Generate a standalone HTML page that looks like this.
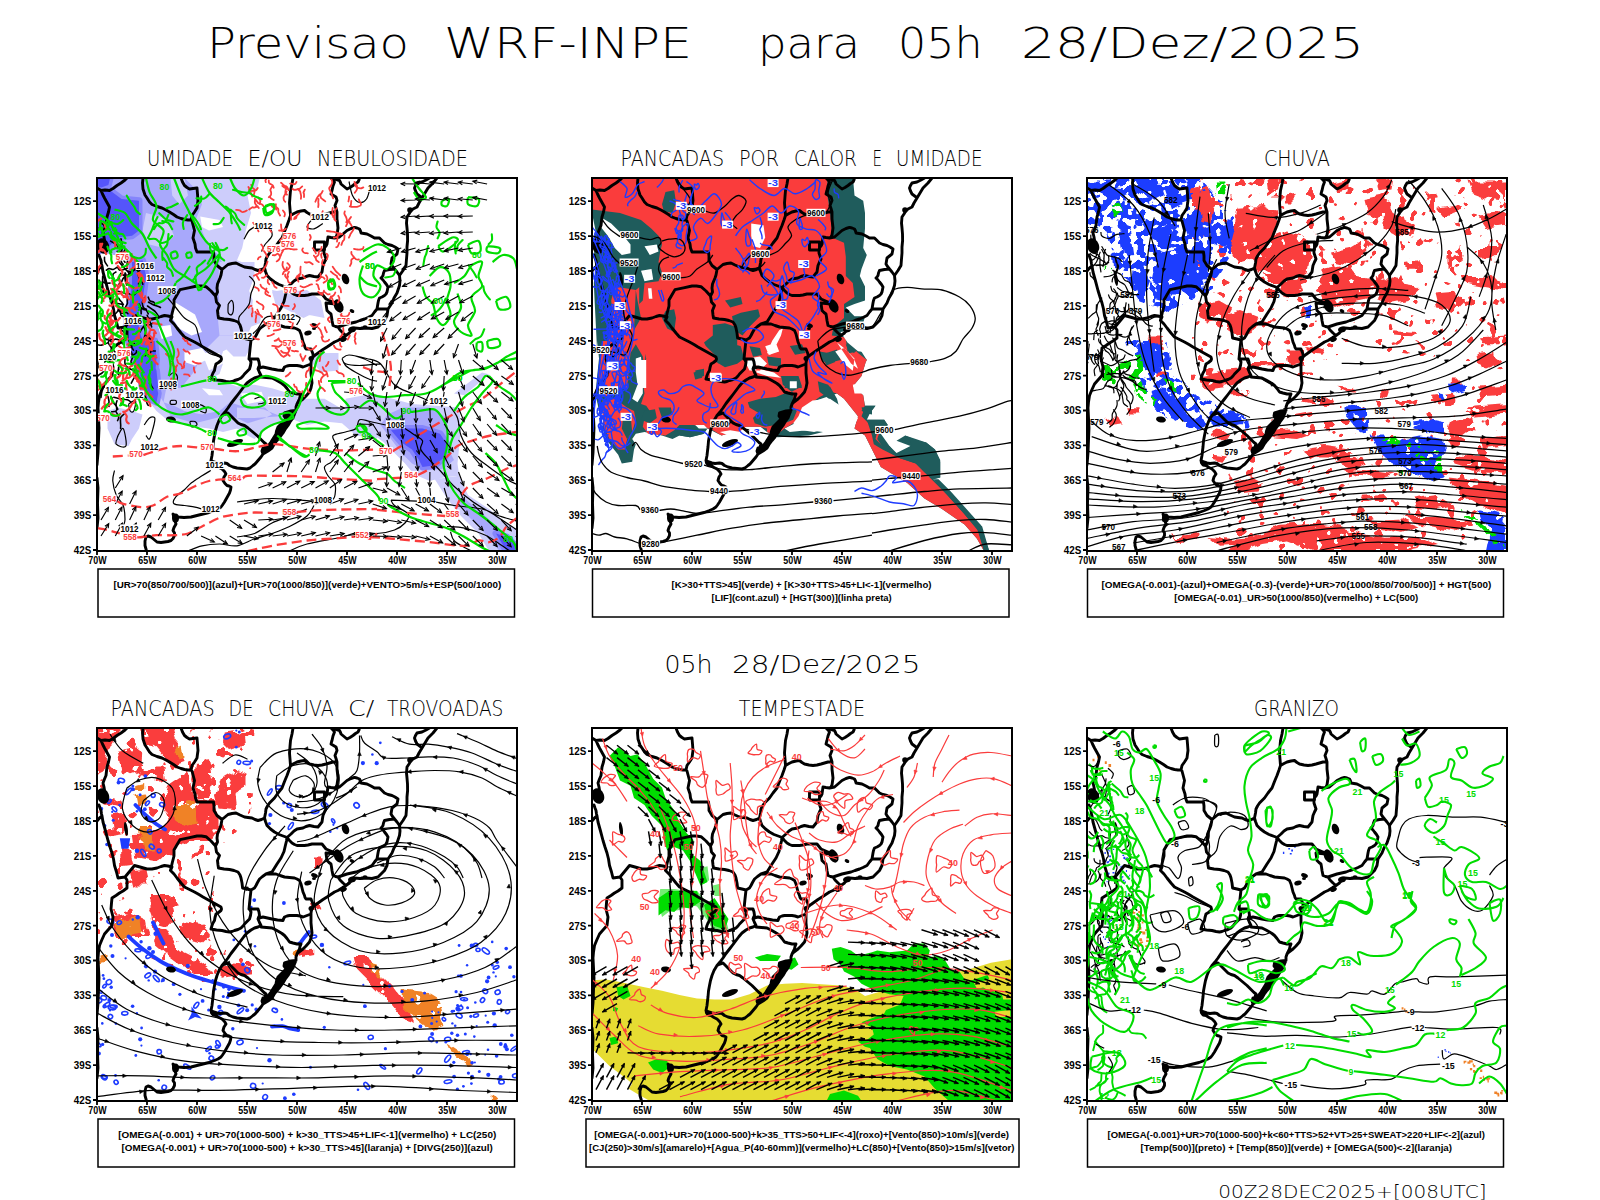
<!DOCTYPE html>
<html lang="pt"><head><meta charset="utf-8"><title>Previsao WRF-INPE</title>
<style>html,body{margin:0;padding:0;background:#fff}svg{display:block}.t{font-family:'DejaVu Sans Light','DejaVu Sans','Liberation Sans',sans-serif;font-weight:200;fill:#000}.b{font-family:'Liberation Sans','DejaVu Sans',sans-serif;font-weight:700;fill:#000}.tk{font-family:'Liberation Sans','DejaVu Sans',sans-serif;font-weight:700;font-size:11px;fill:#000}.lg{font-family:'Liberation Sans','DejaVu Sans',sans-serif;font-weight:700;font-size:9.6px;fill:#000}.cl{font-family:"Liberation Sans","DejaVu Sans",sans-serif;font-weight:700;font-size:8.8px;fill:#000}</style></head><body>
<svg width="1600" height="1200" viewBox="0 0 1600 1200">
<rect width="1600" height="1200" fill="#fff"/>
<defs><clipPath id="cp"><rect x="0" y="0" width="420" height="373"/></clipPath>
<g id="bm" fill="none" stroke="#000" stroke-width="2.9" stroke-linejoin="round" stroke-linecap="round"><path d="M340 0l-4 5-5 5-3 5-3 5-3 5-2 4-4 2-2 1.5-2 3.5-2 3-.5 6 .5 5 .5 6 .1 6.5-.6 6.5 0 6-.5 6-.5 6.5-3 5-3.5 5 .5 5.5-.5 4.5-1.5 4.5-1 3-3 5-2 5-4 6-1 6.5-2.5 5-3.5 3.5-3 3-6 1.5-6-.5-6 .5-5.5-.5-3.5 3-1.5 2-4.5 3-3 2-4 2.5-3.5 1.5-4.5 3-3 2-4 2.5-3.5 2.5-3.5 2.5-3 2.5-1.5 3-.5 3 0 5 0 5 .5 5 .5 5-1 5-1.5 4-3.5 4-3 3-4 3-2 2-1 3 0 3.5-1.5 3.5-1.5 4-3 4-2 3.5-3 4-2 3.5-3 4-3 3.5-3 4-2 3.5-4 3-5 3-2 3-3 3.5-3 3.5-2 1.5-3 2.5-3 1-5-.5-5-.5-4-1-3.5-1.5-2.5-2-2.5-.5-4.5 .5-3-.5-3-1-3-1.5 .5 2.5 1.5 2 3 .5 3 2 3 1.5 2.5 2.5 1.5 2.5-2 3-1 3.5 2 3 2 2 2 .5 2 1-.5 3-1 3-2.5 4.5-2.5 4.5-2 3-1.5 2-3 2-3.5 1.5-5.5 2-6 1.5-6 1.5-6 1.5-7 .5-6-.5-3-1-2-2 1 4 2 6-2 3.5-1 3 1.5 2.5 0 2.5-1.5 3-2 2-3 1-3.5 .5-3.5 .5-4-.5-3-2.5-3-2.5-3-1-2 1-1 4 0 4.5 1 3.5 1 4M199 232.5l-5 .5-6.5 2-.5 3 2 3-4 4-4 4-1.5 4-.5 3-2.5 4-2.5 4-3 4-2 2-3 3M164 197.5l-3 1.5-3.5 1-3.5 2-4 3-3 3.5-3 4-3 4-3.5 4.5-3.5 4.5-3 4.5-3 4-3 3.5-3 5-2 5-1.5 5-1 5-1 5.5-.5 6-.5 4-.5 4.5-.5 2.5-.5 2.5M125 237.5l3-1.5 3-1 2.5 2.5 2.5 2.5 2.5 2.5 2.5 2.5 3 1.5 3.5 1 3.5 2.5 3 2.5 3 2.5 3 2.5 2.5 2.5 2.5 2.5 2 2 2 1.5-1 3-2 1-1 3 1 3M152 181l4 0 5 0 1 3 .5 3.5-1 2-.5 1.5 1.5 3.5 1.5 3M121.5 140l5.5 1 5.5 .5 4.5 1 4 1.5 2 3 1 3 1 5 .6 5 4.4 1 4 1-.5 4.5-.5 4.5-.5 5-.5 5M114 201l5.5 1 5.5 .5 4 1 3.5 .5 2.5-.5 2.5-1 3.5-1 3-1.5 2-2 1.5-2 2.5-2.5 2.5-2.5 1-3.5 .5-3.5-1-2-1-1M73.5 142.4l3.5 3.6 3 4 4 5 3.5 4 5 2.5 5 2.5 4.5 2.5 4 2.5 4.5 2.5 4.5 2.5 4.5 2.5 4.5 2.5 .5 2-.5 1.5-2.5 2-2.5 1.5-1 3.5-.5 3-1.5 2.5-1 2.5-1 3.5M118.5 118l-4.5-5-5-4.3-4.5-.7-4.5 0-8.5 1.8-8.5 1.8-3 5.2-3 5.2 0 6-1.8 7-1.7 7.4M30 0l-2 2-4 3-4 2.5-4 3-3.5 2-4.5-.5-4 .5-4-2.5M46 0l-.5 5 .5 6 2 6 2 3 2.5 4 2.5 2.5 5 2 5 1.5 4 2 3.5 2 4 2.5 3.5 2.5 4 1.5 3.5 1 3.5 .5 3 0 1 1 2.5 9.5-1.5 7.5 2 6 .5 4 1.5 4 8 0 8.5 0 .5 4 0 4.5 3 5 5 4-1 5.5-1 3-2.5 6-.5 4 .5 4-2 4 1 6 3 3.5-2 5 .5 4.5 .5 3M84 0l1.5 4 2 3.5 2.5 2 2.5 1.5 3.5-.5 4-.5 .5 6 .5 6.5-.5 3.5-.5 4-2.5 4-2.5 3.5-1 4.5M4 12.5l1.5 3.5 2 4 2.5 4.5 2.5 4.5-1 5-1.5 5-.5 4-.5 4.5-1.5 3.5-1.5 4 1 4 .5 3.5-2.5 2-2.5 1.5M2 77l1 3 1 2.5 .5 3.5 .5 2 .5 3 .5 3 2.5 9 2.5 9.5 2 6.5 2 6 1.5 6 1 6.5 2 6.5 1.5 6 7-1M5 88l-2.5 2-2.5 3M28 149l2 3 0 8-4 3-3.5 2-3.5 2.5-4 2.5-.5 5-.5 6 1 4 1 4-.5 4-.5 4.5-4 4.5-3.5 4-2.5 5.5-2.5 6-1 6.5-.5 6 .5 10 .5 10-.5 12-.5 13-.5 6-.5 6M0 300l1 10-.5 15 .5 15-1 10M28 149l5-6 4.5-5.5 5.5 1.5 7 2 5 0 5-1 4-1.5 3.5-1 3.5 .5 4 1-1.5 3.4M125 91.5l3-2.5 3-2.5 4-1 4-.5 4 2 4.5 2 3.5 .5 4 .5 3 1.5 3 1 3.5-1 3-1.5M167.5 90l1 3.5 1.5 4 3.5 3.5 4 3 4.5 2.5 5.5 2 2.5 1M167.5 90l1-5 .5-4 1.5-3 2-3 2.5-2.5 2.5-2.5 3.5-5 4-5 2.5-6.5 2.5-6 2-5.5 1.5-4.5-.5-6.5-.5-6 .5-6.5 .5-6 1.5-6.5 1-6M190 109.5l-.5 3.5-1 4-1.5 6.5-3 6.5-4 6-2.5 4-2.5 4-3 1-3 1-3.5 2.5-3 2.5-2 3.5-1.5 3-1.5 2.5-3.5 2M190 109.5l4-3.5 3-3 3-2 3-.5 3-.5 3-1.5 3.5-1 4.5 1 4 .5 2-2.5 2-2.5 .5-3.5 .5-3 1.5-3.5 1.5-3-1-3-1-3 0-2.5 .5-2.5 1.5-2 1-2 .5-3.5 .5-3.5 3 .5 3.5 .5M190 109.5l2 2.5 3 3 2.5 1.5 2.5 1 4 0 3.5 0 3.5-.5 4-1 5 0 5 0 2 2.5 2 2.5 3.5 1.5 3.5 1.5 3 2-5-.5-5-.5 .5 4 .5 3.5 2 2 2 1.5 .5 3 .5 3.5 .5 2.5 .5 2.5 2.5 1 2.5 .5M241 149l4.5-1.5 4.5-1.5 4.5-1 4.5-1 4-1.5 4.5-1.5 3.5-1.5 4-2 2.5-3.5 2.5-3M241 149l2 3 3 3 3 2.5 3.5-2.5M297.5 91l-5 .5-5 1-1 2.5-.5 2.5-1 1.5-1 1 2 2 1.5 2 2 2.5 1.5 2.5-.5 2.5-.5 2.5-1 2-1.5 1.5-2.5 1.5-2.5 1-1 2.5-.5 2.5-.5 3-.5 3 3.5 0 4 0 3.5 0M237.5 60l2.5-.5 2.5-.5 3.5-3 4-3.5 4-2 3.5-1.1 2.5 .6 2.5 1 1 2 .5 2 3 .5 3 .5 4 2 3.5 2 2.5 0 2.5 0 2.5 2.5 2.5 2.5 3.5 1.5 4 1 3 1.5 3 2-.5 2.5-.5 2.5-2.5 2-2.5 2-.5 3-.5 3 1.5 2.5 2 2.5 2.5 3 2.5 3.5M237.5 60l1.5-1 1-2 .5-3.5 .5-3.5-.5-4.5-.5-4.5 0-3.5 0-3.5-1-3.5-1-3 1-2.5 1-2.5-.5-2-.5-1.5-2.5-1.5-2.5-1.5 .5-2 .5-1.5 1-4.5 1.5-4-1.5-2-2-2M234 0l4 1 4.5 1.5 1 2 .5 1.5 3 2.5 3 2.5 3-1.5 3-2 2.5-2 2.5-1.5 1-2 .5-2M193.5 37.5l3.5-2 3-1.5 4-1 3.5-.5 2.5 2 2.5 1.5 4.5 1 4 .5 4-.5 4-1 3.5-1 3.5-1 4 0M332.5 0l-3.5 2-4 2-2.5 .5-2.5 .5-1.5 2.5-1 2.5 1 3 1.5 3 2 1.5 2 1.5M169 146l5 0 5 0 4 1.5 4.5 1.5 5 .5 5 .5 2.5 1 2.5 1.5 1.5 3.5 1 4 1 4 1.5 3.5 .5 2 1 1.5 2.5 0 2.5 0 1 2.5 1 2.5 0 3M214 186l-4 1.5-4 1.5-3-1-3-.5-4 0-3.5 0-2.5 .5-2.5 1-1 2-.5 1.5-5.5-.5-5.5-1-4.5-1-4.5-1-2 .5-1.5 .5M164 199l5.5 .5 5.5 .5 4 2 3.5 2 2.5 1.5 2.5 2 2.5 3 2.5 3.5 3.5 1 4 1 2 0 2 0-1 2.5-.5 2.5-2.5 5M217.5 64l10 0 0 8-10 0z"/><path d="M199 232.5l-1.5 3.5-1.5 4-3 4-2 3.5-3 4-2 3.5-3 4-3 3.5-3 4-2 3.5-4 3-5 3 0-3 3-3 2-2 3-4 2.5-4 2.5-4 .5-3 1.5-4 4-4 4-4-2-3 .5-3 6.5-2z" fill="#000" stroke="none"/><ellipse cx="6" cy="68" rx="6" ry="8" fill="#000" stroke="none" transform="rotate(-20 6 68)"/><ellipse cx="29" cy="101" rx="1.8" ry="7" fill="#000" stroke="none" transform="rotate(-8 29 101)"/><ellipse cx="74" cy="241.5" rx="5" ry="3" fill="#000" stroke="none" transform="rotate(10 74 241.5)"/><ellipse cx="138" cy="265" rx="8.5" ry="3" fill="#000" stroke="none" transform="rotate(-20 138 265)"/><ellipse cx="248.5" cy="101" rx="3.5" ry="5.5" fill="#000" stroke="none" transform="rotate(-20 248.5 101)"/><ellipse cx="241.5" cy="128" rx="4.5" ry="7" fill="#000" stroke="none" transform="rotate(-25 241.5 128)"/><ellipse cx="255" cy="133" rx="2.5" ry="1.8" fill="#000" stroke="none" transform="rotate(30 255 133)"/><ellipse cx="217.5" cy="147.5" rx="3.5" ry="2.2" fill="#000" stroke="none" transform="rotate(20 217.5 147.5)"/><ellipse cx="211" cy="155" rx="3.8" ry="2.4" fill="#000" stroke="none" transform="rotate(-15 211 155)"/><ellipse cx="255" cy="151.5" rx="4" ry="3" fill="#000" stroke="none" transform="rotate(-20 255 151.5)"/><ellipse cx="268" cy="149" rx="2.5" ry="1.8" fill="#000" stroke="none" transform="rotate(0 268 149)"/><ellipse cx="246.5" cy="161.5" rx="3.5" ry="2.2" fill="#000" stroke="none" transform="rotate(-25 246.5 161.5)"/><ellipse cx="214" cy="180.5" rx="2.5" ry="2.5" fill="#000" stroke="none" transform="rotate(0 214 180.5)"/><ellipse cx="78.5" cy="340" rx="3.5" ry="4.5" fill="#000" stroke="none" transform="rotate(0 78.5 340)"/><ellipse cx="313" cy="32" rx="2.8" ry="2.8" fill="#000" stroke="none" transform="rotate(0 313 32)"/><ellipse cx="217" cy="150.5" rx="2" ry="1.5" fill="#000" stroke="none" transform="rotate(0 217 150.5)"/><ellipse cx="265" cy="150" rx="2" ry="1.5" fill="#000" stroke="none" transform="rotate(0 265 150)"/></g>
<filter id="fd" x="0" y="0" width="420" height="373" filterUnits="userSpaceOnUse"><feTurbulence type="fractalNoise" baseFrequency="0.07" numOctaves="2" seed="4" result="w"/><feDisplacementMap in="SourceGraphic" in2="w" scale="10" xChannelSelector="R" yChannelSelector="G" result="g"/><feTurbulence type="fractalNoise" baseFrequency="0.11" numOctaves="2" seed="5" result="n"/><feColorMatrix in="n" type="matrix" values="0 0 0 0 0 0 0 0 0 0 0 0 0 0 0 -40 0 0 0 28.3" result="m"/><feComposite in="g" in2="m" operator="in"/></filter>
<filter id="fm" x="0" y="0" width="420" height="373" filterUnits="userSpaceOnUse"><feTurbulence type="fractalNoise" baseFrequency="0.07" numOctaves="2" seed="6" result="w"/><feDisplacementMap in="SourceGraphic" in2="w" scale="9" xChannelSelector="R" yChannelSelector="G" result="g"/><feTurbulence type="fractalNoise" baseFrequency="0.12" numOctaves="2" seed="8" result="n"/><feColorMatrix in="n" type="matrix" values="0 0 0 0 0 0 0 0 0 0 0 0 0 0 0 -40 0 0 0 20.5" result="m"/><feComposite in="g" in2="m" operator="in"/></filter>
<filter id="fs" x="0" y="0" width="420" height="373" filterUnits="userSpaceOnUse"><feTurbulence type="fractalNoise" baseFrequency="0.07" numOctaves="2" seed="7" result="w"/><feDisplacementMap in="SourceGraphic" in2="w" scale="4" xChannelSelector="R" yChannelSelector="G" result="g"/><feTurbulence type="fractalNoise" baseFrequency="0.10" numOctaves="2" seed="9" result="n"/><feColorMatrix in="n" type="matrix" values="0 0 0 0 0 0 0 0 0 0 0 0 0 0 0 -40 0 0 0 13.8" result="m"/><feComposite in="g" in2="m" operator="in"/></filter>
</defs>
<text x="207" y="57.5" class="t" font-size="42" textLength="202" lengthAdjust="spacingAndGlyphs">Previsao</text>
<text x="444" y="57.5" class="t" font-size="42" textLength="248" lengthAdjust="spacingAndGlyphs">WRF-INPE</text>
<text x="758" y="57.5" class="t" font-size="42" textLength="102" lengthAdjust="spacingAndGlyphs">para</text>
<text x="898" y="57.5" class="t" font-size="42" textLength="84.5" lengthAdjust="spacingAndGlyphs">05h</text>
<text x="1021" y="57.5" class="t" font-size="42" textLength="343" lengthAdjust="spacingAndGlyphs">28/Dez/2025</text>
<text x="664.5" y="672.5" class="t" font-size="24" textLength="48" lengthAdjust="spacingAndGlyphs">05h</text>
<text x="732" y="672.5" class="t" font-size="24" textLength="188.5" lengthAdjust="spacingAndGlyphs">28/Dez/2025</text>
<text x="1218.3" y="1197.5" class="t" font-size="17.6" textLength="268.2" lengthAdjust="spacingAndGlyphs">00Z28DEC2025+[008UTC]</text>
<text x="147" y="166.3" class="t" font-size="20.6" textLength="86" lengthAdjust="spacingAndGlyphs">UMIDADE</text>
<text x="247.5" y="166.3" class="t" font-size="20.6" textLength="55" lengthAdjust="spacingAndGlyphs">E/OU</text>
<text x="317" y="166.3" class="t" font-size="20.6" textLength="151" lengthAdjust="spacingAndGlyphs">NEBULOSIDADE</text>
<g transform="translate(97,178)">
<g clip-path="url(#cp)">
<path d="M0 0l162.8 0-5.3 17.5-3.5 17.5-5.2 17.5-3.6 17.5-5.2 12.2 14 5.3 3.5 10.5-5.3 14-1.7 10.5 3.5 10.5 10.5 3.5-1.7 8.7-8.8 3.6-3.5 8.7 3.5 10.5-5.2 10.5-12.3 0-7-7-7 3.5 3.5 10.5-3.5 10.5-10.5 5.2-7 8.8-59.5 0-3.5-17.5-7-17.5-5.2-17.5 0-17.5 3.4-17.5 1.8-17.5 0-21-17.5-7-17.5-3.5zM192.5 113.8l17.5-1.8 14 10.5 3.5 17.5-17.5-3.5-10.5-7zM175 113.8l10.5-1.8 3.5 10.5-10.5 3.5zM217 175l24.5 0 0 17.5-17.5 1.7-7-8.7zM57.8 163l64.7 0 3.5 10.5-3.5 10.5-10.5 5.2-7 8.8 17.5 3.5 17.5 7 17.5-1.7 17.5 3.4 17.5 5.3 14 5.3 21 0 21 12.2 24.5 10.5 7 1.7 0 15.8-21-3.5-14-12.3-17.5-1.7-17.5 3.5-17.5-7-10.5 5.2-14 5.3-10.5 10.5-7-3.5-10.5-7-14 3.5-14-3.5-14-1.7-14-3.6-14-3.4-10.5-8.8-7-8.8-7-17.4-1.7-26.3 1.7-17.5zM10.5 233l10.5-3.5 14 3.5 10.5 3.5-3.5 14-7 10.5-3.5 7-14-1.8-7-15.7zM248.5 220.8l28-5.3 38.5 10.5 47.2 3.5 1.8 21-3.5 35 1.7 12.3-15.7 1.7-14 3.5-15.7-7-8.8-10.5-10.5-10.5-10.5-10.5-14-10.5-10.5-8.8-14-12.2zM337.8 301.2l24.4-3.4 8.8 19.2 21 14 17.5 14 10.5 7 0 21-28 0-10.5-17.5-17.5-17.5-14-17.5zM357 215.5l28-21 7 1.7-24.5 21zM217 177l14 1.8 7 12.2-14 3.5-7-8.7zM140 220.8l17.5 1.7 17.5 3.5 17.5 10.5-8.7 7-17.6-1.7-17.4 3.4-8.8 0zM140 0l22.8 0-5.3 21-7 14-5.3 22.8-5.2 12.2zM140 98l10.5 10.5 5.3 14-1.8 17.5-7 10.5-7 7zM175 112l17.5 3.5 10.5 7 10.5 14-7 3.5-14-7-14-7zM217 178.5l14 3.5 7 10.5-14 0-8.8-7z" fill="#cdcdfb"/><path d="M0 0l87.5 0 10.5 10.5 7 15.7-7 17.6 7 8.7 7 17.5 10.5 7 3.5 10.5-3.5 10.5-1.7 10.5 1.7 14-1.7 17.5 12.2 1.8 8.8 7-1.8 8.7-17.5 0-10.5 10.5-7 7-7 17.5-14 17.5-22.8 0-1.7-17.5-7-17.5-8.7-17.5-3.6-17.5 5.3-17.5 3.5-24.5-3.5-15.8-10.5 1.8-17.5-7-17.5-3.5zM57.8 163l17.4 0 1.8 14-7 29.8-3.5 17.4 7 14 24.5 7 21-5.2 14-3.5 17.5 8.7 17.5-5.2 7-3.5-7-7-19.2 0-15.8-5.3-10.5 8.8-17.5 3.5-17.5-3.5-10.5-5.2-10.5-3.6-5.3-8.7-1.7-17.5zM290.5 236.5l15.7-7 26.3 0 17.5 10.5 0 28 7 14-10.5 8.8-17.5 1.7-14-7-10.5-10.5-10.5-14-10.5-14zM360.5 320.5l7 0 21 17.5 17.5 17.5 10.5 17.5-14 0-17.5-21-17.5-17.5zM140 229.5l26.2 1.7 17.6 7-26.3 1.8-17.5 0z" fill="#a8a8fb"/><path d="M73.5 0l14 0 3.5 17.5-8.8 8.7-7-8.7zM49 35l21 5.2 7 17.6-10.5 12.2-14-3.5-7-14zM122.5 84l35 0 0 14-5.3 14-1.7 10.5 3.5 10.5-3.5 15.8-10.5 8.7-17.5 0-1.7-17.5 1.7-17.5-1.7-14z" fill="#cdcdfb"/><path d="M0 14l10.5-3.5 14 10.5 17.5 1.8 0 29.7-7 5.3-14 1.7-10.5 10.5-10.5 3.5zM0 0l13.1 0-1.7 7-7 2.6-4.4-.8zM35 84l10.5-1.8 3.5 15.8-3.5 24.5-5.3 17.5 3.6 17.5 8.7 17.5 7 17.5 1.7 17.5-15.7 0-3.5-17.5-7-17.5-5.2-17.5 0-17.5 3.4-17.5 1.8-17.5zM45.5 163l12.3 0 1.7 17.5-1.7 17.5 3.4 17.5-1.7 8.7-7-3.4-5.3-14-3.4-17.6zM294 252.2l14-1.7 17.5 0 17.5 5.3 7 10.4-1.8 12.3-10.4 8.7-12.3 1.8-3.5-7-7-10.5-10.5-7zM399 355.5l10.5 3.5 10.5 10.5 0 3.5-10.5 0z" fill="#8585fb" stroke="#8585fb" stroke-width="7" stroke-linejoin="round"/><path d="M0 14l10.5-3.5 14 10.5 17.5 1.8 0 29.7-7 5.3-14 1.7-10.5 10.5-10.5 3.5zM0 0l13.1 0-1.7 7-7 2.6-4.4-.8zM35 84l10.5-1.8 3.5 15.8-3.5 24.5-5.3 17.5 3.6 17.5 8.7 17.5 7 17.5 1.7 17.5-15.7 0-3.5-17.5-7-17.5-5.2-17.5 0-17.5 3.4-17.5 1.8-17.5zM45.5 163l12.3 0 1.7 17.5-1.7 17.5 3.4 17.5-1.7 8.7-7-3.4-5.3-14-3.4-17.6zM294 252.2l14-1.7 17.5 0 17.5 5.3 7 10.4-1.8 12.3-10.4 8.7-12.3 1.8-3.5-7-7-10.5-10.5-7zM399 355.5l10.5 3.5 10.5 10.5 0 3.5-10.5 0z" fill="#5555fa"/><path d="M75.2 122.5l22.8 14 7 17.5-10.5 3.5-12.3-7-7-10.5zM105 175l17.5 0 3.5 10.5-14 7zM103.2 38.5l19.3 3.5 3.5 7-14 3.5-7-3.5zM61.2 148.8l12.3-1.8 1.7 10.5-10.4 3.5zM150.5 17.5l12.3-7 0 17.5-8.8 7zM105 210.2l17.5 1.8 3.5 5.2-14 0zM143.5 215.5l21-1.7 3.5 8.7-17.5 3.5zM192.5 201.5l10.5 3.5-3.5 10.5-8.7-1.7zM87.5 173.5l17.5-3.5 7 10.5-14 7-10.5-3.5z" fill="#fff"/><use href="#bm"/><path d="M17.5 292.5c-.3 1.7-2 6.4-1.7 10.5 .3 4.1 1.7 9.9 3.4 14 1.7 4.1 5.5 6.4 7 10.5 1.5 4.1 1.8 10.5 1.8 14 0 3.5-1.5 5.8-1.8 7M113.8 292.5c-1.5 .9-5.6 3.3-8.8 5.3-3.2 2.1-7.6 4.7-10.5 7-2.9 2.3-4.4 4.7-7 7-2.6 2.3-7 4.7-8.7 7-1.8 2.3-3.3 5.6-1.8 7 1.5 1.4 7 1.1 10.5 1.7 3.5 .6 7.6 1.1 10.5 1.7 2.9 .6 5.8 1.5 7 1.8M140 324c5.8-.6 22.5-3.4 35-3.5 12.5-.1 33.5 2.2 40.2 2.6M236.2 321.4c.3-.7 1.5-1.9 1.8-4.4 .3-2.5 1.2-7.3 0-10.5-1.2-3.2-5.2-5.8-7-8.7-1.8-2.9-4.1-6.5-3.5-8.8 .6-2.3 4.7-2.9 7-5.2 2.3-2.3 6.4-5.6 7-8.8 .6-3.2-2.6-7.6-3.5-10.5-.9-2.9-3.6-5.3-1.8-7 1.7-1.7 8.5-2.3 12.3-3.5 3.8-1.2 8.2-1.5 10.5-3.5 2.3-2 1.2-7.5 3.5-8.7 2.3-1.2 6.1 .8 10.5 1.7 4.4 .9 13.2 2.9 15.8 3.5M308 250.5c1.8 1.2 7.6 4.9 10.5 7 2.9 2.1 6.1 3 7 5.3 .9 2.3-2.9 5.5-1.7 8.7 1.2 3.2 5.5 7 8.7 10.5 3.2 3.5 6.4 6.1 10.5 10.5 4.1 4.4 8.5 10.4 14 15.7 5.5 5.2 12.2 10.8 19.2 15.8 7 5 15.5 9.3 22.8 14 7.3 4.7 17.5 11.7 21 14M245 180.5c1.2-.6 2.9-3.5 7-3.5 4.1 0 12.2 2 17.5 3.5 5.3 1.5 9.3 .9 14 5.3 4.7 4.4 8.7 16.1 14 21 5.3 5 11.9 6.1 17.5 8.7 5.6 2.6 13.2 5.8 15.8 7M245 180.5c.6 .9 .6 4.1 3.5 5.3 2.9 1.2 8.2 1.7 14 1.7 5.8 0 17.5-1.4 21-1.7M352.6 227.8c1.3 2 6 7.3 7.9 12.2 1.9 4.9 1.2 11.7 3.5 17.5 2.3 5.8 5.8 12.3 10.5 17.5 4.7 5.2 11.7 9.6 17.5 14 5.8 4.4 12.8 9.3 17.5 12.2 4.7 2.9 8.7 4.4 10.5 5.3M294 322.2l26.2 .9M338.6 324c3.1 .6 10.7 2.3 18.4 3.5 7.7 1.2 20.4 1.7 28 3.5 7.6 1.8 11.7 5 17.5 7 5.8 2 14.6 4.3 17.5 5.2M294 322.2c.6 .9 .6 3 3.5 5.3 2.9 2.3 12.3 5.8 14 8.7 1.7 2.9-1.2 6.2-3.5 8.8-2.3 2.6-5.8 5.2-10.5 7-4.7 1.8-11.7 3.2-17.5 3.5-5.8 .3-11.7-2.3-17.5-1.7-5.8 .6-8.7 3.2-17.5 5.2-8.8 2-26.2 4.7-35 7-8.8 2.3-14.6 5.8-17.5 7M140 359c2.9-.6 11.7-1.2 17.5-3.5 5.8-2.3 11.7-7.6 17.5-10.5 5.8-2.9 11.7-4.7 17.5-7 5.8-2.3 14.6-5.8 17.5-7M91 373c2.3-.9 8.8-4 14-5.2 5.2-1.2 11.7-1.8 17.5-1.8 5.8 0 11.7 2.7 17.5 1.8 5.8-.9 11.7-4.9 17.5-7 5.8-2 11.7-3.2 17.5-5.3 5.8-2.1 11.7-4.1 17.5-7 5.8-2.9 13.4-7 17.5-10.5 4.1-3.5 5.8-8.8 7-10.5M353.5 353.8c.6 1.4 1.2 6.1 3.5 8.7 2.3 2.6 7.6 5.3 10.5 7 2.9 1.7 5.8 2.9 7 3.5M350 348.5c2.9 .3 11.1 .3 17.5 1.7 6.4 1.4 15.2 4.4 21 7 5.8 2.6 9.9 6.2 14 8.8 4.1 2.6 8.7 5.8 10.5 7M147 61.2c.9-1.4 2.9-6.4 5.2-8.7 2.3-2.3 7.3-4.4 8.8-5.3M173.2 49c.3 1.5 2.7 5.9 1.8 8.8-.9 2.9-5.2 6.1-7 8.7-1.8 2.6-2.9 5.8-3.5 7M214.4 42c-.7 1.2-4.8 5.5-4.4 7 .4 1.5 4.4 2.4 7 1.8 2.6-.6 7.3-4.4 8.8-5.3M252 3.5c.6 2.3 1.8 10.5 3.5 14 1.7 3.5 4.7 6.4 7 7 2.3 .6 5.3-1.2 7-3.5 1.7-2.3 2.9-8.8 3.5-10.5M152.2 98c.9 1.2 5 4.1 5.3 7 .3 2.9-2.6 7-3.5 10.5-.9 3.5-.6 7.6-1.8 10.5-1.2 2.9-3.5 4.7-5.2 7-1.7 2.3-4.6 4.1-5.2 7-.6 2.9 1.1 7.9 1.7 10.5 .6 2.6 1.4 4.4 1.7 5.3M155.8 155.8c.9-.9 3.2-2.7 5.2-5.3 2-2.6 4.7-8.4 7-10.5 2.3-2.1 5-1.8 7-1.8 2 0 4.3 1.5 5.2 1.8M196 136.5c1.2 .6 6.4 1.7 7 3.5 .6 1.8-2.9 5.8-3.5 7M70 119c1.5 1.8 5.9 7 8.8 10.5 2.9 3.5 5.5 7.6 8.7 10.5 3.2 2.9 8.2 4.1 10.5 7 2.3 2.9 2.3 7 3.5 10.5 1.2 3.5 1.7 7.6 3.5 10.5 1.8 2.9 4.1 5.2 7 7 2.9 1.8 8.8 2.9 10.5 3.5M131.2 126c.6-.6 2.7-4.1 3.6-3.5 .9 .6 1.7 4.7 1.7 7 0 2.3-.8 6.1-1.7 7-.9 .9-3 .1-3.6-1.7-.6-1.7 0-7.3 0-8.8M245 180.5c1.2-.6 3.5-3.5 7-3.5 3.5 0 9.3 1.8 14 3.5 4.7 1.7 11.7 5.8 14 7M245 180.5c.6 1.2 1.2 4.7 3.5 7 2.3 2.3 6.4 4.7 10.5 7 4.1 2.3 10.5 5.6 14 7 3.5 1.4 5.8 1.4 7 1.7M31.5 226c1.2-.6 6.1-4.7 7-3.5 .9 1.2-.8 8.7-1.7 10.5-.9 1.8-2.7 1.2-3.6 0-.9-1.2-1.4-5.8-1.7-7M21 257.5c.9-1.2 3.9-8.7 5.2-7 1.3 1.7 3.9 14.9 2.7 17.5-1.2 2.6-8.4-.1-9.7-1.8-1.3-1.8 1.5-7.3 1.8-8.7M47.2 247c.9-1.2 3.5-5.8 5.3-7 1.8-1.2 4.7-1.8 5.3 0 .6 1.8-.9 7-1.8 10.5-.9 3.5-2.3 9.3-3.5 10.5-1.2 1.2-2.9-2.9-3.5-3.5M71.8 198c.9-.6 3.7-3.8 5.2-3.5 1.5 .3 3.5 3 3.5 5.3 0 2.3-2.3 7.5-3.5 8.7-1.2 1.2-2.9-1.4-3.5-1.7M101.5 226c1.2 .6 5.8 2 7 3.5 1.2 1.5 .9 4.7 0 5.3-.9 .6-4.4-1.5-5.3-1.8M157.5 220.8c1.2-.3 5.3-2.4 7-1.8 1.7 .6 4.1 4 3.5 5.2-.6 1.2-5.8 1.5-7 1.8M92.8 243.5c.9 0 4-.6 5.2 0 1.2 .6 2.4 2.6 1.8 3.5-.6 .9-4.1 2.4-5.3 1.8-1.2-.6-1.4-4.4-1.7-5.3M73.5 222.5c.9 0 4.4-.6 5.3 0 .9 .6 .9 2.9 0 3.5-.9 .6-4.4 .6-5.3 0-.9-.6 0-2.9 0-3.5" fill="none" stroke="#000" stroke-width="1.2"/><path d="M185.9 32.4c.3 .5 1.8 2 2 3 .3 1-.4 2.4-.5 2.9M173.1 18.5c.1 .3 0 1 .6 1.6 .6 .6 2.5 1.6 3 1.9M174.1 134.9c.1 .5 .6 2.1 .8 2.9 .2 .8 .2 1.4 .3 2 .1 .6 .3 .9 .5 1.7 .2 .8 .4 2.4 .5 2.9M213.6 146.6c.4 .3 1.4 1.8 2.3 2.1 .9 .3 2.2 0 2.9-.2 .7-.2 .7-.5 1.3-1 .6-.5 2-1.7 2.4-2.1M184.8 125.9c.2 .3 .5 1.3 1.3 1.6 .8 .3 2.5 .3 3.5 .4 1 .1 1.8 .2 2.2 .2M188.2 96.5c0 .3-.3 1.1 .1 1.8 .4 .7 1.8 2.2 2.2 2.6M205.2 8.4c-.4 .3-1.5 1.5-2.2 2-.7 .5-1.3 .5-2.1 .8-.8 .2-2 .7-2.9 .7-.9 0-2.1-.7-2.5-.9M225.7 13c-.3 .4-.9 1.9-1.5 2.6-.6 .7-1.4 .8-2.1 1.5-.7 .8-1.6 1.9-2.2 3-.6 1.1-1.2 3-1.5 3.6M219.5 106.1c.2 .2 1.1 .5 1.4 1.1 .3 .6 .4 1.7 .6 2.4 .2 .7 .5 1.4 .6 1.7M212.3 189.9c-.1 .4-.1 1.6-.5 2.2-.4 .6-1.4 .5-1.9 1.4-.5 .9-1 2.9-1.1 3.8-.1 .9 .3 1.6 .4 1.9M175.3 104.3c.2 .3 .8 1.1 1.2 1.8 .4 .7 .6 2 1.1 2.6 .5 .6 1.7 1 2 1.2M224.6 159.1c.2 .6 .5 2.6 1.1 3.3 .5 .8 1.3 1.1 2.2 1.2 .9 .1 2.3-.4 3-.7 .7-.3 1-1 1.2-1.2M167 73.1c.3 .4 1.1 1.4 1.7 2.4 .5 1 1.3 2.9 1.6 3.5M156.2 44.7c.2 .3 .6 1.5 1.1 1.9 .6 .4 1.6 .1 2.2 .8 .6 .7 .8 2.5 1.1 3.5 .3 1 .7 2.1 .9 2.5M158 22c0 .4-.3 1.8-.1 2.7 .2 .9 .6 1.5 1.3 2.4 .6 .9 2.2 2.4 2.6 2.9M228.7 196.5c-.5 .4-2.4 1.5-3.2 2.4-.8 .9-1.4 1.9-1.6 2.8-.2 .9 .2 2 .3 2.4M238.3 114.5c-.2 .5-.8 1.9-1.5 2.7-.7 .8-2.2 1.3-2.9 1.9-.7 .6-.8 1.4-1 1.7M194.9 172.7c.4 .1 1.6 .5 2.3 .6 .6 .1 1-.3 1.6-.3 .6 0 1.8 .3 2.1 .4M173.8 48.8c-.2 .4-1.1 1.6-1 2.5 .1 .8 1.3 2.2 1.5 2.6M254.4 74c0 .3-.2 1.1 .1 1.8 .3 .7 1.2 1.7 1.9 2.6 .7 .9 1.6 2.3 2.5 2.8 .9 .5 2.5 .3 3 .3M258.7 155.2c-.2 .6-1 2.8-1.1 3.7 0 .9 .8 1.2 .8 1.8 0 .6-.8 1-.7 1.8 .1 .8 .9 2.7 1.1 3.3M224.9 75.3c-.1 .2-.8 .6-.8 1.4 0 .8 .5 2.7 .6 3.2M235.7 29.9c-.1 .6-.4 2.7-.3 3.6 .1 .9 .5 1.7 .6 2M176.1 126.1c.6 .2 2.6 .6 3.4 1.3 .8 .7 1.3 2 1.5 3 .2 1-.2 2.6-.2 3.1M208.5 177.8c-.2 .4-1.1 1.9-1.4 2.5-.3 .7-.5 1.2-.6 1.4M169.4 .8c-.2 .3-.9 1-1 1.6-.1 .6 .3 1.5 .4 1.8M227.8 114.1c.5 .4 2.1 2 2.9 2.3 .8 .3 1.7-.3 2-.3M159.4 97.2c.2 .4 1 1.5 1.4 2.3 .4 .8 1.1 2 1.3 2.4M229 97.3c.2 .4 1.2 1.5 1.3 2.4 .1 .9 .1 2-.5 2.8-.6 .8-2.7 1.8-3.2 2.2M252.5 43.6c.1 .3 .2 1.2 .4 1.7 .3 .5 .8 .8 1.1 1.3 .3 .5 .6 1.3 .7 1.5M239.7 192.9c.4 .3 1.5 1.7 2.2 2.1 .7 .4 1.5 0 2.2 .3 .7 .3 1.8 .9 2.2 1.4 .5 .5 .4 1.4 .5 1.7M167 143.6c.2 .4 .6 1.7 1.1 2.3 .5 .6 1.5 .7 2 1.3 .5 .6 .9 1.4 1.2 2 .3 .6 .6 1.1 .7 1.3M199.5 3.9c-.2 .3-.6 1.5-1.1 1.9-.5 .4-1.1 .5-1.7 .5-.6 0-1.3-.6-1.9-.7-.6-.1-1.4 0-1.7 0M254 39c-.3 .5-1.5 1.9-2.1 3-.6 1.1-1.1 2.5-1.6 3.5-.5 1-1.1 2.2-1.3 2.6M205.9 70.3c-.1 .3-.8 1.3-.7 1.9 .1 .6 .7 1.3 1.1 1.8 .4 .5 .8 .8 1.5 1 .8 .2 2.5 .2 3 .3M178.9 26.2c0 .4-.3 1.7 .1 2.5 .4 .8 1.8 1.2 2.2 2.1 .4 .9-.2 2.1 .1 3.2 .3 1.1 1.5 2.9 1.8 3.5M221.6 114.2c.4 .2 1.6 1.2 2.4 1.3 .8 .1 1.7-.3 2.2-.8 .5-.5 .6-1.7 .7-2M233.8 118.5c.2 .3 .8 .9 1.2 1.7 .4 .8 .7 2 1 3 .3 1 .7 2.5 .8 3M184 46.3c.1 .6 .1 2.4 .3 3.5 .2 1.1 .6 2.5 .7 3M188.7 11.7c-.1 .5-.5 2.2-.3 3 .2 .8 1.3 1.7 1.6 2M225.8 81.9c-.1 .5-.7 2.2-.8 2.9-.1 .7 0 1.1 .4 1.5 .4 .4 1.7 .7 2 .9M190.6 70.7c-.4 .1-1.4 .1-2.1 .3-.7 .2-1.5 .5-2.1 .8-.6 .3-1 .7-1.2 .9M203.5 108.1c.6 .2 2.2 1.2 3.3 1.2 1.1 0 2.4-.7 3.4-1.1 1-.4 1.8-1.1 2.6-1.4 .8-.3 1.8-.4 2.2-.5M247.8 33.4c-.1 .4-.6 1.4-.4 2.4 .2 1 1.4 2.5 1.8 3.6 .4 1.1 .7 2.4 .7 3.2 0 .8-.5 1.3-.6 1.5M252.4 134.9c-.1 .3-.1 1.1-.6 1.7-.5 .6-1.2 1.5-2.2 1.8-1 .3-2.5 .4-3.5 .2-1-.3-2-1.4-2.4-1.7M227.9 149.1c0 .2 0 .7 .3 1.5 .3 .8 1.3 3 1.6 3.6M200.8 10.9c.4 .4 1.8 1.7 2.2 2.3 .4 .6 .2 .7 .4 1.5 .2 .8 .6 2.3 .7 3.3 .1 1-.2 2.3-.2 2.8M155.7 158.4c.5 .4 1.8 1.8 2.8 2.3 1 .5 2.8 .5 3.4 .6M224 99c-.3 .3-1 1.3-1.8 2-.8 .7-2.3 1.6-2.8 1.9M223.2 16.7c.1 .5 .2 2.2 .7 3 .5 .8 1.6 1.4 2.3 2 .7 .6 1.8 1.3 2.1 1.6M261.8 21.4c.1 .3 .5 1.3 .9 2 .4 .7 1.2 1.7 1.3 2.4 .1 .7-.3 1.4-.4 1.7M257.5 3.8c.1 .6 .5 2.9 .9 3.8 .4 .9 .6 1.1 1.5 1.6 .9 .5 2.5 1.2 3.6 1.2 1.1 0 2.3-.8 2.8-1M209.3 204.8c-.1 .5-.5 1.8-.3 2.8 .2 1 .8 1.9 1.2 3 .4 1.1 .9 2.8 1.4 3.5 .5 .7 1.2 .3 1.5 .4M205.5 96.9c.2 .4 .9 1.6 1.4 2.2 .5 .5 1.2 .9 1.4 1.1M186 72.7c-.3 .5-1.2 2.1-1.6 2.9-.4 .8-.5 1.7-.6 2.1M216.9 77.6c.3 .5 1.6 2.2 2 3 .4 .8-.1 1 .4 1.6 .5 .6 2.1 1.6 2.5 1.9M184.9 166.2c-.5 .4-1.9 2-2.9 2.4-1 .4-1.9-.1-3-.2-1.1-.1-3.2-.5-3.8-.6M232.2 10.6c.2 .5 .7 1.8 1.2 2.8 .5 1 1.1 2.2 1.5 3.4 .4 1.2 1 3 1.2 3.6M168 89.2c-.3 .5-1.1 2.3-1.6 3-.5 .8-1 1-1.5 1.5-.5 .5-1.4 1.3-1.7 1.5M194.1 36c0 .5 0 1.8 0 2.7 0 .9 .2 2.4 .2 2.9M186.9 163.2c.3 .2 .9 1.1 1.6 1.3 .7 .2 1.7 0 2.4-.2 .7-.2 1-.9 1.8-1 .8-.1 2.4 .4 2.9 .5M235.7 88.7c.2 .3 .7 1 1.2 1.7 .5 .8 1.2 2 1.9 2.8 .7 .8 1.4 1.2 2.2 1.9 .8 .7 1.9 1.8 2.3 2.2M240.5 182.5c.2 .4 .5 1.5 .9 2.2 .4 .7 1.4 1.7 1.7 2M162.9 91.4c-.2 .6-.7 3-1.1 3.8-.4 .8-.7 .4-1.5 .8-.8 .4-2.8 1.4-3.4 1.7M202.8 96.5c-.1 .3-.1 1.3-.7 1.8-.6 .5-2.4 1.1-2.9 1.3M232.4 139.2c-.2 .2-1 .7-1.2 1.2-.2 .5-.5 .9-.2 1.5 .3 .6 1.6 1.8 1.9 2.2M221.3 113.6c.2 .2 .2 .9 .9 1.5 .7 .5 2.8 1.5 3.4 1.8M178.5 170c.3 .2 1.1 .7 1.7 1.5 .6 .8 1.4 2.2 2.1 3.2 .7 1 1.5 2.3 2.2 3 .7 .7 1.5 .8 1.8 1M184 4.7c.4 .3 1.6 1.5 2.3 2.1 .7 .5 1.1 .8 1.7 1.2 .6 .4 1.4 .6 2 1.3 .6 .7 1.5 2.3 1.8 2.7M190.4 85.2c.4 .4 1.9 1.8 2.3 2.5 .3 .8 .1 1.4-.2 2-.3 .6-1.2 1.5-1.4 1.8M175 47.6c-.2 .3-.3 1.2-.9 1.6-.6 .4-1.9 1-2.8 1-.9 0-2.1-.9-2.5-1.1M154.6 127.9c-.3 .1-1.5 .1-2 .4-.5 .3-.8 1.3-1 1.5M257 70.8c.6 .1 2.2 .6 3.3 .7 1.1 .1 2.2 .1 3.1 0 .9-.1 1.9-.3 2.4-.7 .5-.4 .6-1.5 .7-1.8M180.7 75.6c-.4 .2-1.7 1.2-2.5 1.5-.8 .3-2 .1-2.4 .1M184.1 172.8c.3 .3 1.1 1.4 2.1 1.8 1 .4 2.8 .1 3.7 .5 .9 .4 1.1 1.3 1.6 1.8 .5 .5 1 .8 1.2 1M243 164.8c.1 .4 .2 2 .4 2.7 .3 .7 .9 1 1.1 1.2M155.4 130.2c0 .6 .3 2.9 .2 3.9-.1 1-.7 1.3-.8 2-.1 .7 .2 1.9 .2 2.3M258.4 5.2c.3 .5 1.4 1.8 1.6 2.9 .2 1.1 .3 2.3-.1 3.4-.4 1.1-1.8 2.7-2.1 3.2M163.5 106.8c.2 .3 .5 1.5 .9 2 .4 .5 .8 .7 1.5 1.2 .8 .5 2.1 1.3 3 2.1 .9 .8 2 2.1 2.4 2.5M207.9 84.2c.3 0 .9 .3 1.6 .3 .7 0 1.9-.7 2.9-.4 1 .3 2.7 1.8 3.3 2.2M157.8 20.7c.4 .5 1.9 2.4 2.5 3.1 .6 .8 .4 1 1.2 1.4 .8 .4 2.6 .7 3.5 1.3 .9 .6 1.5 1.8 1.8 2.2M236.9 167.6c.3 .4 .8 1.8 1.6 2.5 .8 .7 2.2 1.2 3 1.4 .8 .2 1.7 0 2.1 0M215.7 70.2c.3 .3 1.2 1.2 1.7 2.1 .5 .9 1.3 2.7 1.5 3.2M203.5 176.1c0 .3-.2 1.1 0 1.6 .2 .5 .5 .7 .9 1.6 .4 .9 1.2 3 1.4 3.6M256.8 80c-.4 .3-2 1-2.4 1.8-.4 .8 .1 2.2-.1 3.2-.2 1-1.1 2.3-1.3 2.8M188.9 8.1c.2 .2 1 .7 1.4 1.4 .5 .7 1.1 2.3 1.3 2.7M171.8 2.4c0 .4-.1 1.9 .2 2.5 .3 .6 .8 .6 1.4 1 .6 .4 1.7 .9 2.3 1.5 .5 .6 .8 1.9 1 2.3M225.7 33.2c-.1 .3-.5 1.1-.6 1.8-.1 .7 .3 1.9 .1 2.6-.2 .7-1 1.1-1.5 1.6-.6 .5-1.5 1.3-1.8 1.5M189.8 89.5c-.1 .5-.3 2.4-.8 3.1-.5 .7-1.6 .6-2.1 1.2-.5 .6-.9 2-1.1 2.4M161.3 19.5c.2 .4 1 1.6 1.4 2.2 .3 .6 .7 .7 .7 1.4 0 .7-.7 2.5-.8 3M158.4 133.8c.2 .3 .6 1.2 1 1.6 .4 .4 1.2 .7 1.7 .9 .5 .2 .9-.1 1.6 .4 .7 .4 2 1.9 2.4 2.3M242.2 64.8c-.3 .6-1 3-1.5 3.7-.5 .7-1.3 .6-1.5 .7M193.4 194.4c-.3 .4-1.3 1.6-2.1 2.3-.8 .7-2.1 1.5-2.5 1.8M170.9 101.7c0 .4-.3 1.8-.1 2.5 .2 .8 1.3 1.7 1.5 2M176.9 155.8c-.6 .3-2.2 1.3-3.3 1.7-1.1 .4-2.6 .5-3.1 .6M185.9 83.8c-.1 .6-.5 2.5-.4 3.4 .1 .9 .4 1.5 .7 2.2 .3 .7 .7 1.6 1.3 2.1 .6 .5 2.1 1 2.5 1.2M202.4 96.1c-.3 .5-1.8 1.9-2.1 2.8-.3 .9 .1 1.7 .3 2.5 .2 .8 .7 1.8 .8 2.2M241.9 108.4c.3 .4 1.3 1.6 1.7 2.6 .3 1 .3 2.8 .4 3.3M207.8 11.7c-.2 .5-1.2 2.1-1.3 2.8-.1 .7 .4 .7 .5 1.5 .1 .8 0 2.5 0 3M160.8 28.3c-.6 .2-2.7 1.1-3.6 1.3-.9 .2-1.1-.6-1.9-.3-.8 .3-2.6 1.8-3.1 2.2M189.1 162.6c0 .4-.1 1.5-.1 2.2 0 .7-.3 .9 0 1.8 .3 .9 1.3 2.5 1.8 3.4 .5 .9 .8 1.6 1 1.9M185.3 7.9c.4 .3 1.7 1.4 2.5 1.9 .8 .5 1.8 .8 2.1 1M240.7 56.8c0 .5-.1 2-.2 3.1-.1 1.1-.4 3.1-.5 3.7M215.9 189.7c.4 .4 1.3 1.6 2.2 2.2 .9 .6 2.2 .6 3.3 1.1 1.1 .5 2.7 1.2 3.5 1.8 .8 .6 1.2 1.7 1.4 2M199.7 38c-.1 .4-.2 1.6-.6 2.1-.4 .5-1.8 .8-2.1 1M252.8 157.6c-.1 .3-.6 1.1-.9 1.7-.3 .7-1 1.8-1.2 2.2M252.8 28.4c.3 .1 .8 .4 1.5 .5 .7 .1 1.9-.1 2.9-.1 .9 0 1.9 .1 2.8 0 .9-.1 2-.7 2.4-.8M163.6 78.7c-.3 .1-1.2 .3-1.6 .7-.4 .4-.9 1.6-1.1 1.9M159.2 137.2c0 .4 0 1.8-.1 2.5-.1 .7-.3 .8-.4 1.5-.1 .7 0 2.4 0 2.9M223.5 95.4c0 .5 0 2.1 .2 2.7 .2 .6 .7 .8 1.1 1 .4 .2 1.1 0 1.6 .3 .5 .3 1 1.2 1.2 1.4M160.3 131.7c.1 .3 .4 1 .7 1.7 .3 .8 .9 2.3 1.1 2.8M223.1 174.9c.1 .3 .5 .7 .5 1.6 0 .9-.4 2.8-.5 3.9-.2 1.1-.3 2.3-.4 2.7M191.9 93.9c-.2 .5-1.3 2.2-1.4 3-.1 .8 .5 1.7 .6 2M175.2 8.3c-.3 .6-1.6 2.5-1.8 3.4-.2 .9 .5 1.3 .6 2.1 .1 .9 .4 2.1 0 3-.4 .9-1.8 2-2.2 2.4M158 109.1c.5 .3 2.6 1.1 3.2 1.7 .6 .6 .5 1.5 .6 1.8M170.5 83.6c-.2 .6-.7 2.6-1.2 3.6-.5 1-1.1 1.6-1.8 2.6-.7 1-1.7 2.8-2.1 3.4M246.2 150c0 .7 .4 2.7 .2 3.9-.2 1.2-1.1 2.4-1.6 3.3-.5 .9-1.2 1.7-1.5 2M214.1 36.9c0 .3-.3 1.1-.1 1.7 .2 .6 1.2 1.7 1.4 2M151.4 9c.1 .2 .7 .8 .8 1.3 .1 .5-.4 .8-.1 1.6 .2 .8 1.1 1.9 1.6 3 .5 1.1 1.3 3 1.6 3.6M225.7 189.1c.3 .6 1 2.9 1.6 3.6 .6 .7 1.4 .4 1.8 .8 .4 .4 .4 .6 .7 1.4 .3 .8 .7 2.9 .9 3.5M244.5 135.8c-.1 .3-.4 1-.3 1.8 .1 .8 .6 2.5 .7 3M187.4 56.1c-.1 .3 .2 .8-.3 1.6-.5 .8-1.7 2.1-2.4 3-.7 .9-1.5 2-1.8 2.4M181.7 160.3c-.3 .3-1.2 1.4-1.9 1.8-.7 .4-1.8 .7-2.2 .8M210.9 46.6c0 .5 0 2-.1 2.9-.1 .9-.2 2.2-.3 2.6M181.7 161.4c.3 .3 .9 1.5 1.8 2 .9 .5 2.4 .8 3.4 1 1 .2 2.3 .1 2.7 .1M245.3 56c-.6 .1-2.6 .4-3.4 .8-.8 .4-.6 1.1-1.4 1.6-.8 .5-3 1.1-3.6 1.3M205.4 213.1c.1 .5 .4 2.1 .7 3 .3 .9 .9 1.8 1.1 2.2M252.2 18.5c-.1 .4-.2 1.6-.3 2.4-.1 .8-.4 2.2-.5 2.6M221.8 202.9c.1 .6 .2 2.3 .5 3.4 .3 1.1 .7 2.2 1.2 2.9 .5 .7 1.3 .5 2 1.1 .7 .6 2 2.3 2.4 2.7M234.8 36.5c.4 .3 1.8 1.1 2.2 1.9 .4 .8 0 2 .3 2.7 .3 .7 1.2 1.3 1.4 1.6M183.3 151.2c-.5 .2-2.1 .8-3.2 1-1.1 .2-2.7 .3-3.3 .4M188.8 50.8c-.6 .4-2.5 1.9-3.3 2.2-.8 .3-1.1-.3-1.7-.4-.6-.1-1.4-.1-1.7-.1M233.8 93.5c.5 .4 1.9 1.7 2.9 2.4 1 .8 2.5 1.5 3.1 2.1 .6 .6 0 1 .4 1.5 .4 .5 1.6 1.5 1.9 1.8M234.4 1.2c.2 .5 .9 2.1 .9 3.1 0 1-.6 2-1.1 2.9-.5 .9-1.6 2.2-1.9 2.6M250.7 138c-.2 .5-.9 2.1-1 3-.2 .9 .1 2.2 .1 2.7M221.5 21c0 .6-.2 2.4-.2 3.3 0 .9 .2 1.3 .2 2.1 0 .8-.3 2.3-.3 2.7M195.9 145.2c-.1 .6-.5 2.8-.8 3.6-.3 .8-.9 .9-1.1 1.1M254.3 22.9c0 .3-.1 1-.2 1.9-.1 1-.4 3.2-.5 3.8M159.8 123.5c.4 .3 1.2 1.2 2.1 1.7 .9 .6 2.3 1 3.1 1.6 .8 .6 1.3 1.1 1.5 1.8 .2 .7-.4 2.2-.5 2.6M169.5 110.5c-.2 .6-.9 2.9-1.1 3.8-.2 .9-.2 1.1 .2 1.6 .4 .5 1.5 .9 2.2 1.3 .8 .4 1.9 .9 2.3 1.1M229.7 75.7c.2 .3 1.2 1 1.2 1.9 0 .9-.8 3.1-1 3.7M202.1 35.4c-.4 .4-1.7 1.8-2.5 2.5-.8 .7-1.8 1.4-2.1 1.7M189.3 137.3c0 .5-.3 1.9 0 2.7 .3 .8 1 1.6 1.8 2.3 .8 .7 2.4 1.8 2.9 2.1M247.5 57.5c-.1 .6 0 2.9-.3 3.9-.3 1-1.1 1.3-1.6 2.2-.5 .9-1 2.8-1.2 3.3M224.6 68.9c-.1 .5-.2 2.3-.6 3-.4 .7-1.6 .6-2 1.4-.4 .8 0 2.6-.6 3.6-.6 1-2.3 1.8-2.8 2.2M239.7 30.2c-.3 .4-1.5 1.6-1.8 2.3-.3 .7 .2 1.3 .2 2 0 .7 .1 1.5-.3 2.2-.4 .7-1.6 1.8-1.9 2.2M169.7 97.2c-.5 .4-2 2-2.8 2.4-.8 .4-1.6 .1-1.9 .1M219.2 168c-.4 .4-1.7 1.9-2.4 2.5-.7 .6-1 .7-1.8 .8-.8 .2-2.1 .4-2.9 .1-.8-.3-1.7-1.4-2-1.7M212.9 56.9c.2 .4 .9 1.7 .9 2.5 0 .8-.8 2.1-1 2.5M229.9 53c.6 .1 2.5 .4 3.7 .5 1.2 .1 2.5 .1 3.6 .3 1 .2 1.7 .8 2.7 1.1 1 .3 2.9 .5 3.5 .6M197 206.5c.2 .4 .5 1.7 .9 2.2 .4 .5 1.1 0 1.5 .6 .4 .6 .3 2.3 1 3.1 .7 .8 2.6 1.5 3.1 1.8M204.6 162.8c.2 .5 1.1 2.2 1.2 3.1 .1 .9-.7 1.8-.8 2.2M190.8 102c.1 .3 .3 1.6 .7 2.1 .4 .5 1.7 .7 2 .9M181.8 76.4c.2 .4 1.3 1.6 1.3 2.4 0 .8-.4 1.8-1 2.6-.6 .8-2 1.7-2.4 2M186.7 68.2c.6 .3 2.3 1.3 3.5 1.8 1.2 .5 2.7 .8 3.8 1.1 1.1 .2 1.9 .4 2.9 .4 1 0 2.4-.2 2.9-.2M160.7 10c-.3 .4-1 1.9-1.9 2.4-.9 .5-2.3 .4-3.4 .5-1.1 .1-2.5-.1-3-.1M221.3 149.7c.2 .2 .7 .6 1.2 1.3 .5 .7 1.3 1.8 1.6 2.6 .3 .7 .2 1 .5 1.9 .3 .9 1.2 2.8 1.4 3.4M164.2 66.5c.2 .3 .9 1.1 1.2 1.6 .3 .5 .7 .7 .7 1.4 0 .7-.6 2.3-.7 2.8M206.2 112.3c-.4 .2-2.1 .6-2.6 1.2-.5 .6-.4 1.7-.7 2.5-.3 .8-.8 1.9-1 2.3M203.6 88.7c0 .4-.2 1.6-.2 2.6 0 .9 .1 2.3 .1 3.1 0 .8 .3 .8-.3 1.5-.6 .7-2.7 2-3.2 2.4M173.5 26.1c.3 .5 1 2.1 1.8 2.8 .8 .7 2.3 1 3 1.4 .7 .5 .8 1.1 1 1.3M231.5 183.9c-.1 .3-.4 1.4-.8 2.1-.4 .7-1.4 1.8-1.7 2.2M154.2 6.9c.2 .5 .9 2 1.4 2.8 .5 .7 1.5 .9 1.8 1.7 .3 .8 .1 1.9 0 3-.1 1.1-.7 2.9-.8 3.5M233.1 101c.1 .4 .4 1.5 .7 2.3 .3 .8 1.1 2.3 1.3 2.8M193.1 169c0 .4 0 1.5-.3 2.3-.3 .9-.7 1.9-1.3 2.8-.6 .9-1.2 2.1-2 2.9-.8 .8-2.6 1.6-3.1 1.9M149.8 32.5c-.4 .2-1.5 1-2.3 1.2-.8 .3-1.6 .5-2.4 .3-.8-.2-1.5-1.2-2.5-1.6-1-.4-2.9-.5-3.5-.6M197.4 126.1c.1 .4 .8 1.3 .6 2.2-.2 .9-1.8 2.5-2.1 3M241.3 117.8c.2 .4 .9 1.3 1 2.1 .1 .8-.1 2.1-.3 2.9-.2 .8-.9 1.4-1.1 1.7M257 50.3c-.2 .4-.6 1.4-1.1 2.3-.6 .9-1.7 2.4-2.2 3.1-.5 .8-.3 .8-.6 1.4-.3 .7-1 2.1-1.2 2.5M189.5 13.5c-.3 .6-1.2 2.3-1.7 3.3-.5 1-1.1 1.6-1.2 2.5-.1 .9 .1 2.3 .4 3 .3 .8 1.1 1.3 1.3 1.5" fill="none" stroke="#fa3c3c" stroke-width="1.8" stroke-linecap="round"/><path d="M40.7 112.6c-.5 .7-2.2 3.3-3.2 4-1 .7-1.8 .6-2.9 .4-1.1-.2-2.9-1.6-3.5-1.9M21.6 132.7c.6 .4 2.3 2.3 3.5 2.6 1.3 .3 3.1-1 4-.9 1 .1 1.4 1.1 1.7 1.3M50.2 137.3c.4 .9 1.6 4.1 2.1 5.3 .5 1.2 .7 1 1.1 2.1 .4 1.1 1 3.5 1.2 4.2M7.6 208.7c.5 .2 2.3 1.2 3.2 1.5 .9 .3 1.8 .3 2.1 .4M40.9 137.4c-.5 .7-1.9 3.1-3.3 4.3-1.4 1.2-4.1 2.4-4.9 2.9M5.2 103.7c.1 1 .5 4.3 .8 5.8 .3 1.5 .7 2.9 .8 3.5M2.2 91.2c-.3 .9-1.2 4.2-1.8 5.3-.6 1.1-.6 .8-1.6 1.4-1 .6-3.3 .9-4.3 2.2-1 1.3-1.5 4.7-1.8 5.7M8.4 191c-.5 .6-2.1 2.8-3.2 3.8-1.1 1-2.2 1.3-3.2 2.1-1 .8-1.9 1.8-2.6 2.8-.7 1-1.5 2.6-1.8 3.1M22 128.3c-.3 .9-.6 3.8-1.6 5.3-1 1.5-3.1 3.1-4.2 3.8-1.1 .7-1.8 .3-2.6 .3-.8 0-2-.2-2.4-.2M21.6 189.8c-.1 1-.7 4.5-.6 5.7 .1 1.2 1.1 1.3 1.3 1.6M13.6 63.1c.4 .2 1.4 .7 2.5 1.4 1.1 .7 3.2 1.9 4 2.8 .8 .9 .6 2.1 .7 2.5M15.5 122.4c.6 .4 2 2 3.4 2.6 1.4 .6 3.7 .9 5 1.1 1.2 .2 2.1 .3 2.5 .3M28 70.7c-.2 .9-1.1 4-1.4 5.4-.3 1.4-.6 1.8-.6 2.8 0 1 .4 2.1 .7 3 .3 .9 1.1 2.1 1.3 2.5M16.8 219.2c1 .2 4 1 5.7 1.4 1.7 .3 3.1 .5 4.5 .7 1.4 .2 2.8 .1 4 .6 1.2 .5 2.5 2 3 2.4M23.7 95.4c.6 .4 2.6 1.5 3.5 2.2 .9 .7 1.6 1.5 1.9 1.8M48.1 217.9c.2 .4 .7 1.3 1 2.5 .3 1.2 .4 3.4 .8 4.6 .4 1.2 1.2 2 1.4 2.4M.6 178.4c0 .9-.2 4.2 0 5.7 .2 1.5 1.5 1.9 1.4 3.1-.1 1.2-1.4 3.1-1.8 4.2-.4 1.1-.5 1.9-.6 2.3M38.6 89.7c-.1 .3-.1 1.3-.8 2-.8 .7-2.5 2-3.7 2.2-1.2 .2-2.7-.7-3.3-.8M20.7 88.9c-.8 .4-3.1 2.3-4.5 2.6-1.4 .3-3-1-4.2-.9-1.2 .1-2.2 1.3-2.7 1.6M42.4 129.3c.4 .2 1.7 .5 2.4 .9 .7 .4 1.2 1 1.9 1.3 .8 .3 1.8 0 2.6 .7 .8 .7 1.7 3.1 2 3.7M42.8 92.3c-.3 .7-1.7 2.5-1.8 3.9-.1 1.4 1.2 2.9 1.3 4.6 .1 1.7-.8 4.2-.7 5.4 .1 1.2 1 1.6 1.2 1.9M28.6 140.2c-.1 .4-.7 1.2-.7 2.3 0 1.1 .6 3.4 .7 4.1M13.2 173.8c-.2 .4-.8 1-1.2 2.3-.4 1.3-.8 4.3-1.5 5.6-.7 1.3-2.3 1.9-2.8 2.3M30.5 119.1c-.1 .6-.3 2.3-.3 3.4 0 1.1 .6 1.9 .1 3.3-.5 1.4-2.4 4.3-2.9 5.2M52.9 203c.1 .5 .3 2 .8 3.2 .5 1.2 1.8 3.5 2.2 4.2M50.5 172.6c.7 0 2.8 .1 4.1 .2 1.3 .1 3.1 .2 3.7 .2M1.2 67.9c-.7 .3-2.5 1.8-4.1 1.9-1.6 .1-4.2-1.1-5.4-1.5-1.2-.4-1.5-.9-1.8-1.1M15.4 175.7c.8 .3 3.7 1.6 4.9 1.8 1.2 .2 1.7-.4 2.3-.8 .6-.4 1.1-.9 1.4-1.5 .3-.6 .2-1.8 .2-2.2M20.2 73.4c.9 .1 4.1 .1 5.5 .8 1.4 .7 1.9 2.3 2.7 3.4 .8 1.1 1.9 1.6 2.2 3 .3 1.4-.5 4.6-.6 5.5M33.5 94.8c-.5 .4-2.1 1.9-3.2 2.7-1.1 .8-2.7 1.3-3.7 2.4-1 1.1-1.5 2.8-2.1 4.2-.6 1.4-1.5 3.7-1.8 4.4M31.8 162.6c.1 .3 .5 1.2 .8 1.9 .3 .7 .3 1.3 .9 2.6 .6 1.3 2.4 4.2 2.9 5.1M18.9 94c-.4 .3-2.1 1.1-2.6 1.8-.5 .7-.4 2.2-.5 2.6M50.5 128c.7 .5 3 2.1 4.4 3.1 1.4 1 2.7 1.7 3.9 3.1 1.2 1.3 2.8 4.2 3.4 5M11.7 162.2c-.1 .4 .4 1.5-.6 2.3-1 .8-3.8 1.8-5.2 2.3-1.4 .5-1.8 .6-3 .5-1.2-.1-3.7-.7-4.4-.8M24 60.7c.1 .7 .6 2.5 .8 4.2 .2 1.7 .6 4.4 .4 5.9-.2 1.5-.7 2-1.5 3.3-.8 1.3-2.8 3.7-3.3 4.4M22 130.5c.2 .5 .9 1.9 1.3 3.1 .4 1.2 .1 3 .9 4 .8 1 3.2 .8 4.1 2 .9 1.2 1 4.1 1.2 4.9M22.1 100c.1 .6 .9 2.5 .9 3.6 0 1.1-.8 2.3-1 2.8M19.1 233.8c.4 .9 2.3 3.7 2.6 5.2 .2 1.5-.9 3-1.1 3.6M.6 49.5c-.1 .5-.1 2.2-.3 3.2-.2 1.1-.3 2.2-.9 3.1-.6 .9-2.4 1.9-2.9 2.3M42.2 126c.3 .7 1.3 2.5 1.6 4.1 .3 1.6 .3 4.8 .4 5.7M21.7 120.2c.2 .4 .8 1.4 1.4 2.2 .6 .8 2 1.5 2.4 2.8 .4 1.3 .2 3.5 0 5-.2 1.5-1.2 3.4-1.4 4.1M21 113.3c.7 .2 2.5 .3 4 .9 1.5 .6 3.9 1.5 4.8 2.8 .9 1.3 .6 4.4 .7 5.3M51.5 124.2c.8 .4 3.1 1.8 4.7 2.5 1.7 .7 4 1.3 5.2 1.8 1.2 .5 1.7 .8 2 1M6.2 154c0 .3-.3 .9 .1 2.1 .4 1.1 .9 3.8 2 4.8 1.1 1 3.4 .7 4.5 1.3 1.1 .6 1.7 2.1 2 2.5M34 173.6c.3 .8 1.9 3.1 1.9 4.7 0 1.7-1.8 3.7-1.9 5.2-.1 1.5 1.1 3.3 1.3 3.9M11.5 160.3c.8 .3 3.6 1.4 4.8 1.5 1.2 .1 1.3-.8 2.3-.7 1.1 .1 2.9 .5 4 1.2 1.2 .8 2.4 2.8 2.9 3.3M3.6 42.5c.1 .4-.1 1.8 .4 2.5 .5 .7 1.9 .7 2.6 1.7 .7 1 1.3 3.5 1.6 4.2M11.1 164.8c.5 .8 1.9 3.1 3.1 4.6 1.1 1.5 3.2 3.8 3.8 4.5M36 89.9c.8 .5 3.5 1.4 4.7 2.7 1.2 1.3 1.9 3.6 2.5 5 .6 1.3 .5 1.7 .9 3.1 .4 1.4 1.4 4.6 1.7 5.5M22.6 183.7c.1 .6 .4 2.7 .3 3.6-.1 .9-1 1-1.2 1.7-.2 .7 .1 2 .1 2.4M51.2 119.2c.3 .6 .9 2.9 1.8 3.7 .9 .8 2.7 .6 3.5 1.1 .8 .5 1.3 1.7 1.5 2M20.4 89c.3 .5 1.1 2.2 1.9 2.7 .8 .5 1.8 .5 3.1 .3 1.3-.2 4.1-1.5 4.9-1.8M7.5 79.3c0 .7-.2 2.8 .3 4.2 .5 1.4 2.3 3.7 2.7 4.4M21.3 83.3c.6 .7 2.6 2.8 3.9 4.3 1.3 1.4 2.9 3.3 3.9 4.4 1 1.1 1.6 1.3 2.1 2 .5 .7 .8 1.9 1 2.3M15.1 219.9c.1 .7-.1 2.9 .5 4.1 .6 1.2 2 1.7 2.9 2.9 .9 1.2 1.9 3.7 2.3 4.4M5.3 210.4c-.2 .3-1.2 1-1.3 1.7-.1 .7 .6 1.3 .6 2.5 0 1.2-.5 4-.6 4.8M10.9 218.3c.2 .9 1 3.8 1.1 5.1 .1 1.3-.5 1.9-.5 2.7 0 .8 .4 1.9 .5 2.3M47.4 119.8c-.4 .8-2 3-2.1 4.7-.1 1.7 .6 4.1 1.3 5.2 .7 1.1 2.3 1.2 2.8 1.5M39.4 172.7c0 .3 .4 1.4-.2 2.1-.6 .7-2.1 1.8-3.2 2.1-1.1 .3-2.9-.4-3.5-.5M5.7 98.3c0 .8-.3 3.8 0 4.9 .3 1.1 .9 1.2 1.6 1.5 .7 .3 1.6 .4 2.6 .5 1 .1 2.7-.1 3.2-.1M2.3 102.2c.2 .7 1 2.7 1.5 4 .5 1.3 1.1 3.1 1.3 3.7M53.7 174c-.2 .4-.3 1.6-1.2 2.2-.9 .6-3.7 1.2-4.4 1.5M50.8 157c.4 .6 2.2 2.6 2.7 3.8 .5 1.2 .4 2.8 .5 3.3M20 222.7c-.1 .6-.9 2-.9 3.5 0 1.5 .8 4.1 .7 5.3-.1 1.2-.6 1.4-1.4 1.8-.9 .4-3.1 .4-3.7 .5M40.1 187.7c-.3 .7-1.6 2.7-1.8 4.2-.2 1.5 .9 3.2 .6 4.6-.3 1.4-1.4 2.7-2.2 4.1-.8 1.4-2 3.8-2.4 4.6M47.9 151.8c.3 1 .9 4.2 1.6 5.7 .7 1.5 2.3 2.6 2.8 3.1M3.4 111.6c.6 .5 2.3 2 3.5 3 1.2 1 3 2.5 3.6 3M28 181.1c0 .6-.3 2.6-.1 3.8 .2 1.2 .2 2.2 1.2 3.2 1 1 3.2 2.4 4.6 3.1 1.4 .7 3.3 1 4 1.2M47.3 149.7c.2 .7 1.5 2.7 1.5 4.4 0 1.7-1.3 4.8-1.6 5.7M23.6 81.3c.2 .5 .7 2.4 1.1 3.2 .4 .8 1.2 1.4 1.5 1.7M11.4 180.3c.1 .4 .2 1.6 .7 2.6 .5 1 2.1 2.9 2.5 3.5M27.2 236c-.6 .6-2.8 2.1-3.4 3.4-.6 1.3-.3 2.9-.3 4.3 0 1.4 .2 2.8 .2 3.9 0 1.1-.1 2.3-.1 2.8M37.4 165.5c-.6 .6-2.5 2.6-3.5 3.3-1 .7-1.5 .5-2.2 .8-.7 .3-1.3 .5-1.9 1-.6 .5-1.6 1.4-1.9 1.7M55.8 145.1c-.4 .2-.9 1-2.2 1.4-1.2 .4-4 .3-5.3 .8-1.3 .5-1.6 1-2.5 2.1-.9 1.1-2.3 3.8-2.8 4.6M21.4 150.2c.4 .2 1.6 .7 2.6 1.4 1 .7 2.3 1.6 3.2 2.8 .9 1.3 2 3.9 2.4 4.7" fill="none" stroke="#000" stroke-width="1.6" stroke-linecap="round"/><path d="M28.7 139.9c.2 .6 .7 2.7 1.2 3.6 .5 .9 1.2 1.1 1.7 1.7 .5 .6 1.1 1.7 1.3 2M23.3 235.8c-.3 .3-1.3 1.5-1.9 1.8-.6 .3-1 .5-2 .2-1-.2-3.5-1.4-4.2-1.7M24.7 96.7c-.5 .5-2.7 1.9-3.2 2.7-.5 .8-.4 1.1 .1 2.1 .5 1 1.8 2.8 2.8 4 1 1.2 2.6 2.4 3.1 2.9M.2 200.8c.2 .4 .9 1.4 1.4 2.2 .5 .8 1.6 1.2 1.8 2.4 .2 1.2 .3 3.6-.4 4.9-.7 1.3-3.2 2.3-3.8 2.7M55.8 164c0 .7-.1 2.8-.3 4.1-.2 1.3-.6 3.2-.7 3.9M24.4 113.7c.1 .5-.3 2 .4 2.9 .7 .9 3.3 2.2 3.9 2.6M11 175.7c0 .4 .4 1.7 0 2.5-.4 .8-2.2 2.1-2.7 2.5M20.9 88c.2 .3 .8 .9 1.5 1.8 .7 .9 2.3 2.7 2.8 3.7 .5 1 0 2 0 2.4M14.7 59c.3 .6 1.5 2.5 2.1 3.6 .6 1.1 1.1 1.8 1.4 3 .2 1.2 .1 3.4 .1 4.1M52.7 153.4c-.1 .4-.2 1-.6 2.1-.4 1.1-1 3-1.8 4.2-.8 1.1-2.3 2.3-3.2 2.7-.9 .4-1.9-.3-2.3-.4M48.2 118.4c0 .6 .3 2.7 .1 3.7-.2 1-.9 1.7-1.1 2.1M3.3 87.4c-.4 .6-1.9 2.3-2.2 3.4-.3 1.1 .3 2.8 .4 3.4M7.9 221.7c-.1 .6-.7 2.4-.4 3.7 .3 1.3 1.8 3.3 2.2 4M43.2 108.3c0 .3 .2 1.2 .3 2 .1 .8 0 1.7 .3 2.7 .3 1 1.3 2.2 1.4 3.3 .1 1.1-.6 2.8-.7 3.4M20.5 111.1c-.2 .4-.8 1.2-1 2.2-.2 1-.1 2.9-.1 4 0 1.1 .2 1.3 .2 2.5 0 1.2-.2 3.8-.2 4.6M6.6 44.2c.2 .4 1 1.4 1.3 2.2 .3 .8 0 2 .5 2.8 .5 .8 1.9 1.8 2.3 2.2M50.8 147.7c.5 .6 2 3.1 3 3.8 1 .7 2.1 .1 2.9 .7 .8 .6 1.7 2.4 2.1 2.9M10.6 203.7c-.7 .4-2.7 1.5-3.9 2.3-1.2 .8-2.3 2.2-3.3 2.5-1 .3-2.2-.4-2.6-.5M30 112.2c-.1 .8-.7 3.5-.6 4.6 0 1.1 .5 1.1 .9 1.9 .4 .8 1.3 2.3 1.6 2.7M33.5 117.6c.1 .5 .4 2 .9 2.8 .5 .8 1.5 1.7 1.8 2M50.8 161.7c.2 .6 .9 2.8 1.2 3.9 .3 1.1 .6 1.8 .8 2.7 .2 .9 .8 1.8 .5 2.7-.3 .9-1.8 2.4-2.2 2.9M32.5 194.2c-.4 .5-1.9 2-2.5 3-.6 1-.1 2-.9 2.9-.7 .9-3 2.1-3.6 2.5M54.4 176.3c.2 .7 .8 2.8 1.4 4 .6 1.2 1.4 2.2 2.2 3.2 .8 1 2.1 2.2 2.5 2.6M3.5 107.4c-.2 .6-.4 2.6-1.3 3.3-.9 .8-3.3 .7-4.3 1.2-1 .5-1.4 1.5-1.7 1.8M51.5 174.3c.3 .5 1.3 2.5 2 3.1 .7 .6 1.6 .5 2.5 .6 .9 .1 2.3-.2 2.8-.3M42.1 150.3c0 .4 .2 1 .1 2.2-.1 1.2-.7 3.4-.7 4.7 0 1.3 .3 2.4 .4 2.9M27.1 234.1c.4 .7 2.3 2.7 2.6 3.9 .3 1.2-.6 2.4-.5 3.4 0 1 .4 2 .8 2.7 .4 .7 1.4 1.1 1.7 1.3M15.5 180.9c-.1 .5-.6 2.2-.8 3.2-.2 1-.6 2-.6 2.8 0 .8 .4 1.8 .5 2.2M3.3 65.8c0 .7-.2 3.3 .1 4.4 .3 1.1 1.6 2 1.9 2.4M10.9 147.4c.2 .4 1.1 1.8 1.2 2.7 .1 .9-.6 2.1-.8 2.9-.2 .8 0 1.2-.5 2-.5 .8-2.2 2.2-2.7 2.7M10.1 212.7c0 .6 0 2.6-.2 3.8-.1 1.2-.6 2.8-.7 3.4M14.9 132.7c-.1 .6-.3 2.7-.5 3.6-.2 .9-.6 1.1-.7 2.1-.1 1-.1 3.5-.1 4.2M5.4 71.2c.4 .3 1.7 1.3 2.3 2.1 .6 .8 1.2 2.2 1.4 2.7M56.9 155c0 .5 .5 1.7 .2 2.8-.3 1.1-1.1 3-1.8 3.9-.7 .9-1.3 .9-2.3 1.7-1 .8-3.1 2.7-3.7 3.3M16.1 144.7c-.3 .4-1 1.7-1.6 2.2-.6 .5-1.8 .7-2.2 .8M36.5 120.2c0 .6-.1 2.7 .3 3.8 .4 1.1 1.7 2.5 2.1 3M35.2 187.5c-.6 .4-2.8 1.6-3.9 2.5-1.1 .9-1.6 1.7-2.4 2.7-.8 1-1.9 2-2.4 3.3-.5 1.3-.4 3.8-.5 4.6M22.6 82.4c-.3 .3-1 1.2-1.6 1.7-.6 .5-1.6 1-1.9 1.2M23.3 212.8c0 .5 .1 2.1-.1 3.1-.2 1-1.2 1.8-1 3 .2 1.2 1.8 3 2.2 4 .4 1 .2 1.7 .3 2M14 110.9c.4 .5 1.3 2.2 2.5 3 1.2 .8 3.2 1.7 4.6 1.9 1.4 .2 3-.7 3.6-.9M50.1 213.9c.5 .5 2.2 2.2 3.1 3.1 .9 .9 1.8 1.8 2.2 2.1M39.6 159.5c-.1 .3-.1 1.1-.8 2-.7 .9-2.3 2.6-3.2 3.2-.9 .6-1.2 .3-2.1 .6-.9 .3-2.5 1.1-3 1.3M8.1 227.2c-.3 .2-1.5 .9-2 1.5-.6 .6-1.1 1.7-1.3 2M29.2 110.3c.3 .6 1.6 2.6 1.7 3.7 .1 1.1-.1 2-.8 2.9-.7 .9-2.9 1.9-3.5 2.3M13.6 198.4c-.2 .4-.4 1.4-.9 2.3-.6 .8-2 2.3-2.4 2.8M56.3 145.1c.7 .1 2.6 .5 4 .7 1.3 .2 3.4 .6 4.1 .7M6.5 110.7c.3 .4 1.5 1.3 1.7 2.5 .2 1.2-.4 4.1-.5 4.9M42.4 94.6c-.2 .4-1 1.9-.9 2.7 .1 .8 1.3 1.1 1.3 2.2 0 1.1-1.2 3.5-1.4 4.2M15.5 105.1c.3 .5 1.9 1.8 2.1 3 .2 1.1-.4 2.6-1 3.9-.6 1.3-2.2 3.2-2.7 3.8M23.2 103.7c.2 .5 .6 2.1 1.2 2.9 .6 .7 2.3 1.3 2.7 1.6M35.3 225.3c-.3 .6-1.1 2.5-1.9 3.7-.8 1.2-2.3 2.4-3.1 3.2-.8 .7-1.2 1-1.9 1.3-.7 .3-1.8 .3-2.1 .4M23.5 151.7c.1 .6-.2 2.6 .6 3.6 .8 1 3.2 1.4 4.2 2.5 1 1.1 1.4 3.2 1.7 3.9M29.6 158.5c-.7 .3-2.8 1-4.1 1.8-1.3 .8-3 2.4-3.6 2.9M15.5 171.9c-.3 .6-1.2 2.6-1.8 3.5-.6 .9-1.3 1.8-1.6 2.1M15.4 221.7c0 .5 .3 2.2-.2 3.1-.5 .9-2.1 1.7-3 2.1-.9 .4-1.4 0-2.2 .4-.8 .4-2 1.6-2.4 1.9M9.8 113.2c-.1 .7 .1 3.2-.4 4.4-.5 1.2-2.1 2.5-2.5 3M2.5 116.3c.1 .4 0 1.6 .5 2.3 .5 .6 1.7 .9 2.3 1.6 .6 .7 1 2.3 1.2 2.8M30.2 130.6c.3 .3 1.5 1.4 2 2.1 .5 .7 .3 1.3 1.1 2 .8 .7 3.1 1.7 3.7 2M7.6 137.8c.1 .5-.1 2.2 .4 3 .5 .8 1.8 1.1 2.6 1.7 .8 .6 1.3 1.4 2 1.7 .7 .3 1.8 .2 2.2 .3M41.7 94.9c.2 .4 .7 1.6 1.1 2.6 .4 1 1.2 2.7 1.5 3.2M5.2 65.7c-.2 .6-1 2.6-1.3 3.6-.3 .9-.1 1.3-.5 2.1-.4 .8-1.5 2.1-1.8 2.5M17.1 121.6c0 .5 .6 2 .2 3-.4 1-1.6 2.4-2.4 2.9-.8 .5-2.1 .1-2.5 .1M41.3 114.5c.4 .6 1.8 2.8 2.6 3.8 .8 1 1.9 1.4 2.3 2.3 .4 .9 0 2.8 0 3.3M37.3 198.3c.3 .4 1.2 1.7 2.1 2.6 .9 .9 2.7 2 3.4 3.1 .6 1.1 .3 2.2 .5 3.3 .2 1.1 .4 2.8 .5 3.3M29.7 204.9c-.1 .4-.6 1.4-.6 2.6 0 1.2 .3 3.4 .6 4.7 .2 1.2 .3 2 .9 2.8 .6 .8 2.5 1.4 3 1.7M49.2 154.2c.1 .4-.1 1.6 .6 2.2 .6 .7 2.3 .9 3.3 1.7 1 .8 2.2 2.5 2.7 3M40.1 123.6c-.5 .5-2.2 2.4-2.9 3.3-.6 .9-1.1 1.4-1 2.3 .1 .9 1.3 2.6 1.6 3.1M15.2 102.6c.2 .6 .7 2.6 1.4 3.4 .8 .8 2.3 .6 3.1 1.2 .8 .6 1.2 2.1 1.5 2.5M46.5 211.3c.3 .2 1.5 .5 1.9 1.4 .4 .9 .6 3.3 .7 4M38.1 182c-.1 .4-.8 1.6-.5 2.5 .3 .9 1.5 2.1 2.1 3 .6 .9 1.3 2.1 1.6 2.5M23.7 153c.2 .4 .6 1.8 1.1 2.4 .5 .7 1.2 .7 2.1 1.5 .9 .9 2.8 3 3.4 3.6M23.5 185.6c.2 .3 .4 1.3 1.3 1.7 .9 .4 3.3 .6 3.9 .7M34.6 76c0 .7 .4 3.1 .3 4.2-.1 1.1-.1 1.7-.8 2.6-.7 .9-2.5 1.7-3.2 2.7-.7 1-.8 2.9-.9 3.5M45.1 183.1c-.2 .3-.6 .9-1 2-.4 1.1-1.3 3.2-1.5 4.6-.2 1.4 .4 3.3 .5 4M52.5 177.2c.7 .3 3.4 1.2 4.5 1.6 1.1 .4 2 .6 2.4 .7M44 214.9c.2 .6 .4 2.3 1 3.6 .6 1.3 1.5 3 2.6 3.9 1.2 .9 3.3 .7 4.3 1.6 1 .9 1.2 3.4 1.5 4.1M22 168.2c.6 .4 2.5 1.8 3.5 2.2 1 .4 1.5 .1 2.4 0 .9-.1 2.2-.3 3-.6 .8-.2 1.6-.7 1.9-.9M38.1 82.1c.1 .6 .8 2.4 .8 3.5 0 1.1 0 2.1-.6 2.9-.6 .8-2.2 1.4-3 1.9-.8 .5-1.5 1.1-1.8 1.3M50.1 159.6c0 .4 .4 1.5 .2 2.6-.3 1.1-1.4 3.2-1.7 3.9M52.4 155.8c-.3 .6-.9 2.6-1.7 3.3-.8 .7-2.2 .1-3 .8-.8 .7-1.3 2.5-1.8 3.6-.5 1.1-.9 2.3-1.1 2.7M14.3 188.5c.1 .7 .7 3.1 .6 4.4-.1 1.3-1 2.3-1.1 3.2-.1 .9 .5 1.8 .6 2.2M2.3 155.8c0 .4-.1 1.5 .1 2.4 .2 .9 .2 2.1 .9 3 .6 .9 2.5 1.7 3 2.5 .5 .8 .2 2.1 .3 2.5M19.2 208.5c0 .5-.2 2.1 0 2.9 .2 .8 .5 1.5 1 2.1 .5 .6 1.5 1.3 1.8 1.6M31.4 104.9c.2 .6 .7 2.5 1.4 3.3 .7 .8 1.6 1.4 2.6 1.7 1 .3 2.3 .4 3.2 .3 .9-.1 1.8-.7 2.2-.9M50.5 140.4c.1 .4 .7 1.1 .8 2.2 .1 1.1-.2 3.6-.2 4.3M12.2 188.7c.4 .2 1.5 .9 2.2 1.2 .7 .3 1.7 .5 2 .6M30.1 98.4c0 .7 .3 2.9 .1 4-.2 1.1-1 2-1.2 2.4M29.8 203.8c-.6 .2-2.7 1-3.7 1.2-1 .2-1.7 .2-2.1 .3M40.1 202.9c.5 .4 2.4 1.6 2.9 2.5 .5 .9-.4 2 .2 2.9 .6 .9 2.9 2.2 3.5 2.6M29.7 73.4c-.4 .2-1.3 .9-2.4 1.2-1.1 .2-3.3 .3-4 .3M3.9 40.6c-.5 .3-1.6 1.6-2.9 2-1.3 .4-3.9 .6-4.7 .7M36.9 79.8c.4 .6 1.6 2.5 2.6 3.5 1 1 2.6 1.8 3.2 2.6 .6 .9 .2 2.1 .2 2.5M39 189.1c-.1 .8-.1 3.5-.7 4.8-.6 1.3-1.9 2.1-2.9 3.1-1 1-2.3 2.2-3.4 2.7-1.1 .5-2.8 .2-3.3 .3M45.5 214.2c-.3 .5-1 2.6-1.6 3.2-.6 .6-1.3 0-2.2 .6-.9 .6-2.5 1.7-3.3 2.9-.8 1.2-1.3 3.5-1.6 4.2M11.5 131.6c-.2 .6-1.5 2.2-1.3 3.5 .1 1.3 1.4 3 2.2 4.2 .8 1.2 2 2.6 2.4 3.1M36.4 194.8c.5 .3 2 .7 2.7 1.6 .7 .9 1.3 2.5 1.7 3.6 .4 1.1 .6 2.4 .7 2.9M48.5 198.6c0 .6-.2 2.4-.2 3.8 0 1.4-.2 3.3 0 4.6 .2 1.3 .9 2.6 1.1 3.1M8.5 149.1c.3 .7 1.2 3.2 1.9 4.1 .8 .9 1.8 .6 2.6 1.1 .8 .5 1.8 1.6 2.1 1.9M25.6 172.2c-.2 .4-.7 1.7-1.4 2.2-.7 .5-2.5 .7-3 .8M22.6 106.5c-.1 .5 .2 1.8-.4 2.7-.6 .9-2.4 2.1-2.9 2.5M22.9 139.9c-.5 .5-1.7 2.7-3 3.2-1.3 .5-3.5-.5-4.6-.1-1.1 .4-1.8 1.2-2.1 2.4-.4 1.2 0 3.8 0 4.5M14.3 153.1c.3 .4 1.4 1.5 1.6 2.5 .2 1-.3 2.5-.3 3.7 0 1.2 .9 2.3 .5 3.5-.3 1.3-2.2 3.3-2.6 4M36.2 128.8c-.4 .3-1.3 1.5-2.4 1.7-1.1 .2-2.7-.9-4-.6-1.3 .3-3 2.2-3.6 2.6M38 138.7c-.3 .2-.8 .8-1.6 1.5-.8 .7-2.7 2.1-3.2 2.5M26 190.2c-.2 .6-.9 2.2-1.5 3.5-.6 1.3-1.2 3.6-1.8 4.5-.6 .9-1.2 .4-1.8 .9-.6 .5-1.3 1.9-1.6 2.3M53.2 141.6c-.5 .5-2.2 2.2-3.2 2.7-1 .6-2.3 .5-2.8 .6M16.9 148.9c-.2 .6-1.1 2.3-1.4 3.6-.3 1.3-.1 2.6-.6 4-.5 1.4-2.1 3.5-2.5 4.2M40.1 95.5c.6 .1 2.5 .1 3.4 .7 .9 .6 1.8 2 2.2 2.9 .4 .9 0 1.8 .2 2.6 .2 .8 .7 1.7 .9 2M30.2 176.3c-.1 .5 .1 2-.8 2.8-.9 .8-3.4 1.4-4.4 2.1-1 .6-1.3 .7-1.8 1.8-.5 1.1-1 3.9-1.2 4.7M18.6 127.7c.4 .3 1.5 1.1 2.5 1.8 1 .7 3 1.6 3.7 2.4 .7 .8 .4 1.8 .5 2.2" fill="none" stroke="#fa3c3c" stroke-width="2.2" stroke-linecap="round"/><path d="M36.1 140.3c.4 .6 1.8 2.7 2.2 3.7 .4 1 .2 2 .2 2.4M27.3 151.7c0 .5 .1 1.6 .2 2.9 .1 1.3 .1 3.9 .1 4.7M16.7 166c-.1 .3-.4 1.1-.4 2.1 0 1 .3 3.1 .3 3.7M14.1 54c.1 .7 0 2.9 .7 4 .7 1.1 2.5 1.9 3.3 2.8 .8 .9 1.1 1.3 1.7 2.5 .6 1.2 1.4 3.7 1.7 4.5M40.1 194.9c.3 .7 1.1 3 1.8 4.2 .7 1.1 1.6 1.5 2.2 2.7 .6 1.2 1.2 3.3 1.4 4.4 .2 1.1-.2 2-.2 2.4M24 225.5c.4 .2 1.8 .8 2.7 1.2 .9 .4 2.5 1.1 3 1.3M49.4 173.6c-.2 .4-.4 1.4-1.1 2.3-.7 .9-2.5 1.9-3.1 3.2-.6 1.3-.4 3.7-.5 4.5M12.9 209.9c-.2 .8-.6 3.3-1.3 4.5-.8 1.2-2.7 2.3-3.2 2.8M37.6 215.7c.5 .5 2.4 2 3.3 3.3 .9 1.3 1.4 2.9 1.9 4.3 .5 1.4 .8 2.9 1 4.2 .2 1.3 .1 2.9 .1 3.5M20.9 153.8c-.4 .4-1.5 1.7-2.3 2.1-.7 .4-1.8 .2-2.2 .3M16 51.8c.5 .3 2.1 1.4 3.1 2.1 1 .6 2 1.4 3.1 1.8 1.1 .4 2.5-.3 3.5 .5 1 .8 2.2 3.4 2.6 4.1M30.8 86.1c-.4 .3-1.2 1.3-2.2 1.8-.9 .5-2.9 1-3.5 1.2M12.9 74.6c.2 .5 1.2 1.8 1.4 3 .2 1.2-.1 2.6 0 3.9 .1 1.3 .7 3.1 .8 3.7M29.7 157.8c-.3 .7-.8 3.3-1.6 4.1-.7 .8-2.4 .8-2.9 .9M4.1 135.6c-.1 .8-.7 3.5-.5 4.9 .2 1.4 .8 2.6 1.7 3.4 .9 .8 3 1.3 3.6 1.6M9.6 191.9c.1 .3 .4 1 .3 2-.1 1-1.1 2.8-1.1 4.2 0 1.4 1.2 2.8 1.1 4.2-.1 1.4-1.2 3.3-1.4 4M17.2 197.2c.2 .7 .9 3.1 1.4 4 .5 .9 1.4 .8 1.7 1.4 .3 .6 .3 .9 .4 1.9 .1 1-.1 3.5-.1 4.2M15.3 111.1c.4 .3 1.6 1.3 2.1 2 .5 .7 .4 1.2 .9 2.2 .5 .9 1.6 2.6 2 3.5 .4 .9 .2 1.8 .2 2.1M44.8 108.6c-.3 .7-.6 3-1.6 4-1 1-3.1 1.5-4.5 2.2-1.4 .7-3.2 1.8-3.8 2.1M6.3 152.7c-.1 .5-.9 1.7-.7 3 .2 1.2 1.3 3.7 1.6 4.5M16.1 203c.4 .6 1.6 2.2 2.6 3.3 1 1.1 2.3 2.8 3.2 3.4 .9 .6 1.3 .1 2.4 .2 1.1 .2 3.5 .6 4.2 .7M1.6 202.6c.1 .6 .5 2 .8 3.3 .3 1.3 .7 3.8 .8 4.6M4.1 104.7c-.2 .5-1.1 2.2-1.2 3.2-.1 1 0 1.4 .3 2.6 .3 1.2 1.3 3.7 1.5 4.5M6 158.2c.2 .5 1.2 1.7 1.5 3 .3 1.3 .5 3.9 .6 4.7M53 192.3c0 .4 .2 1.3 .1 2.2-.1 .9-.9 1.9-.9 3.1 0 1.2 .7 2.7 .7 4 0 1.3-.5 3.2-.6 3.9M27.4 68.4c-.4 .3-1.3 1.7-2.4 2-1.1 .3-3.3 0-4.4 0-1.1 0-1-.4-2-.2-1 .2-3.3 1.3-4 1.6M42.8 169.6c.7 .2 3.1 1.1 4.2 1.3 1.1 .2 1.8-.2 2.2-.3M39 226.1c.2 .4 1.1 1.7 1.3 2.4 .2 .7 .4 1.5 .1 2.1-.3 .6-1.4 1.3-1.7 1.6M45.6 217.9c.1 .3 .1 1.4 .8 2.1 .7 .7 2.9 1.6 3.5 1.9M32.6 162.6c.2 .3 .4 1.3 1 2 .6 .7 1.7 2.1 2.7 2.4 1 .3 2.2 .2 3.1-.5 .9-.7 1.9-3 2.3-3.6M48.1 202.3c-.2 .7-.4 3.1-1.2 4-.8 .9-3.1 1.3-3.7 1.5M30.1 175.5c0 .8 0 3.5 .1 4.6 .1 1.1 .5 1.8 .6 2.2M17.6 192.5c.5 .4 1.9 2 2.8 2.4 .9 .4 1.8-.2 2.6-.1 .8 .1 1 .7 2 .6 1-.1 3.5-.8 4.2-1M22.4 236.7c-.6 .2-2.5 1.2-3.8 1.2-1.3 0-2.9-.2-4.1-1-1.2-.7-2-2.9-3.2-3.5-1.2-.6-3.4 0-4.1 0M39.5 210c-.3 .3-.8 1.4-1.5 2-.7 .6-2.3 1.5-2.8 1.8M14.7 100.1c.4 .3 2 1.2 2.4 2 .4 .7 .1 1.4 .2 2.5 .1 1.1 .5 3.2 .6 3.9M36.1 190.7c.1 .4 0 2 .5 2.7 .5 .7 2.2 1 2.8 1.7 .6 .7 .7 2.1 .9 2.5M44.7 195c.1 .6 .3 2.3 .8 3.5 .5 1.2 2 3.2 2.4 3.8M36.4 113.4c0 .4 0 1.4-.1 2.5-.1 1.1-.4 2.4-.4 3.9 0 1.4 .2 4 .2 4.8M53 178c0 .7 .2 2.7-.3 3.9-.5 1.2-2.5 2.6-3 3.1M41.4 126.3c.2 .6 1.4 2.5 1.5 3.5 .1 1-.8 1.9-1 2.3M16.5 118.2c-.1 .3-.3 1.2-.8 2.1-.5 .9-1.8 2.7-2.2 3.3M38 188.1c.1 .6 .4 2.8 .9 3.7 .5 .9 2 1.3 2.4 1.6M3.9 42.9c-.1 .6-.3 2.3-.5 3.6-.2 1.3-.5 3.3-.6 3.9M26.1 220c0 .5 .4 2.1 .2 3.2-.2 1-.6 2.4-1.1 3.1-.5 .7-1.7 .8-2 1M19.9 206.5c.4 .1 1.3 .6 2.2 .7 .9 .1 2.5 .1 3 .1M36.2 209.1c.2 .4 .8 1.3 1 2.3 .2 1 .3 3.2 .3 3.8M10.5 68.7c.2 .5 .4 2.1 1.1 3 .6 .9 2.3 2 2.8 2.4M3.8 43c-.1 .8-.9 3.4-.8 4.7 .1 1.3 1.2 2.8 1.5 3.3M21.4 187.4c.5 .4 2.2 1.3 2.9 2.1 .7 .8 .9 2.1 1.1 2.5M16.5 116.2c-.6 .3-2.1 1.8-3.3 2.1-1.3 .3-3.5-.3-4.2-.3M14 218.6c0 .3-.2 1.1 .2 2.1 .4 1 2.1 3.2 2.5 3.8M1.7 127.7c.3 .5 1.4 2 2.1 2.9 .7 .9 1.7 1.4 2 2.6 .3 1.2-.3 4-.4 4.8M11.1 93.2c0 .8 0 3.7 .2 4.8 .2 1.1 1 1.6 1.2 1.9M43.2 152.6c-.4 .1-1.4 .2-2.2 .7-.8 .6-1.8 2.1-2.6 2.6-.8 .5-2 .2-2.4 .3M12.3 56.6c.6 .4 2.6 1.3 3.8 2.1 1.2 .9 2.4 2.4 3.3 3 .9 .6 1.7 .7 2.1 .8M40.8 135c0 .3-.2 1.3 .3 2 .5 .7 2.1 1.2 2.9 2 .8 .8 1 2 1.8 2.8 .8 .8 2.7 1.6 3.2 1.9M28.9 161c-.4 .3-1.9 1.2-2.3 2.1-.4 .8 0 2.5 0 3M49.7 171.3c-.1 .4-1 1.4-.8 2.5 .2 1.1 1.2 3.4 2 4.3 .7 .8 1.6 .8 2.5 .8 .9 0 2.6-.9 3.1-1.1M11.1 189.8c-.2 .5-.6 2.4-1.1 3-.5 .6-1.6 .7-1.9 .8M13.5 135.4c-.4 .4-1.9 1.4-2.5 2.4-.6 1-1.2 2.3-1.3 3.6-.1 1.3 .6 2.9 1 4.4 .4 1.5 1.2 4 1.5 4.8M18.7 121.4c.1 .7 .1 2.8 .6 4.1 .5 1.3 1.5 2.6 2.6 3.4 1.1 .8 2.9 .8 4.3 1.4 1.4 .6 3.3 1.8 3.9 2.2M27.6 149.6c.4 .3 .9 1.3 2.1 1.6 1.2 .3 3.7 .1 4.9 .2 1.2 .1 2 .1 2.4 .1M33.7 217.3c.5 .1 2.2-.1 3.3 .4 1.1 .5 2.9 2.2 3.5 2.7M14.7 154c.6 .5 2.4 2.3 3.7 3.2 1.3 .9 3.5 2 4.2 2.4M6 43.5c.6 .4 2.5 2.1 3.5 2.5 1 .4 1.6-.1 2.4-.4 .9-.3 2.3-1.2 2.7-1.5M38.5 181.1c-.1 .4-.3 1.8-.9 2.6-.6 .8-1.6 2.1-2.9 2.4-1.3 .3-3.9-.5-4.7-.6M11.2 55.2c-.5 .2-1.6 .9-2.9 1.3-1.3 .4-3.6 1.1-4.8 .9-1.2-.2-2-1.2-2.6-1.9-.6-.7-.8-2.2-.9-2.6M39.6 82.5c.3 .5 1.8 1.5 1.9 2.7 .1 1.2-.8 3.5-1 4.2M51.6 133.1c.7 .4 2.9 1.5 4.3 2.4 1.4 .9 3.4 2.3 4.1 2.8M23.3 66.8c0 .7 .3 2.9-.1 4.2-.4 1.3-1.7 2.5-2 3.5-.3 1 0 2 0 2.4M12.5 93.2c.4 .7 1.5 2.9 2.2 4.1 .7 1.2 1.8 2.7 2.2 3.3M26.3 106.4c.1 .7 .4 3 .5 4.1 .1 1.1 .4 1.7 .4 2.5 0 .8-.3 1.7-.3 2M9.3 113.9c-.5 .5-2.1 2.3-3.3 3.1-1.2 .8-2.5 .5-3.6 1.4-1.1 .9-2.5 3.3-3 3.9M44.4 100.2c-.1 .6-.4 2.4-.8 3.7-.4 1.3-1.4 3.6-1.7 4.3M11.5 43c.5 .4 2.1 1.3 2.8 2.4 .7 1.1 .8 3.2 1.2 4.2 .4 1 .7 1.3 1.4 1.7 .6 .4 2.1 .6 2.5 .7M52.2 197.1c-.1 .4-.9 1.1-.8 2.2 .1 1.2 1.2 3.9 1.5 4.7M19.5 144.5c-.3 .7-.8 3-1.5 3.9-.7 .9-1.9 .8-2.7 1.4-.7 .6-1.5 1.8-1.8 2.1M3.7 50.5c-.6 .4-2.7 1.6-3.7 2.3-1 .7-2.1 1.4-2.5 1.7M10.9 225.8c-.4 .6-1.9 2.3-2.5 3.4-.5 1.1-.7 2.7-.8 3.2M1 102.3c.2 .3 .9 1.2 1.1 2 .2 .7 .5 1.4 .3 2.5-.2 1.1-1.3 3.4-1.6 4.1M13.4 58.7c.4 .4 1.1 1.8 2.2 2.5 1.1 .7 3 1.1 4.5 1.6 1.5 .4 3 .7 4.4 1.1 1.4 .4 3.4 1 4.1 1.2M30.3 106.4c.6 .3 2.8 1 3.8 1.5 1 .5 2 1.4 2.4 1.7M40.1 162.9c-.8 .2-3.6 .3-4.9 1-1.3 .8-2.6 2.9-3.1 3.5M3.6 132.6c-.4 .6-1.6 2.3-2.1 3.6-.5 1.3-.4 3.2-.8 4.3-.4 1.1-1.1 1.7-1.6 2.4-.5 .7-1.3 1.3-1.6 1.6M5.2 49.8c-.1 .4-.7 1.7-.5 2.5 .2 .8 1.4 1.8 1.7 2.2M18.6 197c-.1 .7-.9 2.9-.8 4 .1 1.1 1.1 1.4 1.6 2.4 .5 1 1.2 3.2 1.4 3.8M46.6 142.7c.2 .8 1 3.2 1.4 4.6 .4 1.4 .9 2.6 .9 4 0 1.4-.7 3.6-.8 4.3M18.3 50.2c.1 .7 .5 3 .3 3.9-.2 .9-1.2 1.3-1.5 1.5M27 163.9c.1 .8 .2 3.3 .3 4.5 .1 1.3 .1 2.5 .1 3M8.4 179.5c0 .3-.3 1.3 .3 2.1 .6 .8 2.2 2.5 3.1 3 .9 .5 1.6 0 2.4 0 .8 0 2 .1 2.4 .1M10.1 193c-.3 .4-1 1.8-1.6 2.7-.6 .9-1.3 2.2-2 2.7-.7 .5-1.8 .2-2.2 .3M54.5 184c0 .8 .1 3.6 .2 4.9 .1 1.3 .3 2.4 .3 2.9M41.5 186.8c.5 .7 1.8 2.6 2.7 3.9 .9 1.3 2.2 3.2 2.6 3.8M29.7 202.8c.2 .5 .6 1.8 1.2 2.8 .6 1 1.9 2.5 2.6 3.3 .7 .8 1.5 .7 1.9 1.7 .4 1 .6 3.7 .7 4.4M44.3 161.3c-.1 .5 .3 1.8-.4 2.7-.7 .9-2.8 2-3.9 2.6-1.1 .6-2.2 .9-2.7 1.1M22.9 96.8c-.3 .7-.9 3.4-1.8 4.4-.9 1-2.9 1.5-3.5 1.8M53.3 200.8c0 .4 .1 1.6 .1 2.5 0 .9-.1 2 0 3 .1 1 0 2 .3 2.9 .3 .9 1.4 2.1 1.7 2.5M41.4 174.2c0 .7 .3 3.5 0 4.5-.3 1-1.4 1.4-1.7 1.7M43.2 175.4c-.5 .5-1.7 2.7-3 3.2-1.3 .5-4.2 0-5 0M27.3 132.4c0 .7-.3 3.1-.1 4.1 .2 1 1.1 1.5 1.3 1.8M1.5 114c.3 .6 1.2 2.7 1.8 3.8 .6 1.1 1.8 1.5 2 2.7 .2 1.2-.7 3.7-.8 4.4M18 166.5c-.1 .5-.1 1.8-.6 2.9-.6 1.1-1.8 2.9-2.7 3.6-.9 .7-2.5 .5-3 .6M12.1 148.6c.1 .7-.2 2.9 .6 4 .7 1.1 2.7 1.9 3.9 2.6 1.2 .7 2.2 1.2 3.4 1.7 1.2 .5 3.2 1.2 3.9 1.4M5.4 144.7c.1 .5 .5 2 .3 3.1-.2 1.2-1 3-1.7 3.8-.7 .8-1.3 .5-2.4 1.2-1.1 .7-3.4 2.3-4.1 2.8M22.1 182c-.5 .1-2 .7-3 .4-.9-.3-2.3-1.8-2.7-2.2M28.5 190.4c.5 .4 2.5 1.1 3.2 2.2 .7 1.1 .9 3.6 1.1 4.3M9.5 43.5c.1 .8-.1 3.2 .5 4.6 .6 1.4 2.4 3.2 2.9 3.8M1.4 140.5c-.4 .7-1.5 2.8-2.4 4.2-.9 1.4-2 3.1-2.8 4-.8 .9-1 .8-1.8 1.6-.8 .8-2.4 2.8-2.9 3.3M34.9 91.8c.1 .4 .4 1.8 .4 2.6-.1 .8 .1 1.4-.7 2.1-.8 .7-3.2 1.7-3.9 2.1" fill="none" stroke="#00dc00" stroke-width="2.2" stroke-linecap="round"/><path d="M80.8 25.5c-1 .5-4.5 2.4-6.3 3.2-1.8 .8-4 1.2-4.8 1.5M108.1 82.4c-.6 .6-2.3 2.1-3.7 3.4-1.4 1.2-3.9 2.4-4.6 4.1-.7 1.8 1.1 4.2 .3 6.4-.8 2.2-4.1 5.7-4.9 6.8M62.3 35.2c1.1 1 4.3 4.7 6.6 6.1 2.3 1.4 6.3 1.8 7.5 2.2M29.8 17.7c.5 .9 2 3.4 3.2 5.3 1.2 1.9 3.2 4.1 4.3 5.8 1.1 1.7 1.2 3 2.1 4.2 .9 1.2 2.9 2.6 3.5 3.1M115.3 65.1c.7 .8 2.1 3.9 3.9 5.1 1.8 1.2 4.9 2 6.7 1.9 1.8-.1 3.5-1.9 4.2-2.3M60.5 39c-.5 1.1-2.2 4.5-3.2 6.8-1 2.2-1.5 4.4-2.6 6.7-1 2.3-3.1 6.1-3.7 7.3M71.5 56c-.1 1-.3 4.1-.6 6-.3 1.9-.2 3.4-1.1 5.3-.9 1.9-3.6 3.5-4.3 6-.7 2.5 .1 7.2 .1 8.7M118.7 64.9c.6 1.2 2.6 4.9 3.4 7.2 .7 2.3 .2 5 1.1 6.7 .9 1.7 3.3 3.1 4 3.7M92.5 88.7c-.5 .8-2 3.4-3.1 5-1.1 1.6-1.6 3-3.3 4.7-1.7 1.7-5.5 4.7-6.6 5.6M71.5 36.6c-.5 1-1.7 4.8-2.7 6.2-1 1.4-2 2-3.3 2.4-1.3 .5-3-.7-4.4 .3-1.4 1-3.5 4.7-4.2 5.7M133.7 31.7c.7 .7 3.3 2.5 4.4 3.9 1.1 1.4 1.1 3.3 2 4.6 .9 1.3 2 2.3 3.2 3.4 1.2 1.1 3.2 2.8 3.9 3.3M136 11.8c1.4 .4 5.6 1.6 8.4 2.2 2.8 .6 6.4 .6 8.5 1.3 2.1 .7 2.1 1.7 4.1 2.7 2 1 6.4 2.6 7.7 3.1M113 65.7c0 .7-.1 3 .1 4.4 .2 1.4 1.1 3.3 1.3 4M104.2 18.5c-.1 .8 .6 3.3-.4 4.9-1 1.6-4.9 3.7-5.9 4.5M65.2 43c1 .3 4.4 .5 6.1 1.9 1.7 1.4 3.2 5.3 3.9 6.3M119.1 68.9c-.5 1-2.3 4.3-3.1 5.9-.8 1.6-.5 2.1-1.4 3.9-.9 1.8-3.3 5.8-3.9 7M90.2 37.1c-.7 1.2-3.6 4.8-4.2 7.1-.6 2.3 .6 5.7 .7 6.8M26.3 42.2c-.9 .6-3.3 3.3-5.4 3.7-2.1 .4-6.2-1.1-7.4-1.3M126.7 39.8c-.7 .9-2.4 4.5-4.1 5.6-1.7 1.1-5 .6-6 .7M92.3 34.8c1 1.1 4.5 4.4 6.2 6.5 1.7 2.1 3 4.6 3.9 6.2 .9 1.6 1.3 3.1 1.6 3.7M48.9 70.7c-.1 .9 .2 4-.8 5.6-1 1.6-3.2 3.6-5.5 3.9-2.2 .3-6-1-8-2.2-2-1.2-3.5-4.1-4.2-4.9M12.4 45.6c-.4 .9-1.5 4.2-2.5 5.6-1 1.4-2.5 1.6-3.5 2.7-1 1.1-1.2 3-2.3 3.9-1.1 .9-3.5 1.4-4.2 1.7M66.3 79.9c.6 .8 3 3.5 3.7 5 .7 1.5-.5 2.9 .2 4.2 .7 1.3 3.1 2.2 4.1 3.7 1 1.4 1.4 4.2 1.7 5M75.1 58c-.9 1-3.6 4.6-5.6 5.7-2 1.1-4.4 1.5-6.2 1-1.8-.5-2.8-3.2-4.7-3.8-1.8-.6-5.3 .2-6.4 .2M112.4 15.9c-.9 .8-3 4-5.2 4.7-2.2 .7-6.4-.3-7.7-.4M128.7 28.6c.8 .7 3.7 2.3 4.6 4.4 .9 2.1 .5 6.2 .8 8.2 .2 2 .6 3.4 .7 4.1" fill="none" stroke="#00dc00" stroke-width="2.1" stroke-linecap="round"/><path d="M348.6 120.6c-.5 1.1-1.7 4.6-3.1 6.7-1.4 2.1-3.3 4.2-5.1 5.9-1.8 1.6-4.8 3.3-5.8 4M394.8 56.4c0 1 .6 4.3 .1 5.9-.5 1.6-2.7 3.2-3.2 3.8M386.4 108.3c.1 .8 .2 3.1 .8 4.8 .6 1.7 2 3.7 2.9 5.1 1 1.4 2.3 2.7 2.8 3.2M371.6 87.3c.8 1 3.3 4.2 4.6 6.2 1.3 2 2.8 4.8 3.4 5.8M340.6 43.5c-.2 1-1.4 3.8-1.1 5.7 .3 1.9 2.9 3.7 3.1 5.5 .2 1.9-1.7 4.7-2 5.6M331.1 68c-.3 1.3-1.2 5.6-1.8 7.6-.6 2-1.2 2.3-1.7 4.3-.5 2-1.1 6.4-1.3 7.7M358.4 63.9c-.1 1-.6 3.9-.5 5.8 0 1.9 .7 4.8 .8 5.8M387.2 151.3c-.6 1.2-1.8 5.5-3.3 7.1-1.5 1.7-3.8 1.6-5.5 2.8-1.8 1.2-4.2 3.7-5 4.4M365.6 62c-.8 .9-3.6 3.3-4.6 5.1-1 1.8-1.1 4.6-1.3 5.5M298.9 92.1c-.5 1-1.4 4.7-3.2 5.9-1.8 1.2-6.3 1.2-7.5 1.5" fill="none" stroke="#00dc00" stroke-width="2.1" stroke-linecap="round"/><path d="M87.1 196.4c.7 0 3.1-.1 4 .2 .9 .3 1.2 1.2 1.5 1.5M87.7 183.5c-.2 .5-.8 2.1-.9 2.8-.1 .7 .4 .9 .4 1.5 0 .6-.3 1.4-.7 1.8-.4 .4-1.3 .7-1.6 .8M80.6 171c.2 .7 1 2.8 1.1 3.9 .1 1.1 0 2.1-.3 2.9-.3 .8-1.3 1.7-1.6 2M95.7 183.4c.2 .1 .8 .5 1.3 .8 .5 .2 .8 .5 1.5 .7 .7 .2 1.9 .5 2.8 .6 .9 .1 2-.1 2.4-.1M74.8 185.3c.1 .3 .1 1.2 .7 1.8 .6 .6 2.4 1.6 2.9 1.9M80.1 187.3c-.2 .4-1 1.5-1.2 2.4-.2 .9 .3 2.5 .1 3.3-.2 .8-1.1 1.2-1.3 1.4M74.3 200.3c-.1 .4-.5 1.5-.3 2.4 .2 .9 1.3 2.1 1.4 3.2 .1 1.1-.5 2.2-.7 3.1-.2 .9-.4 2.2-.5 2.6M96.9 189.3c0 .4-.1 1.2 .1 2.1 .2 .9 .8 2.7 1 3.2M77.9 194.6c-.1 .4-.4 1.4-.5 2.3-.1 .9-.5 2.4-.3 3.2 .2 .8 1.1 1.2 1.3 1.4M85.9 160.2c.3 .3 1.1 1.1 1.5 1.6 .4 .5 .8 1.1 1 1.3M89.9 162.4c.2 .5 .4 2.2 1 3 .6 .8 2.3 1.3 2.8 1.6M68.9 175.9c.4 .3 1.4 1.4 2.2 1.8 .7 .4 1.9 .5 2.3 .6M86.5 171.5c.4 .3 1.7 1.8 2.4 2.1 .7 .3 1.2-.4 1.8-.1 .6 .3 1.7 1.7 2 2.1M80.1 181.7c.2 .6 .8 2.8 1.4 3.6 .6 .8 1.8 .4 2.4 1 .6 .6 .9 2.2 1.4 2.7 .5 .5 1.4 .4 1.7 .5" fill="none" stroke="#fa3c3c" stroke-width="1.8" stroke-linecap="round"/><path d="M295.8 273.2c1.4-.9 5.5-3.2 8.7-5.2 3.2-2 5.8-4.1 10.5-7 4.7-2.9 11.7-7 17.5-10.5 5.8-3.5 11.7-7 17.5-10.5 5.8-3.5 11.7-7.3 17.5-10.5 5.8-3.2 11.7-4.9 17.5-8.7 5.8-3.8 11.7-9.3 17.5-14 5.8-4.7 14.6-11.7 17.5-14M15.8 278.5l15.7-.9M46.4 277.1c1-.3 2.2-.9 6.1-2.1 3.9-1.2 12.3-4 17.5-5.2 5.2-1.2 8.5-1.8 14-1.8 5.5 0 16 1.5 19.2 1.8M117.2 270.8c.9 .1 1.5 .3 5.3 .7 3.8 .4 11.7 2 17.5 1.7 5.8-.3 11.7-2.2 17.5-3.4 5.8-1.2 11.7-3.3 17.5-3.6 5.8-.3 11.7 1.1 17.5 1.8 5.8 .7 8.7 1.9 17.5 2.6 8.8 .7 23.3 1.6 35 1.8 11.7 .1 29.2-.8 35-.9M20.1 323.1c1 .5 2.1 1.7 6.1 2.7 3.9 1 12.6 3.1 17.6 3.4 5 .3 7.8 0 12.2-1.7 4.4-1.7 9.3-6.6 14-8.7 4.7-2 9.3-1.8 14-3.6 4.7-1.8 9.3-5 14-7 4.7-2 8.9-4 14-5.2 5.1-1.2 13.8-1.5 16.6-1.8M146.1 300.4c.7-.4-.4-2.2 4.4-2.6 4.8-.4 14.6-.1 24.5 0 9.9 .1 23.3 .2 35 .8 11.7 .6 23.3 1.9 35 2.6 11.7 .7 29.2 1.5 35 1.8M280 301.2l27.1-1.7M321.1 296.9c1.9-1 6.6-3 11.4-6.1 4.8-3.1 12.8-8.5 17.5-12.3 4.7-3.8 6.4-7.9 10.5-10.5 4.1-2.6 8.4-3.4 14-5.2 5.6-1.7 11.7-3.8 19.3-5.3 7.6-1.5 21.8-2.9 26.2-3.5M0 350.2c1.8 .3 6.7 .9 10.5 1.8 3.8 .9 10.3 2.9 12.3 3.5M40.2 359.4c.9-.1 2.1 0 5.3-.4 3.2-.4 8.7-1.5 14-1.8 5.3-.3 12.3 .3 17.5 0 5.2-.3 9.3-.3 14-1.7 4.7-1.4 8.8-4.4 14-7 5.2-2.6 11.7-6.6 17.5-8.7 5.8-2 11.7-2.7 17.5-3.6 5.8-.9 10.1-1.6 17.5-1.7 7.4-.1 22.6 .7 27.1 .9M199.5 334.1c4.7-.4 14.6-1.7 28-2.2 13.4-.5 43.7-.8 52.5-.9M280 331.9c5.8 .6 23.6 2.5 35 3.5 11.4 1 27.7 2.2 33.2 2.6M358.8 331c1.2-2.6 4.4-11.7 7-15.8 2.6-4.1 4.3-6.1 8.7-8.7 4.4-2.6 11.7-4.4 17.5-7 5.8-2.6 12.8-6.6 17.5-8.7 4.7-2 8.7-3 10.5-3.6M150.5 373c4.1-.9 14.6-3.4 24.5-5.2 9.9-1.7 23.3-4 35-5.3 11.7-1.3 27-2 35-2.6 8-.7 10.9-1.1 13.1-1.3M273 359c4.1 .3 14.6 .9 24.5 1.8 9.9 .9 23.3 2.2 35 3.4 11.7 1.2 26.8 3.9 35 3.6 8.2-.3 9.9-4.7 14-5.3 4.1-.6 7 2.3 10.5 1.7 3.5-.6 7.6-2.6 10.5-5.2 2.9-2.6 4.1-7.3 7-10.5 2.9-3.2 8.7-7.3 10.5-8.7M266 189.2c1.8 .6 6.4 2.7 10.5 3.6 4.1 .9 11.7 1.4 14 1.7M266 355.5c1.2 .9 4.7 5.3 7 5.3 2.3 0 5.8-4.4 7-5.3M285.2 154c.6 2 2.4 8.1 3.6 12.2 1.2 4.1 2.5 7.9 3.4 12.3 .9 4.4 1.8 8.7 1.8 14 0 5.3-1.5 14.6-1.8 17.5" fill="none" stroke="#fa3c3c" stroke-width="2.3" stroke-dasharray="10,5"/><path d="M234.5 205l14-.9M260.8 205c2 1.8 7.8 8.2 12.2 10.5 4.4 2.3 8.2 3.2 14 3.5 5.8 .3 14-1.2 21-1.8 7-.6 14.6 0 21-1.7 6.4-1.7 11.7-5.2 17.5-8.7 5.8-3.5 11.1-9.7 17.5-12.3 6.4-2.6 15.2-2.1 21-3.5 5.8-1.4 9.9-3.2 14-5.2 4.1-2 7-4.9 10.5-7 3.5-2 8.7-4.4 10.5-5.3M234.5 205c.6 1.5 1.7 6.2 3.5 8.8 1.8 2.6 4.7 4.4 7 7 2.3 2.6 7 6.1 7 8.7 0 2.6-3.5 6.4-7 7-3.5 .6-10.5-1.7-14-3.5-3.5-1.8-5.2-4.1-7-7-1.8-2.9-3.5-7.6-3.5-10.5 0-2.9 2.9-5.8 3.5-7M180.2 257.5c2 1.7 7.9 7 12.3 10.5 4.4 3.5 10.7 9.1 14 10.5 3.3 1.4 5.1-1.7 6.1-2.1M222.2 272.4c2.6 .4 11.4 .4 15.8 2.6 4.4 2.2 6.4 6.4 10.5 10.5 4.1 4.1 8.7 8.7 14 14 5.3 5.3 14.1 13.6 17.5 17.5 3.4 3.9 2.2 4.7 2.6 5.6M290.5 326.6c1.2 .7 2.9 2.2 7 4.4 4.1 2.2 11.7 6.5 17.5 8.8 5.8 2.3 11.7 3.5 17.5 5.2 5.8 1.7 11.7 2.9 17.5 5.2 5.8 2.3 11.7 5.6 17.5 8.8 5.8 3.2 13.4 8.2 17.5 10.5 4.1 2.3 5.8 2.9 7 3.5M262.5 229.5c1.7-1.2 7-6.7 10.5-7 3.5-.3 6.4 2.4 10.5 5.3 4.1 2.9 10.4 10.6 14 12.2 3.6 1.6 6.6-2.2 7.9-2.6M313.2 233.9c1.5-.1 5-.5 8.8-.9 3.8-.4 10.5-2.4 14-1.8 3.5 .6 4.7 2.1 7 5.3 2.3 3.2 5.8 8.7 7 14 1.2 5.3 .6 11.7 0 17.5-.6 5.8-3.5 12.2-3.5 17.5 0 5.3 1.7 9.3 3.5 14 1.8 4.7 4.1 9.6 7 14 2.9 4.4 5.8 8.2 10.5 12.3 4.7 4.1 11.7 7.8 17.5 12.2 5.8 4.4 12.2 9.6 17.5 14 5.3 4.4 11.1 8.7 14 12.2 2.9 3.5 2.9 7.3 3.5 8.8M357 233c1.8-2.3 6.4-9.9 10.5-14 4.1-4.1 10.5-7 14-10.5 3.5-3.5 4.7-9.6 7-10.5 2.3-.9 7.6 2.3 7 5.2-.6 2.9-7 7.9-10.5 12.3-3.5 4.4-7 8.7-10.5 14-3.5 5.3-7.3 12.3-10.5 17.5-3.2 5.2-6.8 9.3-8.8 14-2 4.7-2.8 11.7-3.4 14M248.5 275c2.3 1.8 8.7 7.6 14 10.5 5.3 2.9 12.8 5.3 17.5 7 4.7 1.7 7.6 1.7 10.5 3.5 2.9 1.8 4.1 4.7 7 7 2.9 2.3 8.7 5.8 10.5 7M262.5 245.2c1.2 1.5 4.1 5.9 7 8.8 2.9 2.9 7.6 6.5 10.5 8.8 2.9 2.3 5.8 4.3 7 5.2M259 248.8c1.2-.3 5.2-2.4 7-1.8 1.8 .6 4.1 4 3.5 5.2-.6 1.2-5.3 2.4-7 1.8-1.7-.6-2.9-4.3-3.5-5.2M392 198c1.8 1.8 7 7.6 10.5 10.5 3.5 2.9 7.6 4.7 10.5 7 2.9 2.3 5.8 5.8 7 7M399 247c1.8 1.2 7 5.2 10.5 7 3.5 1.8 8.7 2.9 10.5 3.5M388.5 275c1.7 1.8 7.6 6.4 10.5 10.5 2.9 4.1 4.7 9.3 7 14 2.3 4.7 4.7 10.5 7 14 2.3 3.5 5.8 5.8 7 7M199.5 247c2.3-.6 9.3-3.5 14-3.5 4.7 0 11.1 2.3 14 3.5 2.9 1.2 5.3 2.9 3.5 3.5-1.8 .6-9.3 0-14 0-4.7 0-11.1 .6-14 0-2.9-.6-2.9-2.9-3.5-3.5M182 236.5c1.8-.3 8.2-2.3 10.5-1.7 2.3 .6 4.7 4 3.5 5.2-1.2 1.2-8.2 2.4-10.5 1.8-2.3-.6-2.9-4.4-3.5-5.3M70 241.8c2.3 .6 9.3 2.2 14 3.4 4.7 1.2 9.8 2.1 14 3.6 4.2 1.5 9.5 4.3 11.4 5.2M120.8 260.1c2.6 .7 10.8 3.4 15.7 4.4 4.9 1 9.9 1.7 14 1.7 4.1 0 8.2 .3 10.5-1.7 2.3-2 1.2-7.6 3.5-10.5 2.3-2.9 7-5.2 10.5-7 3.5-1.8 7.6-2.3 10.5-3.5 2.9-1.2 4.4-1.2 7-3.5 2.6-2.3 6.4-6.4 8.7-10.5 2.3-4.1 3-8.7 5.3-14 2.3-5.3 6.4-11.7 8.7-17.5 2.3-5.8 3.2-13.4 5.3-17.5 2.1-4.1 5.8-5.8 7-7M45.5 205c.9 1.8 3 7 5.3 10.5 2.3 3.5 5.5 7.6 8.7 10.5 3.2 2.9 6.4 5.2 10.5 7 4.1 1.8 9.3 3.5 14 3.5 4.7 0 9.3-2.3 14-3.5 4.7-1.2 9.9-4.1 14-3.5 4.1 .6 8.8 5.8 10.5 7M84 208.5c2.3-.6 9.8-2.5 14-3.5 4.2-1 9.5-2.2 11.4-2.6M120.8 205.9c2.6-.1 11-1.3 15.7-.9 4.7 .4 8.8 3.8 12.3 3.5 3.5-.3 5.5-3.6 8.7-5.3 3.2-1.8 6.4-4.9 10.5-5.2 4.1-.3 9.9 1.8 14 3.5 4.1 1.7 7.6 4.7 10.5 7 2.9 2.3 5.8 5.8 7 7M143.5 220.8c1.7-.9 7-5 10.5-5.3 3.5-.3 8.2 1.7 10.5 3.5 2.3 1.8 4.7 5.2 3.5 7-1.2 1.8-7 3.2-10.5 3.5-3.5 .3-8.2-.3-10.5-1.7-2.3-1.4-2.9-5.8-3.5-7M182 261c1.8 1.2 7 4.7 10.5 7 3.5 2.3 7.6 5.2 10.5 7 2.9 1.8 5.8 2.9 7 3.5M122.5 240c1.2-.6 5.3-3.8 7-3.5 1.7 .3 4.1 3.9 3.5 5.3-.6 1.4-5.2 3.7-7 3.4-1.8-.3-2.9-4.3-3.5-5.2M140 254c1.2-.6 5.5-3.8 7-3.5 1.5 .3 2.7 4.1 1.8 5.3-.9 1.2-5.5 2-7 1.7-1.5-.3-1.5-2.9-1.8-3.5M59.5 163c1.7 1.8 8.2 6.4 10.5 10.5 2.3 4.1 3.2 9.9 3.5 14 .3 4.1-1.4 8.7-1.7 10.5M73.5 163c.6 1.8 3.2 7 3.5 10.5 .3 3.5-1.5 8.7-1.8 10.5M49 0c.6 2.3 1.8 9.3 3.5 14 1.7 4.7 6.4 9.3 7 14 .6 4.7-4.7 9.9-3.5 14 1.2 4.1 9.3 6.4 10.5 10.5 1.2 4.1-4.1 9.9-3.5 14 .6 4.1 4.7 6.4 7 10.5 2.3 4.1 4.1 10.5 7 14 2.9 3.5 7 4.7 10.5 7 3.5 2.3 7.6 4.7 10.5 7 2.9 2.3 5.8 5.8 7 7M77 0c1.2 2.9 4.7 12.2 7 17.5 2.3 5.3 4.7 9.3 7 14 2.3 4.7 4.7 9.6 7 14 2.3 4.4 4.7 8.8 7 12.3 2.3 3.5 4.1 6.1 7 8.7 2.9 2.6 8.8 5.8 10.5 7M105 0c1.2 2.3 4.1 9.9 7 14 2.9 4.1 7 7 10.5 10.5 3.5 3.5 7.6 7 10.5 10.5 2.9 3.5 5.2 7.6 7 10.5 1.8 2.9 2.9 5.8 3.5 7M133 0c.9 1.8 2.9 7.6 5.2 10.5 2.3 2.9 6.2 7 8.8 7 2.6 0 5.2-4.1 7-7 1.8-2.9 2.9-8.7 3.5-10.5M17.5 31.5c1.7 .6 7.6 1.2 10.5 3.5 2.9 2.3 4.1 7 7 10.5 2.9 3.5 7.6 6.4 10.5 10.5 2.9 4.1 4.7 9.9 7 14 2.3 4.1 5.8 8.8 7 10.5M0 35c1.8 1.2 7.6 4.1 10.5 7 2.9 2.9 4.7 6.4 7 10.5 2.3 4.1 4.1 9.9 7 14 2.9 4.1 8.7 8.7 10.5 10.5M98 98c1.8-1.2 7.6-4.7 10.5-7 2.9-2.3 4.7-4.7 7-7 2.3-2.3 7-8.8 7-7 0 1.8-4.7 12.8-7 17.5-2.3 4.7-4.7 7.6-7 10.5-2.3 2.9-5.3 8.2-7 7-1.7-1.2-2.9-11.7-3.5-14M73.5 75.2c.9-.3 4.1-2.3 5.3-1.7 1.2 .6 2.3 4.1 1.7 5.3-.6 1.2-4.1 2.3-5.3 1.7-1.2-.6-1.4-4.4-1.7-5.3M89.2 75.2c.7-.1 3.5-1.4 4.4-.8 .9 .6 1.5 3.5 .9 4.4-.6 .9-3.5 1.4-4.4 .8-.9-.6-.8-3.7-.9-4.4M168 28c1.2-.3 5.5-2.4 7-1.8 1.5 .6 2.7 3.8 1.8 5.3-.9 1.5-5.5 4.1-7 3.5-1.5-.6-1.5-5.8-1.8-7M57.8 126c1.4-.6 6.1-1.8 8.7-3.5 2.6-1.7 5-4.1 7-7 2-2.9 4.4-8.7 5.3-10.5M59.5 140c1.2 2.9 4.7 11.7 7 17.5 2.3 5.8 5.3 11.7 7 17.5 1.7 5.8 3.2 11.7 3.5 17.5 .3 5.8-1.5 14.6-1.8 17.5M231 103.2c.9-.3 4-2.6 5.2-1.7 1.2 .9 2.4 5.5 1.8 7-.6 1.5-4 2.6-5.2 1.7-1.2-.9-1.5-5.8-1.8-7M262.5 84c1.7-1.2 7.6-5.2 10.5-7 2.9-1.8 5.8-2.9 7-3.5M262.5 98c1.2 1.2 4.1 5.2 7 7 2.9 1.8 8.7 2.9 10.5 3.5M332.5 98c1.7-1.5 7.3-8.2 10.5-8.8 3.2-.6 7.1 2.1 8.8 5.3 1.8 3.2 2 9.3 1.7 14-.3 4.7-3.5 9.3-3.5 14 0 4.7 4.1 9.9 3.5 14-.6 4.1-4.7 9.9-7 10.5-2.3 .6-5.3-3.5-7-7-1.7-3.5-1.7-10.5-3.5-14-1.8-3.5-5.2-4.1-7-7-1.8-2.9-2.9-8.8-3.5-10.5M357 105c1.8-1.2 7.6-4.1 10.5-7 2.9-2.9 4.1-8.2 7-10.5 2.9-2.3 9.3-5.3 10.5-3.5 1.2 1.8-3.5 9.9-3.5 14 0 4.1 4.7 7 3.5 10.5-1.2 3.5-9.3 6.4-10.5 10.5-1.2 4.1 4.1 9.3 3.5 14-.6 4.7-6.4 9.9-7 14-.6 4.1 4.7 9.3 3.5 10.5-1.2 1.2-7.6-1.2-10.5-3.5-2.9-2.3-7-6.4-7-10.5 0-4.1 6.4-9.3 7-14 .6-4.7-2.9-11.7-3.5-14M395.5 84c1.7-1.2 7-6.4 10.5-7 3.5-.6 8.2 1.2 10.5 3.5 2.3 2.3 2.9 8.7 3.5 10.5M399 122.5c1.8-.6 8.2-4.7 10.5-3.5 2.3 1.2 4.7 8.5 3.5 10.5-1.2 2-8.2 2.9-10.5 1.7-2.3-1.2-2.9-7.2-3.5-8.7M371 19.2c1.8 .3 9 .3 10.5 1.8 1.5 1.5 .1 6.1-1.7 7-1.7 .9-7.3-.3-8.8-1.8-1.5-1.5 0-5.8 0-7M344.8 22.8c1.2-.3 6.1-2.7 7-1.8 .9 .9-.6 6-1.8 7-1.2 1-4.3 0-5.2-.9-.9-.9 0-3.6 0-4.3M341.2 68.2c2.3-1.4 10.8-7.8 14-8.7 3.2-.9 6.7 1.2 5.3 3.5-1.4 2.3-10.8 9.6-14 10.5-3.2 .9-4.4-4.4-5.3-5.3M390.2 68.2c2 .3 10.5 .6 12.3 1.8 1.8 1.2 .4 4.6-1.7 5.2-2 .6-8.8-.5-10.6-1.7-1.8-1.2 0-4.4 0-5.3M371 66.5c1.8-.6 8.5-4.7 10.5-3.5 2 1.2 2.9 8.5 1.7 10.5-1.2 2-6.7 2.9-8.7 1.7-2-1.2-2.9-7.2-3.5-8.7M390.2 162.8c1.8-.3 8.6-2.7 10.6-1.8 2.1 .9 3.2 5.5 1.7 7-1.5 1.5-8.4 2.7-10.5 1.8-2.1-.9-1.5-5.8-1.8-7M379.8 164.5c.9 0 4.3-1.4 5.2 0 .9 1.4 .9 7.5 0 8.7-.9 1.2-4.3-.3-5.2-1.7-.9-1.4 0-5.8 0-7M266 73.5c2.3-1.2 9.9-6.4 14-7 4.1-.6 7.6 1.2 10.5 3.5 2.9 2.3 7 7 7 10.5 0 3.5-4.1 9.3-7 10.5-2.9 1.2-8.2-4.7-10.5-3.5-2.3 1.2-4.1 7-3.5 10.5 .6 3.5 7 7 7 10.5 0 3.5-4.1 9.3-7 10.5-2.9 1.2-8.2-.6-10.5-3.5-2.3-2.9-3.5-9.3-3.5-14 0-4.7 2.9-11.7 3.5-14M315 0c1.2 1.8 4.7 7.3 7 10.5 2.3 3.2 7 6.9 7 8.7 0 1.7-5 2.7-7 1.8-2-.9-4.3-5.8-5.2-7M166.2 29.8c1.8-.6 9.1-4.5 10.6-3.6 1.5 .9-.3 7-1.8 8.8-1.5 1.8-5.5 2.7-7 1.8-1.5-.9-1.5-5.8-1.8-7M231 105c.9-.3 4.2-2.7 5.2-1.8 1 .9 1.6 5.7 .9 7-.7 1.3-4.2 1.8-5.2 .9-1-.9-.7-5.1-.9-6.1M346.5 206.5c2.3-1.2 9.3-4.7 14-7 4.7-2.3 9.3-5.6 14-7 4.7-1.4 9.3-.3 14-1.7 4.7-1.4 8.7-5.2 14-7 5.3-1.8 14.6-3 17.5-3.6M231 203l17.5 0" fill="none" stroke="#00dc00" stroke-width="2.2" stroke-linejoin="round"/><path d="M318.6,6L304.1,5.8M332.9,6L318.5,4.6M347.2,6L332.8,4.1M361.5,6L347.1,4.2M375.8,6L361.4,4.2M390.1,6L375.9,3.2M318.6,22L304.1,22.5M332.9,22L318.4,21M347.2,22L332.8,20.1M361.5,22L347.1,20.3M375.8,22L361.4,20.8M390.1,22L375.8,19.4M318.6,38L304.1,39.2M332.9,38L318.4,38.9M347.2,38L332.7,38.3M361.5,38L347,38.1M375.8,38L361.3,38.4M318.6,54L304.2,55.3M332.9,54L318.4,55M347.2,54L332.8,55.5M361.5,54L347,55.1M375.8,54L361.3,54.5M304.3,70L290.4,74.2M318.6,70L304.6,73.9M332.9,70L318.9,73.9M347.2,70L333.1,73.5M361.5,70L347.3,73.1M375.8,70L361.5,72.4M304.3,86L291,91.7M318.6,86L305,91M332.9,86L319.3,91M347.2,86L333.5,90.7M361.5,86L347.5,89.8M375.8,86L361.8,89.8M304.3,102L291.7,109.2M318.6,102L305.6,108.3M332.9,102L319.6,107.8M347.2,102L333.9,107.7M361.5,102L347.7,106.4M375.8,102L361.9,106.1M304.3,118L292.1,125.9M318.6,118L306.1,125.3M332.9,118L320.4,125.3M347.2,118L334.5,125M361.5,118L348.7,124.9M375.8,118L362.9,124.7M290,134L281,145.4M304.3,134L292.9,142.9M318.6,134L306.2,141.6M332.9,134L320.7,141.9M347.2,134L334.4,140.9M361.5,134L349,141.3M375.8,134L364.3,142.9M290,150L283.6,163M304.3,150L295.1,161.2M318.6,150L308.7,160.6M332.9,150L322.2,159.7M347.2,150L336.2,159.5M361.5,150L351.2,160.2M290,166L286.1,180M304.3,166L294.6,176.8M318.6,166L309,176.9M332.9,166L322.9,176.5M347.2,166L337.2,176.5M361.5,166L356.5,179.6M375.8,166L379.9,179.9M275.7,182L274.2,196.4M290,182L288.5,196.4M304.3,182L303.4,196.5M318.6,182L313.6,195.6M332.9,182L335,196.4M347.2,182L350,196.2M361.5,182L365.9,195.8M375.8,182L386.9,191.4M390.1,182L401.1,191.5M404.4,182L415.4,191.4M261.4,198L264.7,212.1M275.7,198L274.5,212.5M290,198L285.5,211.8M304.3,198L297.5,210.8M318.6,198L311.9,210.8M332.9,198L324.8,210M347.2,198L346.3,212.5M361.5,198L367.3,211.3M375.8,198L386.9,207.3M390.1,198L401.3,207.3M404.4,198L416.2,206.4M418.7,198L430.5,206.4M247.1,214L261.5,215.3M261.4,214L274.5,220.2M275.7,214L279.2,228.1M290,214L287.8,228.3M304.3,214L299.6,227.7M318.6,214L313.4,227.5M332.9,214L326.8,227.2M347.2,214L344.8,228.3M361.5,214L365.4,228M375.8,214L384.5,225.6M390.1,214L400.5,224.1M404.4,214L415.9,222.9M418.7,214L430.2,222.8M218.5,230L233,229.9M232.8,230L247.3,230M247.1,230L261.6,228.8M261.4,230L275.9,230M275.7,230L283.2,242.4M290,230L291.6,244.4M304.3,230L305.6,244.4M318.6,230L319,244.5M332.9,230L333.3,244.5M347.2,230L350.2,244.2M361.5,230L367,243.4M375.8,230L383.3,242.4M390.1,230L399.2,241.3M404.4,230L414.5,240.4M418.7,230L429,240.2M261.4,246L275.9,246.5M275.7,246L283.5,258.2M290,246L291.8,260.4M304.3,246L305.9,260.4M318.6,246L320.8,260.3M332.9,246L338.4,259.4M347.2,246L355.3,258M361.5,246L369.6,258M375.8,246L384.1,257.9M390.1,246L399.5,257.1M404.4,246L414.2,256.6M418.7,246L428.6,256.6M247.1,262L260.5,256.4M261.4,262L275.7,259.9M275.7,262L287,271.1M290,262L293.8,276M304.3,262L306.8,276.3M318.6,262L322.3,276M332.9,262L340.2,274.6M347.2,262L356.1,273.4M361.5,262L370.2,273.6M375.8,262L384.8,273.3M390.1,262L400.2,272.4M404.4,262L414.6,272.3M418.7,262L428.9,272.3M218.5,278L222.6,264.1M232.8,278L241.2,266.2M247.1,278L256.7,267.2M261.4,278L272.5,268.7M275.7,278L290.1,276.8M290,278L291.1,292.5M304.3,278L303.4,292.5M318.6,278L320.8,292.3M332.9,278L337.2,291.8M347.2,278L353.7,290.9M361.5,278L368.9,290.5M375.8,278L385.2,289.1M390.1,278L400.5,288.1M404.4,278L414.7,288.2M418.7,278L429.3,287.9M175.6,294L187,285M189.9,294L194.1,280.1M204.2,294L212.4,282M218.5,294L222.9,280.2M232.8,294L241.2,282.2M247.1,294L256.1,282.6M261.4,294L271.7,283.8M275.7,294L289.4,289.1M290,294L289.6,308.5M304.3,294L302.1,308.3M318.6,294L319.9,308.4M332.9,294L332.7,308.5M347.2,294L351.1,308M361.5,294L366.7,307.5M375.8,294L386,304.3M390.1,294L401.9,302.4M404.4,294L416.2,302.5M418.7,294L430.6,302.3M18.3,310L26,297.7M161.3,310L175,305.2M175.6,310L188.7,303.8M189.9,310L202.7,303.2M204.2,310L217.2,303.5M218.5,310L231.2,303M232.8,310L244.6,301.5M247.1,310L259.9,303.3M261.4,310L275.1,305.1M275.7,310L289.7,313.8M290,310L302.7,316.9M304.3,310L312,322.3M318.6,310L325.4,322.8M332.9,310L334.2,324.4M347.2,310L351.3,323.9M361.5,310L367.2,323.3M375.8,310L385.9,320.4M390.1,310L401.9,318.5M404.4,310L416.9,317.3M418.7,310L431.2,317.4M18.3,326L25.1,313.2M32.6,326L39,313M147,326L161.1,322.6M161.3,326L175.5,322.9M175.6,326L189.4,321.5M189.9,326L203.8,321.9M204.2,326L218.2,322.3M218.5,326L232,320.7M232.8,326L246.4,321M247.1,326L260.9,321.5M261.4,326L275.6,323M275.7,326L289.4,330.6M290,326L303.6,330.9M304.3,326L317.1,332.8M318.6,326L331.4,332.9M332.9,326L344.5,334.6M347.2,326L355.7,337.7M361.5,326L370.9,337M375.8,326L385.9,336.4M390.1,326L401,335.6M404.4,326L416.1,334.6M418.7,326L430.4,334.6M4,342L11.4,329.5M18.3,342L24.9,329.1M32.6,342L38.8,328.9M46.9,342L53.1,328.9M61.2,342L68.5,329.5M132.7,342L144.6,350.3M147,342L159.4,349.5M161.3,342L175.8,341.2M175.6,342L189.9,339.7M189.9,342L203.9,338.4M204.2,342L218.2,338.3M218.5,342L232.4,337.9M232.8,342L246.9,338.8M247.1,342L261.4,339.7M261.4,342L275.8,340M275.7,342L290.1,343.4M290,342L304.3,344.5M304.3,342L318.5,345.2M318.6,342L331.6,348.5M332.9,342L345.2,349.7M347.2,342L357.8,351.9M361.5,342L371.7,352.3M375.8,342L386,352.3M390.1,342L400.3,352.3M404.4,342L414.2,352.7M418.7,342L428.6,352.6M4,358L11.7,345.7M18.3,358L25.3,345.3M32.6,358L39.2,345.1M46.9,358L53.8,345.2M61.2,358L68.6,345.5M89.8,358L101.3,349.2M104.1,358L117.3,364M118.4,358L130.4,366.1M132.7,358L145.1,365.5M147,358L161.2,360.8M161.3,358L175.7,356M175.6,358L190,356.3M189.9,358L204.1,355.3M204.2,358L218.3,354.6M218.5,358L232.6,354.8M232.8,358L247.1,355.6M247.1,358L261.5,356M261.4,358L275.8,356.3M275.7,358L290.2,358.5M290,358L304.4,359.4M304.3,358L318.7,359.3M318.6,358L332.7,361.5M332.9,358L345.6,364.9M347.2,358L358.4,367.2M361.5,358L371.9,368.1M375.8,358L386.1,368.2M390.1,358L400.1,368.5M404.4,358L414.1,368.7M418.7,358L428.5,368.7" fill="none" stroke="#000" stroke-width="1.15"/><path d="M308.3,3.9L304.1,5.8L308.2,7.8M322.8,3L318.5,4.6L322.4,6.9M337.2,2.7L332.8,4.1L336.7,6.5M351.5,2.8L347.1,4.2L351,6.6M365.8,2.8L361.4,4.2L365.3,6.7M380.3,2.1L375.9,3.2L379.6,5.9M308.2,20.4L304.1,22.5L308.3,24.3M322.7,19.4L318.4,21L322.5,23.3M337.2,18.7L332.8,20.1L336.7,22.6M351.5,18.9L347.1,20.3L351,22.7M365.7,19.2L361.4,20.8L365.3,23.1M380.3,18.2L375.8,19.4L379.6,22M308.1,36.9L304.1,39.2L308.5,40.8M322.5,36.7L318.4,38.9L322.7,40.6M336.8,36.2L332.7,38.3L336.9,40.1M351.2,36.2L347,38.1L351.2,40M365.4,36.3L361.3,38.4L365.5,40.2M308.1,53L304.2,55.3L308.5,56.9M322.5,52.8L318.4,55L322.7,56.7M336.7,53.1L332.8,55.5L337.1,57M351,52.9L347,55.1L351.4,56.8M365.4,52.4L361.3,54.5L365.5,56.3M293.9,71.2L290.4,74.2L295,74.9M308.1,70.9L304.6,73.9L309.2,74.6M322.4,70.9L318.9,73.9L323.5,74.6M336.7,70.6L333.1,73.5L337.7,74.4M351,70.3L347.3,73.1L351.8,74.1M365.3,69.8L361.5,72.4L365.9,73.6M294,88.3L291,91.7L295.6,91.8M308.2,87.8L305,91L309.6,91.4M322.5,87.7L319.3,91L323.9,91.4M336.8,87.5L333.5,90.7L338.1,91.2M351,86.8L347.5,89.8L352,90.6M365.3,86.8L361.8,89.8L366.3,90.6M294.4,105.4L291.7,109.2L296.3,108.8M308.5,104.8L305.6,108.3L310.2,108.3M322.7,104.4L319.6,107.8L324.2,107.9M336.9,104.3L333.9,107.7L338.5,107.8M351.1,103.3L347.7,106.4L352.3,107M365.3,103.1L361.9,106.1L366.4,106.8M294.6,122L292.1,125.9L296.7,125.2M308.7,121.5L306.1,125.3L310.6,124.9M323,121.5L320.4,125.3L325,124.9M337.2,121.3L334.5,125L339.1,124.7M351.5,121.2L348.7,124.9L353.3,124.6M365.7,121L362.9,124.7L367.5,124.5M282.1,140.9L281,145.4L285.1,143.3M295,138.8L292.9,142.9L297.4,141.9M308.8,137.7L306.2,141.6L310.8,141M323.2,138L320.7,141.9L325.3,141.2M337.2,137.2L334.4,140.9L339,140.6M351.6,137.5L349,141.3L353.5,140.9M366.4,138.8L364.3,142.9L368.8,141.9M283.7,158.4L283.6,163L287.2,160.1M296.2,156.7L295.1,161.2L299.2,159.2M310.1,156.2L308.7,160.6L312.9,158.9M323.9,155.5L322.2,159.7L326.5,158.4M338.1,155.3L336.2,159.5L340.7,158.2M352.8,155.9L351.2,160.2L355.5,158.6M285.3,175.4L286.1,180L289.1,176.5M296,172.4L294.6,176.8L298.8,175M310.3,172.4L309,176.9L313.2,175M324.4,172.1L322.9,176.5L327.2,174.8M338.7,172.1L337.2,176.5L341.5,174.8M356.1,175L356.5,179.6L359.8,176.4M376.8,176.5L379.9,179.9L380.6,175.4M272.7,192.1L274.2,196.4L276.5,192.5M287,192.1L288.5,196.4L290.9,192.5M301.7,192.2L303.4,196.5L305.6,192.4M313.2,191L313.6,195.6L316.8,192.4M332.4,192.5L335,196.4L336.3,191.9M347.3,192.5L350,196.2L351.1,191.8M362.8,192.4L365.9,195.8L366.5,191.3M382.4,190.2L386.9,191.4L384.9,187.2M396.7,190.2L401.1,191.5L399.2,187.3M411,190.2L415.4,191.4L413.5,187.2M261.9,208.5L264.7,212.1L265.7,207.6M272.9,208.1L274.5,212.5L276.8,208.5M285,207.2L285.5,211.8L288.7,208.4M297.8,206.2L297.5,210.8L301.2,208M312.1,206.2L311.9,210.8L315.5,208.1M325.5,205.5L324.8,210L328.7,207.7M344.7,208.2L346.3,212.5L348.5,208.4M363.9,208.2L367.3,211.3L367.4,206.7M382.5,206.1L386.9,207.3L385,203.1M396.8,206.1L401.3,207.3L399.3,203.1M411.7,205.6L416.2,206.4L414,202.4M426,205.6L430.5,206.4L428.2,202.4M257.2,216.9L261.5,215.3L257.6,213M269.9,220.2L274.5,220.2L271.6,216.7M276.3,224.5L279.2,228.1L280.1,223.6M286.5,223.9L287.8,228.3L290.4,224.5M299.1,223.2L299.6,227.7L302.8,224.4M313.1,222.9L313.4,227.5L316.7,224.3M326.8,222.6L326.8,227.2L330.3,224.2M343.6,223.9L344.8,228.3L347.4,224.5M362.4,224.5L365.4,228L366.2,223.4M380.4,223.4L384.5,225.6L383.5,221.1M396.1,222.6L400.5,224.1L398.8,219.8M411.4,221.9L415.9,222.9L413.8,218.8M425.7,221.8L430.2,222.8L428.1,218.7M228.8,231.8L233,229.9L228.8,228M243.1,231.9L247.3,230L243.1,228M257.6,231.1L261.6,228.8L257.2,227.2M271.7,232L275.9,230L271.7,228.1M279.4,239.8L283.2,242.4L282.7,237.8M289.2,240.5L291.6,244.4L293.1,240M303.3,240.5L305.6,244.4L307.2,240.1M317,240.4L319,244.5L320.9,240.3M331.3,240.4L333.3,244.5L335.2,240.3M347.5,240.5L350.2,244.2L351.3,239.7M363.6,240.3L367,243.4L367.2,238.8M379.5,239.9L383.3,242.4L382.8,237.8M395.1,239.3L399.2,241.3L398.1,236.8M410.2,238.8L414.5,240.4L413,236.1M424.7,238.6L429,240.2L427.4,235.9M271.7,248.3L275.9,246.5L271.8,244.4M279.6,255.8L283.5,258.2L282.9,253.7M289.4,256.5L291.8,260.4L293.2,256M303.5,256.5L305.9,260.4L307.3,256.1M318.2,256.5L320.8,260.3L322.1,255.9M335,256.3L338.4,259.4L338.6,254.8M351.4,255.6L355.3,258L354.6,253.5M365.7,255.6L369.6,258L368.9,253.5M380.2,255.6L384.1,257.9L383.3,253.3M395.3,255.1L399.5,257.1L398.3,252.6M410,254.9L414.2,256.6L412.8,252.3M424.3,254.9L428.6,256.6L427.2,252.2M257.4,259.8L260.5,256.4L255.9,256.2M271.9,262.4L275.7,259.9L271.3,258.6M282.5,270L287,271.1L285,267M290.8,272.5L293.8,276L294.6,271.5M304.2,272.5L306.8,276.3L308,271.8M319.3,272.5L322.3,276L323.1,271.5M336.4,271.9L340.2,274.6L339.8,270M352,271.3L356.1,273.4L355.1,269M366.1,271.4L370.2,273.6L369.3,269.1M380.7,271.3L384.8,273.3L383.8,268.9M395.9,270.8L400.2,272.4L398.7,268M410.3,270.7L414.6,272.3L413.1,267.9M424.6,270.7L428.9,272.3L427.4,268M223.3,268.7L222.6,264.1L219.6,267.5M240.4,270.7L241.2,266.2L237.2,268.4M255.4,271.6L256.7,267.2L252.5,269M270.6,272.9L272.5,268.7L268.1,269.9M286.2,279L290.1,276.8L285.8,275.2M288.8,288.4L291.1,292.5L292.7,288.2M301.7,288.2L303.4,292.5L305.6,288.4M318.2,288.5L320.8,292.3L322.1,287.9M334.1,288.4L337.2,291.8L337.8,287.3M350.1,288.1L353.7,290.9L353.6,286.3M365.1,287.9L368.9,290.5L368.4,285.9M381,287.1L385.2,289.1L383.9,284.6M396.1,286.6L400.5,288.1L398.8,283.8M410.4,286.6L414.7,288.2L413.1,283.9M424.9,286.5L429.3,287.9L427.6,283.6M184.9,289.1L187,285L182.5,286.1M194.7,284.7L194.1,280.1L191,283.5M211.6,286.6L212.4,282L208.4,284.4M223.5,284.7L222.9,280.2L219.8,283.6M240.4,286.7L241.2,282.2L237.2,284.5M255,287.1L256.1,282.6L252,284.7M270.1,288.1L271.7,283.8L267.3,285.3M286.1,292.4L289.4,289.1L284.8,288.7M287.8,304.3L289.6,308.5L291.7,304.4M300.8,303.9L302.1,308.3L304.6,304.5M317.6,304.5L319.9,308.4L321.4,304.1M330.8,304.3L332.7,308.5L334.7,304.4M348.1,304.5L351.1,308L351.8,303.4M363.4,304.3L366.7,307.5L367.1,302.9M381.7,302.7L386,304.3L384.4,300M397.4,301.6L401.9,302.4L399.6,298.4M411.7,301.6L416.2,302.5L413.9,298.5M426.1,301.5L430.6,302.3L428.3,298.3M25.4,302.3L26,297.7L22.1,300.2M171.7,308.4L175,305.2L170.4,304.7M185.8,307.3L188.7,303.8L184.1,303.8M199.9,306.9L202.7,303.2L198.1,303.5M214.3,307.1L217.2,303.5L212.6,303.6M228.5,306.7L231.2,303L226.6,303.3M242.3,305.5L244.6,301.5L240.1,302.4M257.2,306.9L259.9,303.3L255.3,303.5M271.8,308.4L275.1,305.1L270.5,304.7M285.2,314.6L289.7,313.8L286.2,310.8M298.1,316.7L302.7,316.9L300,313.2M308.2,319.8L312,322.3L311.5,317.7M321.7,320L325.4,322.8L325.2,318.2M331.9,320.5L334.2,324.4L335.8,320.1M348.3,320.5L351.3,323.9L352,319.4M363.8,320.3L367.2,323.3L367.4,318.7M381.6,318.8L385.9,320.4L384.4,316.1M397.3,317.6L401.9,318.5L399.6,314.5M412.3,316.9L416.9,317.3L414.3,313.6M426.6,316.9L431.2,317.4L428.6,313.6M24.9,317.8L25.1,313.2L21.4,316M38.9,317.6L39,313L35.4,315.9M157.5,325.4L161.1,322.6L156.6,321.7M171.8,325.7L175.5,322.9L171,321.9M186,324.7L189.4,321.5L184.8,321M200.4,325L203.8,321.9L199.3,321.2M214.7,325.3L218.2,322.3L213.7,321.5M228.8,324L232,320.7L227.4,320.4M243.2,324.3L246.4,321L241.8,320.6M257.5,324.7L260.9,321.5L256.3,321M271.9,325.7L275.6,323L271.1,321.9M284.9,331.1L289.4,330.6L286.1,327.4M299.1,331.3L303.6,330.9L300.4,327.7M312.5,332.6L317.1,332.8L314.3,329.2M326.8,332.6L331.4,332.9L328.6,329.2M340,333.7L344.5,334.6L342.4,330.6M351.7,335.5L355.7,337.7L354.9,333.2M366.8,335.1L370.9,337L369.7,332.6M381.6,334.8L385.9,336.4L384.4,332M396.6,334.3L401,335.6L399.2,331.3M411.6,333.7L416.1,334.6L413.9,330.6M425.9,333.7L430.4,334.6L428.2,330.5M10.9,334.1L11.4,329.5L7.6,332.1M24.7,333.7L24.9,329.1L21.3,331.9M38.8,333.5L38.8,328.9L35.2,331.8M53.1,333.5L53.1,328.9L49.6,331.8M68.1,334L68.5,329.5L64.7,332.1M140,349.5L144.6,350.3L142.3,346.3M154.9,349L159.4,349.5L156.9,345.6M171.7,343.3L175.8,341.2L171.5,339.5M186.1,342.3L189.9,339.7L185.5,338.4M200.4,341.3L203.9,338.4L199.4,337.5M214.7,341.2L218.2,338.3L213.7,337.5M229,341L232.4,337.9L227.9,337.2M243.3,341.6L246.9,338.8L242.4,337.8M257.6,342.3L261.4,339.7L257,338.5M271.9,342.5L275.8,340L271.4,338.7M285.8,344.9L290.1,343.4L286.2,341.1M299.8,345.7L304.3,344.5L300.5,341.9M314,346.1L318.5,345.2L314.8,342.4M327,348.3L331.6,348.5L328.7,344.9M340.6,349.1L345.2,349.7L342.7,345.8M353.4,350.5L357.8,351.9L356.1,347.7M367.4,350.7L371.7,352.3L370.2,347.9M381.7,350.7L386,352.3L384.5,347.9M396,350.7L400.3,352.3L398.7,348M410,350.9L414.2,352.7L412.8,348.3M424.3,350.9L428.6,352.6L427.2,348.2M11.2,350.3L11.7,345.7L7.9,348.2M25,349.9L25.3,345.3L21.6,348M39,349.7L39.2,345.1L35.6,347.9M53.5,349.8L53.8,345.2L50.1,348M68.1,350.1L68.6,345.5L64.8,348.1M99.2,353.2L101.3,349.2L96.8,350.2M112.7,364L117.3,364L114.3,360.5M125.9,365.4L130.4,366.1L128,362.2M140.6,365L145.1,365.5L142.6,361.6M156.8,361.9L161.2,360.8L157.5,358.1M171.8,358.5L175.7,356L171.3,354.7M186.1,358.7L190,356.3L185.6,354.8M200.4,358L204.1,355.3L199.7,354.2M214.7,357.5L218.3,354.6L213.8,353.7M229,357.6L232.6,354.8L228.1,353.8M243.3,358.2L247.1,355.6L242.7,354.4M257.6,358.5L261.5,356L257.1,354.6M271.9,358.7L275.8,356.3L271.4,354.8M286,360.3L290.2,358.5L286.1,356.4M300.1,360.9L304.4,359.4L300.5,357.1M314.4,360.9L318.7,359.3L314.8,357M328.2,362.4L332.7,361.5L329.1,358.6M341.1,364.6L345.6,364.9L342.9,361.2M353.9,366.1L358.4,367.2L356.4,363.1M367.6,366.6L371.9,368.1L370.3,363.8M381.7,366.7L386.1,368.2L384.5,363.9M395.9,366.8L400.1,368.5L398.7,364.1M409.9,367L414.1,368.7L412.8,364.3M424.2,366.9L428.5,368.7L427.1,364.3" fill="none" stroke="#000" stroke-width="1.15" stroke-linejoin="miter"/><rect x="22.9" y="346.4" width="19" height="8" fill="#fff"/><text x="32.4" y="353.8" class="cl" text-anchor="middle" textLength="18" lengthAdjust="spacingAndGlyphs">1012</text><rect x="104.2" y="326.8" width="19" height="8" fill="#fff"/><text x="113.8" y="334.1" class="cl" text-anchor="middle" textLength="18" lengthAdjust="spacingAndGlyphs">1012</text><rect x="108.1" y="283.1" width="19" height="8" fill="#fff"/><text x="117.6" y="290.4" class="cl" text-anchor="middle" textLength="18" lengthAdjust="spacingAndGlyphs">1012</text><rect x="43" y="264.6" width="19" height="8" fill="#fff"/><text x="52.5" y="271.9" class="cl" text-anchor="middle" textLength="18" lengthAdjust="spacingAndGlyphs">1012</text><rect x="216.6" y="317.6" width="19" height="8" fill="#fff"/><text x="226.1" y="324.9" class="cl" text-anchor="middle" textLength="18" lengthAdjust="spacingAndGlyphs">1008</text><rect x="288.9" y="242.3" width="19" height="8" fill="#fff"/><text x="298.4" y="249.6" class="cl" text-anchor="middle" textLength="18" lengthAdjust="spacingAndGlyphs">1008</text><rect x="332.1" y="218.7" width="19" height="8" fill="#fff"/><text x="341.6" y="226" class="cl" text-anchor="middle" textLength="18" lengthAdjust="spacingAndGlyphs">1012</text><rect x="319.9" y="317.6" width="19" height="8" fill="#fff"/><text x="329.4" y="324.9" class="cl" text-anchor="middle" textLength="18" lengthAdjust="spacingAndGlyphs">1004</text><rect x="170.8" y="218.7" width="19" height="8" fill="#fff"/><text x="180.2" y="226" class="cl" text-anchor="middle" textLength="18" lengthAdjust="spacingAndGlyphs">1012</text><rect x="61.4" y="203.3" width="19" height="8" fill="#fff"/><text x="70.9" y="210.6" class="cl" text-anchor="middle" textLength="18" lengthAdjust="spacingAndGlyphs">1008</text><rect x="84.1" y="222.5" width="19" height="8" fill="#fff"/><text x="93.6" y="229.8" class="cl" text-anchor="middle" textLength="18" lengthAdjust="spacingAndGlyphs">1008</text><rect x="28.1" y="212.6" width="19" height="8" fill="#fff"/><text x="37.6" y="219.9" class="cl" text-anchor="middle" textLength="18" lengthAdjust="spacingAndGlyphs">1012</text><rect x="8" y="207.8" width="19" height="8" fill="#fff"/><text x="17.5" y="215.2" class="cl" text-anchor="middle" textLength="18" lengthAdjust="spacingAndGlyphs">1016</text><rect x="156.8" y="43.5" width="19" height="8" fill="#fff"/><text x="166.2" y="50.8" class="cl" text-anchor="middle" textLength="18" lengthAdjust="spacingAndGlyphs">1012</text><rect x="213.6" y="34.7" width="19" height="8" fill="#fff"/><text x="223.1" y="42" class="cl" text-anchor="middle" textLength="18" lengthAdjust="spacingAndGlyphs">1012</text><rect x="178.6" y="134.4" width="19" height="8" fill="#fff"/><text x="188.1" y="141.8" class="cl" text-anchor="middle" textLength="18" lengthAdjust="spacingAndGlyphs">1012</text><rect x="136.6" y="153.7" width="19" height="8" fill="#fff"/><text x="146.1" y="161" class="cl" text-anchor="middle" textLength="18" lengthAdjust="spacingAndGlyphs">1012</text><rect x="38.6" y="84" width="19" height="8" fill="#fff"/><text x="48.1" y="91.3" class="cl" text-anchor="middle" textLength="18" lengthAdjust="spacingAndGlyphs">1016</text><rect x="49.1" y="96" width="19" height="8" fill="#fff"/><text x="58.6" y="103.2" class="cl" text-anchor="middle" textLength="18" lengthAdjust="spacingAndGlyphs">1012</text><rect x="60.5" y="108.2" width="19" height="8" fill="#fff"/><text x="70" y="115.5" class="cl" text-anchor="middle" textLength="18" lengthAdjust="spacingAndGlyphs">1008</text><rect x="26.4" y="138.8" width="19" height="8" fill="#fff"/><text x="35.9" y="146.1" class="cl" text-anchor="middle" textLength="18" lengthAdjust="spacingAndGlyphs">1016</text><rect x="1" y="174.7" width="19" height="8" fill="#fff"/><text x="10.5" y="182" class="cl" text-anchor="middle" textLength="18" lengthAdjust="spacingAndGlyphs">1020</text><rect x="270.5" y="5.8" width="19" height="8" fill="#fff"/><text x="280" y="13.1" class="cl" text-anchor="middle" textLength="18" lengthAdjust="spacingAndGlyphs">1012</text><rect x="213.6" y="34.7" width="19" height="8" fill="#fff"/><text x="223.1" y="42" class="cl" text-anchor="middle" textLength="18" lengthAdjust="spacingAndGlyphs">1012</text><rect x="270.5" y="139.3" width="19" height="8" fill="#fff"/><text x="280" y="146.7" class="cl" text-anchor="middle" textLength="18" lengthAdjust="spacingAndGlyphs">1012</text><rect x="179.5" y="134.8" width="19" height="8" fill="#fff"/><text x="189" y="142.1" class="cl" text-anchor="middle" textLength="18" lengthAdjust="spacingAndGlyphs">1012</text><rect x="61.4" y="201.8" width="19" height="8" fill="#fff"/><text x="70.9" y="209.1" class="cl" text-anchor="middle" textLength="18" lengthAdjust="spacingAndGlyphs">1008</text><rect x="31.9" y="272.1" width="14" height="8" fill="#fff"/><text x="38.9" y="279.4" class="cl" text-anchor="middle" textLength="13.5" lengthAdjust="spacingAndGlyphs" style="fill:#fa3c3c">570</text><rect x="103.2" y="264.6" width="14" height="8" fill="#fff"/><text x="110.2" y="271.9" class="cl" text-anchor="middle" textLength="13.5" lengthAdjust="spacingAndGlyphs" style="fill:#fa3c3c">570</text><rect x="281.8" y="269.1" width="14" height="8" fill="#fff"/><text x="288.8" y="276.4" class="cl" text-anchor="middle" textLength="13.5" lengthAdjust="spacingAndGlyphs" style="fill:#fa3c3c">570</text><rect x="5.6" y="316.7" width="14" height="8" fill="#fff"/><text x="12.6" y="324" class="cl" text-anchor="middle" textLength="13.5" lengthAdjust="spacingAndGlyphs" style="fill:#fa3c3c">564</text><rect x="130.4" y="295.7" width="14" height="8" fill="#fff"/><text x="137.4" y="303" class="cl" text-anchor="middle" textLength="13.5" lengthAdjust="spacingAndGlyphs" style="fill:#fa3c3c">564</text><rect x="307.1" y="293.1" width="14" height="8" fill="#fff"/><text x="314.1" y="300.4" class="cl" text-anchor="middle" textLength="13.5" lengthAdjust="spacingAndGlyphs" style="fill:#fa3c3c">564</text><rect x="25.9" y="354.3" width="14" height="8" fill="#fff"/><text x="32.9" y="361.6" class="cl" text-anchor="middle" textLength="13.5" lengthAdjust="spacingAndGlyphs" style="fill:#fa3c3c">558</text><rect x="185" y="329.8" width="14" height="8" fill="#fff"/><text x="192" y="337.1" class="cl" text-anchor="middle" textLength="13.5" lengthAdjust="spacingAndGlyphs" style="fill:#fa3c3c">558</text><rect x="185.5" y="329.8" width="14" height="8" fill="#fff"/><text x="192.5" y="337.1" class="cl" text-anchor="middle" textLength="13.5" lengthAdjust="spacingAndGlyphs" style="fill:#fa3c3c">558</text><rect x="348.6" y="331.6" width="14" height="8" fill="#fff"/><text x="355.6" y="338.9" class="cl" text-anchor="middle" textLength="13.5" lengthAdjust="spacingAndGlyphs" style="fill:#fa3c3c">558</text><rect x="258.1" y="352.6" width="14" height="8" fill="#fff"/><text x="265.1" y="359.9" class="cl" text-anchor="middle" textLength="13.5" lengthAdjust="spacingAndGlyphs" style="fill:#fa3c3c">552</text><rect x="258.1" y="352.6" width="14" height="8" fill="#fff"/><text x="265.1" y="359.9" class="cl" text-anchor="middle" textLength="13.5" lengthAdjust="spacingAndGlyphs" style="fill:#fa3c3c">552</text><rect x="252" y="209.1" width="14" height="8" fill="#fff"/><text x="259" y="216.4" class="cl" text-anchor="middle" textLength="13.5" lengthAdjust="spacingAndGlyphs" style="fill:#fa3c3c">576</text><rect x="18.4" y="74.6" width="14" height="8" fill="#fff"/><text x="25.4" y="81.9" class="cl" text-anchor="middle" textLength="13.5" lengthAdjust="spacingAndGlyphs" style="fill:#fa3c3c">576</text><rect x="185.5" y="54" width="14" height="8" fill="#fff"/><text x="192.5" y="61.2" class="cl" text-anchor="middle" textLength="13.5" lengthAdjust="spacingAndGlyphs" style="fill:#fa3c3c">576</text><rect x="183.8" y="61.8" width="14" height="8" fill="#fff"/><text x="190.8" y="69.1" class="cl" text-anchor="middle" textLength="13.5" lengthAdjust="spacingAndGlyphs" style="fill:#fa3c3c">576</text><rect x="169.8" y="66.2" width="14" height="8" fill="#fff"/><text x="176.8" y="73.5" class="cl" text-anchor="middle" textLength="13.5" lengthAdjust="spacingAndGlyphs" style="fill:#fa3c3c">576</text><rect x="186.4" y="107.3" width="14" height="8" fill="#fff"/><text x="193.4" y="114.6" class="cl" text-anchor="middle" textLength="13.5" lengthAdjust="spacingAndGlyphs" style="fill:#fa3c3c">576</text><rect x="169.8" y="141.4" width="14" height="8" fill="#fff"/><text x="176.8" y="148.8" class="cl" text-anchor="middle" textLength="13.5" lengthAdjust="spacingAndGlyphs" style="fill:#fa3c3c">576</text><rect x="239.8" y="138.8" width="14" height="8" fill="#fff"/><text x="246.8" y="146.1" class="cl" text-anchor="middle" textLength="13.5" lengthAdjust="spacingAndGlyphs" style="fill:#fa3c3c">576</text><rect x="185.5" y="160.7" width="14" height="8" fill="#fff"/><text x="192.5" y="168" class="cl" text-anchor="middle" textLength="13.5" lengthAdjust="spacingAndGlyphs" style="fill:#fa3c3c">576</text><rect x="20.1" y="170.3" width="14" height="8" fill="#fff"/><text x="27.1" y="177.6" class="cl" text-anchor="middle" textLength="13.5" lengthAdjust="spacingAndGlyphs" style="fill:#fa3c3c">576</text><rect x="1.8" y="185.2" width="14" height="8" fill="#fff"/><text x="8.8" y="192.5" class="cl" text-anchor="middle" textLength="13.5" lengthAdjust="spacingAndGlyphs" style="fill:#fa3c3c">570</text><rect x="-0.9" y="235.3" width="14" height="8" fill="#fff"/><text x="6.1" y="242.6" class="cl" text-anchor="middle" textLength="13.5" lengthAdjust="spacingAndGlyphs" style="fill:#fa3c3c">570</text><text x="254.6" y="205.9" class="cl" text-anchor="middle" style="fill:#00dc00">80</text><text x="217" y="275" class="cl" text-anchor="middle" style="fill:#00dc00">80</text><text x="286.6" y="325.8" class="cl" text-anchor="middle" style="fill:#00dc00">90</text><text x="309.4" y="236.1" class="cl" text-anchor="middle" style="fill:#00dc00">90</text><text x="115.1" y="257.5" class="cl" text-anchor="middle" style="fill:#00dc00">80</text><text x="115.1" y="203.6" class="cl" text-anchor="middle" style="fill:#00dc00">80</text><text x="67.4" y="12.2" class="cl" text-anchor="middle" style="fill:#00dc00">80</text><text x="120.8" y="11.4" class="cl" text-anchor="middle" style="fill:#00dc00">80</text><text x="18.4" y="42" class="cl" text-anchor="middle" style="fill:#00dc00">80</text><text x="273" y="91" class="cl" text-anchor="middle" style="fill:#00dc00">80</text><text x="341.2" y="126" class="cl" text-anchor="middle" style="fill:#00dc00">80</text><text x="379.8" y="79.6" class="cl" text-anchor="middle" style="fill:#00dc00">80</text><text x="360.5" y="203" class="cl" text-anchor="middle" style="fill:#00dc00">80</text><text x="192.5" y="219" class="cl" text-anchor="middle" style="fill:#00dc00">80</text><text x="360.5" y="203.2" class="cl" text-anchor="middle" style="fill:#00dc00">80</text><text x="411.2" y="364.2" class="cl" text-anchor="middle" style="fill:#00dc00">80</text><text x="273" y="91" class="cl" text-anchor="middle" style="fill:#00dc00">80</text><text x="269.5" y="261" class="cl" text-anchor="middle" style="fill:#00dc00">90</text>
</g>
<rect x="0" y="0" width="420" height="373" fill="none" stroke="#000" stroke-width="2"/>
<path d="M-4,23.2h4M-4,58.1h4M-4,93h4M-4,127.9h4M-4,162.8h4M-4,197.6h4M-4,232.5h4M-4,267.4h4M-4,302.2h4M-4,337.1h4M-4,372h4M0,373v4M50,373v4M100,373v4M150,373v4M200,373v4M250,373v4M300,373v4M350,373v4M400,373v4" stroke="#000" stroke-width="1.8" fill="none"/>
<text x="-5.8" y="27.1" class="tk" text-anchor="end" textLength="17.5" lengthAdjust="spacingAndGlyphs">12S</text>
<text x="-5.8" y="62" class="tk" text-anchor="end" textLength="17.5" lengthAdjust="spacingAndGlyphs">15S</text>
<text x="-5.8" y="96.9" class="tk" text-anchor="end" textLength="17.5" lengthAdjust="spacingAndGlyphs">18S</text>
<text x="-5.8" y="131.8" class="tk" text-anchor="end" textLength="17.5" lengthAdjust="spacingAndGlyphs">21S</text>
<text x="-5.8" y="166.7" class="tk" text-anchor="end" textLength="17.5" lengthAdjust="spacingAndGlyphs">24S</text>
<text x="-5.8" y="201.5" class="tk" text-anchor="end" textLength="17.5" lengthAdjust="spacingAndGlyphs">27S</text>
<text x="-5.8" y="236.4" class="tk" text-anchor="end" textLength="17.5" lengthAdjust="spacingAndGlyphs">30S</text>
<text x="-5.8" y="271.3" class="tk" text-anchor="end" textLength="17.5" lengthAdjust="spacingAndGlyphs">33S</text>
<text x="-5.8" y="306.1" class="tk" text-anchor="end" textLength="17.5" lengthAdjust="spacingAndGlyphs">36S</text>
<text x="-5.8" y="341" class="tk" text-anchor="end" textLength="17.5" lengthAdjust="spacingAndGlyphs">39S</text>
<text x="-5.8" y="375.9" class="tk" text-anchor="end" textLength="17.5" lengthAdjust="spacingAndGlyphs">42S</text>
<text x="0.4" y="385.6" class="tk" text-anchor="middle" textLength="18.3" lengthAdjust="spacingAndGlyphs">70W</text>
<text x="50.4" y="385.6" class="tk" text-anchor="middle" textLength="18.3" lengthAdjust="spacingAndGlyphs">65W</text>
<text x="100.4" y="385.6" class="tk" text-anchor="middle" textLength="18.3" lengthAdjust="spacingAndGlyphs">60W</text>
<text x="150.4" y="385.6" class="tk" text-anchor="middle" textLength="18.3" lengthAdjust="spacingAndGlyphs">55W</text>
<text x="200.4" y="385.6" class="tk" text-anchor="middle" textLength="18.3" lengthAdjust="spacingAndGlyphs">50W</text>
<text x="250.4" y="385.6" class="tk" text-anchor="middle" textLength="18.3" lengthAdjust="spacingAndGlyphs">45W</text>
<text x="300.4" y="385.6" class="tk" text-anchor="middle" textLength="18.3" lengthAdjust="spacingAndGlyphs">40W</text>
<text x="350.4" y="385.6" class="tk" text-anchor="middle" textLength="18.3" lengthAdjust="spacingAndGlyphs">35W</text>
<text x="400.4" y="385.6" class="tk" text-anchor="middle" textLength="18.3" lengthAdjust="spacingAndGlyphs">30W</text>
</g>
<rect x="98" y="569" width="416.5" height="48" fill="#fff" stroke="#000" stroke-width="1.5"/>
<text x="113.4" y="588.3" class="lg" textLength="387.8" lengthAdjust="spacingAndGlyphs">[UR&gt;70(850/700/500)](azul)+[UR&gt;70(1000/850)](verde)+VENTO&gt;5m/s+ESP(500/1000)</text>
<text x="620.5" y="166.3" class="t" font-size="20.6" textLength="103.5" lengthAdjust="spacingAndGlyphs">PANCADAS</text>
<text x="739" y="166.3" class="t" font-size="20.6" textLength="40" lengthAdjust="spacingAndGlyphs">POR</text>
<text x="794" y="166.3" class="t" font-size="20.6" textLength="63" lengthAdjust="spacingAndGlyphs">CALOR</text>
<text x="872.5" y="166.3" class="t" font-size="20.6" textLength="9.5" lengthAdjust="spacingAndGlyphs">E</text>
<text x="896" y="166.3" class="t" font-size="20.6" textLength="86.5" lengthAdjust="spacingAndGlyphs">UMIDADE</text>
<g transform="translate(592,178)">
<g clip-path="url(#cp)">
<path d="M0 0l261 0 1.5 17.5 8.7 5.3 1.8 12.2 0 15.8-1.8 19.2 3.6 7-5.3 14-1.7 7 5.2 10.5 0 14-10.5 3.5-8.7 3.5 8.7 8.7 10.5 0-1.8 7-8.7 3.6-10.5 8.7 10.5 5.3 12.3 19.2-5.3 10.5-7 10.5 12.3-22.5-5.3 17.5-8.7 10.5 10.4 8.7 1.8 10.6 10.5 0-5.3 7-3.4 7 17.4 0 3.6 5.2-7 8.8 8.7 12.2 7 7 14-7-14-5.2 8.7-5.3 12.3 5.3 8.7 1.7 8.8 7 5.2 12.3 0 15.7-7 1.7 8.8 7 14 12.3 12.2 14 14 14 7 24.5-5.2 0-7-12.2-12.2-14-22.8-15.8-17.5-10.5-17.5-15.7-26.2-15.8-7-14-8.8-17.5-10.5-7 3.5-12.3-14-17.4-7-5.3-21 7-14 8.7 5.2 7-8.7 5.3-14 7 5.3 3.5 17.4-1.8 15.8 1.8-14 3.5-31.5 1.7-10.5-5.2-8.8-7 8.8-1.8-7 3.6-14 0-14 5.2-10.5 3.5-14-7-3.5 5.3-14 3.4-10.5-1.7-7 3.5-10.5-3.5-17.5-3.5-8.7 1.8-3.6 5.2 3.6 5.2-1.8 5.3-1.8 12.3-10.4 1.7-3.6-8.7-7-8.8-5.2-7-3.5-10.5 1.7-14-5.2-3.5-3.5-17.5 1.7-17.5 1.8-17.5-1.8-17.5 0 12-1.7-35-.9-17.5-.8-17.5 1.7-14-1.7-21 1.7-17.5-3.5-17.5z" fill="#1f5c5c"/><path d="M0 0l235.4 0 0 17.5 2.6 17.5 1.8 17.5 0 7 12.2 5.3 1.8 14 0 19.2 7 7 1.7 14-10.5 7 0 14-10.5 8.8-1.7 8.7 12.2 1.7 14 15.8 8.8 7-5.3 10.5-7 10.5 12.3-22.5-5.3 17.5-8.7 10.5 10.4 8.7 1.8 12.3-3.5 8.7 10.5 10.6 7 7-1.8 5.2 7 10.5 15.8 8.7 15.8 5.3 8.7 8.7 8.7 8.8 14 14 15.8 17.5 14 15.7 7 22.8-7-12.2-12.2-14-22.8-15.8-17.5-10.5-17.5-15.7-26.2-15.8-7-14-8.8-17.5-10.5-7 3.5-12.3-14-17.4-7-5.3-7-1.7-10.5 5.2-7 5.2 3.5 5.3-10.5 1.7-3.5 8.8-8.8 5.2-8.7 5.3-8.7 7-8.8-3.5 0-3.5-7-1.7-14 0-7 5.2-10.5 1.8-7 1.7-8.7-5.3-8.8-3.4-10.5-1.8-14 0-5.3 5.2-8.7 5.3-17.5-1.7-5.2-7 1.7-8.8 5.3-7-3.6-5.2-5.2-1.8 3.5-10.5-1.7-12.3 1.7-14 1.7-8.7-1.7-10.5 1.7-7-1.7 29.5-1.7-14-7-12.3-1.8-14 7-12.2-3.5-17.5-1.7-10.5 8.7-7 14-1.8 3.5-8.7-3.5-10.5 1.7-10.5 1.8-7-3.5-8.7-7-7-10.5-8.8-10.5-3.5-10.5-3.5-14-1.8-14-1.7zM22.8 108.5l21 3.5-1.8 40.2 1.8 14-5.3 8.8-1.7 17.5-1.8 17.5-24.5 0-1.7-17.5 5.2-17.5 3.5-17.5 3.5-17.5-1.8-17.5zM10.5 222.5l12.3-1.7 12.2 8.7 7 3.5 1.8 8.8-3.6 12.2-5.2 7-1.8 10.5-7 0-8.7-10.5-5.3-10.5-1.7-14zM10.5 163l24.5 0 0 14-3.5 21-5.3 17.5-15.7 3.5-3.5-21 1.8-17.5z" fill="#fa3c3c"/><path d="M120.8 147l12.2-1.8 10.5 3.6 1.7 8.7 0 17.5-5.2 7-14 3.5-3.5-8.7-8.7-8.8-1.8-3.5 8.8-7zM140 138.2l8.8-3.4 8.7-1.8 8.7-1.8 1.8 7-10.5 10.6-7 8.7-5.3-3.5-3.4-7zM73.5 133l8.7-1.8 1.8 8.8-1.8 14-7-3.5-5.2-10.5zM73.5 14l8.7-1.8 1.8 12.3-3.5 10.5-8.7-1.8-1.8-7zM103.2 192.5l8.8-1.7 0 7-7 3.4zM133 122.5l15.8-3.5 1.7 7-12.3 3.5zM197.8 168l12.2-1.8 3.5 8.8-10.5 1.8zM175 178.5l14 1.7 0 8.8-12.2-1.8zM229.2 176.8l15.8-5.3 3.5 10.5-14 3.5zM253.8 161l8.7 3.5 0 10.5-7-1.8zM194.2 201.2l12.3 1.8 3.5 7-17.5 0zM47.2 105l5.3 0-1.7 17.5-3.6 3.5zM113.8 164.8l19.2-1.8 15.8 5.2 3.4 12.3-7 5.3-12.2 3.4-8.8-5.2-1.7-8.8zM101.5 194.5l7-1.7 1.7 7-7 1.7zM157.5 168.2l10.5 1.8 1.8 7-8.8 1.8zM155.8 224.2l12.2-3.4 15.8-1.8 8.7-3.5 8.7-1.7 0 15.7 3.6 3.5-3.6 8.8-8.7 3.4-8.7 1.8-10.6 1.8-10.4-3.6-1.8-5.2 5.2-5.2-8.7-5.3zM189 198l17.5 0 3.5 10.5-10.5 5.3-8.7-7zM84 252.2l14-1.7 14 5.3-14 3.4-10.5-1.7zM66.5 229.5l12.3 0 1.7 7-10.5 3.5zM52.5 233l10.5-1.8 1.8 8.8-7 5.2-8.8-3.4zM225.8 203.2l10.4 3.6 8.8 14 1.8 7-5.3-3.6-14-10.4zM227.5 173.5l10.5 1.7 3.5 7-10.5 1.8zM269.5 229.5l10.5-1.7 0 8.7-8.8-1.7zM31.5 236.5l7 0 1.7 17.5-5.2 7-5.2-10.5zM274.8 241.8l17.4 0 3.6 5.2-10.6 7-1.7 7 7 7 7 0 7 8.8 12.3-7 3.4-3.6-7-8.7 10.6 3.5 10.4 3.5 8.8 7 5.2 10.5 0 17.5-7 1.7-8.7-7-8.7-8.7-15.8-5.3-10.5-5.2-7-3.5-8.7-5.3-1.8-8.7zM341.2 301.2l5.3 0 12.3 12.3 15.7 17.5 14 15.8 8.7 26.2-5.2 0-5.2-19.2-15.8-19.3-15.8-17.5zM273 227.8l10.5 0-5.3 7-8.7-1.8zM227.5 206.8l10.5 1.7 7 12.3 1.8 7-8.8-7-7-5.3zM229.2 177l10.6-3.5 3.4 10.5-8.7 3.5zM253.8 166.5l8.7-1.7 1.7 8.7-7 1.7z" fill="#1f5c5c"/><path d="M10.5 40.2l8.7 5.3 12.3 12.3 7 8.7 0 8.7-8.7 1.8-7-7-7-12.2-7-8.8zM52.5 68.2l12.3-1.7 1.7 7-8.7 3.5zM159.2 45.5l12.3 1.7 1.7 12.3-5.2 10.5-7-1.8-1.8-10.4zM175 175l5.2-12.2 7-10.6 3.6-1.7-1.8 7-5.2 10.5-5.3 8.8zM157.5 180.2l10.5-1.7 7 7-7 7-10.5 0-3.5-7zM49 92.8l10.5-1.8 1.7 10.5-8.7 1.7zM56 110.2l3.5 0 .9 10.6-3.5 0zM248.5 154l10.5-1.8 14 5.3 7 8.7 0 8.8-14-1.8-10.5-8.7zM245 164.5l7 10.5 7 10.5 7 5.3-3.5-8.8-8.7-10.5zM45.5 182l8.7 0 0 28-7 0zM43.8 180.5l5.2-1.7 1.8 19.2 0 17.5-5.3 8.7-5.3-3.4 5.3-14-1.7-12.3zM173.2 168.2l10.6-3.4 3.4 8.7-10.4 3.5zM157.5 180.5l5.3 0 1.7 14 10.5 3.5 14 1.8-7-5.3-14-3.5-5.2-5.2zM197.8 203.2l7 0 0 7-7 0zM103.2 247l8.8 0 3.5 3.5-8.7 0zM127.8 254l10.4-1.8 10.6 1.8-12.3 3.5zM210 229.5l10.5-7 17.5-1.7 10.5 7 10.5 5.2 7 7-3.5 7-17.5-1.8-12.2 5.3-10.6 3.5-12.2-1.8-8.8-7 5.3-7zM243.2 173.5l8.8-3.5 10.5 10.5-1.7 12.3-8.8-7zM260.8 206.8l7-1.8 1.7 10.5-7 0z" fill="#fff"/><use href="#bm"/><path d="M16.2 184.8c.6 .8 2.2 3.6 3.4 4.6 1.3 1 2.6 1 4.1 1.6 1.4 .6 3.8 1.8 4.6 2.1M23.5 140.4c.3 .9 1.5 3.5 1.9 5.2 .4 1.7 .4 3.8 .3 5.1-.1 1.3-.9 1.3-1.2 2.5-.3 1.2-.3 3.7-.3 4.5M20.4 209.5c-.4 .5-1.5 2.4-2.6 2.9-1.1 .5-2.7-.4-4 .3-1.3 .7-3.2 2.8-4 3.9-.8 1.1-.5 1.5-.8 2.9-.3 1.4-1 4.1-1 5.8 0 1.7 .8 3.8 .9 4.6M23.2 138c-.1 1.5 .2 2.4-.1 3.2-.3 .8-1.1 1.6-1.8 1.5-.7-.1-2.2-1.1-2.3-2.1-.1-1 1.2-2.7 1.6-3.8 .4-1.1 .1-2.1 .7-2.8 .6-.7 2.4-2.3 2.7-1.6 .3 .7-.7 4.1-.8 5.6zM7.7 240c.1 .8 .4 3.3 .5 5 .1 1.7-.5 4.1-.1 5.4 .4 1.3 2 2.2 2.4 2.6M19.9 87.4c.1 1.3 .4 4.2 0 5.2-.5 1-2 1.2-2.7 .7-.7-.5-1.1-2.8-1.3-4-.2-1.3 0-1.8 .2-3.5 .2-1.7 .3-6.7 .8-6.9 .5-.2 1.6 4.3 2.1 5.7 .5 1.4 .8 1.5 .9 2.8zM14.6 244.4c.4 .4 1.4 2.1 2.6 2.4 1.2 .3 3.3-.2 4.6-.4 1.3-.2 2.6-.7 3.1-.9M13.9 261.1c.4 .9 1.7 3.3 2.2 5.1 .5 1.8 .8 4.2 .6 5.5-.2 1.3-1.4 .9-2 2.1-.6 1.2-1 3.6-1.8 5-.8 1.4-2 2.1-3.1 3.5-1.1 1.4-2.8 3.9-3.4 4.7M14.5 120.1c.2 1.1-.2 4.3-.8 5.2-.6 .9-2.1 .9-2.7 .3-.6-.6-.7-2.6-1-3.9-.3-1.3-1.1-2.5-1-4.1 .1-1.6 1.1-5.5 1.7-5.4 .5 .1 1 4.9 1.6 6.2 .6 1.3 2 .5 2.2 1.7zM13.9 136c.1 .7 .8 2.7 .8 4 0 1.3-1.1 2.4-.7 3.7 .4 1.3 2.5 2.8 3.2 3.9 .7 1.1 0 1.5 .9 2.6 .9 1.1 3.6 3.3 4.3 4M22.1 182.4c-.1 .9-1 1.7-1.5 2.2-.4 .5-.8 .9-1.2 .8-.5-.1-1.2-.3-1.5-1.2-.3-.9-.8-3.5-.5-4 .3-.5 1.6 1.1 2.2 .9 .6-.2 1.1-2.3 1.5-2.1 .4 .2 1.1 2.5 1 3.4zM17.2 183.1c0 1.1 .6 2.7 .3 3.4-.3 .7-1.3 1-1.8 .7-.5-.3-1.2-1.7-1.3-2.5-.1-.8 .7-1.2 .9-2.4 .2-1.2-.1-4.3 .2-4.7 .3-.4 1.5 1.6 1.8 2.5 .3 .9-.1 1.9-.1 3zM35.1 121.7c0 1.3-1.7 2.8-2.5 3.5-.7 .7-1.4 1.1-2 .9-.6-.2-1.3-.9-1.8-2.2-.5-1.3-1.7-5.1-1.4-5.9 .3-.8 2.5 1 3.4 1 .9 0 1.2-1.8 1.9-1.3 .7 .5 2.4 2.8 2.4 4zM14.2 126.8c-.1 .4-.4 1.7-.8 2.6-.3 .9-.6 2.2-1.3 3-.7 .8-1.9 1.8-2.8 2.1-.9 .3-2.1-.4-2.5-.5M13.9 234.8c-.5 .7-2.3 2.8-3.1 4.3-.8 1.5-1.5 3.7-1.8 5-.3 1.3-.3 1.7 .1 3 .4 1.3 1.6 3.4 2.3 4.7 .7 1.3 1.8 2.6 2.1 3.1M18.2 143c-.1 .7-.3 2.7-.5 4.2-.2 1.5 .1 3.4-.6 4.6-.7 1.2-3.2 2-3.8 2.4M19.7 217c-.9 .4-3.4 2.3-5.1 2.3-1.7 0-3.7-1.9-5-2.2-1.3-.3-2 .4-2.9 .2-.9-.2-1.2-1.1-2.3-1.3-1.1-.2-3.6 .2-4.3 .2M40.2 147.4c.1 .8-1.1 2.6-1.7 3.2-.6 .6-1.3 .7-1.7 .4-.4-.3-.5-1.2-.9-2.3-.4-1.1-1.7-3.2-1.5-4 .1-.8 1.8-.9 2.4-.8 .6 .2 .5 1.1 1.1 1.7 .6 .6 2.2 1 2.3 1.8zM24.6 106.4c.2 .8-.9 3-1.5 3.7-.6 .7-1.5 .6-1.9 .2-.4-.4-.4-1.6-.8-2.7-.4-1.1-1.6-2.8-1.5-3.8 .1-1 1.7-2.4 2.2-2.2 .6 .2 .5 2.6 1.1 3.4 .6 .8 2.3 .6 2.4 1.4zM25.4 229.5c.1 .6-.9 1.9-1.3 2.3-.4 .4-.9 .5-1.2 .3-.3-.2-.4-.9-.7-1.7-.3-.8-1.2-2.3-1.1-2.9 .1-.6 1.4-.7 1.8-.6 .4 .1 .4 .9 .8 1.3 .4 .4 1.6 .7 1.7 1.3zM10.8 113.9c.3 .7 1.4 2.6 1.6 3.9 .2 1.3-.1 2.6-.3 3.8-.2 1.2-.8 2.8-.9 3.3M14.2 231.2c.2 .4 1.4 1.2 1.5 2.6 .1 1.4-.5 4.4-.7 5.8-.2 1.4-.3 2.3-.4 2.8M15.4 122.6c-.2 1.6 .2 2.6-.1 3.5-.3 .8-1.2 1.7-1.9 1.6-.7-.1-2.3-1.2-2.4-2.3-.1-1 1.3-2.8 1.7-4 .4-1.2 .2-2.2 .8-3 .6-.8 2.5-2.4 2.8-1.7 .3 .7-.7 4.3-.9 5.9zM16.7 96.1c-.1 .8 0 1.4-.2 1.8-.2 .5-.6 .9-1 .9-.4 0-1.2-.6-1.3-1.2-.1-.6 .6-1.7 .8-2.3 .2-.6 .2-.8 .6-1.2 .3-.4 1.3-1.6 1.5-1.3 .2 .3-.3 2.4-.4 3.3zM32 136.8c-.1 .8-.7 1.2-1 1.6-.3 .4-.5 .8-.9 .8-.4 0-1.1-.2-1.3-.9-.2-.7-.2-2.7 0-3.1 .2-.4 .9 .9 1.4 .6 .5-.3 1.1-2.4 1.4-2.2 .3 .2 .5 2.4 .4 3.2zM27.3 223.3c-.2 1.8 .5 3.1 .1 4.1-.4 1-1.5 2-2.3 1.8-.8-.2-2.4-1.6-2.5-2.8-.1-1.2 1.5-2.8 1.9-4.3 .4-1.5 0-3.5 .6-4.4 .6-.9 2.8-1.7 3.2-.8 .4 .9-.8 4.7-1 6.4zM21.3 135.1c-.2 1.5-.9 2.1-1.4 2.9-.5 .8-1 1.6-1.7 1.6-.7 0-2.2-.5-2.5-1.7-.3-1.1 0-4.4 .5-5.2 .5-.8 1.5 1 2.3 .4 .8-.6 2.1-4.3 2.6-4 .5 .3 .4 4.5 .2 6zM30.6 154.1c0 1.3 .6 2.9 .3 3.7-.3 .8-1.4 1.4-2 1.2-.6-.2-1.7-1.7-1.8-2.7 0-1 1.2-1.8 1.5-3.1 .3-1.3-.2-4.1 .2-4.7 .4-.6 2.1 .3 2.4 1.2 .3 .9-.5 3.1-.6 4.4zM18.5 244.1c-.1 .5 .2 1.6-.4 2.9-.6 1.3-2 3.4-3 5-1 1.6-2.6 3.1-3 4.5-.4 1.4 .3 2.6 .4 3.8 .1 1.2 .2 3 .2 3.6M36 209.1c-.1 .9-.7 1.3-1 1.8-.3 .5-.6 .9-1 .9-.4 0-1.3-.3-1.5-1-.2-.7-.2-2.8 .1-3.3 .3-.5 1 .7 1.5 .4 .5-.3 1.3-2.5 1.6-2.3 .3 .2 .4 2.6 .3 3.5zM22.6 176.3c-.2 .6-1.4 2.4-1.5 3.4-.1 1 .6 1.4 .7 2.5 .1 1.1-.2 3.5-.3 4.2M14.7 119.4c-.2 2 .2 3.2-.3 4.3-.5 1.1-1.6 2.2-2.5 2.1-.9-.1-2.9-1.3-3.1-2.7-.2-1.4 1.6-4.1 2.1-5.5 .5-1.5 .4-2.2 1.2-3.2 .8-1 3.3-3.7 3.7-2.9 .4 .8-.9 5.9-1.1 7.9zM22.7 106.2c-.1 .7-.7 3.2-.5 4.4 .2 1.2 1.2 1.2 1.9 2.5 .7 1.3 1.8 4.7 2.2 5.6M19.6 205.5c.3 .9 .8 3.8 1.5 5.6 .7 1.8 2.5 3.8 2.8 5.2 .3 1.4 .1 2.3-.9 3.2-1 .9-3.4 1.7-4.9 2.3-1.4 .6-2.5 1.4-3.8 1.3-1.3-.1-3.4-1.6-4.1-1.9M19.2 245.8c-.2 1.3-.3 1.9-.7 2.6-.4 .7-.9 1.4-1.5 1.4-.6 0-1.9-.6-2.1-1.5-.2-.9 .5-3.3 .9-4.1 .4-.8 .8 0 1.4-.6 .6-.6 2-3.4 2.3-3 .3 .4-.1 3.9-.3 5.2zM29.6 259.4c.1 .6 .2 2.2 .7 3.4 .5 1.2 1.7 2.7 2.2 3.9 .5 1.2 0 1.9 .6 3.3 .6 1.4 2.5 4.2 3 5M29.9 143.8c.3 .9 1.6 4 1.8 5.4 .2 1.4-.5 2.2-.8 3.3-.3 1.1-.7 2-1.1 3-.4 1-.7 1.8-1.1 3.2-.4 1.4-.8 4.5-1 5.4M31.5 205.8c.2 1.1 .3 3.7-.1 4.5-.4 .8-1.8 1-2.4 .5-.6-.5-.8-2.4-1-3.5-.2-1.1-.1-1.5 0-3 .1-1.4 .4-5.6 .8-5.7 .4-.1 1.1 3.9 1.6 5.1 .4 1.2 .9 1 1.1 2.1zM29.7 222.1c0 .7-1 1.5-1.4 1.9-.4 .4-.6 .7-1 .6-.4-.1-.8-.5-1.1-1.2-.3-.7-.9-2.8-.7-3.2 .2-.4 1.4 .7 1.9 .6 .5-.1 .7-1.2 1.1-1 .4 .2 1.2 1.6 1.2 2.3zM6.8 94.4c.1 1.1-1.6 3.5-2.3 4.3-.7 .8-1.6 .8-2.2 .4-.6-.4-.7-1.6-1.2-3-.5-1.4-2.2-4.2-2-5.3 .2-1.1 2.4-1.3 3.2-1.1 .8 .2 .7 1.6 1.5 2.4 .7 .8 2.9 1.2 3 2.3zM12.9 251.5c0 1.2 .7 2.7 .4 3.5-.3 .8-1.4 1.3-2 1-.6-.3-1.4-1.7-1.5-2.6 0-.9 1-1.5 1.2-2.7 .2-1.3-.2-4.3 .2-4.8 .4-.5 1.8 1 2.1 1.9 .3 .9-.4 2.5-.4 3.7zM17.4 61.3c.1 .7-.9 2.6-1.4 3.1-.5 .6-1.2 .5-1.6 .2-.4-.3-.4-1.3-.7-2.2-.3-.9-1.4-2.6-1.3-3.4 .1-.8 1.5-1.6 2-1.4 .5 .2 .4 1.8 .9 2.4 .5 .6 2 .6 2.1 1.3zM29.1 214.6c-.1 .7-.8 1.2-1.1 1.6-.3 .4-.5 .7-.8 .6-.3 0-.9-.3-1.1-.9-.2-.6-.5-2.5-.3-2.9 .2-.4 1.1 .8 1.5 .7 .4-.2 .8-1.8 1.1-1.6 .3 .1 .8 1.8 .7 2.5zM18.7 149.3c.5 .7 2.1 2.7 2.8 4 .7 1.3 1.5 2.5 1.3 3.8-.2 1.3-2.1 2.7-2.3 4.3-.2 1.6 .5 3.6 1.2 5.3 .7 1.7 2.3 4.2 2.8 5M24.2 168c-.2 .8-1.3 3.4-1.3 4.9 0 1.5 1.1 2.7 1.4 4.2 .3 1.5 .3 4 .3 4.8M8.3 246.3c.3 .9 .9 3.9 1.5 5.6 .6 1.7 1.1 3.2 1.9 4.3 .8 1.1 2.1 1.1 2.9 2.1 .8 1 1.6 3.1 1.9 3.7M26.8 139.2c.1 .6-.7 2.3-1.1 2.8-.4 .5-1.1 .5-1.4 .2-.3-.3-.3-1.2-.6-2-.3-.8-1.2-2.1-1.1-2.9 .1-.7 1.2-1.8 1.6-1.6 .4 .1 .4 1.9 .8 2.5 .4 .6 1.7 .4 1.8 1zM12.1 204.5c-.5 .4-2.4 1.7-3.3 2.4-.9 .7-1.5 .5-2.2 1.7-.7 1.2-1.1 4.1-1.8 5.7-.8 1.6-1.5 2.9-2.7 3.7-1.2 .8-3.1 .8-4.3 .9-1.2 .1-2.4-.4-2.9-.5M28.8 199.1c.1 1.3-1.7 3.9-2.6 4.8-.9 .9-1.9 1-2.6 .5-.7-.5-.8-1.7-1.4-3.3-.6-1.6-2.4-4.9-2.2-6.1 .2-1.2 2.8-1.3 3.7-1.1 .9 .2 .8 1.5 1.7 2.4 .8 .9 3.3 1.5 3.4 2.8zM25.9 239.8c.4 .6 2 2.6 2.4 3.8 .4 1.2 .3 2.5 .1 3.4-.2 .9-.1 1.7-1.2 2.3-1.1 .6-4.5 1.2-5.4 1.4M16.7 173.8c-.4 .9-1.8 3.9-2.1 5.2-.3 1.3-.3 1.7 .4 2.6 .7 .9 2.2 2.3 3.6 3 1.4 .7 3.7 .7 5 1.1 1.3 .4 2.3 1.2 2.8 1.4M11.7 223.2c.2 1.3 .1 4.4-.4 5.4-.5 1-2.1 1.1-2.8 .5-.7-.6-.8-2.9-1.1-4.2-.2-1.3-.5-2.1-.4-3.8 .1-1.7 .7-6.6 1.2-6.6 .5 0 1.3 5 1.9 6.4 .6 1.4 1.4 1 1.6 2.3zM15.5 196.4c.1 .8-1 2.7-1.6 3.3-.6 .6-1.3 .5-1.7 .2-.4-.3-.4-1.3-.8-2.3-.4-1-1.6-2.9-1.5-3.8 .1-.9 1.7-1.6 2.3-1.4 .6 .2 .4 1.7 1 2.4 .6 .7 2.2 .8 2.3 1.6zM27.7 163.8c-.1 .6-.5 1-.8 1.3-.3 .3-.5 .5-.8 .5-.3 0-.7-.2-.9-.7-.2-.5-.3-2.1-.1-2.4 .2-.3 .9 .7 1.2 .5 .3-.2 .7-1.5 .9-1.4 .2 .1 .6 1.6 .5 2.2zM14.5 128.9c.1 .8 .8 3.6 .7 5-.1 1.4-.4 2.4-1.5 3.4-1.1 1-4.2 2.3-5 2.8M20.6 217.7c.1 .5-.5 1.8-.8 2.2-.3 .4-.8 .4-1.1 .2-.3-.3-.3-1-.5-1.7-.2-.6-1-1.6-.9-2.2 .1-.6 1-1.5 1.3-1.4 .3 .1 .3 1.6 .6 2.1 .3 .5 1.3 .3 1.4 .8zM5.3 98.1c-.1 1.3 .6 2.7 .3 3.5-.3 .8-1.3 1.4-1.9 1.2-.6-.2-1.7-1.7-1.7-2.6-.1-.9 1.1-1.7 1.4-2.9 .3-1.3-.2-4 .2-4.6 .4-.6 2 .3 2.3 1.2 .3 .9-.6 2.9-.6 4.2zM23 145.8c0 .7-.1 2.8-.1 4.1 0 1.3-.1 3 .1 4 .2 1 .6 1.1 1.3 2.3 .7 1.1 2 3.4 2.9 4.6 .9 1.2 2 1.4 2.6 2.8 .6 1.4 1 4.8 1.2 5.7M11.6 134.5c.3 .4 1 1.9 1.9 2.6 .9 .7 2.7 1.2 3.7 1.3 1 .1 1.5-.6 2.4-.9 .9-.3 2.4-.9 2.9-1.1M4.5 59.8c0 1.2 .5 2.6 .3 3.3-.3 .7-1.2 1.2-1.8 1-.6-.2-1.6-1.5-1.6-2.3-.1-.8 1.1-1.6 1.3-2.7 .3-1.1-.2-3.7 .2-4.2 .4-.5 1.8 .3 2.1 1.1 .3 .8-.5 2.6-.5 3.8zM18.8 81.6c-.1 1.2-1.6 2.5-2.3 3.2-.7 .7-1.2 1.2-1.8 1.1-.6-.1-1.4-.7-1.9-1.9-.5-1.2-1.4-4.8-1-5.6 .4-.7 2.4 1.3 3.2 1.1 .8-.2 1.3-2.5 1.9-2.2 .6 .3 2 3 1.9 4.3zM33.3 155.1c.7 .3 3.2 .9 4.1 1.8 .8 .9 .3 2.6 1 3.5 .7 .9 1.9 1.7 3.1 1.8 1.2 .1 3.3-.8 3.9-1M24.3 158.6c-.1 1.1-1.2 1.9-1.7 2.5-.5 .6-.9 1.1-1.4 1-.5-.1-1.4-.4-1.8-1.4-.4-1-.6-4-.3-4.6 .4-.6 1.7 1.3 2.4 1 .7-.3 1.3-2.9 1.8-2.7 .5 .3 1.1 3.1 1 4.2zM17.7 157.9c-.2 1.4-1.1 2.1-1.6 2.8-.5 .7-.9 1.4-1.6 1.4-.7 0-1.9-.5-2.3-1.6-.4-1.1-.3-4.4 .1-5.1 .4-.7 1.6 1.3 2.4 .8 .8-.5 1.9-4 2.4-3.7 .5 .3 .8 4 .6 5.4zM36.3 190.8c0 1.3-1.9 3.4-2.8 4.2-.9 .8-1.6 1.1-2.3 .8-.7-.3-1.1-1.3-1.7-2.8-.6-1.5-2.2-5.3-1.9-6.3 .3-1 2.9 .1 3.8 .2 .9 .1 1-.2 1.8 .4 .8 .7 3 2.2 3.1 3.5zM17.9 164.1c-.2 .5-.3 2-1.2 2.9-.9 .9-2.9 2.4-4.3 2.7-1.4 .3-3-.7-4.3-.9-1.4-.2-2.7 .1-3.8-.2-1.1-.3-1.6-1.3-2.8-1.7-1.2-.4-3.5-.5-4.2-.6M8 209.9c.6 .8 2.7 3.4 3.4 4.7 .7 1.3-.2 1.9 .6 3 .8 1.1 3.1 2.1 4.3 3.3 1.2 1.2 2.1 2.8 2.9 4 .7 1.2 .5 2.4 1.6 3.2 1.1 .8 4.2 1.4 5 1.7M20.1 241.8c-.1 .4-1.1 1.3-.9 2.6 .2 1.3 1.1 4.1 2.1 5.4 1 1.3 3.3 1.8 3.9 2.2M12.4 65.5c-.2 1.5 .1 2.6-.2 3.4-.4 .8-1.2 1.7-1.9 1.6-.7-.1-2.2-1.2-2.3-2.2-.1-1 1.2-2.8 1.6-4 .4-1.2 .2-2.2 .8-3 .6-.8 2.5-2.4 2.8-1.7 .3 .7-.6 4.4-.8 5.9zM24.1 145.2c-.2 .7-.7 3-1.2 4-.5 1-.8 1.4-1.9 1.8-1.1 .4-3.5 .6-4.6 .4-1.1-.2-1.8-1.5-2.2-1.8M12.9 78.4c-.1 1.8 .8 3.6 .4 4.7-.4 1-1.8 1.9-2.6 1.6-.8-.3-2.2-2.1-2.3-3.3-.1-1.2 1.5-2.4 1.9-4 .4-1.6-.2-5 .4-5.8 .6-.8 2.7-.1 3.1 1 .4 1.1-.8 4.1-.9 5.8zM29.8 205.4c.1 1.4 .7 3.6 .4 4.5-.3 .9-1.7 1.4-2.4 1-.7-.4-1.5-2.3-1.6-3.4-.1-1.1 .9-1.6 1.1-3.2 .2-1.6-.1-5.7 .3-6.2 .4-.5 1.9 2.2 2.3 3.4 .4 1.2-.1 2.5-.1 3.9zM15.6 258.2c.1 .7-1 2.4-1.5 2.9-.5 .5-1.1 .6-1.5 .3-.4-.3-.4-1.2-.8-2.1-.4-.9-1.5-2.8-1.4-3.5 .1-.7 1.7-.9 2.2-.8 .5 .1 .5 1.1 1 1.6 .5 .5 1.9 .8 2 1.6zM29.8 128.4c.2 1.2 .1 4.3-.4 5.2-.5 .9-2.1 1.1-2.7 .5-.6-.6-.9-2.7-1.1-4-.2-1.3-.4-1.9-.3-3.6 .1-1.7 .6-6.4 1.1-6.4 .5-.1 1.2 4.7 1.8 6.1 .6 1.4 1.4 1 1.6 2.2zM29.1 133.4c0 .6-.2 2.4 0 3.4 .2 1 .5 1.6 1.2 2.4 .7 .8 2.4 1.5 3.2 2.5 .8 1 1.3 2.7 1.6 3.3M9.5 102c-.3 .9-.7 4.4-1.6 5.6-.8 1.2-2 1.8-3.5 1.8-1.5 0-4-1-5.4-1.8-1.4-.8-2.4-1.8-2.8-3-.4-1.2 .6-2.3 .5-3.9-.1-1.6-1.1-4.6-1.3-5.5M13.1 166.7c.4 .4 1.7 1.5 2.3 2.5 .6 1 .4 2.4 1.1 3.6 .7 1.3 2.3 3 3.3 3.9 1 .9 2.1 1.2 2.5 1.4M19.3 71.7c-.1 1.6 .8 3.5 .4 4.5-.4 1-1.7 1.7-2.5 1.4-.8-.3-2.1-2-2.2-3.2-.1-1.2 1.4-2.1 1.8-3.7 .4-1.6-.2-5.2 .3-5.9 .5-.7 2.5 .4 2.9 1.6 .4 1.2-.6 3.7-.7 5.3zM9.1 122.1c-.2 1.4 0 2.2-.3 2.9-.3 .7-1.1 1.5-1.7 1.4-.6-.1-2-.9-2.1-1.8-.1-.9 .9-2.9 1.3-3.8 .4-.9 .4-1.1 1-1.8 .6-.7 2.2-2.9 2.5-2.4 .3 .5-.5 4.1-.7 5.5zM17.4 238.3c.1 1 .3 3.3-.1 4-.4 .8-1.6 .9-2.1 .5-.5-.4-.8-2.1-.9-3.1-.1-1 0-1.4 .1-2.7 .1-1.3 .3-5.1 .6-5.2 .3-.1 1.1 3.4 1.5 4.5 .4 1.1 .8 1 .9 2zM11.9 228.4c-.1 .8-.1 1.4-.3 1.8-.2 .4-.6 .9-1 .9-.4 0-1.2-.5-1.3-1.1-.1-.6 .6-1.8 .8-2.4 .2-.6 .2-.6 .6-1 .4-.4 1.4-1.8 1.6-1.5 .2 .3-.3 2.5-.4 3.3zM23.8 90.6c0 .9 .5 2.2 .3 2.8-.2 .6-1.1 .8-1.5 .6-.4-.2-.9-1.3-1-2 0-.7 .6-1 .7-2 .1-1-.1-3.5 .2-3.8 .3-.3 1.2 1.3 1.4 2 .2 .7-.1 1.5-.1 2.4zM20.1 265.5c0 .7 .3 3.2-.1 4.3-.4 1.1-1.3 1.6-2.4 2.5-1.1 .9-3.7 2.6-4.4 3.1M36.3 151.8c-.2 1.6-.4 2.3-.8 3.1-.4 .8-1.1 1.6-1.8 1.6-.7 0-2.3-.7-2.5-1.8-.2-1.1 .7-3.7 1.2-4.7 .5-1 .8-.4 1.5-1.1 .7-.7 2.4-3.8 2.8-3.3 .4 .5-.2 4.6-.4 6.2zM31.9 128c.1 .5-.1 1.7-.4 2.1-.3 .4-.9 .5-1.1 .2-.3-.2-.3-1.1-.4-1.7-.1-.6-.6-1-.5-1.7 .1-.7 .6-2.3 .8-2.2 .2 .1 .3 2.1 .6 2.6 .3 .5 .9 .2 1 .7zM7.8 218.7c-.6 .3-2.7 1.2-3.8 2.1-1.1 .9-2.3 2.3-2.7 3.4-.4 1.1 .9 1.9 .6 3.1-.3 1.2-1.6 2.6-2.4 4.1-.8 1.5-1.3 4-2.5 5.1-1.2 1.1-3.8 1.3-4.5 1.6M37.5 184.6c0 .9-1.3 2.4-1.9 3-.6 .6-1.1 .7-1.6 .5-.5-.3-.8-.9-1.2-2-.4-1.1-1.6-3.7-1.4-4.4 .2-.7 2-.1 2.6 0 .6 .1 .7 0 1.3 .5 .6 .5 2.2 1.5 2.2 2.4zM8.5 202c.1 .9 .2 3.8 .6 5.2 .4 1.3 1.2 1.9 1.8 2.9 .6 1 .7 2.3 1.7 3.1 1 .8 3 1.4 4.1 1.9 1.1 .5 1.6 .7 2.5 1 .9 .3 2.6 .8 3.1 1M28.3 113.8c.1 .9-1.3 3-1.9 3.6-.6 .7-1.3 .7-1.8 .3-.5-.4-.7-1.3-1.1-2.5-.4-1.2-1.8-3.5-1.6-4.4 .2-.9 2-1.3 2.6-1.1 .6 .2 .7 1.4 1.3 2.1 .6 .7 2.4 1.1 2.5 2zM6.1 223.9c.4 .7 2.4 2.6 2.7 4 .4 1.4-.1 2.7-.6 4.3-.5 1.6-1.4 4.3-2.2 5.4-.8 1.1-2 .8-2.9 1.3-.9 .5-1.6 .9-2.5 1.9-.9 1.1-2.6 3.7-3.1 4.4M12.1 259.2c.7 .3 2.7 1.4 4 1.9 1.3 .5 2.3 .8 3.8 1.2 1.5 .5 3.7 .6 5.4 1.5 1.7 .9 2.9 3.2 4.5 3.8 1.6 .6 3.5 .6 4.9 .1 1.4-.5 3.1-2.4 3.7-2.9M29.4 147.7c.6 .4 2.8 1.6 3.5 2.6 .6 1 .6 2.4 .4 3.4-.2 1-1 2-1.8 2.4-.8 .4-1.8 .3-3.1 .2-1.3-.1-4-.8-4.8-1M6.8 66.7c.7 .3 3.1 1.5 4.3 2.1 1.2 .6 1.8 1.2 2.7 1.4 1 .2 1.6 0 3-.1 1.4-.1 4.3-.6 5.2-.7M10.2 60.7c-.1 .7-.8 1.2-1.1 1.5-.3 .4-.6 .6-.9 .6-.3 0-.8-.3-1-.9-.2-.6-.6-2.5-.4-2.9 .2-.4 1.1 .8 1.5 .7 .4-.1 .8-1.6 1.1-1.4 .3 .2 .8 1.8 .8 2.4zM16.7 256.6c-.9 .2-3.9 .4-5.6 1.3-1.7 .9-3.2 3.2-4.6 3.8-1.4 .5-3.1-.4-3.7-.5M22.2 206.2c-.1 .6-.6 1-.8 1.3-.3 .3-.4 .6-.7 .6-.3 0-.8-.2-1-.7-.2-.5-.3-2.1-.1-2.4 .2-.3 .8 .7 1.2 .5 .4-.2 .8-1.6 1-1.5 .2 .1 .5 1.6 .4 2.2zM24.3 154.8c.6 .7 2.9 2.8 3.4 4.2 .5 1.4-.8 2.9-.4 4.5 .4 1.6 2.2 3.1 2.5 4.9 .3 1.8-.8 4.3-.8 5.8 0 1.5 .3 2.2 .9 3 .6 .7 2.3 1.2 2.8 1.5M29.1 167.9c.2 .6 .9 2.3 1.4 3.4 .5 1.1 1.1 1.7 1.5 2.9 .4 1.2 .9 2.8 1 4.3 .1 1.5-.1 3.1-.6 4.6-.5 1.5-1.7 3.3-2.6 4.4-.9 1.1-2.4 2-2.9 2.4M15.8 264.9c-.1 .9 .2 1.6 0 2.1-.2 .5-.8 1-1.2 .9-.4-.1-1.2-.8-1.3-1.4-.1-.6 .8-1.6 1-2.3 .2-.7 0-1.5 .4-2 .3-.5 1.5-1.3 1.7-.8 .2 .4-.5 2.6-.6 3.5zM19.9 112.4c0 1 .5 2.6 .2 3.3-.2 .7-1.2 1-1.7 .7-.5-.3-1-1.7-1.1-2.5-.1-.8 .6-1.1 .7-2.3 .1-1.2-.1-4.3 .2-4.6 .3-.3 1.4 1.8 1.7 2.7 .3 .9 0 1.7 0 2.7zM25.3 186.3c-.1 .9-.6 1.4-1 1.8-.4 .4-.7 .8-1.1 .8-.4 0-1.2-.3-1.4-1-.2-.7-.2-2.8 .1-3.2 .3-.5 1 .8 1.5 .5 .5-.3 1.2-2.6 1.5-2.4 .3 .2 .5 2.6 .4 3.5zM9.7 71.1c.6 .7 2.8 2.6 3.7 4.2 .9 1.6 1.2 3.9 1.9 5.2 .7 1.3 1.5 1.9 2.4 2.8 .9 .9 2.4 1.7 3.3 2.7 .9 1 1.4 1.8 2.2 3.1 .8 1.3 2.1 4.2 2.5 5M10.4 102.3c.1 .9-1.3 2.8-2 3.5-.6 .7-1.4 .7-1.9 .4-.5-.3-.6-1.2-1.1-2.4-.5-1.2-1.9-3.7-1.7-4.6 .2-.9 2.2-.8 2.9-.6 .7 .2 .7 .9 1.3 1.5 .6 .6 2.4 1.2 2.5 2.2zM12.6 61.3c-.7 .5-2.7 2.4-4.3 2.7-1.6 .3-3.9-.6-5.4-1.1-1.5-.5-2.7-1.2-3.5-2-.8-.8-.6-1.8-1-2.8-.4-1-.6-2.3-1.5-3.5-.9-1.2-3.3-3.2-4-3.9M8.8 232.1c.6 .6 3.1 2.4 3.7 3.7 .6 1.3-.7 2.9-.4 4.2 .3 1.3 1.8 3 2.2 3.6M9.3 191.7c.2 .6 1 2.3 1.1 3.9 .1 1.6-.4 4.5-.5 5.9-.1 1.4 .7 1.8 0 2.8-.7 1-3.2 2.3-3.9 3.3-.7 1 0 2.3 0 2.7M20.7 145.8c-.7 .4-3 1.7-4 2.5-1 .8-.9 2-2.1 2.5-1.2 .5-3.5 .2-4.8 .3-1.2 .1-1.3 .1-2.7 .1-1.4 0-4.7 0-5.6 0M12.7 233.2c.1 1.5 .6 4.3 .2 5.4-.4 1.1-2.1 1.4-2.8 .9-.7-.5-1.5-2.8-1.6-4.1-.1-1.3 .7-1.8 .9-3.6 .2-1.8-.1-6.9 .4-7.3 .5-.4 2 3.7 2.5 5.1 .5 1.4 .3 2.1 .4 3.6zM15.1 153c.1 .6 .4 2.3 .9 3.6 .5 1.3 1.2 2.8 2.1 4 .9 1.2 2 1.8 3.1 3 1.1 1.2 2.3 2.9 3.4 4.3 1.1 1.4 2.5 3.4 3 4.1M19.3 210.1c.4 .8 2.2 3.3 2.3 5 .1 1.7-1.2 4-1.9 5.1-.8 1.1-1.8 .6-2.6 1.3-.8 .7-1.9 2.1-2.1 3.2-.2 1.1 .3 2 .7 3.1 .4 1.2 1.6 3.2 1.9 3.8M17.8 93.2c0 1 .4 2.1 .2 2.7-.2 .6-1 1.1-1.5 .9-.5-.2-1.3-1.3-1.3-2 0-.7 .9-1.3 1.1-2.2 .2-1-.1-3.1 .2-3.5 .3-.5 1.6 .1 1.8 .8 .2 .7-.4 2.3-.5 3.3zM16.3 78.9c-.1 1.3 0 2-.3 2.7-.3 .7-.9 1.5-1.5 1.4-.6-.1-1.9-.9-2-1.8-.1-.9 1-2.5 1.3-3.4 .4-.9 .3-1.5 .8-2.1 .5-.6 2-2.2 2.3-1.7 .3 .5-.5 3.6-.6 4.9zM12.5 205.4c-.2 1.6 .3 2.8 0 3.7-.3 .9-1.3 1.7-2 1.6-.7-.2-2.3-1.4-2.4-2.5-.1-1.1 1.4-2.6 1.8-3.9 .4-1.2 0-2.8 .6-3.6 .6-.8 2.6-1.9 2.9-1.1 .3 .8-.7 4.2-.9 5.8zM9.5 216.5c-.1 1.4 .3 2.4 0 3.2-.3 .8-1.2 1.5-1.8 1.4-.7-.1-2-1.2-2.1-2.1-.1-.9 1.2-2.5 1.5-3.6 .3-1.1 .1-2.2 .6-2.9 .5-.7 2.3-2 2.6-1.3 .3 .7-.7 3.9-.8 5.3zM28.8 150.1c.1 1.4 .5 4.3 .1 5.3-.5 1-2.1 1.3-2.8 .7-.7-.6-1.2-2.7-1.4-4-.2-1.3 .2-1.8 .4-3.6 .2-1.8 .2-6.9 .7-7.1 .5-.2 1.7 4.3 2.2 5.7 .5 1.4 .7 1.6 .8 3zM22.6 179.5c-.1 1.8 .9 3.8 .5 4.9-.4 1.1-1.9 1.9-2.8 1.6-.9-.3-2.3-2.2-2.4-3.5-.1-1.3 1.6-2.5 2-4.2 .4-1.7-.2-5.3 .4-6.1 .6-.8 2.8 0 3.2 1.2 .4 1.2-.8 4.3-.9 6.1zM10.1 230.8c.7 .5 3.3 1.9 4.2 3 .9 1.1 .6 2.8 1.1 3.8 .5 1 .9 1.8 1.8 2.4 .9 .6 2.4 .7 3.5 1.2 1.1 .5 2.4 1 3 1.8 .6 .8 .7 2.5 .8 3M15.2 191.5c-.4 .7-1.7 2.8-2.1 4-.4 1.2 0 2.4-.6 3.4-.6 1-1.9 2.1-3.2 2.4-1.3 .3-3.3-.4-4.7-.7-1.4-.3-3.3-.8-3.9-.9M34.2 145.9c0 .7-.8 1.3-1.2 1.7-.4 .4-.5 .7-.9 .6-.3-.1-.9-.3-1.2-1-.3-.7-.6-2.7-.4-3.1 .2-.4 1.2 .8 1.7 .7 .5-.1 .8-1.7 1.1-1.5 .3 .2 .9 1.9 .9 2.6zM8.8 234.3c-.1 .6-.4 2.5-.5 3.6-.1 1.1 0 2.1 .2 3.1 .2 1 .1 2.1 .8 3.1 .7 1 3 2.3 3.6 2.7M7.9 76.7c.2 .6 .7 2.5 1.3 3.6 .6 1 .8 2 2.1 2.7 1.3 .7 3.8 .9 5.7 1.2 1.9 .3 4.2 .9 5.8 .9 1.6 0 3.2-.8 3.8-1M26.1 164.8c.1 .7-.2 2.4-.5 2.9-.3 .5-1.1 .5-1.5 .2-.3-.3-.4-1.5-.6-2.2-.2-.8-.6-1.4-.5-2.3 .1-.9 .6-3.2 .9-3.1 .3 .1 .5 2.8 .9 3.5 .4 .8 1.2 .4 1.3 1zM33.4 212.7c.7 .4 3.6 1.5 4.5 2.6 .9 1.1 .7 2.8 .7 4 0 1.3-.6 2.5-1 3.5-.4 1-1.3 2.2-1.6 2.6M16.3 242.1c.2 1 .6 4.3 1.1 5.8 .5 1.5 .8 2.1 2 2.9 1.2 .8 4 1.6 5.3 2 1.3 .4 1.9 .1 2.6 .5 .7 .4 1.3 .9 1.8 1.7 .5 .8 1 2.3 1.2 2.8M9.5 205.1c.4 .3 1.7 .7 2.7 1.8 .9 1.2 2.4 3.5 3 5.1 .6 1.6 .4 3 .5 4.2 .1 1.2 .2 1.7 .1 3-.1 1.3-.6 4-.7 4.8M7.6 84.4c-.3 .4-1 1.2-1.9 2.1-.9 .9-2.1 2.2-3.3 3.3-1.2 1.1-2.6 2.1-3.8 3.2-1.2 1.1-2.8 2.9-3.4 3.5M10.8 232.8c-.2 1.5-.9 2.2-1.4 2.9-.5 .7-1 1.5-1.7 1.5-.7 0-2.1-.5-2.4-1.6-.3-1.1 0-4.4 .5-5.2 .4-.8 1.4 1 2.2 .4 .8-.6 2-4.2 2.5-3.9 .5 .3 .5 4.4 .3 5.9zM16.6 64.5c-.1 .7 0 1-.2 1.4-.2 .4-.5 .8-.8 .8-.3 0-1-.4-1.1-.9-.1-.5 .4-1.4 .6-1.9 .2-.5 .3-.5 .6-.9 .3-.4 1.1-1.5 1.2-1.2 .1 .2-.2 2-.3 2.7zM28.3 149.8c0 .5-.7 1.2-1 1.5-.3 .3-.6 .4-.8 .3-.2-.1-.4-.4-.6-.9-.2-.5-.8-2-.7-2.3 .1-.3 1 .3 1.4 .3 .4 0 .4-.5 .7-.3 .3 .2 1 .9 1 1.4zM20.7 266c0 1.1-1.6 2.5-2.2 3.1-.6 .7-1.1 1-1.7 .8-.6-.2-1.2-.7-1.7-1.9-.5-1.2-1.5-4.6-1.2-5.3 .3-.7 2.3 1 3.1 .9 .8-.1 1.1-1.7 1.7-1.3 .6 .4 2 2.6 2 3.7zM26.3 103c-.1 1.3 .5 2.5 .2 3.3-.3 .8-1.3 1.5-1.9 1.3-.6-.2-1.8-1.3-1.9-2.2-.1-.9 1.2-2.1 1.5-3.3 .3-1.2-.1-3 .4-3.7 .5-.6 2.2-1 2.5-.2 .3 .8-.7 3.5-.8 4.8zM25 191.9c.7 .3 2.5 .8 4 1.6 1.5 .8 3.4 2.2 4.9 3 1.5 .8 3.4 1.1 4.2 1.9 .8 .8 .3 2 .7 2.9 .4 .9 .3 1.9 1.5 2.7 1.2 .8 4.6 2 5.5 2.4M24.6 158.1c-.2 1.7-1.1 2.6-1.7 3.5-.6 .9-1.2 1.9-2 1.9-.8 0-2.5-.6-2.9-2-.4-1.4 0-5.3 .5-6.2 .5-.9 1.7 1.2 2.7 .5 1-.7 2.5-5.1 3.1-4.7 .6 .4 .5 5.2 .3 7zM16 156.6c.1 .7-1 2.1-1.5 2.6-.5 .5-1 .6-1.3 .3-.4-.3-.5-1-.8-1.8-.3-.9-1.3-2.7-1.2-3.3 .1-.6 1.5-.6 2-.5 .5 .1 .4 .8 .9 1.2 .5 .4 1.8 .8 1.9 1.5zM22.8 220.3c.3 .9 1 3.9 1.5 5.7 .5 1.8 .8 3.8 1.4 5.3 .6 1.5 1.7 3.1 2.1 3.7M28.3 126.5c.7 .4 2.9 1.6 3.9 2.5 1 .9 1.3 2 1.9 3 .7 1 1.2 2 2 2.8 .8 .8 1.8 1.1 2.6 2.2 .8 1.1 1.7 3.6 2 4.3M10.3 127.4c-.1 1 .1 1.7-.1 2.3-.2 .5-.8 1.1-1.3 1-.5-.1-1.4-.8-1.5-1.5-.1-.7 .8-1.7 1.1-2.5 .3-.7 .1-1.5 .5-2 .4-.5 1.6-1.6 1.8-1.1 .2 .4-.4 2.8-.5 3.8zM27.9 106.9c0 .5-.8 1.5-1.1 1.8-.3 .3-.7 .5-1 .3-.3-.2-.4-.6-.7-1.2-.2-.6-.9-2.2-.8-2.6 .1-.4 1.2 0 1.6 .1 .4 0 .4-.1 .7 .2 .3 .3 1.3 .9 1.3 1.4zM21.6 109.9c-.4 .5-1.2 2.4-2.1 3.2-.9 .8-2.3 1.4-3.5 1.5-1.2 0-2.5-.8-3.7-1.2-1.2-.4-2.8-.6-3.6-1.3-.9-.7-1.2-2.2-1.5-2.6M17.9 236.7c.1 .6 .1 2.6 .7 3.7 .6 1.1 2 2 2.7 3.1 .7 1.1 1.6 2 1.7 3.4 .1 1.4-.7 3.7-1.4 4.8-.7 1.1-1.3 1.3-2.6 1.8-1.3 .5-4.3 .8-5.2 1M21.7 86.2c-.2 1.7-1 2.5-1.6 3.3-.6 .8-1 1.7-1.8 1.7-.7 0-2.3-.5-2.7-1.8-.4-1.3 0-4.9 .5-5.8 .5-.9 1.6 1.1 2.5 .4 .9-.7 2.4-4.8 2.9-4.4 .5 .4 .4 4.9 .2 6.6zM13.9 150.2c.5 .6 1.6 2.8 2.8 3.7 1.1 .9 2.9 1.5 4.1 1.7 1.2 .2 2.4-.3 2.9-.4M16 213.9c0 1.3 .6 3.3 .3 4.1-.3 .8-1.6 1.3-2.2 1-.6-.3-1.4-2.1-1.5-3.1-.1-1 .9-1.5 1.1-2.9 .2-1.4-.2-5.3 .2-5.7 .4-.4 1.9 2 2.2 3.1 .4 1.1-.1 2.2-.1 3.5zM29.3 230.5c0 .7-.8 1.2-1.2 1.6-.3 .4-.6 .7-.9 .6-.3-.1-.7-.3-1-1-.3-.7-.8-2.6-.6-3 .2-.4 1.3 .8 1.7 .7 .5-.1 .7-1.4 1-1.2 .3 .2 1 1.6 1 2.3zM27.1 225.1c-.1 .9-.9 1.5-1.3 2-.4 .5-.7 .8-1.1 .8-.4 0-1.2-.3-1.5-1.1-.3-.8-.5-3.1-.2-3.6 .3-.5 1.3 1 1.9 .8 .6-.2 1.1-2.5 1.5-2.3 .4 .2 .8 2.5 .7 3.4zM9.9 98c.3 .6 .9 2.3 2 3.4 1.1 1.1 3.8 2.2 4.6 3.3 .9 1.1 .7 2.5 .5 3.5-.2 1-1 1.8-1.8 2.6-.8 .8-1.9 1.9-2.8 2.2-.9 .3-2.4-.1-2.9-.1M17.3 129.2c-.2 .8-1.1 3.7-1.1 5 0 1.3 .7 1.6 1 2.7 .3 1.1 0 2.7 .6 3.6 .6 .9 1.6 .9 2.7 1.8 1.1 .9 3.1 3.1 3.7 3.7M19.1 207c.4 .2 1.3 .8 2.6 1.5 1.2 .7 3.5 1.7 4.9 2.4 1.4 .7 2.7 1.6 3.3 1.9M17.7 133.7c-.2 1.4-.4 2-.8 2.7-.4 .7-1 1.4-1.6 1.4-.6 0-2-.5-2.2-1.5-.2-1 .6-3.5 1-4.3 .4-.8 .8 0 1.5-.6 .6-.6 2-3.6 2.4-3.2 .4 .4-.1 4.1-.3 5.5zM25.1 152.1c.1 1.1-1.6 2.9-2.3 3.6-.7 .7-1.4 .9-2 .6-.6-.3-.9-1-1.4-2.3-.5-1.3-2-4.6-1.7-5.4 .3-.8 2.5 .2 3.3 .3 .8 .1 .8-.3 1.5 .2 .7 .5 2.6 1.9 2.6 3zM19.5 215c-.5 .8-2.2 3.6-3.2 4.5-1 .9-2 .2-2.7 .7-.7 .5-1.1 1.1-1.5 2.4-.4 1.3-1.3 3.8-1 5.3 .3 1.5 2.3 2.6 3 3.8 .7 1.1 .7 2.6 .9 3.1M29.9 214.9c-.5 .8-2.9 3-3.2 4.5-.3 1.5 .8 3 1.3 4.6 .5 1.6 1.5 4 1.8 4.8M29.8 130c-.1 .5 .1 1.9-.7 2.9-.8 1-3.2 2.2-4.1 3.3-.9 1.1-.7 2.4-1.4 3.2-.7 .8-1.8 .8-2.8 1.4-1 .6-2 1.8-3.2 2.4-1.2 .6-3.4 1-4.1 1.2M14 127.3c.2 .6 .6 2.5 1.2 3.6 .6 1.1 2.1 1.9 2.4 3.1 .3 1.2-.2 2.8-.8 4-.6 1.2-1.6 2-2.9 3.1-1.3 1.1-4 2.7-4.8 3.2M27.3 168.9c-.1 .7 .2 2.9-.3 4.4-.5 1.5-1.3 3.6-2.6 4.5-1.3 .9-4 .8-5.4 .9-1.4 .1-1.6 .1-2.7-.5-1.1-.7-2.9-2.8-4.2-3.4-1.3-.6-3.2-.2-3.8-.3M43 189.4c.1 1-1.4 3.1-2.1 3.8-.7 .7-1.5 .8-2 .4-.5-.4-.6-1.4-1.1-2.7-.5-1.2-2-3.8-1.8-4.8 .2-1 2.2-1.2 2.9-1 .7 .2 .6 1.5 1.3 2.2 .7 .7 2.7 1.1 2.8 2.1zM16.1 96.3c.4 .6 1.8 2.4 2.2 3.4 .4 1-.2 1.6 .1 2.6 .3 1 1 2 1.5 3.3 .4 1.3 1.3 3.2 1.2 4.6-.1 1.4-1.3 3.2-1.6 3.9M24.9 128.8c-.1 1.2-1.1 2-1.6 2.6-.5 .6-.9 1.3-1.5 1.2-.6-.1-1.6-.5-1.9-1.5-.3-1-.5-4-.1-4.7 .4-.6 1.6 1.2 2.3 .8 .7-.4 1.6-3.4 2.1-3.1 .5 .3 .8 3.5 .7 4.7zM24.7 129.7c0 .5-.7 1.3-1 1.6-.3 .3-.6 .4-.9 .3-.2-.1-.4-.5-.6-1.1-.2-.6-.9-1.9-.8-2.3 .1-.4 1-.2 1.4-.1 .4 .1 .4 .1 .7 .4 .3 .3 1.2 .7 1.2 1.2zM24.8 106.3c-.1 .4-.5 1.3-.4 2.5 0 1.2 .6 3.2 .7 4.8 .1 1.5 .2 3.7 .2 4.5M17 223.7c-.1 1.1-.4 1.6-.8 2.2-.4 .6-.8 1.2-1.3 1.2-.5 0-1.6-.5-1.8-1.3-.2-.8 .3-3 .6-3.6 .3-.6 .8 .3 1.4-.2 .6-.5 1.7-3.1 2-2.8 .3 .3 0 3.4-.1 4.5zM30.9 142.1c.1 .8-.6 2.8-1.1 3.4-.5 .6-1.3 .5-1.7 .1-.4-.4-.4-1.6-.7-2.5-.3-.9-1.3-2.3-1.2-3.2 .1-.9 1.2-2.7 1.7-2.5 .4 .2 .5 2.7 1 3.5 .5 .8 1.9 .4 2 1.2zM30.6 221.2c-.2 1.7-1.1 2.6-1.7 3.5-.6 .9-1.2 1.9-2 1.9-.8 0-2.5-.6-2.9-2-.4-1.4 .1-5.3 .6-6.2 .6-.9 1.8 1.2 2.7 .5 .9-.7 2.5-5.1 3-4.7 .6 .4 .5 5.2 .3 7zM30.5 146c-.1 .7-.4 1-.7 1.4-.2 .4-.5 .8-.8 .8-.3 0-1.1-.3-1.2-.8-.1-.5 .1-2.1 .3-2.5 .2-.4 .6 .4 1 .1 .4-.3 1.1-2.1 1.3-1.9 .2 .2 .2 2.2 .1 2.9zM11 250.1c.2 .7-.6 2.8-1.1 3.4-.5 .6-1.4 .6-1.8 .2-.4-.4-.4-1.5-.7-2.5-.3-1-1.2-2.3-1.1-3.3 .1-1 1.2-2.7 1.7-2.5 .4 .2 .5 2.8 1 3.6 .5 .8 1.8 .3 2 1.1zM10.6 183.6c.4 .5 1.2 2.3 2.3 3.1 1.1 .8 2.7 2 4.2 1.9 1.5-.1 3.5-1.7 5-2.5 1.5-.8 3-1.7 4.2-2.3 1.2-.6 1.9-1.3 3-1.2 1.1 .1 3.1 1.6 3.7 1.9M37.3 181.1c-.2 .8-.9 3.6-1.1 5-.2 1.4-.6 2.3-.1 3.4 .5 1.1 1.9 2.7 3 3.4 1.1 .7 3.2 .4 3.8 .5M40.6 197.3c-.1 1.3-1.8 2.7-2.5 3.4-.7 .7-1.2 1.2-1.8 1-.6-.2-1.5-.7-2-2-.5-1.3-1.6-5.1-1.2-5.9 .4-.8 2.5 1.3 3.4 1.2 .9-.1 1.3-2.4 2-2 .7 .4 2.2 3 2.1 4.3zM35.5 205.3c.1 .5 .7 2.2 .5 3-.2 .9-1 1.4-1.8 2.1-.8 .7-1.5 1.7-2.8 2.3-1.3 .6-3.7 1.3-5.1 1.5-1.4 .2-2.1 .2-3.1-.2-1-.4-2.6-2-3.1-2.4M11.9 242.2c.1 .7 .2 2.5-.1 3.1-.3 .6-1.2 .6-1.6 .3-.4-.4-.6-1.7-.7-2.4-.1-.8-.1-1.1 0-2.1 .1-1 .2-3.9 .5-3.9 .3-.1 .8 2.8 1.1 3.6 .3 .8 .7 .6 .8 1.4z" fill="none" stroke="#1e3cff" stroke-width="1.4"/><path d="M235.6 103.5c.2 .7 .4 3.2 1 4.5 .6 1.3 2.2 2 2.7 3.5 .6 1.5 .7 4.1 .6 5.7-.1 1.6-.9 2.6-1.4 3.9-.5 1.2-1.3 3-1.5 3.6M202.2 95c.3 1.7-1.4 6.4-2.5 7.8-1.1 1.4-3.1 1.3-4 .4-.9-.9-.8-3.6-1.5-5.8-.7-2.2-2.8-5.1-2.6-7.3 .2-2.2 2.8-6.4 3.8-6 1 .4 1.2 6.5 2.3 8.3 1.1 1.8 4.2 .9 4.5 2.6zM158.4 61c.2 1.5 .5 4.9-.1 6-.5 1.1-2.4 1.4-3.2 .7-.8-.7-1.2-3.2-1.4-4.6-.2-1.5-.1-2.1 .1-4.1 .2-2 .3-7.7 .9-7.9 .5-.2 1.8 5.1 2.4 6.8 .6 1.6 1.1 1.6 1.3 3.1zM168 39.3c.3 .9 1.3 3.8 1.6 5.2 .3 1.4 .3 2.1 0 3.2-.3 1.2-1.6 2.5-1.7 3.7-.1 1.1 .8 2.1 1.1 3.2 .3 1.1 .7 2.1 .9 3.2 .2 1.1 .1 2.9 .1 3.5M90.8 84.9c-.9 .3-4.4 1.4-5.6 2.1-1.2 .7-.8 1.5-1.6 2-.8 .5-2.5 1-3 1.2M81.1 21.2c.4 .2 1.4 .7 2.4 1 1 .3 2.3-.1 3.6 .6 1.3 .7 3.2 3 4.4 3.6 1.2 .6 2-.3 2.9-.2 .9 .1 1.6 .1 2.5 .9 .9 .8 2.3 3.3 2.8 4M77.5 23c.7 .2 2.9 .9 4 1.5 1.1 .6 2.1 1.1 2.7 2 .6 .9 .9 2.3 .9 3.3 0 1-.3 1.6-1.1 2.5-.8 .8-3.2 1.6-4 2.6-.8 1-.7 3-.8 3.6M45.3 13.8c-.4 .8-1.4 3.4-2.5 4.8-1.1 1.4-2.9 2.5-4.1 3.7-1.2 1.2-2.4 2.4-2.9 3.4-.5 1 .1 2.2 .1 2.6M94.2 57.6c-.3 3.1 .4 5.1-.3 6.8-.7 1.7-2.5 3.4-3.9 3.2-1.4-.2-4.5-2.3-4.7-4.4-.2-2.1 2.5-5.8 3.3-8.1 .8-2.3 .5-4 1.7-5.6 1.2-1.6 4.9-5.1 5.6-3.8 .7 1.4-1.4 8.8-1.7 11.9zM196.4 111.6c.4 2-.2 7.2-1.1 8.8-.9 1.6-3.5 1.7-4.6 .7-1.1-1-1.2-4.6-1.7-6.8-.5-2.2-1.4-3.7-1.2-6.5 .2-2.8 1.5-10.2 2.4-10.1 .9 .1 1.9 8.3 2.9 10.6 1 2.3 2.9 1.3 3.3 3.3zM94.8 15.7c-.1 .4-.2 1.2-.5 2.5-.3 1.3-1.5 3.4-1.4 5.2 .1 1.7 1.3 4 1.8 5.3 .5 1.3 .1 1.6 1 2.5 .9 .9 3.2 2.1 4.4 3.1 1.1 .9 2.1 2.2 2.5 2.6M226.1 41.5c.7 .6 2.8 2.4 4 3.7 1.2 1.4 2.9 3.2 3.4 4.4 .5 1.2-.3 2.2-.4 2.7M107.3 8.5c-.1 .9-1.1 1.8-1.6 2.3-.5 .5-.8 .8-1.3 .7-.4-.1-1.1-.4-1.4-1.3-.3-.9-.9-3.5-.6-4 .3-.5 1.6 1 2.2 .9 .6-.1 .9-1.9 1.4-1.7 .5 .2 1.3 2.2 1.3 3.1zM169.4 106.8c0 .4-.1 1.3 .3 2.6 .4 1.3 .9 3.9 1.9 5.1 1 1.2 2.7 1.6 4.3 2 1.6 .4 3.6 .5 5.3 .4 1.7-.1 3.8-.2 5-.8 1.2-.6 2-2.5 2.4-3M159.9 61.2c.3 .9 1.4 3.7 2 5.5 .6 1.8 1.5 3.7 1.8 5.5 .3 1.8-.1 3.8-.1 5.2 0 1.4-.1 1.8-.1 3.1 0 1.3 0 3.8 0 4.6M175.3 113.6c-.3 .4-1 1.5-1.8 2.5-.8 1-2.4 2.5-3.3 3.5-.9 1-1.3 1.7-2.3 2.4-1 .7-3.2 1.2-3.8 1.5M124.9 100.8c0 1-.3 4.2 0 6 .3 1.8 1.4 3.2 1.8 4.9 .4 1.7 1.1 3.4 .8 5-.3 1.6-1.6 3.6-2.5 4.4-.9 .8-2.3 .5-2.8 .6M168 32.5c0 .9-1.2 2.2-1.8 2.7-.6 .6-1 .8-1.5 .6-.5-.2-.9-.7-1.3-1.7-.4-1-1.3-3.8-1.1-4.4 .3-.6 1.9 .7 2.6 .7 .7 0 .8-1.2 1.3-.8 .5 .4 1.8 2 1.8 2.9zM211.7 88.9c.1 .8 .2 3.2 .4 4.5 .2 1.3 .8 2.3 .7 3.2-.1 .9-1 1.9-1.2 2.3M99.8 17.2c-.1 .7-.7 2.6-.9 4-.2 1.4 .4 3.1-.1 4.7-.5 1.6-2.3 4.2-2.8 5M71.6 .6c-.2 .5-.6 1.9-1.4 3-.7 1.1-2.2 2.8-3.1 3.8-.9 1-1.8 1.7-2.1 2M226.2 113.8c.1 .8 .6 3.1 .6 4.6 0 1.6-.4 3.1-.6 4.7-.2 1.5-.9 3.1-.6 4.6 .2 1.5 2.1 3.2 2.1 4.7 0 1.5-1.8 3.8-2.2 4.5M242.1 10.3c.1 .7-.1 3.1 .6 4.1 .6 1 2.6 1 3.3 2 .7 1 .6 3.3 .7 4M156.7 83.3c-.3 2-.5 2.9-1 3.9-.6 1-1.4 2.1-2.3 2.1-.9 0-2.8-.9-3.1-2.3-.3-1.4 .9-4.7 1.5-5.9 .6-1.2 1-.4 1.9-1.4 .9-.9 3.1-4.9 3.6-4.3 .5 .6-.3 5.9-.6 7.9zM90.7 2.3c-.3 .6-1.3 2.4-1.9 3.5-.6 1.1-1.4 1.8-1.7 3.3-.3 1.5 0 4.6 0 5.5M210.1 46.6c.1 1.1 .4 3.3 .1 4.1-.4 .8-1.7 .9-2.2 .5-.5-.4-.9-2.1-1-3.1-.1-1 .1-1.3 .2-2.7 .1-1.4 .2-5.2 .6-5.4 .4-.2 1.2 3.3 1.6 4.4 .4 1.1 .6 1.1 .7 2.2zM132.6 42.8c.2 1.2 .4 3.9 0 4.8-.4 .9-1.9 1.1-2.5 .6-.6-.5-1-2.6-1.2-3.7-.1-1.1 .1-1.6 .3-3.2 .1-1.6 .2-6.2 .6-6.4 .4-.2 1.4 4 1.9 5.3 .5 1.3 .7 1.4 .9 2.6zM168.1 65c.4 .3 1 1.3 2.3 1.7 1.3 .4 4 .4 5.5 .8 1.5 .4 2.6 .7 3.3 1.4 .7 .7 .8 2.4 1 2.9M190.3 98.4c-.2 .5-.5 2.2-1.3 2.9-.8 .7-2.2 1.1-3.3 1.4-1.1 .3-2.3 .3-3.4 .2-1.1-.1-2.4-.7-2.9-.9M93.7 35.1c.3 1.2-.4 4.6-1.1 5.6-.7 1-2.3 .9-2.9 .3-.6-.6-.6-2.8-1-4.2-.4-1.4-1.3-2.7-1.2-4.4 .1-1.7 1.3-5.8 1.9-5.7 .6 .1 1 5.2 1.7 6.6 .7 1.4 2.4 .6 2.6 1.8zM118.3 67.2c-.3 2.3 .1 3.7-.4 4.9-.5 1.2-1.8 2.5-2.8 2.4-1.1-.1-3.3-1.5-3.5-3.1-.2-1.5 1.7-4.5 2.3-6.2 .6-1.7 .5-2.7 1.4-3.8 .9-1.2 3.7-4.1 4.2-3.1 .5 1-.9 6.6-1.2 8.9zM226.8 12.4c-.1 2.5 1.1 5.3 .6 6.8-.5 1.5-2.6 2.6-3.8 2.2-1.2-.5-3.1-3.1-3.2-4.9-.1-1.8 2.1-3.3 2.6-5.7 .5-2.4-.3-7.6 .5-8.7 .8-1.1 3.8 .5 4.4 2.2 .6 1.7-1 5.6-1.1 8.1zM86.3 55.8c-.1 .9-.5 3.9-.6 5.3-.1 1.4 0 1.9-.3 2.9-.3 1-1.3 2-1.3 2.9-.1 .9 .1 1.9 1 2.5 .9 .6 3.7 1.1 4.5 1.3M90.1 46.2c-.1 2.3 1 4.7 .5 6-.5 1.4-2.2 2.4-3.3 2.1-1.1-.4-3-2.6-3.1-4.2-.1-1.6 2-3.2 2.5-5.3 .5-2.1-.3-6.4 .5-7.4 .8-1 3.6-.4 4.1 1.1 .5 1.5-1.1 5.4-1.2 7.7zM145.7 87.4c.5 .7 1.7 3.2 3.2 4.2 1.5 .9 4.2 .7 5.7 1.5 1.5 .8 2.7 2.6 3.3 3.1M216.6 64.4c-.1 1.3-1.5 2.3-2.1 3-.6 .7-1.1 1.4-1.7 1.3-.6-.1-1.7-.6-2.1-1.8-.4-1.2-.9-4.9-.5-5.6 .4-.7 2 1.6 2.9 1.3 .8-.3 1.6-3.4 2.2-3.1 .6 .3 1.4 3.6 1.3 4.9zM82.8 49.9c.3 .8 .7 3.4 1.6 4.6 .9 1.2 2.8 1.3 3.6 2.4 .8 1.1 1.2 3.7 1.5 4.4M132.9 34.2c.4 .5 1.6 1.7 2.5 2.9 .9 1.2 2.7 3.1 3.1 4.4 .4 1.3-.6 2.8-.7 3.4" fill="none" stroke="#1e3cff" stroke-width="1.4"/><path d="M69.5 253.6c.1 1.2-1.9 3.4-2.7 4.2-.8 .8-1.6 1.1-2.2 .7-.6-.4-1-1.3-1.6-2.8-.6-1.5-2.3-5.1-2-6.1 .3-1 2.8-.1 3.7 0 .9 .1 .9 0 1.7 .7 .8 .7 3 2 3.1 3.3zM167.6 237.5c-.1 .8-.5 1.3-.8 1.7-.3 .4-.5 .9-.9 .9-.4 0-1.2-.3-1.4-1-.2-.7-.1-2.5 .2-2.9 .2-.4 .8 .6 1.3 .3 .5-.3 1.2-2.5 1.5-2.3 .3 .2 .2 2.5 .1 3.3zM151.1 231.5c0 .9 .5 2.3 .3 2.9-.2 .6-1.2 .9-1.6 .7-.4-.3-1-1.5-1.1-2.2-.1-.7 .6-1.1 .8-2.1 .2-1-.1-3.7 .2-4 .3-.3 1.4 1.3 1.6 2.1 .2 .8-.2 1.7-.2 2.6zM143.9 231c-.2 1.7 .1 2.8-.3 3.7-.4 .9-1.3 1.8-2.1 1.7-.8-.1-2.4-1.2-2.6-2.3-.1-1.1 1.3-3.3 1.7-4.5 .4-1.2 .3-1.8 1-2.7 .7-.8 2.7-3.1 3.1-2.4 .4 .7-.6 4.8-.8 6.5zM170.1 236.5c-.1 .8-.8 3.5-.5 5.1 .3 1.6 1.3 3.4 2.3 4.3 1 .9 2.9 1 3.5 1.2M171.8 212.6c.1 .4 .8 1.7 .6 2.5-.2 .8-1.2 1.7-1.7 2.5-.5 .8-1.2 2.1-1.4 2.5M87 229.2c-.3 .6-.7 2.4-1.6 3.7-.9 1.3-3 3.2-3.7 4.4-.7 1.2-.6 2-.7 3-.1 1-.6 2.1 0 3.2 .6 1.1 3 2.6 3.6 3.1M118.3 224.8c-.1 .8-.1 3.5-.5 4.9-.4 1.4-.7 2.5-1.7 3.4-1 .9-3.2 1.1-4.1 2.1-.9 1-1.4 2.4-1.4 3.7 0 1.3 .5 3.4 1.2 4.4 .7 1 2.6 1.5 3.1 1.8M199.7 230.2c.8 .2 3.5 1.1 4.7 1.5 1.2 .3 1.6 .2 2.5 .6 .9 .4 1.8 1.2 3.1 1.8 1.3 .6 3.8 1.4 5 2 1.2 .6 2.1 1.2 2.5 1.4M60.8 252.7c-.1 1.1 .2 1.9 0 2.5-.2 .6-.9 1.2-1.4 1.1-.5-.1-1.5-1-1.6-1.7-.1-.7 .9-1.7 1.2-2.6 .3-.9 0-2.1 .4-2.6 .4-.5 1.8-1.2 2-.6 .2 .6-.5 2.8-.6 3.9z" fill="none" stroke="#1e3cff" stroke-width="1.4"/><path d="M273 148.8c1.2 0 4.7 1.8 7 0 2.3-1.8 5-7.4 7-10.6 2-3.2 3.4-5.5 5.2-8.7 1.7-3.2 3.8-7.6 5.3-10.5 1.5-2.9 .6-5.4 3.5-7 2.9-1.6 8.8-2.4 14-2.6 5.2-.2 11.7 1.3 17.5 1.7 5.8 .4 11.7-.4 17.5 .9 5.8 1.3 12.8 4.4 17.5 7 4.7 2.6 7.9 5.3 10.5 8.8 2.6 3.5 4.9 8.4 5.2 12.2 .3 3.8-1.4 7-3.4 10.5-2 3.5-6.2 6.7-8.8 10.5-2.6 3.8-4.1 9-7 12.2-2.9 3.2-6.1 5.2-10.5 7-4.4 1.8-13.1 3-15.7 3.6M318.5 185.4c-3.5 .4-14.6 1.2-21 2.1-6.4 .9-12.8 2.3-17.5 3.5-4.7 1.2-7 2.5-10.5 3.5-3.5 1-7 2.3-10.5 2.6-3.5 .3-7 .1-10.5-.9-3.5-1-7.6-3.2-10.5-5.2-2.9-2-5.2-4.1-7-7-1.8-2.9-2.6-7-3.5-10.5-.9-3.5-1.4-8.7-1.7-10.5M225.8 162.9c.9-.9 3.2-3.6 5.2-5.4 2-1.8 4.7-4.1 7-5.3 2.3-1.2 4.4-1.2 7-1.7 2.6-.5 7.3-1.2 8.8-1.4M136.5 247c.6-.5 1.4-3.5 3.5-3.2 2.1 .3 5.9 3.6 8.8 5 2.9 1.4 4.3 2.2 8.7 3.4 4.4 1.2 11.7 2.6 17.5 3.6 5.8 1 8.8 2.2 17.5 2.6 8.7 .4 23.3 .4 35 0 11.7-.4 26.3-1.9 35-2.6 8.7-.7 14.6-1.5 17.5-1.8M280 254.2l2.6-.6M302.8 251.6c5-1.1 18.9-4.2 29.7-6.4 10.8-2.2 24.8-4.7 35-7 10.2-2.3 18.7-4.7 26.3-7 7.6-2.3 14.8-5.6 19.2-7 4.4-1.4 5.8-1.4 7-1.7M40.2 268c.6-.6 2.1-4.1 3.6-3.5 1.5 .6 2.9 4.9 5.2 7 2.3 2.1 4.7 3.7 8.8 5.3 4.1 1.6 10.2 2.9 15.7 4.3 5.5 1.5 14.6 3.7 17.5 4.4M112 287.2c1.8 .4 7 2 10.5 2.7 3.5 .7 4.7 1.4 10.5 1.7 5.8 .3 14.6 .6 24.5 0 9.9-.6 23.3-2.5 35-3.5 11.7-1 20.4-1.9 35-2.6 14.6-.7 43.7-1.4 52.5-1.7M280 282c5.8-.7 23.3-2.9 35-4.4 11.7-1.5 23.3-3.1 35-4.4 11.7-1.3 23.3-2 35-3.4 11.7-1.4 29.2-4.4 35-5.3M5.2 268c.3 1.5 .9 5.9 1.8 8.8 .9 2.9 1.5 5.8 3.5 8.7 2 2.9 4.6 6.4 8.7 8.7 4.1 2.3 10.2 3.8 15.8 5.3 5.5 1.5 11.7 2.1 17.5 3.5 5.8 1.4 10.2 3.7 17.5 5.2 7.3 1.5 18.3 2.7 26.2 3.6 7.9 .9 17.5 1.4 21 1.7M136.5 313.5c3.5-.3 11.7-.8 21-1.7 9.3-.9 23.3-2.6 35-3.6 11.7-1 20.4-1.7 35-2.6 14.6-.9 43.7-2.2 52.5-2.6M280 302.1c2.9-.3 12.7-1.3 17.5-1.7 4.8-.4 9.5-.8 11.4-.9M329 298.1c6.4-.6 26.2-2.8 38.5-3.9 12.3-1.1 26.3-2 35-2.6 8.7-.6 14.6-1 17.5-1.2M0 308.2c.6 1.2 1.2 4.4 3.5 7 2.3 2.6 6.7 6.7 10.5 8.8 3.8 2.1 7.2 2.9 12.2 3.5 5 .6 13.9-.7 17.6 0 3.6 .7 3.6 3.7 4.3 4.4M67.4 332.4c1.9-.2 7.5-1.5 11.4-1.4 3.9 .1 7.8 1.1 12.2 1.8 4.4 .7 8.8 2.5 14 2.6 5.2 .1 8.8-.8 17.5-1.8 8.7-1 23.3-3.2 35-4.4 11.7-1.2 24.3-1.7 35-2.6 10.7-.9 24.1-2.2 28.9-2.6M241.5 322.6l38.5-3.8M280 318.8c2.9-.3 8.8-.9 17.5-1.8 8.7-.9 23.3-2.5 35-3.5 11.7-1 20.4-2 35-2.6 14.6-.6 43.7-.8 52.5-.9M0 355.5c1.2 .3 4.7 1.7 7 1.7 2.3 0 4.4-2 7-1.7 2.6 .3 5.3 2.6 8.8 3.5 3.5 .9 7.8 .6 12.2 1.8 4.4 1.2 11.7 4.3 14 5.2M68.2 364.6c6.1-1.2 24.8-5 36.8-7.4 12-2.4 23.3-5 35-7 11.7-2 23.3-3.8 35-5.2 11.7-1.4 23.3-2.3 35-3.5 11.7-1.2 23.3-2.5 35-3.5 11.7-1 29.2-2.2 35-2.6M280 335.7c2.9-.3 8.8-1 17.5-2.1 8.7-1.1 23.3-3.1 35-4.4 11.7-1.3 24.8-2.7 35-3.4 10.2-.7 17.6-1 26.3-.9 8.8 .1 21.8 1.4 26.2 1.7M192.5 373c5.8-1.2 20.4-4.4 35-7 14.6-2.6 43.7-7.3 52.5-8.8M280 355c2.9-.5 8.8-1.6 17.5-3 8.7-1.4 23.3-3.6 35-5.2 11.7-1.6 24.8-3.5 35-4.4 10.2-.9 17.6-1.2 26.3-.9 8.8 .3 21.8 2.2 26.2 2.6M297.5 373c5.8-1.8 23.3-7.6 35-10.5 11.7-2.9 24.8-5.7 35-7 10.2-1.3 17.6-1.2 26.3-.9 8.8 .3 21.8 2.2 26.2 2.6M376.2 373c2.9-1.2 10.3-6 17.6-7 7.3-1 21.8 .8 26.2 .9M10.5 42c1.2 1.5 4.1 6 7 8.8 2.9 2.8 8.7 6.5 10.5 7.8M47.2 59.5c1.8 .4 7.4 2.1 10.6 2.1 3.2 0 6.8-2.6 8.7-2.1 1.9 .5 2.6 3.7 2.6 5.3 0 1.6-3.3 2.6-2.6 4.3 .7 1.7 4.4 4.5 7 6.1 2.6 1.6 5.8 3.6 8.7 3.6 2.9 0 7-1.8 8.8-3.6 1.8-1.8 2.4-4.7 1.8-7-.6-2.3-2.7-5.8-5.3-7-2.6-1.2-7.6-.3-10.5 0-2.9 .3-5.8 1.5-7 1.8M88.4 99.8c1.6-.3 6.8-.3 9.6-1.8 2.8-1.5 4.1-4.7 7-7 2.9-2.3 7.9-4.7 10.5-7 2.6-2.3 4.4-5.8 5.3-7M70 99.4c-.6-1.4-3.5-5.5-3.5-8.4 0-2.9 1.7-6.8 3.5-8.8 1.8-2 5.8-2.8 7-3.4M84 0c1.2 1.8 4.7 7 7 10.5 2.3 3.5 6.4 7 7 10.5 .6 3.5-2.9 8.8-3.5 10.5M113.8 33.2c1.4 .3 5.5 2.7 8.7 1.8 3.2-.9 7.6-4.7 10.5-7 2.9-2.3 4.7-5.2 7-7 2.3-1.8 4.7-3.8 7-3.5 2.3 .3 6.4 3 7 5.3 .6 2.3-1.8 6.1-3.5 8.7-1.7 2.6-5.3 4.7-7 7-1.7 2.3-3.8 5-3.5 7 .3 2 4.3 4.4 5.2 5.3M177.6 77c1.3-.6 5.4-1.8 7.9-3.5 2.5-1.7 4.7-4.4 7-7 2.3-2.6 6.4-5.8 7-8.7 .6-2.9-4.1-6.2-3.5-8.8 .6-2.6 3.9-5 7-7 3.1-2 9.5-4.3 11.4-5.2M233.6 35.9c.7-1.6 4-6.1 4.4-9.7 .4-3.6-2.4-7.8-1.8-12.2 .6-4.4 4.4-11.7 5.3-14M159.2 77c-.9 .9-3.8 3.2-5.2 5.2-1.4 2-4.1 5.5-3.5 7 .6 1.5 4.1 1.8 7 1.8 2.9 0 7.9-.6 10.5-1.8 2.6-1.2 4.3-4.3 5.2-5.2M28 85.8c-1.2-1.2-5-4.4-7-7-2-2.6-3.4-6.2-5.2-8.8-1.7-2.6-3.5-5.2-5.3-7-1.8-1.8-3.5-2.6-5.3-3.5-1.7-.9-4.3-1.4-5.2-1.7M46.4 86.1c-.4 1.4-1.6 5.2-2.6 8.4-1 3.2-2.1 6.4-3.6 10.5-1.5 4.1-3.7 9.3-5.2 14-1.5 4.7-3.5 9.3-3.5 14 0 4.7 2 9.9 3.5 14 1.5 4.1 4.8 7 5.2 10.5 .4 3.5-1.4 7.3-2.6 10.5-1.2 3.2-2.2 7.6-4.4 8.8-2.2 1.2-6.1-1.2-8.7-1.8-2.6-.6-5.8-1.5-7-1.8M17.5 168.2c.9-.3 3.9-2.6 5.3-1.7 1.4 .9 3.7 4.9 3.4 7-.3 2.1-3.8 5.3-5.2 5.3-1.4 0-2.9-4.4-3.5-5.3" fill="none" stroke="#000" stroke-width="1.3" stroke-linejoin="round"/><path d="M54.2 252.2c2-.3 7.6-1.4 12.3-1.7 4.7-.3 10.5-.3 15.7 0 5.3 .3 10.8 1.1 15.8 1.7 5 .6 10.5 .3 14 1.8 3.5 1.5 4.7 4.7 7 7 2.3 2.3 4.7 5.4 7 7 2.3 1.6 4.7 2.6 7 2.6 2.3 0 5-1.6 7-2.6 2-1 3.7-3.5 5.2-3.5 1.5 0 4.5 2.1 3.6 3.5-.9 1.4-8.8 4.2-8.8 5.2 0 1 5.9 1.2 8.8 .9 2.9-.3 6.4-1 8.7-2.6 2.3-1.6 5.3-4.9 5.3-7 0-2.1-3.2-3.9-5.3-5.3-2.1-1.4-5.3-2-7-3.4-1.7-1.4-3.5-3.8-3.5-5.3 0-1.5 4.7-1.7 3.5-3.5-1.2-1.8-7.6-5-10.5-7-2.9-2-6.7-3.2-7-5.2-.3-2 3.2-4.9 5.2-7 2-2 4.4-3.2 7-5.3 2.6-2.1 5.9-5.3 8.8-7 2.9-1.7 8.5-2.1 8.8-3.5 .3-1.4-4.1-3.6-7-5.2-2.9-1.6-6.8-3.4-10.6-4.4-3.8-1-8.4-1.9-12.2-1.8-3.8 .1-8.2 1-10.5 2.6-2.3 1.6-3.2 4.4-3.5 7-.3 2.6 .6 5.9 1.8 8.8 1.2 2.9 5.5 7.1 5.2 8.8-.3 1.8-4.4 2-7 1.7-2.6-.3-6.5-2.3-8.8-3.5-2.3-1.2-5.5-1.8-5.2-3.5 .3-1.7 7-4.9 7-7 0-2.1-4.7-3.9-7-5.3-2.3-1.4-4.7-3.1-7-3.4-2.3-.3-5 .5-7 1.7-2 1.2-2.9 4.1-5.2 5.3-2.3 1.2-6.5 2-8.8 1.7-2.3-.3-3.5-3.2-5.2-3.5-1.8-.3-5 .6-5.3 1.8-.3 1.2 1.5 3.8 3.5 5.2 2 1.4 6.8 1.8 8.8 3.5 2 1.7 3.4 4.7 3.4 7 0 2.3-1.4 5.3-3.4 7-2 1.7-6.8 2.1-8.8 3.5-2 1.4-1.8 4-3.5 5.2-1.7 1.2-5.8 1.5-7 1.8M15.8 245.2c1.2-2 4.4-9.6 7-12.2 2.6-2.6 5.8-4.1 8.7-3.5 2.9 .6 6.7 4.1 8.7 7 2 2.9 3.9 7 3.6 10.5-.3 3.5-3.5 7-5.3 10.5-1.8 3.5-3.3 8.4-5.3 10.5-2 2.1-5 2.7-7 1.8-2-.9-4-4.4-5.2-7-1.2-2.6-1.5-7.3-1.8-8.8M217 180.5c.6 2.1 1.8 9.4 3.5 12.3 1.7 2.9 3.8 3.2 7 5.2 3.2 2 11.4 6.4 12.3 7 .9 .6-4.7-1.8-7-3.5-2.3-1.7-7.3-6.1-7-7 .3-.9 8.4 2.6 8.7 1.7 .3-.9-4.9-4.4-7-7-2.1-2.6-4.7-6.1-5.3-8.7-.6-2.6 1.5-5.8 1.8-7M248.5 185.8c.6-.3 2.6-3.2 3.5-1.8 .9 1.4 1.8 7.6 1.8 10.5 0 2.9-1.1 7-1.8 7-.7 0-2.2-5.8-2.6-7M262.5 313.5c1.2-.6 4.1-3.4 7-3.5 2.9-.1 7.3 2.9 10.5 2.6 3.2-.3 6.5-2.8 8.8-4.4 2.3-1.6 3.8-3.5 5.2-5.2 1.4-1.7 1.8-4.6 3.5-5.2 1.7-.6 6.4 .5 7 1.7 .6 1.2-5.3 4.7-3.5 5.3 1.8 .6 10.5-2.4 14-1.8 3.5 .6 5.2 2.9 7 5.2 1.8 2.3 3.5 5.6 3.5 8.8 0 3.2-1.2 9-3.5 10.5-2.3 1.5-6.4-1.1-10.5-1.7-4.1-.6-9.3-.6-14-1.8-4.7-1.2-9.3-3.7-14-5.2-4.7-1.5-11.7-3-14-3.6M150.5 154c1.2-.6 4.4-3.2 7-3.5 2.6-.3 6.4 .3 8.7 1.7 2.3 1.4 5.6 4.9 5.3 7-.3 2-4.1 4.4-7 5.3-2.9 .9-7.9 .6-10.5 0-2.6-.6-4.3-2.9-5.2-3.5M175 108.5c1.2-1.7 7-7.6 7-10.5 0-2.9-5.2-7-7-7-1.8 0-4.1 4.7-3.5 7 .6 2.3 4.7 4.1 7 7 2.3 2.9 7 7.6 7 10.5 0 2.9-6.4 4.1-7 7-.6 2.9 1.2 7.9 3.5 10.5 2.3 2.6 7.3 3.2 10.5 5.2 3.2 2 5.8 4.4 8.7 7 2.9 2.6 7.9 9.1 8.8 8.8 .9-.3-1.5-7.6-3.5-10.5-2-2.9-5.8-4.7-8.7-7-2.9-2.3-7.6-4.1-8.8-7-1.2-2.9 1.8-7.6 1.8-10.5 0-2.9-1.5-5.8-1.8-7M197.8 105c2-.6 8.4-2.3 12.2-3.5 3.8-1.2 7.6-4.7 10.5-3.5 2.9 1.2 7 7 7 10.5 0 3.5-7 7.6-7 10.5 0 2.9 7 3.5 7 7 0 3.5-4.7 10.2-7 14-2.3 3.8-5.6 5.9-7 8.8-1.4 2.9-1.4 7.3-1.7 8.7M143.5 57.8c1.2-1.5 4.1-6.2 7-8.8 2.9-2.6 7-4.7 10.5-7 3.5-2.3 7.3-4.7 10.5-7 3.2-2.3 5.8-7 8.7-7 2.9 0 5.9 7 8.8 7 2.9 0 5.9-6.7 8.8-7 2.9-.3 7.5 2.3 8.7 5.2 1.2 2.9-2.9 9.4-1.7 12.3 1.2 2.9 5.5 4.1 8.7 5.3 3.2 1.2 7.6 0 10.5 1.7 2.9 1.7 5.2 5.2 7 8.7 1.8 3.5 4.1 8.8 3.5 12.3-.6 3.5-7 5.8-7 8.7 0 2.9 7.6 6.2 7 8.8-.6 2.6-8.7 5.8-10.5 7M94.5 3.5c1.2 1.2 6.4 3.8 7 7 .6 3.2-4.1 9.1-3.5 12.3 .6 3.2 4.4 7 7 7 2.6 0 5.9-4.7 8.8-7 2.9-2.3 6.1-7.6 8.7-7 2.6 .6 7 6.6 7 10.4 0 3.8-4.7 9.1-7 12.3-2.3 3.2-4.7 6.7-7 7-2.3 .3-4.7-5.9-7-5.3-2.3 .6-6.4 5.6-7 8.8-.6 3.2 4.1 8.2 3.5 10.5-.6 2.3-5.8 2.9-7 3.5M28 3.5c1.2 1.2 6.1 4.4 7 7 .9 2.6-2.7 7.8-1.8 8.7 .9 .9 5-1.4 7-3.4 2-2 3.3-6.7 5.3-8.8 2-2.1 5.8-2.9 7-3.5M157.5 1.8c1.7 1.4 6.4 6.1 10.5 8.7 4.1 2.6 9.9 7 14 7 4.1 0 7-6.7 10.5-7 3.5-.3 6.7 5.3 10.5 5.3 3.8 0 8.7-3.2 12.2-5.3 3.5-2.1 7.3-5.8 8.8-7M143.5 70c.9 1.2 3.6 4.1 5.3 7 1.8 2.9 4.9 7.6 5.2 10.5 .3 2.9-2.9 5.8-3.5 7M236.2 108.5c.9 .6 5 1.7 5.3 3.5 .3 1.8-2.3 6.4-3.5 7-1.2 .6-2.9-2.9-3.5-3.5M84 56c.6-.6 2.6-3.8 3.5-3.5 .9 .3 2 3.8 1.7 5.3-.3 1.4-2.8 2.8-3.4 3.4M66.5 112c.6 1.8 2.6 9 3.5 10.5 .9 1.5 2 0 1.8-1.7-.2-1.8-2.3-7.3-2.7-8.8M0 49c1.2 1.5 4.7 5.3 7 8.8 2.3 3.5 5 8.1 7 12.2 2 4.1 3.4 8.1 5.2 12.2 1.7 4.1 3.5 7.9 5.3 12.3 1.8 4.4 3.6 9.3 5.3 14 1.8 4.7 3.7 9.3 5.2 14 1.5 4.7 2.3 9.3 3.5 14 1.2 4.7 3.2 9.3 3.5 14 .3 4.7-.9 9.3-1.8 14-.9 4.7-2.5 9.3-3.4 14-.9 4.7-1.2 8.7-1.8 14-.6 5.3-1.5 14.6-1.8 17.5M0 57.8c.9 2 3.5 8.1 5.2 12.2 1.8 4.1 3.5 7.5 5.3 12.2 1.8 4.7 3.9 10.8 5.3 15.8 1.4 5 2 9.3 3.4 14 1.4 4.7 3.8 9.3 5.3 14 1.5 4.7 2.3 9.3 3.5 14 1.2 4.7 3.2 9.3 3.5 14 .3 4.7-.8 9.3-1.7 14-.9 4.7-2.7 9.3-3.6 14-.9 4.7-.8 9.3-1.7 14-.9 4.7-2.9 11.7-3.5 14M0 73.5c.9 2.3 3.7 9.3 5.2 14 1.5 4.7 2.4 9.3 3.6 14 1.2 4.7 2 9.3 3.4 14 1.4 4.7 3.8 9.3 5.3 14 1.5 4.7 2.6 9.3 3.5 14 .9 4.7 1.8 9.3 1.8 14 0 4.7-.9 9.3-1.8 14-.9 4.7-2.3 9.3-3.5 14-1.2 4.7-2.3 9.9-3.5 14-1.2 4.1-2.9 8.7-3.5 10.5M0 91c.6 2.3 2.3 8.8 3.5 14 1.2 5.2 2 12.2 3.5 17.5 1.4 5.3 3.7 9.3 5.2 14 1.5 4.7 3 9.3 3.6 14 .6 4.7 .6 9.3 0 14-.6 4.7-2.4 9.3-3.6 14-1.2 4.7-2.5 8.7-3.4 14-.9 5.3-1.5 14.6-1.8 17.5M10.5 98c1.2 1.2 4.9 3.5 7 7 2.1 3.5 3.6 9.3 5.3 14 1.8 4.7 4.6 13.4 5.2 14 .6 .6-.3-6.4-1.8-10.5-1.5-4.1-5.8-11.7-7-14M17.5 133c1.2 1.2 4.9 4.1 7 7 2.1 2.9 3.6 7.6 5.3 10.5 1.8 2.9 5.5 7.6 5.2 7-.3-.6-5-7-7-10.5-2-3.5-4.3-8.8-5.2-10.5M10.5 163c-.3 2.3-1.1 9.3-1.7 14-.6 4.7-1.2 8.8-1.8 14-.6 5.2-1.2 12.2-1.8 17.5-.6 5.3-1.1 9.3-1.7 14-.6 4.7-1.3 8.7-1.7 14-.4 5.3-.7 14.6-.9 17.5M17.5 163c-.3 2.3-1.1 9.3-1.7 14-.6 4.7-.9 9.3-1.8 14-.9 4.7-2.6 9.3-3.5 14-.9 4.7-1.1 9.3-1.7 14-.6 4.7-1.5 11.7-1.8 14M26.2 163c-.3 1.8-.8 7-1.7 10.5-.9 3.5-2.3 7-3.5 10.5-1.2 3.5-3.2 10.5-3.5 10.5-.3 0 .5-7.6 1.7-10.5 1.2-2.9 3.2-4.7 5.3-7 2.1-2.3 5.3-4.7 7-7 1.7-2.3 2.9-5.8 3.5-7M33.2 173.5c.6 1.7 3.3 7 3.6 10.5 .3 3.5-.6 8.2-1.8 10.5-1.2 2.3-3.7 4.1-5.2 3.5-1.5-.6-3.6-4.1-3.6-7 0-2.9 3-8.8 3.6-10.5" fill="none" stroke="#1e3cff" stroke-width="1.4" stroke-linejoin="round"/><rect x="253.9" y="143.5" width="19" height="8" fill="#fff"/><text x="263.4" y="150.8" class="cl" text-anchor="middle" textLength="18" lengthAdjust="spacingAndGlyphs">9680</text><rect x="317.8" y="179.7" width="19" height="8" fill="#fff"/><text x="327.2" y="187" class="cl" text-anchor="middle" textLength="18" lengthAdjust="spacingAndGlyphs">9680</text><rect x="118.2" y="241.4" width="19" height="8" fill="#fff"/><text x="127.8" y="248.8" class="cl" text-anchor="middle" textLength="18" lengthAdjust="spacingAndGlyphs">9600</text><rect x="283.1" y="247.9" width="19" height="8" fill="#fff"/><text x="292.6" y="255.2" class="cl" text-anchor="middle" textLength="18" lengthAdjust="spacingAndGlyphs">9600</text><rect x="92" y="281.3" width="19" height="8" fill="#fff"/><text x="101.5" y="288.6" class="cl" text-anchor="middle" textLength="18" lengthAdjust="spacingAndGlyphs">9520</text><rect x="117.4" y="308.3" width="19" height="8" fill="#fff"/><text x="126.9" y="315.6" class="cl" text-anchor="middle" textLength="18" lengthAdjust="spacingAndGlyphs">9440</text><rect x="309.4" y="293.9" width="19" height="8" fill="#fff"/><text x="318.9" y="301.2" class="cl" text-anchor="middle" textLength="18" lengthAdjust="spacingAndGlyphs">9440</text><rect x="48.2" y="327.9" width="19" height="8" fill="#fff"/><text x="57.8" y="335.2" class="cl" text-anchor="middle" textLength="18" lengthAdjust="spacingAndGlyphs">9360</text><rect x="221.8" y="318.4" width="19" height="8" fill="#fff"/><text x="231.3" y="325.8" class="cl" text-anchor="middle" textLength="18" lengthAdjust="spacingAndGlyphs">9360</text><rect x="221.8" y="318.4" width="19" height="8" fill="#fff"/><text x="231.3" y="325.8" class="cl" text-anchor="middle" textLength="18" lengthAdjust="spacingAndGlyphs">9360</text><rect x="49.1" y="361.5" width="19" height="8" fill="#fff"/><text x="58.6" y="368.8" class="cl" text-anchor="middle" textLength="18" lengthAdjust="spacingAndGlyphs">9280</text><rect x="28.1" y="53.1" width="19" height="8" fill="#fff"/><text x="37.6" y="60.4" class="cl" text-anchor="middle" textLength="18" lengthAdjust="spacingAndGlyphs">9600</text><rect x="69.6" y="94.2" width="19" height="8" fill="#fff"/><text x="79.1" y="101.5" class="cl" text-anchor="middle" textLength="18" lengthAdjust="spacingAndGlyphs">9600</text><rect x="94.6" y="27.2" width="19" height="8" fill="#fff"/><text x="104.1" y="34.5" class="cl" text-anchor="middle" textLength="18" lengthAdjust="spacingAndGlyphs">9600</text><rect x="158.8" y="71.8" width="19" height="8" fill="#fff"/><text x="168.3" y="79.1" class="cl" text-anchor="middle" textLength="18" lengthAdjust="spacingAndGlyphs">9600</text><rect x="214.5" y="30.8" width="19" height="8" fill="#fff"/><text x="224" y="38.1" class="cl" text-anchor="middle" textLength="18" lengthAdjust="spacingAndGlyphs">9600</text><rect x="27.6" y="80.5" width="19" height="8" fill="#fff"/><text x="37.1" y="87.8" class="cl" text-anchor="middle" textLength="18" lengthAdjust="spacingAndGlyphs">9520</text><rect x="-0.8" y="168" width="19" height="8" fill="#fff"/><text x="8.8" y="175.3" class="cl" text-anchor="middle" textLength="18" lengthAdjust="spacingAndGlyphs">9520</text><rect x="7.1" y="208.2" width="19" height="8" fill="#fff"/><text x="16.6" y="215.5" class="cl" text-anchor="middle" textLength="18" lengthAdjust="spacingAndGlyphs">9520</text><rect x="83.8" y="23.8" width="11" height="8" fill="#fff"/><text x="89.2" y="31.1" class="cl" fill="#1e3cff" text-anchor="middle" textLength="10" lengthAdjust="spacingAndGlyphs" style="fill:#1e3cff">-3</text><rect x="175.6" y="1.1" width="11" height="8" fill="#fff"/><text x="181.1" y="8.4" class="cl" fill="#1e3cff" text-anchor="middle" textLength="10" lengthAdjust="spacingAndGlyphs" style="fill:#1e3cff">-3</text><rect x="175.6" y="34.7" width="11" height="8" fill="#fff"/><text x="181.1" y="42" class="cl" fill="#1e3cff" text-anchor="middle" textLength="10" lengthAdjust="spacingAndGlyphs" style="fill:#1e3cff">-3</text><rect x="130.1" y="42.6" width="11" height="8" fill="#fff"/><text x="135.6" y="49.9" class="cl" fill="#1e3cff" text-anchor="middle" textLength="10" lengthAdjust="spacingAndGlyphs" style="fill:#1e3cff">-3</text><rect x="206.2" y="82" width="11" height="8" fill="#fff"/><text x="211.8" y="89.2" class="cl" fill="#1e3cff" text-anchor="middle" textLength="10" lengthAdjust="spacingAndGlyphs" style="fill:#1e3cff">-3</text><rect x="183.5" y="123.1" width="11" height="8" fill="#fff"/><text x="189" y="130.4" class="cl" fill="#1e3cff" text-anchor="middle" textLength="10" lengthAdjust="spacingAndGlyphs" style="fill:#1e3cff">-3</text><rect x="207.1" y="152.8" width="11" height="8" fill="#fff"/><text x="212.6" y="160.1" class="cl" fill="#1e3cff" text-anchor="middle" textLength="10" lengthAdjust="spacingAndGlyphs" style="fill:#1e3cff">-3</text><rect x="117.9" y="194.8" width="11" height="8" fill="#fff"/><text x="123.4" y="202.1" class="cl" fill="#1e3cff" text-anchor="middle" textLength="10" lengthAdjust="spacingAndGlyphs" style="fill:#1e3cff">-3</text><rect x="32.1" y="96.8" width="11" height="8" fill="#fff"/><text x="37.6" y="104.1" class="cl" fill="#1e3cff" text-anchor="middle" textLength="10" lengthAdjust="spacingAndGlyphs" style="fill:#1e3cff">-3</text><rect x="22.5" y="124" width="11" height="8" fill="#fff"/><text x="28" y="131.2" class="cl" fill="#1e3cff" text-anchor="middle" textLength="10" lengthAdjust="spacingAndGlyphs" style="fill:#1e3cff">-3</text><rect x="27.8" y="143.2" width="11" height="8" fill="#fff"/><text x="33.2" y="150.5" class="cl" fill="#1e3cff" text-anchor="middle" textLength="10" lengthAdjust="spacingAndGlyphs" style="fill:#1e3cff">-3</text><rect x="14.6" y="184.3" width="11" height="8" fill="#fff"/><text x="20.1" y="191.6" class="cl" fill="#1e3cff" text-anchor="middle" textLength="10" lengthAdjust="spacingAndGlyphs" style="fill:#1e3cff">-3</text><rect x="118.8" y="195.6" width="11" height="8" fill="#fff"/><text x="124.2" y="202.9" class="cl" fill="#1e3cff" text-anchor="middle" textLength="10" lengthAdjust="spacingAndGlyphs" style="fill:#1e3cff">-3</text><rect x="54.9" y="244.9" width="11" height="8" fill="#fff"/><text x="60.4" y="252.2" class="cl" fill="#1e3cff" text-anchor="middle" textLength="10" lengthAdjust="spacingAndGlyphs" style="fill:#1e3cff">-3</text><rect x="28.6" y="234.8" width="11" height="8" fill="#fff"/><text x="34.1" y="242.1" class="cl" fill="#1e3cff" text-anchor="middle" textLength="10" lengthAdjust="spacingAndGlyphs" style="fill:#1e3cff">-3</text><rect x="157.2" y="249.8" width="11" height="8" fill="#fff"/><text x="162.8" y="257.1" class="cl" fill="#1e3cff" text-anchor="middle" textLength="10" lengthAdjust="spacingAndGlyphs" style="fill:#1e3cff">-3</text><rect x="15.5" y="183.7" width="11" height="8" fill="#fff"/><text x="21" y="191" class="cl" fill="#1e3cff" text-anchor="middle" textLength="10" lengthAdjust="spacingAndGlyphs" style="fill:#1e3cff">-3</text>
</g>
<rect x="0" y="0" width="420" height="373" fill="none" stroke="#000" stroke-width="2"/>
<path d="M-4,23.2h4M-4,58.1h4M-4,93h4M-4,127.9h4M-4,162.8h4M-4,197.6h4M-4,232.5h4M-4,267.4h4M-4,302.2h4M-4,337.1h4M-4,372h4M0,373v4M50,373v4M100,373v4M150,373v4M200,373v4M250,373v4M300,373v4M350,373v4M400,373v4" stroke="#000" stroke-width="1.8" fill="none"/>
<text x="-5.8" y="27.1" class="tk" text-anchor="end" textLength="17.5" lengthAdjust="spacingAndGlyphs">12S</text>
<text x="-5.8" y="62" class="tk" text-anchor="end" textLength="17.5" lengthAdjust="spacingAndGlyphs">15S</text>
<text x="-5.8" y="96.9" class="tk" text-anchor="end" textLength="17.5" lengthAdjust="spacingAndGlyphs">18S</text>
<text x="-5.8" y="131.8" class="tk" text-anchor="end" textLength="17.5" lengthAdjust="spacingAndGlyphs">21S</text>
<text x="-5.8" y="166.7" class="tk" text-anchor="end" textLength="17.5" lengthAdjust="spacingAndGlyphs">24S</text>
<text x="-5.8" y="201.5" class="tk" text-anchor="end" textLength="17.5" lengthAdjust="spacingAndGlyphs">27S</text>
<text x="-5.8" y="236.4" class="tk" text-anchor="end" textLength="17.5" lengthAdjust="spacingAndGlyphs">30S</text>
<text x="-5.8" y="271.3" class="tk" text-anchor="end" textLength="17.5" lengthAdjust="spacingAndGlyphs">33S</text>
<text x="-5.8" y="306.1" class="tk" text-anchor="end" textLength="17.5" lengthAdjust="spacingAndGlyphs">36S</text>
<text x="-5.8" y="341" class="tk" text-anchor="end" textLength="17.5" lengthAdjust="spacingAndGlyphs">39S</text>
<text x="-5.8" y="375.9" class="tk" text-anchor="end" textLength="17.5" lengthAdjust="spacingAndGlyphs">42S</text>
<text x="0.4" y="385.6" class="tk" text-anchor="middle" textLength="18.3" lengthAdjust="spacingAndGlyphs">70W</text>
<text x="50.4" y="385.6" class="tk" text-anchor="middle" textLength="18.3" lengthAdjust="spacingAndGlyphs">65W</text>
<text x="100.4" y="385.6" class="tk" text-anchor="middle" textLength="18.3" lengthAdjust="spacingAndGlyphs">60W</text>
<text x="150.4" y="385.6" class="tk" text-anchor="middle" textLength="18.3" lengthAdjust="spacingAndGlyphs">55W</text>
<text x="200.4" y="385.6" class="tk" text-anchor="middle" textLength="18.3" lengthAdjust="spacingAndGlyphs">50W</text>
<text x="250.4" y="385.6" class="tk" text-anchor="middle" textLength="18.3" lengthAdjust="spacingAndGlyphs">45W</text>
<text x="300.4" y="385.6" class="tk" text-anchor="middle" textLength="18.3" lengthAdjust="spacingAndGlyphs">40W</text>
<text x="350.4" y="385.6" class="tk" text-anchor="middle" textLength="18.3" lengthAdjust="spacingAndGlyphs">35W</text>
<text x="400.4" y="385.6" class="tk" text-anchor="middle" textLength="18.3" lengthAdjust="spacingAndGlyphs">30W</text>
</g>
<rect x="592.5" y="569" width="416.5" height="48" fill="#fff" stroke="#000" stroke-width="1.5"/>
<text x="671.6" y="588.3" class="lg" textLength="259.9" lengthAdjust="spacingAndGlyphs">[K&gt;30+TTS&gt;45](verde) + [K&gt;30+TTS&gt;45+LI&lt;-1](vermelho)</text>
<text x="711.5" y="601.2" class="lg" textLength="180.2" lengthAdjust="spacingAndGlyphs">[LIF](cont.azul) + [HGT(300)](linha preta)</text>
<text x="1264" y="166.3" class="t" font-size="20.6" textLength="66" lengthAdjust="spacingAndGlyphs">CHUVA</text>
<g transform="translate(1087,178)">
<g clip-path="url(#cp)">
<g filter="url(#fs)"><path d="M140 0l280 0 0 192.5-105-17.5-52.5 0-70 17.5-52.5-17.5zM98 0l42 0 0 210-42 0 7-52.5 7-35-7-70zM175 241.8l245-43.8 0 175-280 0 0-87.5z" fill="#fa3c3c"/></g><g filter="url(#fm)"><path d="M0 0l112 0 38.5 42 0 28-28 42-38.5 21-31.5-10.5-17.5-28-17.5-42-17.5-8.7zM40.2 163l40.3 0 7 35 24.5 22.8 45.5 15.7 3.5 14-56 0-35-17.5-21-26.2z" fill="#1e3cff"/></g><g filter="url(#fd)"><path d="M215.2 271.5l22.8-3.5 24.5 3.5-14 7-24.5 0zM245 278.5l17.5-1.7 17.5 8.7-14 5.3-14-5.3zM255.5 290.8l28 1.7 24.5 3.5-10.5 3.5-28-1.7zM182 254l24.5-1.8 14 5.3-10.5 3.5-24.5-1.8zM147 304.8l21-3.6 7 7-12.2 5.3-14-1.7zM201.2 171.8l14 1.7 0 8.7-12.2 0zM162.8 184l35 0 1.7 3.5-35 1.7zM140 192.8l22.8 0 0 5.2-22.8 1.8zM143.5 212l19.3 0-1.8 5.2-17.5 0zM210 194.5l14 0 0 3.5-14 0zM215.2 219l29.8 1.8 3.5 7-17.5-1.8-15.8-3.5zM248.5 206.8l17.5 1.7 3.5 5.3-17.5-1.8zM292.2 210.2l10.6 3.6-1.8 5.2-8.8-1.8zM388.5 177l17.5-1.8 10.5 8.8-14 5.2-12.3-3.4zM365.8 201.5l8.7 0 1.7 5.3-10.4 0zM343 219l22.8-3.5 1.7 7-21 3.5zM364 243.5l21-3.5 3.5 10.5-14 10.5-10.5 10.5-5.2-10.5zM392 208.5l28-1.7 0 8.7-24.5 1.7zM378 229.5l42-3.5 0 10.5-35 3.5zM392 261l28-3.5 0 10.5-24.5 3.5zM364 275l24.5 1.8 31.5 5.2 0 14-28-3.5-24.5-7zM360.5 299.5l31.5 3.5 28 5.2 0 29.8-17.5-7-17.5-10.5-21-10.5zM325.5 320.5l24.5-3.5 17.5 10.5-17.5 3.5-21-1.8zM273 318.8l24.5-1.8 3.5 7-24.5 0zM192.5 346.8l35-1.8 24.5 3.5 21 7 24.5 5.3 35-1.8 17.5 7-35 7-87.5 0-29.7-10.5-22.8 3.5-17.5 7-17.5 0 10.5-8.8 24.5-8.7zM283.5 343.2l31.5-1.7 17.5 7-17.5 5.3-24.5-3.6zM315 338l35 0 35 8.8-17.5 7-35-7zM238 247l7 0 0 5.2-7 0zM154 29.8l36.8 3.4 1.7 12.3-7 12.3 12.3-5.3 15.7 3.5 10.5 14-3.5 12.2-14 8.8-15.7 7-15.8-7-12.2-10.5-12.3 3.5-7-7 1.7-19.2 12.3-14zM245 73.5l17.5-3.5 17.5-10.5 5.2 7-8.7 10.5-14 10.5-14-3.5zM234.5 91l17.5-3.5 17.5 10.5 17.5 3.5 10.5 7-10.5 10.5-17.5 3.5-17.5 7-14-7-3.5-14zM288.8 98l15.7 3.5 21 3.5 7 7-10.5 10.5-17.5 3.5-14-3.5zM192.5 105l21-1.8 3.5 8.8-10.5 7-12.3-3.5zM140 136.5l14-3.5 17.5 7-7 14-14 3.5-10.5-7zM276.5 21l17.5-3.5 10.5 7 0 14-10.5 3.5-14-7zM297.5 40.2l17.5-1.7 14 10.5-3.5 10.5-17.5-3.5-10.5-5.2zM350 29.8l21-3.6 7 5.3-21 7zM337.8 15.8l12.2-1.8 1.8 5.2-12.3 1.8zM381.5 3.5l38.5 0 0 31.5-7-14-14-1.8-14-5.2zM392 38.5l28-3.5 0 10.5-21 3.5zM392 70l21 0-3.5 7-17.5 1.8zM360.5 80.5l14-3.5-1.7 10.5-12.3 3.5zM374.5 98l21 0 24.5 7 0 7-21-3.5-21-3.5zM346.5 115.5l21-1.7 10.5 8.7-10.5 10.5-17.5-3.5zM318.5 84l12.3-1.8 0 10.6-10.6 0zM308 152.2l21 1.8-3.5 5.2-17.5-1.7zM392 159.2l28-1.7 0 8.7-24.5 0zM388.5 178.5l17.5-3.5 7 10.5-17.5 7zM201.2 175l15.8-3.5 0 14-14 1.7zM220.5 168l17.5 3.5-3.5 5.3-14-1.8zM140 192.5l21-1.7-1.8 7-19.2 1.7zM180.2 0l12.3 0-1.7 10.5-8.8 3.5zM245 3.5l17.5-3.5 0 10.5-14 3.5zM288.8 3.5l17.4-3.5-1.7 10.5-14 1.7zM197.8 17.5l8.7-1.7 0 8.7-8.7 0zM105 10.5l14-3.5 7 17.5-3.5 21-10.5-3.5-7-14zM150.5 29.8l24.5-1.8 14 7-3.5 17.5-21 5.3-10.5 15.7-10.5 3.5 3.5-24.5zM168 70l24.5-12.2 24.5 5.2 7 14-3.5 17.5-17.5 10.5-21 0-14-14zM112 127.8l21-5.3 12.2 7-5.2 10.5-17.5 3.5-10.5-5.3zM145.2 138.2l19.3-3.4 7 12.2-14 10.5-10.5-3.5zM61.2 157.5l12.3 0 3.5 14-10.5 1.7zM112 199.5l21-3.5 24.5-3.5 3.5 7-21 7-24.5 3.5zM199.5 171.5l14 0 1.7 12.3-14 1.7zM182 5.2l7-1.7 0 14-7 0zM166.2 0l12.3 0-3.5 7-7 0zM112 201.5l24.5 1.7 3.5 7-17.5 1.8-10.5-5.2zM129.5 194.5l28-1.7 3.5 5.2-21 3.5-10.5-1.7zM164.5 184l21 0 1.7 3.5-21 1.7zM147 303l17.5-3.5 10.5 5.3-3.5 8.7-17.5 1.7zM84 355.5l14 1.7 14-1.7-3.5 7-17.5 1.7zM122.5 359l21 1.8 21-1.8-7 7-24.5 1.8zM122.5 248.8l10.5 1.7 10.5 7-10.5 3.5-8.8-5.2zM154 254l7 0 0 7-7 0zM126 276.8l14 1.7-3.5 5.3-10.5-1.8zM17.5 240l14-1.8 3.5 7-14 1.8zM40.2 231.2l12.3 0 0 5.3-10.5 0zM68.2 194.5l8.8 0 0 3.5-8.8 0zM145.2 212l8.8 0 0 5.2-8.8 0z" fill="#fa3c3c"/><path d="M0 3.5l24.5 0-3.5 8.7-10.5 1.8-10.5-3.5zM47.2 3.5l26.3 3.5 3.5 10.5-10.5 5.3-8.7-5.3-8.8-7zM77 10.5l14-1.7 3.5 17.4-10.5 5.3zM98 35l14-1.8 3.5 15.8-3.5 14-10.5-3.5-3.5-10.5zM122.5 49l21-5.2 5.3 8.7-3.6 14-12.2 3.5-10.5-7zM66.5 49l14-3.5 7 14-3.5 10.5-14 0-5.2-10.5zM77 73.5l21-3.5 17.5 3.5 7 14-3.5 17.5-14 3.5-14 3.5-10.5 10.5-10.5-3.5-3.5-14 3.5-17.5zM45.5 94.5l14-3.5 3.5 14-5.2 14-8.8-3.5-5.2-10.5zM52.5 168l21 0 3.5 17.5-7 7-14-3.5zM31.5 49l10.5-1.8 1.8 10.6-10.6 1.7zM17.5 10.5l17.5 1.7 3.5 10.6-17.5-1.8zM35 66.5l10.5-1.7 1.7 12.2-10.4 1.8zM24.5 77l10.5-1.8 0 12.3-8.8 1.7zM47.2 166.5l26.3 0 1.7 15.7-5.2 10.6-12.2-1.8-5.3-12.2zM66.5 210.2l12.3 1.8 12.2 10.5 7 10.5 7 8.8-7 3.4-10.5-7-10.5-10.4-8.8-8.8zM120.8 241.8l15.7-5.3 14 1.7 7 5.3-14 3.5-17.5 0zM259 229.5l21-1.7 0 26.2-10.5-3.5-10.5-12.3zM257.2 229.5l15.8-1.7 7 8.7 1.8 14-8.8 1.7-7-8.7-7-7zM140 236.5l14 1.7 1.8 7-15.8 0zM283.5 257.5l14 0 7 10.5 10.5-7 17.5-3.5 24.5 3.5 1.8 10.5-8.8 14 7 14-14 3.5-14-7-14-7-14-7-10.5-10.5zM325.5 243.5l14-1.7 17.5 3.4 0 10.6-17.5-1.8-14-3.5zM364 206.8l17.5-1.8-3.5 7-12.2 3.5zM350 215.5l10.5 1.7-3.5 5.3-7-1.7zM392 331l17.5 3.5 10.5 14 0 24.5-21 0 3.5-17.5-7-14zM217 129.5l7-1.7 0 12.2-5.2 0z" fill="#1e3cff"/></g><g filter="url(#fm)"><path d="M22.8 26.2l12.2-1.7 1.8 10.5-10.6 3.5zM127.8 3.5l10.4 0 1.8 12.3-10.5 1.7zM40.2 178.5l12.3-3.5 3.5 14-3.5 14-10.5-3.5zM17.5 189l10.5 3.5-1.8 14-10.4-3.5zM15.8 87.5l7 1.7-.9 8.8-5.8-1.8zM17.5 189.2l22.7-8.7 12.3 14 5.3 17.5 12.2 10.5-3.5 5.3-14-7-7-19.3-15.7-5.3-12.3 1.8zM75.2 201.5l12.3 3.5 3.5 8.8-8.8-3.6zM294 261l10.5-3.5 10.5 5.3-7 5.2-10.5-1.8zM318.5 261l14 1.8 3.5 8.7-10.5-3.5zM325.5 276.8l14-3.6 10.5-1.7 7 24.5-7-3.5-8.8-8.7-12.2 0zM308 296l7-3.5 0 5.3zM372.8 331l12.2 5.2 14 12.3 14 10.5 5.2 14-8.7 0-7-14-14-14-14-8.8z" fill="#00dc00"/></g><use href="#bm"/><path d="M21.7 152c-.6 .5-2.6 2.3-3.8 2.9-1.3 .6-2.3 .5-3.7 .6-1.4 .1-3.5 0-4.9 0-1.4 0-2.5 .1-3.7 .2-1.2 .1-1.9 .3-3.6 .1-1.7-.2-5.3-1.1-6.4-1.3M28.6 119.2c-.3 .9-1.8 3.8-1.9 5.2-.1 1.4 .8 1.5 1.2 3 .4 1.5 .7 4.4 1.4 6.3 .7 1.9 2.5 4.5 3 5.4M28.4 79.1c.1 .8 .2 3.4 .7 4.9 .5 1.5 2.3 2.4 2.4 4.2 .1 1.8-1.1 4.7-2 6.7-.9 2-3 3.6-3.7 5.2-.7 1.6-.6 3.5-.7 4.2M13.9 54c.1 .6 0 2.5 .5 3.4 .5 .9 1.3 1.5 2.7 2 1.4 .5 3.7 1.4 5.6 1 1.9-.4 4.1-2.8 5.8-3.5 1.7-.7 2.9-.7 4.4-.9 1.5-.2 3.8-.3 4.6-.4M9.5 175c-.3 .7-1.7 2.3-1.8 3.9-.1 1.6 .3 4.5 1 5.9 .6 1.4 2.2 1.8 2.9 2.8 .6 1 .7 2 1 3.1 .3 1.1 .7 3 .9 3.6M21.5 78.1c0 .8 .7 3.3 .2 4.7-.5 1.4-2 2.7-3 3.4-1 .7-1.3 .6-2.9 .8-1.6 .2-5.7 .6-6.9 .7M28.9 155.4c.5 .3 1.8 1.4 3.3 2 1.5 .6 4.2 1.8 5.8 1.8 1.6 0 2.7-1.3 3.9-1.7 1.2-.4 2.7-.7 3.2-.8M11.7 160.3c.1 .6-.4 2 .4 3.4 .7 1.4 3 3.4 4.1 4.9 1 1.5 1.3 2.8 2.2 3.9 .9 1.1 2.3 1.4 3.4 2.6 1.1 1.2 2.3 3.2 3 4.5 .7 1.3 1.1 2.8 1.3 3.4M26.6 177.4c.3 .8 1.1 3.9 1.9 5 .8 1.1 1.5 1.3 3.1 1.6 1.6 .3 4.8 .6 6.8 .3 2-.3 3.5-1.5 5.5-2 2-.5 4.6-.5 6.2-1.2 1.6-.7 2.7-2.3 3.2-2.7M11 151.9c-.6 .4-2.7 1.4-3.4 2.4-.7 1-.4 2.5-.6 3.8-.2 1.3-.2 3.4-.3 4.1M2.9 75.3c.4 .4 1.4 1.5 2.5 2.2 1.1 .7 2.7 1.3 4.3 2.1 1.6 .8 3.5 1.7 5.3 2.8 1.8 1.1 4.5 3.3 5.4 4M44.3 135c1 .6 4.2 2.4 6 3.4 1.8 1 3 2 4.8 2.7 1.8 .7 3.8 1.5 5.8 1.2 2-.3 4.4-2.6 6.3-3.2 1.9-.6 4.3-.4 5.1-.5M43.2 187.4c-.3 .7-.5 2.8-1.7 4.1-1.2 1.3-3.8 2.9-5.5 3.6-1.7 .7-2.9 .4-4.7 .5-1.9 .1-4.4-.2-6.4 0-2 .2-4.5 .8-5.4 1M28 161.8c0 1.2-.3 4.8-.2 6.9 .1 2.1 .7 3.9 .9 5.9 .2 2 .1 4.9 .1 5.9M21.1 207.7c.7 .2 3.2 .7 4.1 1.4 .9 .7 1.2 1.7 1.5 2.7 .3 1 .2 2.8 .2 3.4M31.7 137.3c-.4 .6-1.9 2.2-2.4 3.4-.4 1.2 .1 2.1-.3 3.8-.4 1.7-1.1 4.8-2.1 6.3-1 1.5-2.6 2.1-3.9 2.8-1.3 .7-3.3 1.2-4 1.4M9.5 126.2c0 1.1-.4 4.6-.2 6.5 .2 1.9 1 3.7 1.4 5.1 .4 1.4 1.1 1.9 1 3.5-.2 1.6-1.6 5-1.9 6M13.3 73.8c-.4 1-1.6 4.5-2.3 6.3-.7 1.7-.8 2.8-1.7 4.2-.9 1.4-2.3 2.9-3.8 4.2-1.5 1.3-3.6 3.1-5.2 3.8-1.6 .7-3.5 .4-4.2 .5M13.3 161.5c.2 .9 .2 3.8 1.3 5.2 1.1 1.4 3.7 2.5 5.1 3.3 1.4 .8 2.4 1 3.2 1.7 .8 .7 .7 1.9 1.6 2.6 .9 .7 2.9 1.5 3.5 1.8M2.3 165.8c-.1 1.1-.6 5-.8 6.8-.2 1.8-.7 2.7-.3 3.8 .4 1.1 1.7 1.6 2.4 2.8 .7 1.2 1 3.4 1.7 4.6 .7 1.2 2.1 2.3 2.5 2.8M16.6 179.5c-.3 .7-1.7 2.4-1.7 4.2 0 1.8 1.7 4.2 2 6.4 .2 2.2-.4 5-.5 6.7-.1 1.7 .1 2.9 .1 3.5M30 222c0 .8 .3 3.4 .1 4.8-.2 1.4-.5 2.1-1.3 3.6-.8 1.5-2.7 3.4-3.4 5.3-.7 1.9 .4 4.2-.6 5.9-.9 1.7-4.2 3.5-5.1 4.2M46.9 147.4c-.4 .6-1.5 2.4-2.1 3.4-.6 1-1.2 1.7-1.6 2.6-.4 .9-.9 1.8-1 3.1-.1 1.3-.3 2.8 .3 4.6 .6 1.7 2.7 4.9 3.3 5.9M41.6 125.8c0 1 .5 4.2-.1 5.7-.6 1.5-2.3 2-3.7 3.3-1.5 1.3-3.5 2.9-5 4.3-1.5 1.4-2.4 2.7-3.9 4.1-1.5 1.4-4.3 3.4-5.1 4.1M33.1 191.6c.1 1.1 .4 4.6 .5 6.3 .1 1.7-.2 2 .3 3.6 .5 1.6 2.7 4.1 2.9 6 .2 1.9-.8 3.5-1.5 5.4-.7 1.9-2.3 4.9-2.8 5.9M14.6 68.2c.5 .8 1.9 3 2.8 4.5 .9 1.5 1.3 3.4 2.6 4.4 1.3 1 3.3 .9 5.3 1.5 2 .6 4.9 1.1 6.5 2 1.6 .9 2.8 2.7 3.3 3.2M27 138.2c0 1.1 .5 4.6-.1 6.7-.6 2.1-2.7 4.2-3.3 5.9-.6 1.8-.3 3.8-.4 4.6M23.7 107.9c.2 .8 .6 3.7 1.5 4.9 .9 1.2 3 1.4 4.1 2.3 1.1 .9 1.1 2.4 2.7 3 1.6 .6 5.3 .9 6.9 .6 1.6-.3 1.7-1.7 2.8-2.3 1.1-.6 3.3-1.1 3.9-1.3M11.7 139.8c-.1 1.1-.1 4.4-.5 6.4-.4 2-2.2 3.5-2.2 5.4 0 1.9 1.9 5.1 2.3 6.1M30.4 205c-.1 1.1-.6 4.8-.4 6.5 .2 1.7 1 2.2 1.5 3.6 .5 1.4 1.3 3.6 1.3 5 0 1.4-1.2 2.7-1.4 3.2M30.1 109.5c.9 .6 3.5 3 5.4 3.8 1.9 .7 4.7 .2 6.1 .7 1.4 .5 1.5 1.9 2.5 2.3 1 .4 2.2 .3 3.5 .3 1.3 0 3.8-.1 4.5-.1M45.2 148.7c-.3 .7-1.5 3-1.8 4.2-.3 1.2 .7 1.8 .2 3.1-.5 1.3-2.6 2.9-3.1 4.8-.5 1.9 .2 5.7 .2 6.8M24.3 191.6c.1 1 .9 4.7 .9 6.2 0 1.5 0 2-.9 3-.9 1.1-3.2 2-4.3 3.3-1.1 1.3-1.7 3.7-2 4.4M5.5 74.5c1 .5 4.8 1.8 6.1 2.8 1.2 .9 1.2 1.6 1.4 2.9 .2 1.3-.1 3.4-.1 4.9 0 1.5 .1 2.8 .3 4.3 .2 1.6 .7 4.2 .8 5M33.6 208.9c.5 .6 1.8 1.9 2.8 3.4 1 1.5 2.7 4.3 3.3 5.8 .6 1.5-.3 2.3 .2 3.4 .5 1.1 2.1 1.7 2.7 3.3 .6 1.6 1.2 4.3 .7 6.3-.5 2-3.1 4.6-3.7 5.5M27.3 78.2c.4 1 2.1 3.7 2.5 5.7 .4 2.1 .6 4.6 .2 6.6-.4 2-1.6 4.2-2.8 5.4-1.2 1.3-2.4 1.6-4.2 2.1-1.8 .5-5.3 .8-6.4 .9M36.8 193c.2 .5 .5 2.3 1.5 3 1 .7 3.3 .8 4.7 1.4 1.4 .6 2.2 1.8 3.8 2.3 1.5 .5 4.6 .5 5.5 .6M16.2 172c-.5 .6-1.8 2.3-3.1 3.3-1.3 1-3.1 2.4-4.9 2.6-1.8 .2-4.8-1.3-5.8-1.6M1.1 163.1c-.1 .8-.2 3-.7 4.7-.5 1.7-1.9 4.2-2.3 5.6-.4 1.4-.2 1.8 0 3 .2 1.2 .5 2.5 1 4 .5 1.5 1.7 4 2 4.8M25 209.3c1 .3 4.3 1.1 5.9 2 1.6 .9 3.2 2.6 3.9 3.7 .7 1.1 .3 2 .5 3.1 .2 1.1 .4 2.4 .6 3.6 .2 1.2-.1 2.4 .7 3.6 .8 1.2 3.6 2.8 4.3 3.4M25.3 159.6c.5 .6 2 2.2 2.9 3.9 .9 1.7 1.2 4.8 2.5 6.3 1.3 1.5 3.7 1.5 5.4 2.5 1.8 1 3.4 2.4 5.1 3.3 1.7 .9 4.2 1.9 5 2.3M15.1 119.6c-.3 .4-1.2 1.5-1.9 2.6-.8 1.1-2 2.2-2.6 4-.6 1.8-.4 5.1-1.2 6.8-.8 1.7-2.5 2-3.9 3.2-1.4 1.2-3.6 3.4-4.3 4.1M30 131.1c.6 .4 2.4 2 3.7 2.4 1.4 .4 2.9-.1 4.4 0 1.5 .1 3.9 .6 4.7 .7M30.7 176.4c-.1 1.1-.9 5.1-.7 6.8 .2 1.7 1.5 1.7 1.9 3.4 .4 1.7 .1 4.6 .4 6.6 .3 2 1.3 4.4 1.6 5.3M13 177c-.3 .9-1.6 3.7-1.9 5.2-.3 1.5 .8 2.1 .2 3.7-.6 1.6-3.5 3.7-4 5.7-.5 2 .6 5.4 .7 6.5M2.9 94.2c.1 .6 0 2.4 .5 3.4 .5 .9 1.3 1.2 2.3 2.3 1 1.1 3.2 3.6 3.8 4.3M30.3 114.6c.1 .7 .8 3.1 .7 4.3-.1 1.3-.9 1.7-1.5 3.2-.6 1.5-1 4.3-2.2 5.9-1.2 1.6-4.1 3.2-4.9 3.9M36.9 128.9c.1 1 .9 4.5 .4 6.2-.5 1.7-2.6 3-3.7 4.2-1.1 1.2-1.6 2.4-3.1 3-1.5 .6-4.3 .3-6 .6-1.7 .3-3.2 1.3-4.5 1.4-1.3 .1-2.7-.8-3.2-1M3.8 56.6c.1 1-.3 4.5 .6 6.2 .9 1.7 4 2.6 5 4 1 1.4 .8 2.5 .9 4.1 .1 1.6 .1 3.8-.4 5.4-.5 1.6-1.3 3.4-2.3 4.4-1 1.1-3.3 1.6-3.9 1.9M10.5 171.5c.3 .7 1.6 2.4 1.7 3.9 .1 1.5-1.2 3.4-1.3 5.2-.1 1.8 .6 4.8 .7 5.7M22 84.2c-.4 .3-1.8 1.6-2.7 2.1-.9 .5-1.4 1-2.8 1.1-1.4 .1-3.5-.6-5.4-.6-1.9 0-4.9 .5-5.9 .6M18.7 71c-.2 .6-1.1 1.8-1.4 3.4-.3 1.7-.2 4.9-.3 6.5-.1 1.6 0 1.7-.2 3.1-.2 1.4-.7 4.2-.9 5.1M26.2 197.6c.7 .2 2.6 1.5 3.9 1.5 1.3 0 2.8-.6 3.9-1.7 1.1-1.1 2.3-4 2.8-4.8M39.2 124.4c-.1 1-.8 4-.9 6-.1 2 .6 4.5 .1 6.1-.5 1.6-1.8 1.9-2.9 3.2-1.1 1.2-2.3 3.2-3.7 4.3-1.4 1.1-2.8 2.2-4.5 2.5-1.7 .3-4.8-.8-5.8-1M19.7 205.2c-.6 .9-1.9 4.1-3.5 5.2-1.7 1.1-4.4 1.2-6.4 1.6-2 .4-4.5 .9-5.4 1.1M34.1 200.5c.6 .9 2.9 3.9 3.8 5.4 .9 1.5 .5 2.1 1.4 3.4 .8 1.3 2.6 3 3.7 4.4 1.1 1.3 2.2 2.4 2.7 3.7 .5 1.3 .4 2.7 .1 4.1-.3 1.4-1.4 3.8-1.7 4.6M14.6 71.1c.4 .9 2.1 3.8 2.5 5.5 .4 1.7-.5 3.4-.3 4.9 .3 1.5 1.5 3.2 1.8 3.8M17.2 157.7c.4 .8 1.6 3.6 2.4 4.8 .9 1.2 2 1.6 2.7 2.6 .7 1 .9 2.1 1.4 3.4 .4 1.3 .7 2.4 1.3 4.1 .6 1.7 1.9 4.3 2.1 5.9 .2 1.6-.9 3.2-1.1 3.8M26.3 231.4c.4 .6 2 2.6 2.5 3.8 .5 1.2 .7 1.8 .4 3.5-.3 1.7-1.3 4.7-2.4 6.5-1.1 1.8-3.7 3.5-4.4 4.2M43.5 130c.7 .5 3.1 2.5 4.4 3.2 1.3 .7 2.4 .5 3.4 1.2 1 .7 1.7 1.9 2.4 3.2 .8 1.3 .9 3 2.1 4.6 1.2 1.6 3.3 3.9 5 4.9 1.7 1 4.2 .9 5 1.1M13 183.3c.9 .3 3.6 1.2 5.4 1.9 1.8 .7 3.8 2.3 5.5 2.4 1.7 .1 3.5-1 4.7-1.8 1.2-.8 1.2-2 2.5-2.8 1.3-.8 4-1.1 5.2-2.2 1.2-1.1 1.7-3.7 2-4.4M19.8 138.8c-.2 .7 0 3-.9 4.2-.9 1.2-3.4 1.5-4.4 2.8-1 1.4-1.6 3.9-1.8 5.3-.2 1.4 .7 1.7 .8 3.2 .1 1.5-.2 4.8-.2 5.7M35.8 196.9c.3 .4 .9 1.4 2.1 2.2 1.2 .8 3.6 1.7 5.3 2.4 1.7 .7 4 1 5 1.8 1 .8 .2 1.7 1.2 2.8 1 1.1 3.2 2.9 4.9 3.8 1.7 .9 4.3 1.5 5.2 1.8M18 148c.3 1 1 4.4 1.6 5.8 .6 1.4 1.1 1.8 2.2 2.4 1.1 .6 3.1 .9 4.5 .9 1.4 0 2.6-.6 4.1-.7 1.5-.1 4.1 .2 4.9 .3M21.4 116.5c.2 .5 .6 2.3 1.3 3.3 .7 1 1.8 1.8 2.7 2.5 .9 .7 2.1 1.6 2.5 1.9M20.8 194.2c.9 .7 3.7 3.6 5.2 4.4 1.5 .8 2.1 .3 3.7 .5 1.6 .2 3.8 .2 5.8 .6 2 .4 4.5 1.2 6.4 2 1.9 .8 3.9 1.7 5.2 2.7 1.3 1 2.1 2.9 2.5 3.5M25.4 92.1c.8 .4 3.5 1.8 5 2.6 1.5 .8 2.8 1 4 2.2 1.2 1.2 1.8 3.9 3.2 5.2 1.4 1.3 3.6 1.1 4.9 2.4 1.3 1.3 2.3 4.6 2.7 5.5M26.3 110.5c.5 .7 2.7 2.6 3 4.4 .3 1.8-.3 4.9-1.3 6.6-1 1.7-3.6 2.1-4.5 3.6-.9 1.5-.6 4.4-.7 5.3M31.7 195.3c.2 .9 1.2 3.7 1 5.2-.2 1.5-1.4 2.5-2 3.8-.6 1.3-1 3.2-1.8 4.1-.8 .9-2.1 1.2-3.2 1.3-1.1 .1-2-.5-3.4-.9-1.4-.4-4.1-1.4-4.9-1.7M26.9 92.9c.2 .9 .6 3.5 1.5 5.2 .8 1.7 2.1 3.7 3.6 5.1 1.5 1.4 4.2 2 5.6 3.4 1.4 1.3 1.8 3.3 2.5 4.7 .7 1.4 1.3 2.8 1.6 3.4" fill="none" stroke="#000" stroke-width="1.2"/><path d="M196.3 222.8c6.9-.7 27.8-2.7 41.7-4.1 13.9-1.4 27.8-2.5 41.7-4.2 13.9-1.7 28.4-3.5 41.6-6.3 13.2-2.8 25.7-5.9 37.5-10.4 11.8-4.5 23.3-11 33.4-16.6 10.1-5.6 22.5-13.9 27-16.7M4.7 243.7c2.8 2.1 9.7 9.4 16.6 12.5 6.9 3.1 15.3 5.5 25 6.2 9.7 .7 22.3-.4 33.4-2.1 11.1-1.7 22.2-5.5 33.3-8.3 11.1-2.8 20.8-6.2 33.3-8.3 12.5-2.1 27.8-2.8 41.7-4.2 13.9-1.4 26.4-2.8 41.7-4.2 15.3-1.4 33.3-2.7 50-4.1 16.7-1.4 34.7-2.1 50-4.2 15.3-2.1 26.7-4.1 41.6-8.3 14.9-4.2 39.9-13.9 47.9-16.7M.5 272.8c4.9 1.4 18.8 6.3 29.2 8.4 10.4 2.1 21.5 4.1 33.3 4.1 11.8 0 26.4-1.3 37.5-4.1 11.1-2.8 18.8-9 29.2-12.5 10.4-3.5 22.2-6.3 33.3-8.4 11.1-2.1 20.8-2.7 33.3-4.1 12.5-1.4 27.8-3.1 41.7-4.2 13.9-1.1 26.4-2.1 41.7-2.1 15.3 0 33.3 .7 50 2.1 16.7 1.4 35.1 4.8 50 6.2 14.9 1.4 32.9 1.7 39.5 2.1M.5 297.8c7.6 1.4 31.2 6.3 45.8 8.4 14.6 2.1 27.8 4.1 41.7 4.1 13.9 0 27.8-1.3 41.7-4.1 13.9-2.8 27.7-8.3 41.6-12.5 13.9-4.2 27.8-9 41.7-12.5 13.9-3.5 27.8-6.3 41.7-8.4 13.9-2.1 27.7-3.1 41.6-4.1 13.9-1 21.2-2.8 41.7-2.1 20.5 .7 67.7 5.2 81.2 6.2M.5 314.5c7.6 .7 29.8 3.5 45.8 4.2 16 .7 33.3 1.4 50 0 16.7-1.4 33.3-4.9 50-8.4 16.7-3.5 33.3-8.3 50-12.5 16.7-4.2 33.3-9.7 50-12.5 16.7-2.8 31.3-3.4 50-4.1 18.8-.7 42-.7 62.5 0 20.5 .7 50.3 3.4 60.4 4.1M.5 327c11.1 .4 45.2 2.8 66.7 2.1 21.5-.7 43.7-3.9 62.5-6.3 18.7-2.4 33.3-4.8 50-8.3 16.7-3.5 33.3-9 50-12.5 16.7-3.5 31.9-6.9 50-8.3 18.1-1.4 35.1-.7 58.3 0 23.2 .7 67.7 3.4 81.2 4.1M.5 352c7.6-1.4 29.1-6.2 45.8-8.3 16.7-2.1 36.1-1.4 54.2-4.2 18.1-2.8 36.8-9 54.2-12.5 17.4-3.5 33.3-5.5 50-8.3 16.7-2.8 31.2-6.3 50-8.4 18.7-2.1 41.7-4.1 62.5-4.1 20.8 0 45.5 2.7 62.5 4.1 17 1.4 32.9 3.5 39.5 4.2M.5 368.7c6.3-1.8 22.9-7.7 37.5-10.5 14.6-2.8 32-3.1 50-6.2 18-3.1 40.2-9 58.3-12.5 18.1-3.5 31.9-5.5 50-8.3 18.1-2.8 38.2-6.7 58.4-8.4 20.1-1.7 35.1-3 62.5-2 27.4 1.1 85 6.9 102 8.3M46.3 372.8c8.3-1.7 31.9-6.9 50-10.4 18.1-3.5 38.9-6.9 58.4-10.4 19.4-3.5 37.5-7.6 58.3-10.4 20.8-2.8 45.9-5.6 66.7-6.3 20.8-.7 35.1 0 58.3 2.1 23.2 2.1 67.7 8.7 81.2 10.4M129.7 372.8c9.7-2.4 37.5-10.8 58.3-14.6 20.8-3.8 44.5-7.3 66.7-8.3 22.2-1 39.2-.3 66.6 2.1 27.4 2.4 81.6 10.4 97.9 12.5M229.7 372.8c8.3-1.4 31.9-7.3 50-8.3 18.1-1 41.6 .7 58.3 2.1 16.7 1.4 34.8 5.2 41.7 6.2M196.3 230.8c4.7-.5 18.6-2.1 27.9-3 9.3-.9 18.7-1.7 28-2.5 9.3-.8 18.6-1.5 27.9-2.5 9.3-1 18.7-2 27.9-3.3 9.2-1.3 18.3-2.7 27.5-4.6 9.2-1.9 18.6-4 27.9-7.1 9.3-3 18.6-7.1 27.9-11.2 9.3-4.1 23.3-11.2 27.9-13.4M4.7 258.7c8.6 2.4 34.3 13.4 51.6 14.5 17.3 1.1 34.8-4.3 52.1-7.9 17.3-3.6 34.4-10.5 51.7-13.7 17.3-3.3 34.8-4.1 52.1-5.8 17.3-1.7 34.4-3.2 51.6-4.2 17.2-1 34.4-1.1 51.7-1.7 17.3-.6 34.8-.3 52.1-1.7 17.3-1.4 43-5.8 51.6-7M.5 285.3c8.7 1.7 35.1 8.5 52.5 10 17.4 1.5 34.7 1.4 52.1-1.2 17.4-2.6 35.1-10 52.5-14.2 17.4-4.2 34.7-8.1 52.1-11.2 17.4-3.1 35-5.6 52.5-7.1 17.5-1.5 35.1-2.3 52.5-2.1 17.4 .2 34.7 2.1 52.1 3.3 17.4 1.2 43.7 3.2 52.4 3.8M.5 306.2c8.7 1.1 35.1 5.5 52.5 6.6 17.4 1.1 34.7 1.7 52.1 0 17.4-1.7 35.1-5.9 52.5-10 17.4-4.1 34.7-10.5 52.1-14.6 17.4-4.1 35-7.7 52.5-10 17.5-2.3 35.1-3.2 52.5-3.7 17.4-.5 34.7 0 52.1 .8 17.4 .8 43.7 3.2 52.4 3.8M.5 320.8c8.7 .5 35.1 2.8 52.5 2.9 17.4 .1 34.7-.7 52.1-2.5 17.4-1.8 35.1-5 52.5-8.4 17.4-3.4 34.7-8.2 52.1-12 17.4-3.7 35-8.3 52.5-10.5 17.5-2.2 35.1-2.5 52.5-2.9 17.4-.4 34.7 .1 52.1 .8 17.4 .7 43.7 2.8 52.4 3.4M.5 339.5c8.7-.6 35.1-2.4 52.5-3.7 17.4-1.2 34.7-1.6 52.1-3.8 17.4-2.2 35.1-6.3 52.5-9.6 17.4-3.3 34.7-6.8 52.1-10 17.4-3.2 35-7.1 52.5-9.2 17.5-2.1 35.1-3.2 52.5-3.3 17.4-.1 34.7 1.4 52.1 2.5 17.4 1 43.7 3.2 52.4 3.8M.5 360.3c8.7-1.7 35.1-7.5 52.5-10.4 17.4-2.9 34.7-3.7 52.1-6.7 17.4-3 35.1-8 52.5-11.2 17.4-3.2 34.7-5.7 52.1-8.3 17.4-2.6 35-5.8 52.5-7.5 17.5-1.7 35.1-2.6 52.5-2.5 17.4 .1 34.7 2 52.1 3.3 17.4 1.3 43.7 3.8 52.4 4.6M46.3 364.9c7.8-1.3 31.1-5 46.7-7.9 15.6-2.9 31.1-6.3 46.7-9.2 15.5-2.9 31.1-5.8 46.6-8.3 15.6-2.5 31.2-4.9 46.7-6.7 15.5-1.8 30.7-3.5 46.2-4.1 15.5-.6 31.1-.4 46.7 .4 15.6 .8 31.2 3.1 46.7 4.6 15.6 1.5 38.8 3.7 46.6 4.5M129.7 364.5c6-1.3 24.1-5.1 36.2-7.5 12.1-2.4 24.2-5.2 36.3-7.1 12.1-1.9 24.1-3 36.2-4.1 12.1-1.1 24.3-2.3 36.3-2.6 12-.3 23.8 .3 35.8 .9 12 .6 24.2 1.7 36.3 2.9 12.1 1.2 24.1 3.1 36.2 4.6 12.1 1.5 30.2 3.8 36.2 4.6M229.7 362.8c3.1-.4 12.5-1.7 18.7-2.5 6.3-.8 12.5-1.7 18.8-2.1 6.2-.4 12.4-.4 18.7-.4 6.2 0 12.5 .2 18.8 .4 6.2 .2 12.4 .5 18.7 .9 6.2 .4 12.5 .9 18.8 1.7 6.2 .8 12.4 2 18.7 2.9 6.2 .9 15.7 2.1 18.8 2.5M254.7 160.3c4.2 1.4 15.3 7 25 8.4 9.7 1.4 22.2 1.4 33.3 0 11.1-1.4 25-4.2 33.3-8.4 8.3-4.2 15.3-11.1 16.7-16.6 1.4-5.6-2.8-12.5-8.3-16.7-5.6-4.2-15.3-6.6-25-8.3-9.7-1.7-22.3-2.1-33.4-2.1-11.1 0-22.2 1.1-33.3 2.1-11.1 1-23.6 2-33.3 4.1-9.7 2.1-18.1 4.2-25 8.4-6.9 4.2-12.5 10.4-16.7 16.6-4.2 6.3-8.3 14.6-8.3 20.9 0 6.2 2.7 11.8 8.3 16.6 5.6 4.9 15.3 9.7 25 12.5 9.7 2.8 22.2 4.2 33.3 4.2 11.1 0 22.3-2.1 33.4-4.2 11.1-2.1 22.2-5.5 33.3-8.3 11.1-2.8 22.2-3.4 33.3-8.3 11.1-4.9 24.4-13.2 33.4-20.9 9-7.6 16.6-16.7 20.8-25 4.2-8.3 4.9-16.7 4.2-25-.7-8.3-4.2-18.1-8.4-25-4.2-6.9-13.8-13.8-16.6-16.6M163 93.7c-2.8 4.2-11.8 16-16.7 25-4.9 9-9.7 19.4-12.5 29.1-2.8 9.7-4.8 20.2-4.1 29.2 .7 9 3.5 18.1 8.3 25 4.8 6.9 12.5 12.5 20.8 16.7 8.3 4.2 24.3 6.9 29.2 8.3M188 77c-2.8 3.5-11.8 12.5-16.7 20.8-4.9 8.3-9.7 18.8-12.5 29.2-2.8 10.4-4.8 22.9-4.1 33.3 .7 10.4 3.5 21.5 8.3 29.2 4.8 7.7 12.5 12.5 20.8 16.7 8.3 4.2 17.4 6.9 29.2 8.3 11.8 1.4 27.8 1.4 41.7 0 13.9-1.4 27.7-4.8 41.6-8.3 13.9-3.5 29.2-7.6 41.7-12.5 12.5-4.9 23.6-9.8 33.3-16.7 9.7-6.9 20.8-20.8 25-25M129.7 81.2c-2.1 4.8-9 18.7-12.5 29.1-3.5 10.4-7 22.3-8.4 33.4-1.4 11.1-1.4 22.9 0 33.3 1.4 10.4 3.5 20.9 8.4 29.2 4.9 8.3 13.2 15.2 20.8 20.8 7.6 5.6 20.8 10.4 25 12.5M100.5 77c-1.4 7-6.2 27.8-8.3 41.7-2.1 13.9-4.2 29.1-4.2 41.6 0 12.5 1.4 23.7 4.2 33.4 2.8 9.7 7.7 17.4 12.5 25 4.8 7.6 9.7 15.2 16.6 20.8 6.9 5.6 20.8 10.4 25 12.5M83.8 56.2c-1.4 6.9-6.6 27.7-8.3 41.6-1.7 13.9-2.1 27.8-2.1 41.7 0 13.9 .4 29.9 2.1 41.7 1.7 11.8 4.1 20.1 8.3 29.1 4.2 9 10.4 17.4 16.7 25 6.3 7.7 17.3 17.4 20.8 20.9M67.2 39.5c-1 6.3-5.1 24.3-6.3 37.5-1.3 13.2-1.5 27.8-1.2 41.7 .4 13.9 2.1 29.1 3.3 41.6 1.2 12.5 3.5 27.8 4.2 33.4M321.3 112.4c-5.5-.3-22.2-2.1-33.3-2.1-11.1 0-22.2 .7-33.3 2.1-11.1 1.4-27.8 5.3-33.4 6.3M338 135.3c-4.2-1.4-15.3-6.6-25-8.3-9.7-1.7-22.2-2.1-33.3-2.1-11.1 0-22.3 .4-33.4 2.1-11.1 1.7-27.7 6.9-33.3 8.3M213 102c5.6-1.4 23.6-4.8 33.3-8.3 9.7-3.5 17.4-7.6 25-12.5 7.6-4.9 15.3-11.1 20.9-16.7 5.6-5.6 9.7-11.2 12.5-16.7 2.8-5.6 3.4-13.8 4.1-16.6M229.7 56.2c4.2-1.4 16.7-4.9 25-8.4 8.3-3.5 18.1-7.7 25-12.5 6.9-4.9 12.4-11.1 16.6-16.6 4.2-5.6 7-13.9 8.4-16.7M233.8 27c-3.5 1.4-13.2 6.2-20.8 8.3-7.6 2.1-16 4.2-25 4.2-9 0-24.3-3.5-29.2-4.2M238 35.3c-4.2 2.8-16.7 12.5-25 16.7-8.3 4.2-16.7 4.8-25 8.3-8.3 3.5-20.8 10.4-25 12.5M338 131.2c1.4-4.2 5.5-16 8.3-25 2.8-9 7.7-19.5 8.4-29.2 .7-9.7-1.4-20.2-4.2-29.2-2.8-9-7.6-17.4-12.5-25-4.9-7.6-13.9-17.3-16.7-20.8M354.7 147.8c2.1-4.2 8.3-16 12.5-25 4.2-9 10.4-19.4 12.5-29.1 2.1-9.7 1.4-19.5 0-29.2-1.4-9.7-4.2-20.2-8.4-29.2-4.2-9-13.8-20.8-16.6-25M392.2 118.7c1.4-4.2 6.2-15.3 8.3-25 2.1-9.7 4.9-22.3 4.2-33.4-.7-11.1-7-27.8-8.4-33.3M419.2 31.2c-2.4 1.4-7.9 5.2-14.5 8.3-6.6 3.1-16 8-25 10.4-9 2.4-20.2 4.2-29.2 4.2-9 0-17.4-2.5-25-4.2-7.6-1.7-17.3-5.2-20.8-6.2M408.8 152c-.7-4.9-4.1-18.8-4.1-29.2 0-10.4 1.7-22.2 4.1-33.3 2.4-11.1 8.7-27.7 10.4-33.3M21.3 6.2c4.2 3.5 18 12.5 25 20.8 6.9 8.3 12.5 18.8 16.7 29.2 4.2 10.4 6.9 27.8 8.3 33.3M46.3 6.2c4.2 2.8 18 9.7 25 16.6 6.9 6.9 13.9 20.8 16.7 25M142.2 6.2c-.7 4.9-4.2 20.1-4.2 29.1 0 9 3.5 20.8 4.2 25M113 18.7c-.7 5.5-3.2 22.2-4.2 33.3-1 11.1-1.7 27.8-2 33.3M179.7 89.5c2.8-2.8 9.7-12.5 16.6-16.7 6.9-4.2 16.7-6.6 25-8.3 8.3-1.7 20.8-1.7 25-2.1M254.7 185.3c5.5 0 22.2 1 33.3 0 11.1-1 22.9-3.4 33.3-6.2 10.4-2.8 20.2-5.2 29.2-10.4 9-5.2 19.4-12.6 25-20.9 5.6-8.3 6.9-24.2 8.3-29.1M196.3 152c2.8-2.1 9.8-9.7 16.7-12.5 6.9-2.8 16-3.5 25-4.2 9-.7 19.5-.3 29.2 0 9.7 .4 20.1 0 29.1 2.1 9 2.1 20.8 8.7 25 10.4M42.2 77c.7 7 2.7 29.2 4.1 41.7 1.4 12.5 2.1 22.2 4.2 33.3 2.1 11.1 4.1 22.2 8.3 33.3 4.2 11.1 10.4 23.7 16.7 33.4 6.3 9.7 17.3 20.8 20.8 25M121.3 35.3c.4 5.6 2.1 23.7 2.1 33.4 0 9.7-1.7 20.8-2.1 25" fill="none" stroke="#000" stroke-width="1.2"/><path d="M205.3,221.9L201.7,224.1L201.3,220.6ZM265,216L261.4,218.1L261,214.6ZM324.3,207.4L321.1,210.1L320.2,206.7ZM380.5,187L377.9,190.3L376.3,187.1ZM27.1,257.6L23,258.4L23.8,255ZM86.2,258.7L83,261.3L82.1,257.9ZM144.4,244.1L141.2,246.8L140.3,243.3ZM204.1,237.9L200.5,240L200.1,236.5ZM263.8,232.5L260.2,234.6L259.9,231ZM323.6,227.5L320,229.6L319.7,226.1ZM382.2,214.9L379.1,217.8L378,214.5ZM43.7,282.9L39.7,284.2L40.2,280.7ZM103.1,280L100.3,283.2L98.9,279.9ZM159.9,261.1L156.6,263.8L155.7,260.3ZM219.4,253.9L215.8,256L215.4,252.5ZM279.3,249.9L275.5,251.9L275.4,248.4ZM339.1,253.2L335.1,254.5L335.6,251ZM398.8,259.3L394.9,260.8L395.1,257.3ZM14.5,300.4L10.5,301.5L11.1,298ZM73.9,308.9L69.9,310.3L70.3,306.8ZM133.4,305L130.3,307.8L129.3,304.4ZM190.9,287.8L187.8,290.6L186.8,287.2ZM249.2,273.9L245.8,276.4L245.1,272.9ZM308.9,268L305.2,270L305,266.5ZM368.8,269L364.8,270.4L365.1,266.9ZM32.4,317.4L28.5,318.8L28.8,315.3ZM92.4,318.7L88.5,320.4L88.5,316.9ZM151.5,309L148.2,311.7L147.4,308.2ZM209.7,294.5L206.4,297.1L205.6,293.7ZM268.5,283.5L264.9,285.6L264.6,282ZM328.4,281.2L324.6,282.9L324.6,279.4ZM388.3,283.2L384.4,284.7L384.7,281.2ZM50.3,328.6L46.4,330.2L46.5,326.7ZM110.1,324.8L106.4,326.9L106.1,323.4ZM169.4,316.2L165.9,318.6L165.4,315.1ZM227.8,302.5L224.5,305.1L223.7,301.7ZM287,293.7L283.2,295.4L283.2,291.9ZM347,294.1L343.1,295.7L343.3,292.2ZM406.9,297.2L403.1,298.8L403.2,295.2ZM19.7,348.5L16.3,350.9L15.7,347.4ZM79.2,341.1L75.6,343.2L75.3,339.7ZM138.2,330.8L134.8,333.4L134.1,329.9ZM197.1,319.9L193.7,322.3L193.1,318.8ZM256.3,310.2L252.7,312.2L252.4,308.7ZM316.2,306.2L312.5,308.3L312.3,304.7ZM376.1,310.1L372.2,311.6L372.4,308.1ZM36.5,358.7L33.3,361.4L32.3,358ZM95.8,350.3L92.5,352.9L91.7,349.4ZM154.6,338.1L151.1,340.5L150.5,337ZM213.8,328.7L210.3,331L209.8,327.4ZM273.4,322.2L269.6,324.1L269.5,320.6ZM333.3,322.1L329.4,323.5L329.7,320ZM393.1,327L389.2,328.4L389.5,324.9ZM100.3,361.7L96.8,364.1L96.2,360.6ZM159.3,351.2L155.9,353.6L155.3,350.1ZM218.5,341.1L214.8,343.2L214.5,339.7ZM278.2,335.5L274.6,337.6L274.3,334.1ZM338.2,337.4L334.2,338.7L334.6,335.2ZM397.7,345.1L393.7,346.3L394.1,342.8ZM153.8,366.8L150.5,369.5L149.6,366ZM212.5,355.2L209,357.4L208.5,353.9ZM272.2,350.5L268.3,352.1L268.4,348.6ZM332.1,353.4L328.1,354.6L328.5,351.1ZM391.6,361L387.6,362.2L388,358.7ZM271.7,365.8L268.2,368.2L267.6,364.7ZM331.5,366.4L327.7,368L327.8,364.4ZM208.6,229.5L205,231.6L204.7,228.1ZM268.4,223.9L264.7,226L264.4,222.5ZM327.8,216.2L324.4,218.6L323.8,215.1ZM385.2,199.1L382.3,202.1L381,198.8ZM33.7,266.8L29.5,267.5L30.5,264.1ZM92.4,267.8L88.9,270.1L88.3,266.6ZM150.7,254.1L147.5,256.8L146.6,253.3ZM210.1,246L206.5,248.2L206.1,244.6ZM269.9,241.4L266.1,243.3L266,239.7ZM329.8,239.5L326.1,241.4L326,237.8ZM389.6,235.2L386.1,237.5L385.6,234ZM47.5,294.3L43.5,295.3L44.1,291.8ZM107.3,293.5L104.1,296.2L103.2,292.8ZM165.4,278.2L162,280.8L161.3,277.3ZM224.2,266.7L220.7,269L220.2,265.5ZM283.8,260.7L280.1,262.6L280,259.1ZM343.8,261.4L339.9,262.9L340.1,259.3ZM403.6,265.5L399.7,267L400,263.4ZM18,308.4L14,309.7L14.4,306.1ZM77.7,312.8L73.9,314.6L73.9,311.1ZM137.1,306.7L133.7,309.2L133.1,305.7ZM195.3,292.3L192.1,295L191.2,291.6ZM254,279.8L250.6,282.3L249.9,278.8ZM313.7,274.6L310,276.6L309.8,273.1ZM373.7,275.8L369.7,277.3L370,273.8ZM35.8,322.7L31.9,324.3L32.1,320.7ZM95.8,321.6L92.1,323.6L91.9,320ZM155.1,313.2L151.7,315.6L151.1,312.1ZM213.6,300L210.3,302.4L209.6,299ZM272.7,289.7L269,291.7L268.8,288.2ZM332.6,287.7L328.8,289.4L328.8,285.9ZM392.6,289.9L388.6,291.4L388.9,287.9ZM53.5,335.7L49.9,337.8L49.6,334.2ZM113.3,330.5L109.8,332.9L109.2,329.4ZM172.3,319.6L168.9,322.1L168.2,318.6ZM231.2,308.6L227.8,311.1L227.2,307.6ZM290.7,301.4L287,303.4L286.8,299.9ZM350.6,301.6L346.7,303.2L346.9,299.7ZM410.5,305.5L406.6,307L406.8,303.5ZM23,355.9L19.6,358.4L18.9,354.9ZM82.2,346.2L78.6,348.4L78.2,344.9ZM141.2,335.5L137.8,338.1L137.1,334.6ZM200.2,325.2L196.8,327.5L196.2,324ZM259.6,316.5L256.1,318.8L255.6,315.3ZM319.5,314L315.6,315.5L315.8,312ZM379.4,318.1L375.4,319.5L375.7,316ZM86.4,358.1L83,360.5L82.4,357ZM145.4,346.8L141.9,349.2L141.3,345.7ZM204.5,336.9L201,339.2L200.5,335.7ZM264.1,330L260.5,332.1L260.2,328.6ZM324.1,329.1L320.2,330.8L320.3,327.3ZM383.8,334.8L379.8,336.2L380.2,332.6ZM139.9,362.4L136.5,364.9L135.8,361.4ZM198.7,350.6L195.3,353.1L194.6,349.6ZM258.4,344.4L254.7,346.4L254.4,342.9ZM318.3,344.7L314.4,346.2L314.6,342.6ZM378,350.9L374,352.2L374.4,348.7ZM257.6,359.3L254.1,361.5L253.7,358ZM317.6,358.8L313.7,360.4L313.8,356.9ZM377.1,365.8L373.1,367.1L373.6,363.6ZM299.3,168.7L295.5,170.4L295.5,166.9ZM354.8,151.9L353.3,155.9L350.8,153.3ZM326.3,118.5L330.2,116.9L330,120.5ZM266.4,118.5L270.1,116.4L270.3,120ZM207.9,130.1L210.9,127.2L212,130.6ZM184.4,178.2L181.1,175.5L184.3,174ZM236.8,200.8L232.8,202.1L233.3,198.6ZM296,193.7L292.7,196.4L291.9,193ZM353.2,176.9L350.9,180.4L349.1,177.4ZM398.1,138.2L397,142.3L394.3,140ZM393.1,82.1L397,83.5L394.5,86ZM154.3,106.7L154.9,102.6L157.9,104.6ZM131.9,161.6L130.6,157.6L134.2,158.1ZM152.2,213.3L148.1,212.3L150.3,209.6ZM168.7,104.1L168.5,99.9L171.8,101.3ZM155.1,161.8L152.3,158.6L155.7,157.6ZM188.1,207.4L184,208.1L185,204.6ZM247.1,214.5L243.3,216.3L243.3,212.7ZM305.9,203.3L302.7,206.1L301.7,202.7ZM361.7,181.8L359.1,185.1L357.5,181.9ZM112.4,129.3L111.6,125.1L115.1,126ZM112.1,188.4L109.3,185.2L112.7,184.2ZM148.7,232.4L144.6,232.3L146.1,229.1ZM96.4,97.6L95.4,93.5L98.9,94.2ZM88.3,157L86.9,153L90.5,153.4ZM102.5,214.3L99.2,211.7L102.4,210.1ZM76.2,94.2L75.2,90.1L78.7,90.8ZM74.1,154L72.2,150.3L75.7,150.1ZM85.2,212.4L81.6,210.2L84.6,208.3ZM60.4,95.5L58.7,91.6L62.3,91.7ZM62.6,155.4L60.5,151.7L64.1,151.4ZM295.1,110.8L299,109.2L298.8,112.8ZM235.5,116L238.9,113.6L239.6,117.1ZM295.3,125.9L299.3,124.4L299,127.9ZM235.8,129.6L239,127L239.9,130.4ZM226.4,98.7L223.1,101.3L222.3,97.9ZM280.3,74L278.4,77.8L276.2,75ZM259.3,45.5L256.7,48.8L255.1,45.6ZM302.5,6.4L302.3,10.6L299.2,9ZM186.5,39.3L190.5,38.1L190,41.6ZM222.1,45.9L224.3,42.3L226.3,45.3ZM167.7,70.5L170.3,67.2L171.9,70.4ZM349.2,96.1L349.9,100.2L346.5,99.3ZM345.7,38.3L349,40.9L345.8,42.5ZM377.7,98.3L377.8,102.5L374.5,101.1ZM372.6,39.7L375.3,42.9L371.9,43.9ZM399.9,95.6L400.4,99.7L397,98.6ZM398.7,36.6L401.4,39.9L397.9,40.8ZM381.3,49.2L384.1,46.1L385.5,49.4ZM322.2,48.9L326.4,48.3L325.3,51.7ZM407.2,140.2L409.4,143.8L405.9,144.3ZM411.5,81.1L412,85.2L408.6,84.2ZM44.1,25.1L40,24.1L42.3,21.3ZM68.7,79L66.1,75.7L69.5,74.8ZM81,37.3L77.4,35.1L80.3,33.1ZM139.7,23.2L138.5,19.1L142,19.6ZM108.8,53.3L107.2,49.4L110.8,49.6ZM224.1,64.3L220.4,66.4L220.1,62.8ZM277.1,185.3L273.3,187.1L273.3,183.6ZM335.6,174L332.7,176.9L331.5,173.6ZM378.7,136.6L379.4,140.8L376,139.8ZM232.1,136.3L228.6,138.7L228.1,135.2ZM292,137.1L288,138.6L288.3,135.1ZM43.2,86.9L41,83.3L44.5,82.9ZM49.8,146.5L47.6,143L51.1,142.5ZM67.8,203.3L64.5,200.7L67.7,199.1ZM123.1,63L121.1,59.3L124.6,59.1Z" fill="#000" stroke="#000" stroke-width="0.6"/><text x="83.8" y="25" class="cl" text-anchor="middle" textLength="13.5" lengthAdjust="spacingAndGlyphs">582</text><text x="315.1" y="57.1" class="cl" text-anchor="middle" textLength="13.5" lengthAdjust="spacingAndGlyphs">585</text><text x="185.9" y="120.4" class="cl" text-anchor="middle" textLength="13.5" lengthAdjust="spacingAndGlyphs">585</text><text x="231.8" y="223.8" class="cl" text-anchor="middle" textLength="13.5" lengthAdjust="spacingAndGlyphs">585</text><text x="294.2" y="236.2" class="cl" text-anchor="middle" textLength="13.5" lengthAdjust="spacingAndGlyphs">582</text><text x="317.2" y="248.8" class="cl" text-anchor="middle" textLength="13.5" lengthAdjust="spacingAndGlyphs">579</text><text x="288.8" y="275.8" class="cl" text-anchor="middle" textLength="13.5" lengthAdjust="spacingAndGlyphs">576</text><text x="318" y="286.2" class="cl" text-anchor="middle" textLength="13.5" lengthAdjust="spacingAndGlyphs">573</text><text x="318" y="297.5" class="cl" text-anchor="middle" textLength="13.5" lengthAdjust="spacingAndGlyphs">570</text><text x="319.2" y="311.2" class="cl" text-anchor="middle" textLength="13.5" lengthAdjust="spacingAndGlyphs">567</text><text x="144.2" y="276.7" class="cl" text-anchor="middle" textLength="13.5" lengthAdjust="spacingAndGlyphs">579</text><text x="110.9" y="297.5" class="cl" text-anchor="middle" textLength="13.5" lengthAdjust="spacingAndGlyphs">576</text><text x="92.2" y="320.8" class="cl" text-anchor="middle" textLength="13.5" lengthAdjust="spacingAndGlyphs">573</text><text x="21.3" y="351.7" class="cl" text-anchor="middle" textLength="13.5" lengthAdjust="spacingAndGlyphs">570</text><text x="31.8" y="371.7" class="cl" text-anchor="middle" textLength="13.5" lengthAdjust="spacingAndGlyphs">567</text><text x="275.5" y="341.7" class="cl" text-anchor="middle" textLength="13.5" lengthAdjust="spacingAndGlyphs">561</text><text x="283.8" y="351.7" class="cl" text-anchor="middle" textLength="13.5" lengthAdjust="spacingAndGlyphs">558</text><text x="271.3" y="361.2" class="cl" text-anchor="middle" textLength="13.5" lengthAdjust="spacingAndGlyphs">555</text><text x="9.7" y="246.7" class="cl" text-anchor="middle" textLength="13.5" lengthAdjust="spacingAndGlyphs">579</text><text x="48.4" y="136.2" class="cl" text-anchor="middle" textLength="13.5" lengthAdjust="spacingAndGlyphs">579</text><text x="25.5" y="136.2" class="cl" text-anchor="middle" textLength="13.5" lengthAdjust="spacingAndGlyphs">576</text><text x="4.7" y="55" class="cl" text-anchor="middle" textLength="13.5" lengthAdjust="spacingAndGlyphs">576</text><text x="40.1" y="119.6" class="cl" text-anchor="middle" textLength="13.5" lengthAdjust="spacingAndGlyphs">582</text><text x="4.7" y="182.1" class="cl" text-anchor="middle" textLength="13.5" lengthAdjust="spacingAndGlyphs">579</text>
</g>
<rect x="0" y="0" width="420" height="373" fill="none" stroke="#000" stroke-width="2"/>
<path d="M-4,23.2h4M-4,58.1h4M-4,93h4M-4,127.9h4M-4,162.8h4M-4,197.6h4M-4,232.5h4M-4,267.4h4M-4,302.2h4M-4,337.1h4M-4,372h4M0,373v4M50,373v4M100,373v4M150,373v4M200,373v4M250,373v4M300,373v4M350,373v4M400,373v4" stroke="#000" stroke-width="1.8" fill="none"/>
<text x="-5.8" y="27.1" class="tk" text-anchor="end" textLength="17.5" lengthAdjust="spacingAndGlyphs">12S</text>
<text x="-5.8" y="62" class="tk" text-anchor="end" textLength="17.5" lengthAdjust="spacingAndGlyphs">15S</text>
<text x="-5.8" y="96.9" class="tk" text-anchor="end" textLength="17.5" lengthAdjust="spacingAndGlyphs">18S</text>
<text x="-5.8" y="131.8" class="tk" text-anchor="end" textLength="17.5" lengthAdjust="spacingAndGlyphs">21S</text>
<text x="-5.8" y="166.7" class="tk" text-anchor="end" textLength="17.5" lengthAdjust="spacingAndGlyphs">24S</text>
<text x="-5.8" y="201.5" class="tk" text-anchor="end" textLength="17.5" lengthAdjust="spacingAndGlyphs">27S</text>
<text x="-5.8" y="236.4" class="tk" text-anchor="end" textLength="17.5" lengthAdjust="spacingAndGlyphs">30S</text>
<text x="-5.8" y="271.3" class="tk" text-anchor="end" textLength="17.5" lengthAdjust="spacingAndGlyphs">33S</text>
<text x="-5.8" y="306.1" class="tk" text-anchor="end" textLength="17.5" lengthAdjust="spacingAndGlyphs">36S</text>
<text x="-5.8" y="341" class="tk" text-anchor="end" textLength="17.5" lengthAdjust="spacingAndGlyphs">39S</text>
<text x="-5.8" y="375.9" class="tk" text-anchor="end" textLength="17.5" lengthAdjust="spacingAndGlyphs">42S</text>
<text x="0.4" y="385.6" class="tk" text-anchor="middle" textLength="18.3" lengthAdjust="spacingAndGlyphs">70W</text>
<text x="50.4" y="385.6" class="tk" text-anchor="middle" textLength="18.3" lengthAdjust="spacingAndGlyphs">65W</text>
<text x="100.4" y="385.6" class="tk" text-anchor="middle" textLength="18.3" lengthAdjust="spacingAndGlyphs">60W</text>
<text x="150.4" y="385.6" class="tk" text-anchor="middle" textLength="18.3" lengthAdjust="spacingAndGlyphs">55W</text>
<text x="200.4" y="385.6" class="tk" text-anchor="middle" textLength="18.3" lengthAdjust="spacingAndGlyphs">50W</text>
<text x="250.4" y="385.6" class="tk" text-anchor="middle" textLength="18.3" lengthAdjust="spacingAndGlyphs">45W</text>
<text x="300.4" y="385.6" class="tk" text-anchor="middle" textLength="18.3" lengthAdjust="spacingAndGlyphs">40W</text>
<text x="350.4" y="385.6" class="tk" text-anchor="middle" textLength="18.3" lengthAdjust="spacingAndGlyphs">35W</text>
<text x="400.4" y="385.6" class="tk" text-anchor="middle" textLength="18.3" lengthAdjust="spacingAndGlyphs">30W</text>
</g>
<rect x="1087.5" y="569" width="416" height="48" fill="#fff" stroke="#000" stroke-width="1.5"/>
<text x="1101.5" y="588.3" class="lg" textLength="389.7" lengthAdjust="spacingAndGlyphs">[OMEGA(-0.001)-(azul)+OMEGA(-0.3)-(verde)+UR&gt;70(1000/850/700/500)] + HGT(500)</text>
<text x="1174.3" y="601.2" class="lg" textLength="244" lengthAdjust="spacingAndGlyphs">[OMEGA(-0.01)_UR&gt;50(1000/850)(vermelho) + LC(500)</text>
<text x="110.5" y="716.3" class="t" font-size="20.6" textLength="104.2" lengthAdjust="spacingAndGlyphs">PANCADAS</text>
<text x="228.6" y="716.3" class="t" font-size="20.6" textLength="24.9" lengthAdjust="spacingAndGlyphs">DE</text>
<text x="268" y="716.3" class="t" font-size="20.6" textLength="65.6" lengthAdjust="spacingAndGlyphs">CHUVA</text>
<text x="348" y="716.3" class="t" font-size="20.6" textLength="26.3" lengthAdjust="spacingAndGlyphs">C/</text>
<text x="387" y="716.3" class="t" font-size="20.6" textLength="116.4" lengthAdjust="spacingAndGlyphs">TROVOADAS</text>
<g transform="translate(97,728)">
<g clip-path="url(#cp)">
<g filter="url(#fs)"><path d="M0 0l157.5 0-3.5 87.5-31.5 35-10.5 87.5-112 0zM10.5 163l101.5 0 10.5 52.5 35 17.5 0 17.5-52.5 3.5-52.5-24.5-35-14z" fill="#fa3c3c"/></g><g filter="url(#fd)"><path d="M0 0l28 0-10.5 10.5-7 14-3.5 17.5-7 3.5zM21 22.8l17.5-3.6 8.7 7-1.7 17.6-10.5 3.4-10.5-5.2zM47.2 0l26.3 0 3.5 10.5 7 8.7 3.5 15.8-10.5 3.5-10.5-8.7-8.7-10.6-8.8-5.2zM98 35l14-1.8 3.5 19.3-3.5 17.5-12.2 0-3.6-17.5zM122.5 52.5l17.5-10.5 10.5 3.5 0 14-14 7 1.7 15.7-15.7-1.7-3.5-14zM127.8 3.5l17.4-1.7 1.8 15.7-14 3.5-7-7zM70 57.8l21-14 7 26.2 17.5 3.5 7 14 0 17.5-10.5 7-21 0-8.8 7-5.2 10.5-14-7 3.5-17.5 7-14-7-14zM57.8 38.5l10.4 0 1.8 12.3-10.5 1.7zM14 87.5l12.2-1.7 1.8 19.2-12.2 1.8zM36.8 105l36.7-1.8 0 19.3-14 10.5-19.3-3.5zM22.8 122.5l12.2 0 3.5 14-14 1.7zM31.5 143.5l17.5-1.7 3.5 15.7-17.5 0zM52.5 168l21 0 3.5 17.5-3.5 10.5-17.5-3.5zM17.5 189l17.5-3.5 14 7 3.5 17.5-35 0zM84 192.5l21 3.5 7 14-24.5 0zM217 129.5l6.1 0 0 9.6-6.1 0zM52.5 168.2l21 1.8 3.5 14-7 14-12.2-3.5-5.3-14zM17.5 189.2l14-1.7 3.5 10.5-14 3.5zM56 198l14 3.5 10.5 19.3 17.5 8.7 14 10.5 3.5 7-17.5 0-14-10.5-14-10.5-12.2-10.5zM80.5 198l17.5-3.5 14 14-7 7-17.5-3.5zM122.5 241.8l14-5.3 17.5 1.7 0 7-17.5 1.8-14 1.8zM201.2 222.5l14-1.7 0 3.4-12.2 3.6zM256.8 229.1l14.5 0 8.4 14.6 16.6 16.6 12.5 16.7 8.4 16.7-12.5-4.2-16.7-20.8-16.7-16.7-12.5-12.5zM213 177l8.3-2.1 2.1 6.3-8.3 2zM204.7 222.8l12.5-2 0 6.2-10.4 2.1zM217.2 131.2l8.3 0 0 6.2-7.5 0z" fill="#fa3c3c"/><path d="M78.8 17.5l7-1.7 1.7 14-7 1.7zM77 77l21-3.5 1.8 21-12.3 3.5-8.7-7zM38.5 68.2l10.5-1.7 1.8 8.7-10.6 1.8zM40.2 98l12.3 0 3.5 24.5-10.5 0zM40.2 57.8l7-1.8 0 7-7 0zM21 192.5l21-3.5 3.5 17.5-21 3.5zM19.2 194.5l24.6-1.7 1.7 14-24.5 1.7zM194.2 222.5l7-.9 0 6.2-6.1 .3zM3.5 229.5l7-1.7 0 8.7-6.1 1.7zM304.7 260.3l20.8 2.1 16.7 10.4 6.2 25-14.6 4.2-16.6-12.5-12.5-12.5zM350.5 314.5l12.5 8.3 12.5 12.5-4.2 2.1-16.6-14.6zM395.5 364.5l5.8 6.3-5 2.9zM271.3 235.3l8.4 2.1 4.1 10.4-8.3-2z" fill="#f08228"/></g><path d="M31.5 208.5c2.3 2.1 8.7 8.2 14 12.3 5.3 4.1 11.7 8.7 17.5 12.2 5.8 3.5 11.7 6.2 17.5 8.8 5.8 2.6 11.7 5 17.5 7 5.8 2 11.7 3.5 17.5 5.2 5.8 1.7 12.3 3.7 17.5 5.2 5.2 1.5 11.7 3 14 3.6M38.5 77c1.7 1.8 7 7.3 10.5 10.5 3.5 3.2 7.3 6.4 10.5 8.7 3.2 2.3 7.3 4.4 8.7 5.3M175 298.6c1.8-.1 7.6-.8 10.5-.5 2.9 .3 4.4 1.6 7 2.3 2.6 .7 7.3 1.4 8.7 1.7M203 215.5c.7-1 2.9-4.2 4.4-6.1 1.5-1.9 3.7-4.4 4.4-5.3M56 194.5c.9 1.7 3.5 7 5.2 10.5 1.8 3.5 4.4 8.8 5.3 10.5" fill="none" stroke="#1e3cff" stroke-width="3.8" stroke-linecap="round"/><path d="M22.8 110.2l10.4 0-1.7 10.6-7 0zM94.5 278.5l5.3 7 5.2 5.3-7-1.8-7 3.5 3.5-7z" fill="#1e3cff"/><g fill="none" stroke="#1e3cff" stroke-width="1.6"><ellipse cx="62.2" cy="122.9" rx="2" ry="1.9" transform="rotate(-9.2 62.2 122.9)"/><ellipse cx="24.4" cy="52.4" rx="3.2" ry="2" transform="rotate(14.5 24.4 52.4)"/><ellipse cx="65.2" cy="76.6" rx="2.7" ry="1.9" transform="rotate(19.3 65.2 76.6)"/><ellipse cx="12.4" cy="73.4" rx="2.3" ry="1.3" transform="rotate(-48.2 12.4 73.4)"/><ellipse cx="52.8" cy="103.8" rx="2.4" ry="1.9" transform="rotate(50.2 52.8 103.8)"/><ellipse cx="46.3" cy="124.9" rx="4.1" ry="1.8" transform="rotate(58.6 46.3 124.9)"/><ellipse cx="50.4" cy="75.2" rx="2.7" ry="1.4" transform="rotate(-50.9 50.4 75.2)"/><ellipse cx="31.6" cy="63.4" rx="4.1" ry="1.5" transform="rotate(-47.6 31.6 63.4)"/><ellipse cx="17.4" cy="81.2" rx="2.9" ry="1.6" transform="rotate(47.1 17.4 81.2)"/><ellipse cx="54.8" cy="118.7" rx="2.8" ry="2" transform="rotate(39.6 54.8 118.7)"/><ellipse cx="56.2" cy="67.5" rx="2" ry="1.9" transform="rotate(5 56.2 67.5)"/><ellipse cx="22.3" cy="194.6" rx="2.3" ry="1.7" transform="rotate(-22 22.3 194.6)"/><ellipse cx="59.3" cy="250.5" rx="4" ry="1.6" transform="rotate(46.4 59.3 250.5)"/><ellipse cx="51.8" cy="228.1" rx="3.2" ry="1.7" transform="rotate(-30.5 51.8 228.1)"/><ellipse cx="99.3" cy="277.2" rx="3.4" ry="1.7" transform="rotate(-52.5 99.3 277.2)"/><ellipse cx="50.8" cy="247.4" rx="3.3" ry="1.8" transform="rotate(-36.3 50.8 247.4)"/><ellipse cx="13.4" cy="193.5" rx="3.5" ry="2.3" transform="rotate(15.8 13.4 193.5)"/><ellipse cx="40.8" cy="222.3" rx="2.9" ry="1.4" transform="rotate(6 40.8 222.3)"/><ellipse cx="140" cy="263.1" rx="2.1" ry="2.1" transform="rotate(32.6 140 263.1)"/><ellipse cx="11.9" cy="254.1" rx="2.8" ry="2.3" transform="rotate(-30.5 11.9 254.1)"/><ellipse cx="2.3" cy="272.4" rx="2.4" ry="2.3" transform="rotate(56.8 2.3 272.4)"/><ellipse cx="13.4" cy="288.6" rx="2.2" ry="2.1" transform="rotate(29.5 13.4 288.6)"/><ellipse cx="7.5" cy="258.1" rx="2.1" ry="1.3" transform="rotate(-46.1 7.5 258.1)"/><ellipse cx="2.7" cy="263.6" rx="2.7" ry="1.3" transform="rotate(20.4 2.7 263.6)"/><ellipse cx="6.7" cy="269.8" rx="2.9" ry="2.1" transform="rotate(14.3 6.7 269.8)"/><ellipse cx="16.5" cy="278.6" rx="3.6" ry="1.5" transform="rotate(0.6 16.5 278.6)"/><ellipse cx="15" cy="279.6" rx="3.8" ry="2.2" transform="rotate(4.9 15 279.6)"/><ellipse cx="9.5" cy="277" rx="3.8" ry="1.7" transform="rotate(-32.4 9.5 277)"/><ellipse cx="115.5" cy="349.7" rx="2.4" ry="1.8" transform="rotate(-39.3 115.5 349.7)"/><ellipse cx="120.4" cy="318.6" rx="2.1" ry="1.4" transform="rotate(-13.6 120.4 318.6)"/><ellipse cx="0.8" cy="316" rx="3.9" ry="1.4" transform="rotate(39.8 0.8 316)"/><ellipse cx="123.6" cy="284.7" rx="2.4" ry="2.1" transform="rotate(-44 123.6 284.7)"/><ellipse cx="27.8" cy="285.3" rx="3.1" ry="1.8" transform="rotate(1 27.8 285.3)"/><ellipse cx="7" cy="349.3" rx="3.1" ry="2" transform="rotate(40.2 7 349.3)"/><ellipse cx="156.1" cy="357.9" rx="2.6" ry="2.4" transform="rotate(14.7 156.1 357.9)"/><ellipse cx="177.8" cy="282.3" rx="2.8" ry="1.9" transform="rotate(22.9 177.8 282.3)"/><ellipse cx="19.1" cy="354.2" rx="1.9" ry="2.2" transform="rotate(-38.9 19.1 354.2)"/><ellipse cx="143.4" cy="282.8" rx="4" ry="1.5" transform="rotate(-40.2 143.4 282.8)"/><ellipse cx="67.2" cy="359.4" rx="2.2" ry="2.3" transform="rotate(28.7 67.2 359.4)"/><ellipse cx="114.3" cy="330.3" rx="2.3" ry="2.2" transform="rotate(31.5 114.3 330.3)"/><ellipse cx="90.3" cy="338.7" rx="4" ry="1.6" transform="rotate(30.8 90.3 338.7)"/><ellipse cx="168.1" cy="369.1" rx="2.6" ry="2.2" transform="rotate(-58 168.1 369.1)"/><ellipse cx="111.6" cy="320.9" rx="3.3" ry="1.4" transform="rotate(-40.1 111.6 320.9)"/><ellipse cx="7.6" cy="349.1" rx="2.7" ry="1.5" transform="rotate(6.9 7.6 349.1)"/><ellipse cx="62.2" cy="323.7" rx="2.2" ry="2.1" transform="rotate(-8.2 62.2 323.7)"/><ellipse cx="121.1" cy="315.5" rx="3.2" ry="1.7" transform="rotate(58.4 121.1 315.5)"/><ellipse cx="143" cy="314.3" rx="3.2" ry="2.2" transform="rotate(-18.7 143 314.3)"/><ellipse cx="369" cy="324.2" rx="3.5" ry="1.4" transform="rotate(-9.4 369 324.2)"/><ellipse cx="388.8" cy="223" rx="4.2" ry="2.1" transform="rotate(36.7 388.8 223)"/><ellipse cx="388.2" cy="263.3" rx="2.6" ry="2.1" transform="rotate(40.3 388.2 263.3)"/><ellipse cx="417" cy="320.6" rx="3.8" ry="1.2" transform="rotate(-36.6 417 320.6)"/><ellipse cx="402.3" cy="273.9" rx="2" ry="2.3" transform="rotate(14.5 402.3 273.9)"/><ellipse cx="400.6" cy="264.2" rx="2.6" ry="2.2" transform="rotate(-21.3 400.6 264.2)"/><ellipse cx="410.6" cy="283.8" rx="2.1" ry="1.7" transform="rotate(-18.6 410.6 283.8)"/><ellipse cx="362.5" cy="280.3" rx="3.4" ry="2.1" transform="rotate(-20.3 362.5 280.3)"/><ellipse cx="404.5" cy="354" rx="2.7" ry="2" transform="rotate(-3.6 404.5 354)"/><ellipse cx="385.5" cy="272.1" rx="2.5" ry="1.9" transform="rotate(-51.8 385.5 272.1)"/><ellipse cx="367" cy="271.2" rx="3.5" ry="1.4" transform="rotate(5.2 367 271.2)"/><ellipse cx="399.1" cy="239.4" rx="3" ry="1.4" transform="rotate(-22 399.1 239.4)"/><ellipse cx="418.5" cy="347.7" rx="3" ry="2" transform="rotate(-12.4 418.5 347.7)"/><ellipse cx="378.7" cy="216.9" rx="2" ry="1.5" transform="rotate(-5.6 378.7 216.9)"/><ellipse cx="350.7" cy="330.7" rx="4.2" ry="1.9" transform="rotate(-53.4 350.7 330.7)"/><ellipse cx="350.7" cy="311.3" rx="3.1" ry="2" transform="rotate(-9.5 350.7 311.3)"/><ellipse cx="379" cy="287.5" rx="2.6" ry="1.5" transform="rotate(-19.5 379 287.5)"/><ellipse cx="381" cy="221.9" rx="2.1" ry="1.6" transform="rotate(5.5 381 221.9)"/><ellipse cx="172.8" cy="64.1" rx="3.7" ry="1.3" transform="rotate(-56 172.8 64.1)"/><ellipse cx="192.3" cy="77.5" rx="2.2" ry="2.1" transform="rotate(9 192.3 77.5)"/><ellipse cx="193.8" cy="98" rx="3.9" ry="1.5" transform="rotate(-56.2 193.8 98)"/><ellipse cx="182" cy="59.5" rx="3.2" ry="1.9" transform="rotate(-0.7 182 59.5)"/><ellipse cx="227.7" cy="77.1" rx="3.6" ry="2.3" transform="rotate(31.5 227.7 77.1)"/><ellipse cx="259.6" cy="77.4" rx="2.9" ry="2.4" transform="rotate(43.1 259.6 77.4)"/><ellipse cx="236.2" cy="92.9" rx="2.4" ry="1.2" transform="rotate(58.9 236.2 92.9)"/><ellipse cx="218.1" cy="83.8" rx="3.8" ry="1.6" transform="rotate(-6.4 218.1 83.8)"/><ellipse cx="216.7" cy="208.7" rx="3" ry="1.4" transform="rotate(-12.1 216.7 208.7)"/><ellipse cx="285.7" cy="338.8" rx="3.4" ry="1.2" transform="rotate(35.9 285.7 338.8)"/><ellipse cx="322.3" cy="342.9" rx="3.5" ry="1.8" transform="rotate(-53.2 322.3 342.9)"/><ellipse cx="250.3" cy="234.9" rx="3.5" ry="1.4" transform="rotate(-19.4 250.3 234.9)"/><ellipse cx="273.7" cy="309.3" rx="2.6" ry="2" transform="rotate(-10.5 273.7 309.3)"/><ellipse cx="362.1" cy="287.6" rx="3.2" ry="2.1" transform="rotate(30.6 362.1 287.6)"/><ellipse cx="269.8" cy="357.9" rx="4" ry="2" transform="rotate(54.9 269.8 357.9)"/><ellipse cx="351" cy="353.6" rx="3.9" ry="1.7" transform="rotate(-9 351 353.6)"/><ellipse cx="149.8" cy="34.9" rx="3.8" ry="1.7" transform="rotate(2.1 149.8 34.9)"/><ellipse cx="141.8" cy="34.3" rx="1.8" ry="2" transform="rotate(26.3 141.8 34.3)"/><ellipse cx="130.2" cy="8.4" rx="3.6" ry="2.2" transform="rotate(-21.2 130.2 8.4)"/><ellipse cx="150.2" cy="242.2" rx="2.7" ry="2.3" transform="rotate(52.2 150.2 242.2)"/><ellipse cx="346.9" cy="291.2" rx="1.9" ry="1.4" transform="rotate(39 346.9 291.2)"/><ellipse cx="334.1" cy="311.2" rx="2.6" ry="2.1" transform="rotate(34.4 334.1 311.2)"/></g><g fill="#1e3cff"><circle cx="35.8" cy="58.1" r="1.5"/><circle cx="15.2" cy="83.9" r="1.1"/><circle cx="47.8" cy="81.2" r="1.9"/><circle cx="21.5" cy="54.6" r="1.9"/><circle cx="39.9" cy="83.3" r="1.2"/><circle cx="3.1" cy="69.6" r="2"/><circle cx="22.6" cy="77.1" r="1.4"/><circle cx="52.3" cy="91.3" r="1.1"/><circle cx="40" cy="122.7" r="2.2"/><circle cx="4.2" cy="80.8" r="2"/><circle cx="35.8" cy="61.3" r="2"/><circle cx="43.1" cy="66.7" r="1.5"/><circle cx="51.9" cy="91.9" r="2"/><circle cx="7.7" cy="97.8" r="1.7"/><circle cx="16.2" cy="92.2" r="1.5"/><circle cx="48.4" cy="48.1" r="1.9"/><circle cx="10" cy="116.5" r="1.8"/><circle cx="28.6" cy="230.3" r="1.1"/><circle cx="90.8" cy="237.9" r="2.1"/><circle cx="52.4" cy="220.3" r="2.2"/><circle cx="56" cy="224.1" r="2"/><circle cx="78.1" cy="240.7" r="1.3"/><circle cx="15" cy="207.1" r="2"/><circle cx="45.3" cy="221.6" r="2"/><circle cx="64.8" cy="253.3" r="1.1"/><circle cx="76.7" cy="256.2" r="1.9"/><circle cx="160" cy="283.6" r="1.5"/><circle cx="126.3" cy="268.4" r="1.5"/><circle cx="118.2" cy="261.2" r="1.3"/><circle cx="51.7" cy="252.4" r="1.2"/><circle cx="115.7" cy="252.2" r="1.2"/><circle cx="44.1" cy="213.8" r="1.7"/><circle cx="150.2" cy="282.3" r="2"/><circle cx="105.6" cy="272.9" r="1.9"/><circle cx="35.8" cy="191.5" r="1.2"/><circle cx="132" cy="261.3" r="1.7"/><circle cx="58" cy="243.7" r="2.1"/><circle cx="13.8" cy="218" r="1.7"/><circle cx="131.2" cy="264.9" r="1.2"/><circle cx="82.9" cy="266.3" r="1.6"/><circle cx="130.6" cy="269.2" r="1.7"/><circle cx="155.2" cy="276.9" r="1.6"/><circle cx="58.6" cy="205.8" r="2.2"/><circle cx="40.7" cy="189.2" r="2.2"/><circle cx="126.6" cy="259" r="1.7"/><circle cx="104" cy="261.2" r="1.1"/><circle cx="15.5" cy="228.1" r="2"/><circle cx="66.1" cy="252" r="1.9"/><circle cx="49" cy="238.3" r="2.1"/><circle cx="12.4" cy="272.1" r="2.1"/><circle cx="8" cy="277.6" r="1.5"/><circle cx="6.9" cy="250.7" r="1.4"/><circle cx="6.1" cy="247.4" r="1.4"/><circle cx="13" cy="282.5" r="1.1"/><circle cx="14.2" cy="259.2" r="1.7"/><circle cx="17.1" cy="273.8" r="1"/><circle cx="172.5" cy="332.3" r="2.2"/><circle cx="44.6" cy="300" r="1.4"/><circle cx="39.9" cy="285.2" r="1.2"/><circle cx="179.1" cy="281" r="1.3"/><circle cx="141.6" cy="277.3" r="1.9"/><circle cx="5.6" cy="316.4" r="1.6"/><circle cx="18.9" cy="295.6" r="1.3"/><circle cx="159.2" cy="281.4" r="1.8"/><circle cx="1.9" cy="325.5" r="2"/><circle cx="0.6" cy="315.5" r="1.7"/><circle cx="165.7" cy="355.5" r="1.1"/><circle cx="61.7" cy="352.3" r="1.3"/><circle cx="177.3" cy="298.1" r="1.6"/><circle cx="44.4" cy="317.6" r="1.1"/><circle cx="111.6" cy="282" r="1.5"/><circle cx="187.9" cy="370.2" r="1.9"/><circle cx="5.3" cy="295.4" r="1.3"/><circle cx="43.2" cy="311.3" r="2.1"/><circle cx="160" cy="320.1" r="1.1"/><circle cx="38.8" cy="327.5" r="1.4"/><circle cx="135.8" cy="300.8" r="1.7"/><circle cx="184.9" cy="291.4" r="1.3"/><circle cx="112.5" cy="325.2" r="1.2"/><circle cx="35.6" cy="278.3" r="1.8"/><circle cx="18.5" cy="347.5" r="1.4"/><circle cx="122.4" cy="279" r="2.2"/><circle cx="363.9" cy="247.9" r="1.9"/><circle cx="395.2" cy="213.9" r="1.3"/><circle cx="339.8" cy="314.1" r="1.4"/><circle cx="398.8" cy="248.4" r="1.1"/><circle cx="357.1" cy="348.6" r="1.9"/><circle cx="408.5" cy="318.6" r="2.2"/><circle cx="409.9" cy="321.2" r="2"/><circle cx="399.6" cy="327.9" r="1.8"/><circle cx="391.3" cy="346.8" r="2.1"/><circle cx="396.5" cy="244.4" r="1.2"/><circle cx="368.3" cy="306" r="1.5"/><circle cx="373.7" cy="326" r="1.2"/><circle cx="390.7" cy="294.2" r="1.5"/><circle cx="408.4" cy="316.7" r="1.6"/><circle cx="370.6" cy="279.7" r="1.5"/><circle cx="367.2" cy="271.7" r="1.2"/><circle cx="356.9" cy="283" r="1.3"/><circle cx="377.9" cy="334.4" r="1"/><circle cx="374.4" cy="355.6" r="1.4"/><circle cx="371.4" cy="345.1" r="1.6"/><circle cx="353" cy="337.7" r="1.4"/><circle cx="362.1" cy="217.5" r="1.4"/><circle cx="361.3" cy="248" r="1.4"/><circle cx="416.9" cy="248.8" r="1.7"/><circle cx="358.2" cy="297.8" r="1.3"/><circle cx="374.8" cy="217.7" r="2.2"/><circle cx="401.5" cy="351" r="1.5"/><circle cx="364.1" cy="277.3" r="1"/><circle cx="360.4" cy="361.2" r="1.6"/><circle cx="356.8" cy="334.3" r="1.6"/><circle cx="396.9" cy="285.5" r="2.1"/><circle cx="377.3" cy="308.6" r="1.3"/><circle cx="414.8" cy="307.2" r="1.8"/><circle cx="397.7" cy="297.4" r="2.2"/><circle cx="355.2" cy="283.3" r="1.6"/><circle cx="391" cy="321.7" r="1.3"/><circle cx="375.1" cy="348.8" r="2"/><circle cx="361.4" cy="281.1" r="2.2"/><circle cx="409.2" cy="220.6" r="1.8"/><circle cx="354.8" cy="305.2" r="1.7"/><circle cx="366.4" cy="358.3" r="1.4"/><circle cx="348.8" cy="314.2" r="1.3"/><circle cx="403.6" cy="348.8" r="1.9"/><circle cx="403.8" cy="316" r="1.9"/><circle cx="364" cy="264.1" r="1.3"/><circle cx="379.7" cy="298" r="1.1"/><circle cx="400.2" cy="234.3" r="1.8"/><circle cx="395.3" cy="237" r="1.5"/><circle cx="382.3" cy="343.6" r="1.5"/><circle cx="413" cy="239.2" r="1.9"/><circle cx="388.7" cy="287.7" r="1.1"/><circle cx="390.1" cy="253.3" r="2.1"/><circle cx="378.3" cy="274.5" r="1.3"/><circle cx="388.2" cy="326.7" r="1"/><circle cx="370.1" cy="237.2" r="1.2"/><circle cx="391.6" cy="249.4" r="1.9"/><circle cx="375.1" cy="334.8" r="1.8"/><circle cx="173.4" cy="87" r="2.1"/><circle cx="172.5" cy="95.6" r="1.6"/><circle cx="194.8" cy="81.9" r="2"/><circle cx="186.7" cy="74.9" r="1.6"/><circle cx="233.3" cy="103.7" r="1.3"/><circle cx="236.4" cy="96.8" r="1.1"/><circle cx="240.2" cy="100.3" r="1.1"/><circle cx="373.8" cy="288.3" r="1.6"/><circle cx="227.3" cy="299.3" r="1.6"/><circle cx="359.1" cy="263.7" r="1.6"/><circle cx="360.5" cy="307.2" r="1.8"/><circle cx="261" cy="361.7" r="1.3"/><circle cx="232.3" cy="239.3" r="1.2"/><circle cx="288.4" cy="320.7" r="1.6"/><circle cx="267.9" cy="278.2" r="1.9"/><circle cx="305" cy="263.4" r="1.6"/><circle cx="266.3" cy="256.9" r="1.1"/><circle cx="224.9" cy="216.9" r="2.2"/><circle cx="196.8" cy="366.2" r="1.8"/><circle cx="292.6" cy="258.1" r="1.8"/><circle cx="213.5" cy="339.2" r="1.5"/><circle cx="139.3" cy="19.2" r="1.4"/><circle cx="139.3" cy="2.6" r="1.1"/><circle cx="142.3" cy="4" r="1.5"/><circle cx="154.7" cy="33" r="1.5"/><circle cx="283.3" cy="14.8" r="1.4"/><circle cx="265.9" cy="35.1" r="2.1"/><circle cx="279.7" cy="35.2" r="2.1"/><circle cx="275.4" cy="26.5" r="1.3"/><circle cx="186.9" cy="175" r="1.9"/><circle cx="145.9" cy="236.3" r="1.9"/><circle cx="158" cy="218.2" r="1.3"/><circle cx="136.8" cy="211.9" r="1.4"/><circle cx="154.3" cy="179" r="1.3"/><circle cx="157.3" cy="172.1" r="1.9"/><circle cx="152.4" cy="241.1" r="1"/><circle cx="148.3" cy="203.2" r="1.5"/><circle cx="202.4" cy="215.6" r="2.1"/><circle cx="323.4" cy="298.4" r="1.9"/><circle cx="339.7" cy="293.6" r="1.1"/><circle cx="327.6" cy="265.2" r="1.4"/><circle cx="370.1" cy="325.9" r="2"/><circle cx="335.1" cy="305.9" r="2"/><circle cx="315.2" cy="272.1" r="2"/><circle cx="334.6" cy="295.4" r="1.5"/><circle cx="360.6" cy="277.3" r="1.4"/><circle cx="335.1" cy="283.6" r="1.1"/><circle cx="341.5" cy="284.3" r="1.1"/><circle cx="335.2" cy="289.9" r="1.1"/><circle cx="355.4" cy="295.4" r="1.2"/></g><use href="#bm"/><path d="M267.2 160.3c1 1.8 2.7 7.7 6.2 10.5 3.5 2.8 9.4 5.5 14.6 6.2 5.2 .7 11.8-.4 16.7-2.1 4.9-1.7 11.1-5.2 12.5-8.3 1.4-3.1-.7-7.6-4.2-10.4-3.5-2.8-11.1-5.6-16.7-6.3-5.5-.7-11.7 .4-16.6 2.1-4.9 1.7-10.4 6.9-12.5 8.3M246.3 160.3c0 1.4-2.1 4.2 0 8.4 2.1 4.2 5.6 12.4 12.5 16.6 7 4.2 19.5 7.7 29.2 8.4 9.7 .7 20.9-1.4 29.2-4.2 8.3-2.8 16.6-6.9 20.8-12.5 4.2-5.6 7-14.6 4.2-20.8-2.8-6.3-12.6-13.2-20.9-16.7-8.3-3.5-19.4-4.9-29.1-4.2-9.7 .7-21.6 4.2-29.2 8.4-7.7 4.2-13.9 13.8-16.7 16.6M233.8 152c-.3 3.5-4.1 13.2-2 20.8 2.1 7.6 6.5 18.8 14.5 25 8 6.3 21.6 11.1 33.4 12.5 11.8 1.4 25.7-1.3 37.5-4.1 11.8-2.8 25-6.3 33.3-12.5 8.3-6.3 15.3-16.7 16.7-25 1.4-8.3-2.1-17.4-8.4-25-6.2-7.7-18-16.7-29.1-20.9-11.1-4.2-25-4.8-37.5-4.1-12.5 .7-27.8 2.8-37.5 8.3-9.7 5.6-17.4 20.8-20.9 25M225.5 135.3c-1.4 6.3-9 26.4-8.3 37.5 .7 11.1 4.9 20.9 12.5 29.2 7.6 8.3 20.8 17 33.3 20.8 12.5 3.8 27.8 3.5 41.7 2.1 13.9-1.4 29.1-5.2 41.6-10.4 12.5-5.2 25.8-11.8 33.4-20.8 7.6-9 13.2-22.3 12.5-33.4-.7-11.1-7.7-23.9-16.7-33.3-9-9.4-23.6-18.4-37.5-22.9-13.9-4.5-31.2-5.2-45.8-4.2-14.6 1-30.6 4.5-41.7 10.4-11.1 5.9-20.8 20.8-25 25M204.7 143.7c-.7 4.8-4.9 19.4-4.2 29.1 .7 9.7 3.4 20.2 8.3 29.2 4.9 9 11.9 18.8 20.9 25 9 6.2 20.8 10.4 33.3 12.5 12.5 2.1 27.8 1.4 41.7 0 13.9-1.4 28.4-4.1 41.6-8.3 13.2-4.2 27.1-9 37.5-16.7 10.4-7.7 20.1-18.1 25-29.2 4.9-11.1 7-25 4.2-37.5-2.8-12.5-11.1-27.1-20.8-37.5-9.7-10.4-24.3-19.5-37.5-25-13.2-5.5-34.8-6.9-41.7-8.3M196.3 122.8c-2.8 4.9-13.1 18.8-16.6 29.2-3.5 10.4-4.9 22.2-4.2 33.3 .7 11.1 3.4 23.7 8.3 33.4 4.9 9.7 10.5 18.7 20.9 25 10.4 6.2 26.3 10.1 41.6 12.5 15.3 2.4 33.3 2.7 50 2 16.7-.7 34.7-3.1 50-6.2 15.3-3.1 29.6-6.9 41.7-12.5 12.1-5.6 26-17.3 31.2-20.8M188 97.8c-3.5 4.2-14.6 16-20.8 25-6.3 9-13.2 18.8-16.7 29.2-3.5 10.4-4.9 21.5-4.2 33.3 .7 11.8 2.8 26.4 8.4 37.5 5.6 11.1 13.9 21.5 25 29.2 11.1 7.6 26.3 12.9 41.6 16.7 15.3 3.8 31.9 5.5 50 6.2 18.1 .7 40.3-.4 58.4-2.1 18.1-1.7 35.1-4.8 50-8.3 14.9-3.5 32.9-10.4 39.5-12.5M117.2 147.8c-.7 6.3-4.9 25.7-4.2 37.5 .7 11.8 3.4 22.3 8.3 33.4 4.9 11.1 11.2 24.3 20.9 33.3 9.7 9 22.9 15.2 37.5 20.8 14.6 5.6 30.6 9.7 50 12.5 19.4 2.8 44.4 4.2 66.6 4.2 22.2 0 46.2-2.8 66.7-4.2 20.5-1.4 46.8-3.4 56.2-4.1M.5 218.7c3.5 4.2 12.5 17.4 20.8 25 8.3 7.6 18.1 14.5 29.2 20.8 11.1 6.3 24.3 12.2 37.5 16.7 13.2 4.5 26.4 7.6 41.7 10.4 15.3 2.8 31.9 4.5 50 6.2 18.1 1.7 38.9 3.5 58.3 4.2 19.4 .7 38.2 .4 58.3 0 20.1-.4 42-1.4 62.5-2.1 20.5-.7 50.3-1.8 60.4-2.1M.5 260.3c4.9 3.5 18.1 15 29.2 20.9 11.1 5.9 23.6 10.4 37.5 14.6 13.9 4.2 29.8 7.6 45.8 10.4 16 2.8 31.9 4.8 50 6.2 18.1 1.4 37.5 1.7 58.3 2.1 20.8 .4 44.5 .4 66.7 0 22.2-.4 44.8-1.7 66.7-2.1 21.9-.4 53.7 0 64.5 0M.5 285.3c5.5 2.8 20.8 11.8 33.3 16.7 12.5 4.9 26.4 9 41.7 12.5 15.3 3.5 32.6 6.2 50 8.3 17.4 2.1 34.1 3.5 54.2 4.2 20.1 .7 43.7 .4 66.6 0 22.9-.4 42.1-2.1 70.9-2.1 28.8 0 85 1.7 102 2.1M.5 310.3c6.3 2.1 22.9 8.7 37.5 12.5 14.6 3.8 32.6 8 50 10.4 17.4 2.4 34.7 3.1 54.2 4.2 19.4 1 40.3 2.1 62.5 2.1 22.2 0 47.2-1.7 70.8-2.1 23.6-.4 46.9-.4 70.8 0 23.9 .4 60.8 1.7 72.9 2.1M.5 347.8c7.6 0 29.1-.3 45.8 0 16.7 .3 35.5 1.7 54.2 2.1 18.7 .3 38.2 0 58.3 0 20.1 0 39.6 .3 62.5 0 22.9-.4 48.6-2.1 75-2.1 26.4 0 62.9 1.4 83.4 2.1 20.5 .7 32.9 1.7 39.5 2.1M.5 368.7c9-1.1 34.1-5.3 54.2-6.3 20.1-1.1 43 .4 66.6 0 23.6-.4 48.6-1.4 75-2.1 26.4-.7 55.6-2.4 83.4-2.1 27.8 .3 60.1 3.1 83.3 4.2 23.2 1 46.8 1.7 56.2 2.1M4.7 177c2.1 4.2 6.2 16 12.5 25 6.2 9 16 20.9 25 29.2 9 8.3 18 14.6 29.1 20.8 11.1 6.2 24.3 12.2 37.5 16.7 13.2 4.5 34.8 8.7 41.7 10.4M54.7 152c2.8 5.6 10.3 22.9 16.6 33.3 6.2 10.4 12.6 20.2 20.9 29.2 8.3 9 18.7 18.1 29.1 25 10.4 6.9 20.9 12.2 33.4 16.7 12.5 4.5 26.3 8.3 41.6 10.4 15.3 2.1 41.7 1.8 50 2.1M100.5 131.2c1.4 4.8 4.1 18.7 8.3 29.1 4.2 10.4 10.4 23.7 16.7 33.4 6.3 9.7 12.5 17.4 20.8 25 8.3 7.6 18.8 16 29.2 20.8 10.4 4.8 27.7 6.9 33.3 8.3M46.3 72.8c-.4 2.1-3.1 9-2.1 12.5 1 3.5 5.3 7.7 8.4 8.4 3.1 .7 8-.7 10.4-4.2 2.4-3.5 4.9-12.5 4.2-16.7-.7-4.2-4.9-8.3-8.4-8.3-3.5 0-10.4 6.9-12.5 8.3M29.7 60.3c-.7 3.5-5.2 14.7-4.2 20.9 1 6.3 6.2 12.8 10.4 16.6 4.2 3.8 9.4 6.3 14.6 6.3 5.2 0 12.2-2.5 16.7-6.3 4.5-3.8 9-10.3 10.4-16.6 1.4-6.2 1-15.7-2.1-20.9-3.1-5.2-11.2-9-16.7-10.4-5.6-1.4-11.7 .4-16.6 2.1-4.8 1.7-10.4 6.9-12.5 8.3M13 6.2c2.1 2.8 6.9 11.8 12.5 16.6 5.6 4.8 17.3 10.4 20.8 12.5M196.3 52c-.7 1.7-4.8 7.6-4.1 10.4 .7 2.8 4.8 5.6 8.3 6.3 3.5 .7 9.7 0 12.5-2.1 2.8-2.1 4.9-7.3 4.2-10.4-.7-3.1-4.9-7.7-8.4-8.4-3.5-.7-10.4 3.5-12.5 4.2M179.7 47.8c0 2.8-2.1 11.8 0 16.7 2.1 4.9 6.9 10.1 12.5 12.5 5.6 2.4 14.9 3.5 20.8 2.1 5.9-1.4 11.8-5.9 14.6-10.4 2.8-4.5 3.8-11.5 2.1-16.7-1.7-5.2-6.9-12.2-12.5-14.6-5.6-2.4-14.6-1.7-20.9 0-6.2 1.7-13.8 8.7-16.6 10.4M163 39.5c-.3 2.8-3.1 10.8-2.1 16.7 1 5.9 3.8 13.2 8.3 18.7 4.5 5.6 11.5 11.8 18.8 14.6 7.3 2.8 17.4 4.2 25 2.1 7.6-2.1 15.9-8 20.8-14.6 4.9-6.6 8.4-17.4 8.4-25 0-7.6-2.8-15.6-8.4-20.8-5.6-5.2-16-9.3-25-10.4-9-1-21.5 1-29.1 4.1-7.6 3.1-13.9 12.2-16.7 14.6M150.5 31.2c-2.1-.7-8.3-4.9-12.5-4.2-4.2 .7-10.4 6.9-12.5 8.3" fill="none" stroke="#000" stroke-width="1.2"/><path d="M271.6,167.8L268.2,165.4L271.2,163.6ZM314.6,160.2L317.7,163.1L314.4,164.4ZM256.9,182.7L253.2,180.7L256,178.6ZM312.1,190.2L308.6,192.5L308.1,189ZM336.4,151.6L340.5,152.6L338.3,155.3ZM283.3,137.9L286.5,135.1L287.4,138.5ZM242.9,191.9L239.4,189.5L242.5,187.7ZM295.1,208.6L291.5,210.8L291.1,207.3ZM350.6,193.5L350,197.6L347,195.7ZM357.3,142.6L361.5,143.4L359.4,146.3ZM305.8,120.2L309.8,118.8L309.4,122.4ZM250.9,131.5L252,127.4L254.7,129.7ZM222.5,148.8L221.6,144.7L225.1,145.5ZM231.1,202.9L226.9,202.4L228.8,199.4ZM283.3,223.8L279.4,225.4L279.6,221.9ZM340.2,216L336.9,218.7L336.1,215.2ZM384,182.1L384.3,186.3L381,185ZM376.6,129.2L379.9,131.8L376.7,133.4ZM326.5,103L330.4,101.6L330.1,105.1ZM269.3,105.6L272.6,103L273.5,106.4ZM200.9,174.3L198.2,171.1L201.6,170.1ZM227.5,224.4L223.7,222.6L226.4,220.4ZM282,239.5L278.2,241.3L278.2,237.7ZM339.3,232.6L336,235.1L335.3,231.6ZM390.2,207L389.1,211.1L386.4,208.8ZM412.1,156.1L413.4,160.1L409.9,159.7ZM386.5,106.6L390.7,107.2L388.7,110.2ZM335.3,81.5L339.4,80.5L338.7,84ZM177.9,166.4L176.6,162.4L180.1,162.9ZM186.8,222.2L183,220.4L185.7,218.1ZM233.5,252.3L229.3,252.9L230.3,249.5ZM290.8,258L287,259.6L287.1,256.1ZM348.4,251.4L345.2,254.2L344.2,250.8ZM401.8,230.3L399.6,233.9L397.7,230.9ZM175.9,112.4L177,108.3L179.7,110.6ZM149.2,162.7L147.9,158.7L151.4,159.1ZM154,219.7L151.4,216.3L154.9,215.6ZM194.8,258.1L190.7,258.3L192,255ZM250.6,272.3L246.6,273.6L247,270.1ZM308.4,273.6L304.7,275.5L304.5,272ZM365.9,266.8L362.4,269.2L361.8,265.7ZM113.2,183.7L111.8,179.7L115.4,180.1ZM133,237.3L129.5,235L132.5,233.1ZM177.7,271.8L173.5,271.5L175.3,268.4ZM233.9,285.6L230,287.1L230.2,283.6ZM291.8,289.2L287.9,290.7L288.1,287.2ZM349.7,286.2L346,288.2L345.8,284.6ZM407.5,282L403.9,284.1L403.6,280.5ZM38.2,255.7L34,254.9L36.1,252ZM89.8,281.6L85.6,282.4L86.5,279ZM146.4,293.7L142.4,295L142.9,291.4ZM204.1,299.6L200.2,301.1L200.4,297.5ZM262,302L258.2,303.8L258.2,300.2ZM320,301.2L316.2,303.1L316.1,299.6ZM378,299.3L374.2,301.2L374.1,297.6ZM20,274.3L15.9,273.5L18,270.6ZM73,297.1L68.8,298L69.6,294.5ZM129.8,308.3L125.8,309.6L126.2,306ZM187.5,313.3L183.7,314.9L183.8,311.4ZM245.5,314.5L241.7,316.3L241.7,312.7ZM303.5,314L299.7,315.9L299.6,312.4ZM361.5,312.4L357.7,314.2L357.7,310.6ZM37.6,303.1L33.4,303.7L34.4,300.3ZM93.7,317.5L89.6,318.7L90.2,315.2ZM151.1,324.8L147.2,326.3L147.5,322.7ZM209.1,327L205.3,328.8L205.3,325.2ZM267.1,326.4L263.3,328.3L263.2,324.7ZM325,325.1L321.2,326.8L321.3,323.2ZM383,326.3L379.2,328L379.2,324.4ZM11.8,314.1L7.7,314.6L8.8,311.2ZM67.8,329L63.7,330L64.4,326.5ZM125.2,336.1L121.3,337.6L121.6,334.1ZM183.2,338.8L179.3,340.4L179.4,336.9ZM241.1,338.4L237.4,340.3L237.3,336.8ZM299.1,337.4L295.3,339.2L295.3,335.6ZM357.1,337.7L353.3,339.4L353.4,335.8ZM415.1,339.4L411.2,341L411.3,337.5ZM29.6,347.8L25.8,349.6L25.8,346.1ZM87.6,349.4L83.7,351L83.9,347.5ZM145.6,349.9L141.8,351.7L141.8,348.1ZM203.6,349.9L199.8,351.7L199.8,348.1ZM261.6,348.8L257.8,350.7L257.7,347.1ZM319.5,348.4L315.7,350.1L315.8,346.5ZM377.5,349.9L373.7,351.5L373.8,348ZM46.5,363.4L42.9,365.6L42.5,362ZM104.4,362.4L100.6,364.2L100.6,360.6ZM162.4,361.3L158.7,363.2L158.6,359.6ZM220.4,359.7L216.6,361.6L216.5,358.1ZM278.4,358.3L274.6,360.2L274.5,356.6ZM336.3,361.1L332.4,362.7L332.6,359.1ZM394.2,363.6L390.4,365.2L390.5,361.7ZM12.3,192.3L9,189.6L12.2,188.1ZM49.2,236.2L45.1,235.4L47.2,232.6ZM99.5,264.5L95.3,264.6L96.8,261.4ZM70,182.6L66.7,180L69.9,178.4ZM106.7,226.9L102.6,225.8L104.9,223.1ZM156.1,256.5L151.9,257.3L152.8,253.9ZM212.8,267.3L208.9,268.9L209.1,265.3ZM118.2,179.2L115,176.6L118.1,175ZM153.9,224L149.7,223.3L151.8,220.4ZM206,247.1L201.8,247.9L202.7,244.5ZM51,92L47,90.6L49.5,88.1ZM35.1,96.5L31.6,94.2L34.6,92.3ZM77.3,78.1L79.4,81.7L75.9,82ZM39.1,54.1L41.3,50.5L43.2,53.4ZM19.1,14.2L15.4,12.3L18.2,10.1ZM206,67.7L202.6,70.1L202,66.6ZM202.2,78L198.2,79.4L198.6,75.9ZM221.6,42.6L225.4,44.3L222.7,46.6ZM161.1,54.6L159.8,50.6L163.3,51ZM200.1,90.5L196.1,92L196.4,88.4ZM240,58.4L240.5,62.6L237.1,61.4ZM207.1,21L210.6,18.7L211.1,22.2Z" fill="#000" stroke="#000" stroke-width="0.6"/><path d="M421.2 31c-3.5-1.3-14.3-5-21.2-7.9-6.9-2.9-13.3-6.4-20-9.3-6.7-2.9-16.7-6.8-20-8.2M421.2 43.9c-3.5-1.3-13.5-4.5-21.2-7.7-7.7-3.1-16.7-8.3-25-11.2-8.3-2.9-17.7-4.7-25-6.2-7.3-1.5-12.6-2.2-18.8-2.6-6.3-.4-12.7 1.2-18.7 0-6-1.2-14.6-6.2-17.5-7.4M421.2 56.5c-3.5-1.5-14.5-5.8-21.2-9-6.7-3.2-11.5-7.1-18.8-10-7.3-2.9-16.7-6.1-25-7.5-8.3-1.4-17.3-1.2-25-1.2-7.7 0-13.9 1-21.2 1.2-7.3 .2-17.5 1-22.5 0-5-1-4.2-3.7-7.5-6.2-3.3-2.5-9.8-6.1-12.5-8.8-2.7-2.7-3.1-6.2-3.7-7.5M421.2 68.6c-3.5-1.6-15.2-6.7-21.2-9.8-6-3.1-8.8-6.3-15-8.8-6.2-2.5-14.6-5-22.5-6.2-7.9-1.3-16.7-1.3-25-1.3-8.3 0-18.3 .9-25 1.3-6.7 .4-9.6 .6-15 1.2-5.4 .6-12.1 1.2-17.5 2.5-5.4 1.3-10 2.1-15 5-5 2.9-10.6 9.6-15 12.5-4.4 2.9-9.3 4.2-11.2 5M421.2 140.8c-3.5-4.7-16.4-21.5-21.2-28.3-4.8-6.8-3.8-8.7-7.5-12.5-3.7-3.8-8.7-7.1-15-10-6.3-2.9-15-5.6-22.5-7.5-7.5-1.9-15.4-2.9-22.5-3.7-7.1-.8-13.3-1.3-20-1.3-6.7 0-12.9-.2-20 1.3-7.1 1.4-15.4 4.7-22.5 7.4-7.1 2.7-13.3 5.9-20 8.8-6.7 2.9-13.8 6.1-20 8.8-6.2 2.7-12.5 5.7-17.5 7.4-5 1.7-10.4 2.2-12.5 2.6M385 150c-.8-2.5-2.1-10-5-15-2.9-5-7.5-10.8-12.5-15-5-4.2-11.3-7.3-17.5-10-6.2-2.7-13.3-4.5-20-6.2-6.7-1.7-13.3-3.4-20-3.8-6.7-.4-13.3-.3-20 1.2-6.7 1.5-13.3 4.7-20 7.6-6.7 2.9-13.3 6-20 10-6.7 4-13.8 9.3-20 13.7-6.2 4.4-14.6 10.4-17.5 12.5M366.2 150c-1-1.9-3.1-7.7-6.2-11.2-3.1-3.5-7.5-6.9-12.5-10-5-3.1-11.3-6.5-17.5-8.8-6.2-2.3-13.3-4.4-20-5-6.7-.6-13.3-.5-20 1.2-6.7 1.7-13.8 5.3-20 8.8-6.2 3.6-12.9 8.3-17.5 12.5-4.6 4.2-8.3 10.4-10 12.5M347.5 150c-1.7-1.9-5.4-7.9-10-11.2-4.6-3.3-11.3-6.9-17.5-8.8-6.2-1.9-13.3-3.3-20-2.5-6.7 .8-16.7 6.3-20 7.5M200 25c1.7 1.2 7.1 4.6 10 7.5 2.9 2.9 5.8 6.3 7.5 10 1.7 3.7 2.9 8.7 2.5 12.5-.4 3.8-2.5 7.5-5 10-2.5 2.5-8.3 4.2-10 5M215 6.2c1.7 2.3 7.5 8.6 10 13.8 2.5 5.2 4.6 11.7 5 17.5 .4 5.8-2.5 13.7-2.5 17.5 0 3.8 2.1 4.2 2.5 5M200 73.8c2.5-.2 10-.3 15-1.3 5-1 10.4-2.7 15-5 4.6-2.3 8.8-5.8 12.5-8.7 3.7-2.9 7.1-6.1 10-8.8 2.9-2.7 5.8-3.3 7.5-7.5 1.7-4.2 2.1-11.7 2.5-17.5 .4-5.8 0-14.6 0-17.5M200 86.2c2.9-.4 12.1-1 17.5-2.4 5.4-1.5 10-3.6 15-6.3 5-2.7 10.4-6.9 15-10 4.6-3.1 10.4-7.3 12.5-8.7" fill="none" stroke="#000" stroke-width="1.2"/><path d="M413.9,28.3L418.1,27.9L416.9,31.3ZM366.1,8.1L370.3,7.9L368.9,11.2ZM399.4,36L403.6,35.9L402.2,39.2ZM350.6,18.9L354.7,18.1L353.8,21.5ZM299.8,10.8L304,10.7L302.6,14ZM386.3,40.2L390.5,40.4L388.8,43.6ZM336.1,29L340,27.4L339.8,31ZM284.9,27.9L289,28.9L286.7,31.7ZM410,63.4L414.2,63.4L412.7,66.6ZM362.3,43.7L366.2,42.2L366,45.7ZM310.3,43.9L314,41.8L314.3,45.4ZM260.7,56.1L262.5,52.3L264.7,55ZM404.6,118.6L408.3,120.5L405.4,122.7ZM366.3,86.3L370.5,85.8L369.3,89.2ZM315.2,77.7L319.2,76.1L318.9,79.7ZM265,88.5L267.7,85.3L269.2,88.6ZM217.3,109.2L220.1,106.1L221.5,109.3ZM360.7,116.1L364.9,116.5L363.1,119.5ZM311.6,100.3L315.7,99.3L315,102.7ZM262,112.8L264.6,109.5L266.2,112.6ZM218.3,140.8L220.4,137.2L222.5,140.1ZM356.8,136.2L360.9,137.2L358.7,140ZM310.1,115L314.2,114.2L313.4,117.7ZM261.8,130.8L263.9,127.2L266,130.1ZM322,131L326.2,131.1L324.6,134.3ZM215.5,63.9L215.6,59.7L218.8,61.3ZM226.2,24.4L223.5,21.2L226.9,20.2ZM235,64L232.9,67.7L230.8,64.8ZM262.5,23.8L264.3,27.6L260.7,27.6ZM210.6,84.7L207.1,87L206.6,83.5ZM256.3,61.3L254.2,65L252.2,62.1Z" fill="#000" stroke="#000" stroke-width="0.6"/>
</g>
<rect x="0" y="0" width="420" height="373" fill="none" stroke="#000" stroke-width="2"/>
<path d="M-4,23.2h4M-4,58.1h4M-4,93h4M-4,127.9h4M-4,162.8h4M-4,197.6h4M-4,232.5h4M-4,267.4h4M-4,302.2h4M-4,337.1h4M-4,372h4M0,373v4M50,373v4M100,373v4M150,373v4M200,373v4M250,373v4M300,373v4M350,373v4M400,373v4" stroke="#000" stroke-width="1.8" fill="none"/>
<text x="-5.8" y="27.1" class="tk" text-anchor="end" textLength="17.5" lengthAdjust="spacingAndGlyphs">12S</text>
<text x="-5.8" y="62" class="tk" text-anchor="end" textLength="17.5" lengthAdjust="spacingAndGlyphs">15S</text>
<text x="-5.8" y="96.9" class="tk" text-anchor="end" textLength="17.5" lengthAdjust="spacingAndGlyphs">18S</text>
<text x="-5.8" y="131.8" class="tk" text-anchor="end" textLength="17.5" lengthAdjust="spacingAndGlyphs">21S</text>
<text x="-5.8" y="166.7" class="tk" text-anchor="end" textLength="17.5" lengthAdjust="spacingAndGlyphs">24S</text>
<text x="-5.8" y="201.5" class="tk" text-anchor="end" textLength="17.5" lengthAdjust="spacingAndGlyphs">27S</text>
<text x="-5.8" y="236.4" class="tk" text-anchor="end" textLength="17.5" lengthAdjust="spacingAndGlyphs">30S</text>
<text x="-5.8" y="271.3" class="tk" text-anchor="end" textLength="17.5" lengthAdjust="spacingAndGlyphs">33S</text>
<text x="-5.8" y="306.1" class="tk" text-anchor="end" textLength="17.5" lengthAdjust="spacingAndGlyphs">36S</text>
<text x="-5.8" y="341" class="tk" text-anchor="end" textLength="17.5" lengthAdjust="spacingAndGlyphs">39S</text>
<text x="-5.8" y="375.9" class="tk" text-anchor="end" textLength="17.5" lengthAdjust="spacingAndGlyphs">42S</text>
<text x="0.4" y="385.6" class="tk" text-anchor="middle" textLength="18.3" lengthAdjust="spacingAndGlyphs">70W</text>
<text x="50.4" y="385.6" class="tk" text-anchor="middle" textLength="18.3" lengthAdjust="spacingAndGlyphs">65W</text>
<text x="100.4" y="385.6" class="tk" text-anchor="middle" textLength="18.3" lengthAdjust="spacingAndGlyphs">60W</text>
<text x="150.4" y="385.6" class="tk" text-anchor="middle" textLength="18.3" lengthAdjust="spacingAndGlyphs">55W</text>
<text x="200.4" y="385.6" class="tk" text-anchor="middle" textLength="18.3" lengthAdjust="spacingAndGlyphs">50W</text>
<text x="250.4" y="385.6" class="tk" text-anchor="middle" textLength="18.3" lengthAdjust="spacingAndGlyphs">45W</text>
<text x="300.4" y="385.6" class="tk" text-anchor="middle" textLength="18.3" lengthAdjust="spacingAndGlyphs">40W</text>
<text x="350.4" y="385.6" class="tk" text-anchor="middle" textLength="18.3" lengthAdjust="spacingAndGlyphs">35W</text>
<text x="400.4" y="385.6" class="tk" text-anchor="middle" textLength="18.3" lengthAdjust="spacingAndGlyphs">30W</text>
</g>
<rect x="98" y="1119" width="416.5" height="48" fill="#fff" stroke="#000" stroke-width="1.5"/>
<text x="118.3" y="1138.3" class="lg" textLength="377.9" lengthAdjust="spacingAndGlyphs">[OMEGA(-0.001) + UR&gt;70(1000-500) + k&gt;30_TTS&gt;45+LIF&lt;-1](vermelho) + LC(250)</text>
<text x="121.6" y="1151.2" class="lg" textLength="371.3" lengthAdjust="spacingAndGlyphs">[OMEGA(-0.001) + UR&gt;70(1000-500) + k&gt;30_TTS&gt;45](laranja) + [DIVG(250)](azul)</text>
<text x="738.7" y="716.3" class="t" font-size="20.6" textLength="126.3" lengthAdjust="spacingAndGlyphs">TEMPESTADE</text>
<g transform="translate(592,728)">
<g clip-path="url(#cp)">
<path d="M0 252.2l14-.8 14 2.6 24.5 5.2 17.5 3.6 17.5 4.3 17.5 3.5 17.5 .9 17.5 0 17.5-5.3 17.5-8.7 17.5-1.7 17.5-.9 38.5 2.6 14 3.5 10.5 7 24.5-7 35-10.5 35-7 14-3.5 17.5-5.2 21-3.6 0 141.8-362.2 0-12.3-7-8.7-5.2 3.4-5.3-8.7-7-14-10.5-10.5-10.5-7-7z" fill="#e6dc32"/><path d="M239.8 220.8l8.7-1.8 10.5 3.5 7 5.3 14-3.6 5.2-1.7 12.3 1.7 17.5-1.7 7-7 10.5 0 5.3 7-1.8 7 10.5-1.7 7 5.2 5.3 8.8 8.7 1.7 7 10.5 10.5-3.5 10.5-3.5 1.7 3.5-8.7 7 5.3 3.5 12.2 3.5 7 3.5 7 0 0 105-63 0-14-12.2-10.5-12.3-17.5-7-17.5-3.5-12.3-7-7-10.5-5.2-7 8.8-7-1.8-7-10.5-5.3 22.7-8.7 1.8-3.5 14-5.2 3.5-8.8-14-1.8-17.5-5.2-10.5-5.2-7-7-10.5-5.3-3.5-7-7-5.3zM234.5 373l3.5-7 14-3.5 14 5.3 3.5 5.2zM24.5 259.2l10.5-1.7 3.5 10.5-7 3.5-5.3-3.5zM21 278.5l5.2 1.7-1.7 3.6-3.5-.9zM17.5 310l7-1.8 1.7 7-7 1.8zM56 334.5l8.8-3.5 10.4 1.8 1.8 7-7 5.2-8.8-3.5zM66.5 170l10.5-7 28 0 3.5 10.5-10.5 7-10.5-1.7-5.3 5.2-8.7-1.8-7 5.3zM112 177l10.5-7 7 10.5 7 10.5-3.5 10.5-10.5-3.5-7-8.8zM162.8 229.5l12.2-3.5 14 1.8-3.5 5.2-17.5 0zM192.5 233l10.5-3.5 3.5 7-7 5.3-7-1.8zM266 313.5l14-1.7 0 8.7-7-1.7zM17.5 28l8.7-8.8 12.3 8.8 7-1.8 7 8.8 8.7 15.8 8.8 8.7 3.5 10.5 8.7 12.2 5.3 12.3 7 10.5 7 7-1.7 14 8.7 7 3.5 10.5 3.5 10.5-7 3.5-10.5-24.5-7-10.5-8.8-3.5-7 3.5-3.4-10.5-1.8-14-10.5-10.5-7-10.5-10.5-7-3.5-12.2-10.5-5.3-5.2-14z" fill="#00dc00"/><path d="M68.2 161l14 0 12.3 1.8 10.5 0 10.5 12.2 17.5 14 3.5 12.2-14 3.6-7-12.3-10.5-14-7-1.7-10.5 5.2-10.5 1.8-7 5.2-3.5-14zM108.5 140l7-1.8 1.7 14-5.2 3.6zM120.8 157.5l7-1.7 1.7 12.2-7 0z" fill="#00dc00" fill-opacity="0.55"/><path d="M381.5 254l14-1.8 3.5 5.3-14 3.5zM409.5 264.5l10.5-1.7 0 8.7-8.8 0zM402.5 283.8l15.7-1.8 0 7-14 0z" fill="#e6dc32"/><use href="#bm"/><path d="M80 35.3c.6 1-1.2 3.5-2.5 4.3-1.3 .9-3.5 .7-5.1 .8-1.6 .1-2.6 0-4.3-.4-1.7-.4-5.5-.9-5.8-1.9-.3-1 3.1-3.1 4.1-4.3 1-1.2 .6-1.9 1.7-3.1 1.1-1.2 4.1-4.5 5.1-4 1 .4-.2 5.3 .9 6.7 1.1 1.4 5.3 .9 5.9 1.9zM108.3 27c.4 1.1-.9 3.6-2.1 4-1.2 .4-3.4-1.8-5.1-1.3-1.8 .5-4.5 4.4-5.4 4.2-.9-.2-.1-4-.1-5.4-.1-1.4-.4-2-.2-3.1 .2-1.2 .3-3.1 1.3-3.8 1.1-.7 3.8-.7 5-.2 1.2 .5 1.2 2.3 2.3 3.2 1.1 .9 3.9 1.3 4.3 2.4zM138.2 60.3c-.3 1.2-3 2.1-4.2 3.1-1.2 .9-1.6 2-3.1 2.6-1.5 .6-4.5 1.5-5.7 .8-1.2-.7-1-3.3-1.2-4.7-.2-1.3 .3-1.8 .3-3.4 0-1.6-1.1-6-.1-6.2 1-.2 4.1 4.2 6.1 4.8 2 .6 4.4-1.9 5.7-1.4 1.3 .5 2.5 3.1 2.2 4.4zM172.9 77c-.7 1.1-5.7 .4-7 2-1.3 1.6 .2 7.1-.9 7.6-1.1 .5-4.3-3.1-5.6-4.4-1.3-1.3-1.1-2.1-2.1-3.5-1-1.4-4-3.4-3.7-4.6 .3-1.3 3.6-2.5 5.4-2.9 1.8-.4 3.3 .4 5.1 .6 1.8 .2 4.2-.5 5.7 .4 1.5 .9 3.8 3.7 3.1 4.8zM200.9 89.5c-.2 1.3 1.1 2.5 .5 3.5-.6 1-2.5 2.6-3.8 2.7-1.3 .1-3.3-1.1-4.2-1.9-.9-.8-.5-1.8-1.5-3-1-1.2-5.1-3.4-4.7-4.1 .4-.7 5.6 .5 7.3 .1 1.7-.5 1.6-2.5 3-2.8 1.4-.3 4.6 .2 5.2 1.1 .6 .9-1.6 3.1-1.8 4.4zM224.9 60.3c.1 1.7 4.4 4.3 4 5.3-.4 1-4.7 1.1-6.3 .8-1.7-.3-1.9-2.2-3.6-2.7-1.7-.5-6 .3-6.7-.6-.7-.9 1.6-3.5 2.6-4.7 1-1.2 2.1-1.7 3.4-2.4 1.3-.7 2.7-1.8 4.4-1.9 1.7-.1 5.3 .3 5.7 1.3 .4 1-3.6 3.2-3.5 4.9zM261.5 102c.4 1-.2 3.1-1.2 3.9-1 .8-3.3 1.2-4.6 1.1-1.3-.1-1.7-1.3-3.4-1.7-1.6-.4-6.2 .2-6.5-.6-.3-.7 3.8-2.7 4.8-3.9 1-1.2 .3-2 1.2-3 .9-1 3.4-3.5 4.4-3.2 1 .3 .7 4 1.6 5.2 .9 1.2 3.3 1.2 3.7 2.2zM280.4 77c.5 1.1-1.3 4-2.7 4.5-1.4 .5-3.8-1.7-5.7-1.2-1.9 .5-4.6 4.1-5.7 3.9-1.1-.2-1.1-3.8-1.2-5.3-.1-1.5 0-2.5 .4-3.7 .4-1.2 .9-2.7 2.1-3.6 1.2-1 4.2-2.6 5.3-2.1 1.1 .5 .2 4 1.5 5.3 1.2 1.2 5.4 1.1 6 2.2zM192.1 202c-.1 1.3-1.9 2.8-3.1 3.6-1.2 .7-2.5 .3-4.2 .9-1.7 .6-4.9 3.2-6 2.7-1.1-.5-.3-4-.4-5.5-.1-1.5 .1-1.7 .1-3.3 0-1.6-1-5.9 0-6.2 1-.3 4.2 3.7 6.1 4.3 1.9 .6 3.8-1.2 5.1-.6 1.2 .6 2.5 2.8 2.4 4.1zM217 168.7c-.5 .9-4.7 .4-5.8 1.6-1.1 1.2 .1 5.3-.8 5.7-.9 .4-3.5-2-4.6-3-1.1-1-1.3-1.8-1.9-2.8-.6-1.1-1.8-2.3-1.6-3.5 .2-1.2 1.5-3.4 2.7-3.6 1.2-.3 3 1.8 4.6 2.1 1.6 .3 3.6-1 4.8-.4 1.2 .6 3.1 3 2.6 3.9zM239.5 202c-.3 1.2-.9 1.7-1.6 2.8-.7 1.1-1.4 3.8-2.6 4-1.2 .3-3.5-1.6-4.4-2.5-.9-.9 0-1.9-1.1-3.1-1-1.2-5.6-3.3-5.2-4 .3-.7 5.6 .4 7.3 0 1.7-.4 1.8-2.4 3.1-2.6 1.3-.2 4.1 .4 4.8 1.3 .8 .9 0 2.9-.3 4.1zM257.2 185.3c0 1.4 3.6 3.3 3.3 4.1-.3 .8-3.5 .8-4.8 .6-1.3-.2-1.9-1.1-3.1-1.6-1.2-.5-3.3-.4-3.9-1.2-.7-.8-.7-2.9 0-3.7 .6-.8 2.7-.7 3.9-1.2 1.2-.5 1.8-1.5 3.1-1.7 1.3-.2 4.5-.2 4.8 .6 .3 .8-3.3 2.7-3.3 4.1zM73.6 135.3c.3 1.3 1.1 3.7 .2 4.7-.9 1-3.9 1.7-5.4 1.4-1.5-.2-1.4-2.4-3.4-2.9-2-.5-7.9 .8-8.3 0-.4-.8 4.7-3.3 5.9-4.6 1.2-1.3 .2-2.4 1.2-3.4 1-1 3.7-3.1 5-2.8 1.3 .3 2.1 3.2 2.9 4.5 .8 1.3 1.5 1.8 1.9 3.1zM54.5 147.8c.5 .9-1.4 3.3-2.6 3.9-1.2 .6-3.2-.7-4.8-.4-1.6 .3-3.5 2.4-4.7 2.1-1.2-.2-2.3-2.4-2.5-3.6-.2-1.2 .9-2.4 1.5-3.5 .6-1.1 .8-1.9 1.9-2.9 1.1-1 3.7-3.4 4.6-2.9 .9 .5-.3 4.5 .8 5.7 1.1 1.2 5.3 .7 5.8 1.6zM32.9 110.3c.1 1.2-1.1 3.2-2.2 3.7-1.1 .5-2.8-1-4.5-.5-1.7 .5-4.6 4-5.5 3.7-.9-.3 .1-4 .1-5.4 0-1.4-.1-1.6-.1-2.9 0-1.3-.6-4.6 .3-5 .9-.4 3.8 2 5.3 2.5 1.5 .5 2.7 0 3.8 .7 1.1 .7 2.7 2 2.8 3.2zM88.7 218.7c-.5 1.1-4.7 .9-5.9 2.1-1.2 1.3-.4 4.8-1.5 5.4-1.1 .6-4.2-1.1-5.4-2.1-1.2-1-1.6-2.5-2-3.7-.4-1.2-.6-2.1-.5-3.6 .1-1.5 .1-5.1 1.3-5.3 1.2-.2 3.8 3.5 5.7 3.9 1.9 .4 4.2-1.8 5.6-1.2 1.4 .6 3.2 3.4 2.7 4.5zM107.3 243.7c-.4 1-2.8 1-3.7 2.2-.9 1.2-.5 4.8-1.5 5.1-1 .3-3.6-2.1-4.5-3.1-1-1-.2-1.8-1.2-3-1-1.1-5.1-3.1-4.8-3.9 .3-.8 4.9-.3 6.6-.7 1.7-.4 2.1-1.6 3.4-1.7 1.3-.1 3.5 .2 4.5 1.1 .9 .8 1.6 3 1.2 4zM132.8 210.3c-.1 1.5 3.4 3.5 3.1 4.4-.3 .9-3.6 1.3-5.1 1.2-1.5-.1-2.6-1.1-3.8-1.7-1.2-.6-2.2-1.1-3.1-2.1-.9-1-2.8-3.4-2.2-4.2 .6-.8 4.4-.1 5.9-.6 1.5-.5 1.7-2 3.2-2.3 1.5-.3 5.3-.3 5.6 .6 .3 .9-3.5 3.2-3.6 4.7zM155.1 185.3c.2 1.3 2.3 3.5 1.7 4.4-.6 .9-3.7 1.4-5.1 1.1-1.4-.3-1.4-2.4-3.1-2.8-1.7-.4-6.9 .8-7.3 .1-.4-.7 3.8-2.9 4.8-4.1 1-1.2 .5-2.1 1.5-2.9 1-.8 2.9-2.1 4.2-2 1.3 .1 3.1 1.7 3.7 2.7 .6 1-.6 2.2-.4 3.5zM347 168.7c.6 1-1.6 3.5-2.9 4.3-1.3 .8-3.5 .2-5.1 .3-1.6 .2-3 .9-4.6 .6-1.6-.3-4.5-1.6-4.8-2.7-.3-1.1 2.4-2.9 3.2-4.1 .8-1.2 .7-1.9 1.9-3.1 1.2-1.2 4.1-4.4 5.1-3.9 1 .5-.4 5.3 .8 6.7 1.2 1.4 5.8 .9 6.4 1.9zM369.6 152c.3 1-.7 3-1.7 3.4-1 .4-2.9-1.4-4.4-1-1.5 .4-3.9 3.9-4.7 3.7-.8-.2 0-3.6 0-4.8 0-1.2-.3-1.5-.2-2.6 .1-1.1 0-3.3 .9-3.8 .9-.5 3.3 .3 4.4 .7 1.1 .4 1.5 1.3 2.5 2 .9 .7 3 1.4 3.2 2.4zM391.6 131.2c-.4 1.1-3.2 1.5-4.3 2.4-1.1 .9-1.1 2.7-2.3 3.2-1.2 .5-3.8 .5-4.9-.2-1-.7-1.2-2.8-1.4-3.9-.2-1.2 .1-1.6 .2-3 .1-1.4-.7-5.2 .2-5.4 .9-.2 3.6 3.7 5.3 4.2 1.7 .5 3.9-1.7 5.1-1.3 1.2 .5 2.5 2.9 2.1 4zM319.7 185.3c-.4 .8-3.6 .5-4.5 1.6-.9 1.1 0 4.8-.8 5.1-.8 .3-3-2.1-3.9-3-.9-.9-.5-1.5-1.3-2.5-.8-1-3.5-2.5-3.3-3.3 .2-.8 3.3-1.2 4.6-1.5 1.3-.3 2.1-.4 3.3-.3 1.2 .1 3-.1 4 .6 1 .7 2.3 2.5 1.9 3.3zM404.5 185.3c-.2 1.4 1.9 2.9 1.5 3.9-.4 1-2.8 2-4.2 2.1-1.4 .1-3.2-1.1-4.2-1.8-1-.7-.9-1.5-1.9-2.7-1-1.1-4.6-3.5-4.1-4.2 .5-.7 5.3 .4 7 0 1.7-.4 1.7-2.4 3.1-2.7 1.4-.3 4.8 0 5.3 .9 .5 .9-2.3 3.1-2.5 4.5zM16.6 177c.1 1.4 3.4 3.7 3 4.6-.4 .9-4.1 1.1-5.5 .8-1.4-.3-1.5-2.1-3.1-2.6-1.6-.5-6 .5-6.5-.2-.5-.7 2.3-3.1 3.3-4.2 1-1.1 1.3-1.8 2.4-2.5 1.1-.7 2.6-1.6 4-1.6 1.4 0 4.3 .7 4.7 1.6 .4 .9-2.4 2.7-2.3 4.1zM44.4 243.7c.4 .8-.7 2.6-1.6 3.3-.9 .7-2.7 .8-3.9 .8-1.2 0-1.8-.6-3.2-.9-1.4-.3-4.9-.3-5.1-1-.2-.7 2.9-2.4 3.7-3.4 .8-1 .3-1.6 1.2-2.5 .9-.9 3.1-3.2 3.9-2.9 .8 .3 .2 3.8 1 4.9 .8 1.1 3.6 .9 4 1.7zM179.2 110.3c.4 1-1 3.5-2.2 4-1.2 .5-3.4-1.7-5.1-1.2-1.7 .4-4.2 4.1-5.2 3.9-1-.2-.5-3.7-.6-5.1-.1-1.4-.2-2 .1-3.1 .3-1.1 .5-2.8 1.6-3.6 1.1-.8 3.7-1.5 4.8-1 1.1 .5 .7 3 1.8 4 1.1 1 4.4 1.1 4.8 2.1zM145.5 127c-.2 1.1-2.2 2.2-3.3 3-1.1 .8-1.8 1-3.2 1.5-1.4 .5-4.2 2.1-5.2 1.6-1-.5-.7-3.3-.8-4.6-.1-1.3 .3-1.5 .3-2.9 0-1.4-1-5.4-.1-5.6 .9-.2 3.7 3.6 5.4 4.1 1.7 .5 3.7-1.4 4.9-.9 1.2 .5 2.2 2.7 2 3.8zM260.6 70.8c-.7 1.1-5.9 .3-7.3 1.9-1.3 1.6 .3 6.9-.8 7.5-1.1 .6-4.4-2.8-5.7-4.1-1.3-1.3-1.5-2.2-2.3-3.5-.8-1.3-3.1-3.1-2.8-4.5 .3-1.4 2.8-3.3 4.4-3.7 1.6-.3 3.5 1.3 5.4 1.6 1.9 .3 4.4-.8 5.9 0 1.5 .8 3.9 3.7 3.2 4.8zM114.5 52c-.3 1.4 .2 2.4-.5 3.6-.7 1.2-2.2 3.5-3.6 3.7-1.4 .2-3.9-1.5-4.9-2.5-1-1-.2-2.1-1.4-3.4-1.2-1.3-6.1-3.9-5.7-4.6 .4-.7 6.4 .7 8.3 .2 2-.5 1.9-2.8 3.4-3.1 1.5-.3 4.9 .3 5.6 1.3 .7 1-.9 3.4-1.2 4.8zM91 89.5c0 1.5 4.1 3.8 3.8 4.7-.3 .9-4.2 1-5.7 .7-1.5-.2-1.9-1.7-3.3-2.2-1.4-.5-4.6 0-5.3-.9-.7-.9 .5-3.2 1.3-4.2 .8-1 2.4-1.2 3.6-1.8 1.2-.6 2.2-1.6 3.7-1.7 1.5-.1 5.1 0 5.4 .9 .3 .9-3.5 3-3.5 4.5zM205.9 152c.6 1.6 .3 4.7-1 6-1.3 1.3-4.9 2-6.9 1.8-2-.2-2.3-2.6-4.9-3.2-2.6-.6-10 .7-10.5-.4-.5-1.1 6.2-4.2 7.7-6 1.6-1.8 .2-3.1 1.6-4.6 1.4-1.5 5.1-4.7 6.7-4.3 1.6 .5 1.8 5.2 3 7 1.2 1.8 3.7 2.1 4.3 3.7zM184.7 168.7c.6 1.1-1.5 3.8-2.9 4.4-1.4 .6-3.8-1.3-5.6-.9-1.8 .4-4.2 3.6-5.4 3.3-1.2-.3-1.8-3.4-2-4.8-.2-1.4 .5-2.6 1-3.8 .5-1.2 .9-2.4 2.1-3.4 1.2-1 4.2-3.2 5.3-2.7 1.1 .5-.1 4.6 1.1 5.9 1.3 1.3 5.8 .9 6.4 2zM168 243.7c0 1.4-1.6 3.6-3 4.3-1.4 .7-3.2-.6-5.2 .1-2 .7-5.6 4.3-6.7 3.9-1.2-.4-.2-4.8-.2-6.5 0-1.7 0-1.9 0-3.6 0-1.7-1.1-6.2 .1-6.6 1.2-.4 4.8 3.3 6.8 4 2 .7 3.9-.7 5.3 0 1.4 .7 2.9 2.9 2.9 4.4zM149.3 239.5c-.5 .8-4 .5-5 1.5-1 1 0 4.3-.8 4.7-.8 .4-3.1-1.4-4.1-2.2-1-.8-1.3-1.8-1.7-2.7-.4-.9-.9-1.8-.8-2.9 .1-1.1 .6-3.4 1.6-3.6 1-.2 2.9 2.1 4.3 2.4 1.4 .3 3.2-1.1 4.3-.6 1.1 .5 2.7 2.6 2.2 3.4zM185.9 243.7c-.3 1.1-1.8 1.3-2.6 2.5-.8 1.2-1 4.2-2.1 4.5-1.1 .3-3.6-1.8-4.5-2.8-.9-1-.1-1.8-1.1-3-1-1.2-5.4-3.3-5.1-4 .3-.7 5.4 .2 7.1-.2 1.7-.4 1.9-2.1 3.2-2.3 1.3-.2 3.8 .3 4.6 1.2 .8 .9 .8 3 .5 4.1zM62.1 168.7c0 1.7 4.4 4.1 4.1 5.1-.3 1-4.4 1.2-6.1 1-1.7-.2-2.7-1.3-4.1-2-1.4-.7-3.4-.9-4.3-2-.9-1.1-2-3.7-1.2-4.7 .8-1 4.2-.5 5.8-1.1 1.6-.6 2.1-2.1 3.8-2.4 1.7-.3 6-.2 6.3 .8 .3 1-4.3 3.6-4.3 5.3zM39 210.3c.3 1.2 1.6 3.4 .9 4.3-.7 .9-3.6 1.5-4.9 1.2-1.3-.3-1.2-2.4-3-2.8-1.8-.4-7.1 .8-7.5 .2-.4-.7 4.1-2.9 5.2-4.1 1.1-1.2 .3-2.2 1.2-3.1 .9-.9 3.1-2.4 4.3-2.2 1.2 .2 2.5 2.3 3.1 3.4 .6 1.1 .4 1.9 .7 3.1zM305.5 131.2c.6 1-1.6 3.6-3 4.3-1.4 .7-3.6-.3-5.3-.1-1.7 .3-3.4 1.9-4.9 1.6-1.4-.3-3.6-2.2-3.8-3.5-.2-1.3 1.6-2.8 2.4-4 .7-1.2 .9-2 2.1-3.1 1.2-1.1 4.1-4.2 5.1-3.7 1 .5-.4 5.3 .8 6.7 1.2 1.4 6 .8 6.6 1.8zM359.8 135.3c.2 1.4-1.1 4.2-2.5 4.8-1.4 .6-3.9-1.8-6-1.1-2.1 .7-5.7 5.4-6.8 5.1-1.1-.3 .1-5.2 .1-7 0-1.8-.4-2-.3-3.6 .1-1.6-.3-5.3 .9-5.9 1.2-.6 4.7 1.5 6.5 2.2 1.8 .7 2.8 .9 4.2 1.8 1.3 .9 3.7 2.3 3.9 3.7zM294.9 168.7c-.4 .9-3.3 .9-4.2 1.8-.9 .9-.5 3.2-1.5 3.6-1 .4-3.4-.3-4.3-1-1-.7-1.1-2.1-1.4-3.1-.3-1-.2-1.5-.1-2.7 .1-1.2-.3-4.3 .6-4.5 .9-.2 3 3.1 4.5 3.5 1.5 .4 3.4-1.5 4.5-1.1 1.1 .4 2.3 2.6 1.9 3.5zM225.3 206.2c-.5 1.1-3.9 .8-5 2.2-1.1 1.4-.2 5.8-1.3 6.2-1.1 .4-4-2.5-5.1-3.7-1.1-1.2-.4-2-1.5-3.3-1.1-1.3-5.2-3.5-4.9-4.4 .3-.9 5-.8 6.8-1.2 1.8-.4 2.5-1.2 4-1.2 1.5 0 3.9 .1 5.1 1 1.2 .9 2.4 3.3 1.9 4.4zM124.4 185.3c-.1 1.3 2.5 2.9 2.2 3.7-.3 .8-2.9 1.3-4.2 1.3-1.3 0-2.5-.8-3.5-1.4-.9-.6-1.4-1.2-2.2-2.2-.8-1-3.2-2.9-2.7-3.6 .5-.7 4.2 .1 5.6-.3 1.4-.4 1.4-2 2.7-2.2 1.3-.3 4.5-.1 4.9 .7 .4 .8-2.7 2.7-2.8 4zM194.1 56.2c.2 1.4 3 3.6 2.5 4.5-.5 .9-4 1.2-5.4 .9-1.4-.3-1.3-2.2-3-2.7-1.7-.5-6.5 .7-7 0-.5-.7 3.2-3 4.2-4.2 1-1.1 .8-1.9 1.8-2.7 1-.8 2.7-1.9 4.1-1.8 1.4 .1 3.7 1.2 4.2 2.2 .5 1-1.6 2.4-1.4 3.8zM169.8 22.8c.4 .8-1 2.8-2 3.4-1 .6-2.8 .4-4 .5-1.2 .1-2.1 .1-3.4-.2-1.3-.3-4.2-.7-4.4-1.5-.2-.8 2.3-2.3 3.1-3.3 .7-1 .5-1.6 1.4-2.5 .9-.9 3.1-3.4 3.9-3.1 .8 .4-.1 4.1 .8 5.2 .9 1.1 4.2 .7 4.6 1.5zM183.4 31.2c.3 .8-.7 2.6-1.6 2.9-.9 .3-2.5-1.3-3.8-.9-1.3 .4-3.3 3.3-4 3.2-.7-.2 0-3-.1-4.1-.1-1.1-.3-1.4-.2-2.3 .1-.9 .2-2.4 1-2.9 .8-.5 2.9-.5 3.8-.1 .9 .4 .9 1.6 1.7 2.3 .8 .7 2.9 1.1 3.2 1.9zM221.6 135.3c-.3 1.2-3.1 2-4.3 3-1.2 1-1.6 2.2-3.1 2.8-1.5 .6-4.5 1.4-5.7 .7-1.2-.7-1-3.4-1.2-4.7-.1-1.3 .3-1.8 .3-3.4 0-1.6-1-6 0-6.2 1-.2 4 4.2 6 4.8 2 .6 4.4-1.9 5.7-1.4 1.3 .5 2.6 3.2 2.3 4.4zM117.7 222.8c-.6 1-5 .4-6.2 1.9-1.2 1.4 .2 6.3-.8 6.8-1 .5-3.9-2.8-5.1-4-1.2-1.2-1-1.9-1.9-3.1-.9-1.2-3.7-3.1-3.4-4.2 .3-1.1 3.4-2.2 5-2.5 1.6-.4 2.9 .3 4.5 .4 1.6 .1 3.9-.4 5.2 .4 1.3 .8 3.3 3.3 2.7 4.3zM91.9 202c-.2 1.2 1.1 2.2 .6 3.1-.5 .9-2.2 2.2-3.4 2.3-1.2 .1-2.9-1-3.7-1.7-.8-.7-.4-1.5-1.3-2.5-.9-1-4.5-3-4.1-3.6 .4-.6 4.9 .5 6.4 .1 1.5-.4 1.4-2.2 2.6-2.5 1.2-.3 4.1 .1 4.6 .9 .5 .8-1.5 2.7-1.7 3.9zM20.4 52c.1 1.5 3.8 3.8 3.5 4.7-.4 .9-4.1 1-5.6 .7-1.5-.3-1.7-1.9-3.2-2.4-1.5-.5-5.4 .2-6-.6-.6-.8 1.5-3.1 2.4-4.1 .9-1.1 1.9-1.5 3-2.2 1.1-.6 2.3-1.6 3.8-1.7 1.5-.1 4.7 .3 5.1 1.2 .4 .9-3.1 2.9-3 4.4zM53.2 268.7c.4 1-.3 3.1-1.3 3.9-1 .8-3.2 1.2-4.5 1.1-1.3-.1-1.8-1.2-3.4-1.6-1.6-.4-6.2 0-6.5-.8-.3-.8 3.7-2.8 4.7-3.9 1-1.1 .3-1.9 1.2-2.9 .9-1 3.5-3.5 4.5-3.2 1 .3 .6 4 1.5 5.2 .9 1.2 3.4 1.2 3.8 2.2zM236.7 89.5c.4 .9-1 3.1-2.1 3.5-1.1 .4-2.9-1.3-4.4-1-1.5 .3-3.5 3.3-4.4 3.1-.9-.2-.8-2.9-.9-4.1-.1-1.2 0-1.9 .3-2.9 .3-1 .6-2.2 1.5-2.9 .9-.7 3.3-1.8 4.2-1.4 .9 .4 .2 3 1.2 4 1 1 4.2 .8 4.6 1.7zM153.7 85.3c-.1 1.2-1.7 2.5-2.8 3.2-1.1 .7-2.2 .4-3.7 .9-1.5 .5-4.4 2.7-5.3 2.3-.9-.4-.3-3.6-.4-4.9-.1-1.3 .1-1.5 .1-2.9 0-1.4-1-5.2-.1-5.5 .9-.3 3.8 3.3 5.5 3.8 1.7 .5 3.5-1.1 4.6-.6 1.1 .5 2.2 2.5 2.1 3.7zM326.4 302c-.3 .6-2.9 .2-3.6 1-.7 .8 .1 3.3-.5 3.6-.6 .3-2.2-1.3-2.9-1.9-.7-.6-.7-1.2-1.1-1.8-.4-.7-1.2-1.4-1.1-2.1 .1-.7 .9-2.1 1.7-2.3 .8-.2 1.9 1.1 2.9 1.3 1 .2 2.2-.6 3-.2 .8 .4 1.9 1.8 1.6 2.4zM160.3 135.3c-.3 1.2-.8 1.8-1.5 2.9-.7 1.1-1.5 3.7-2.7 3.9-1.2 .2-3.5-1.6-4.4-2.5-.9-.9-.1-1.8-1.1-3-1-1.2-5.5-3.4-5.2-4.1 .4-.7 5.6 .4 7.3 0 1.7-.4 1.8-2.3 3.1-2.5 1.3-.2 4 .3 4.8 1.2 .7 .9 0 2.9-.3 4.1zM203 197.8c0 1.4 3.7 3.3 3.4 4.1-.2 .8-3.6 .8-4.9 .6-1.3-.2-1.9-1.2-3.1-1.7-1.2-.5-3.4-.3-4-1.1-.6-.8-.5-2.9 .2-3.7 .7-.8 2.6-.7 3.8-1.2 1.2-.5 1.8-1.5 3.1-1.7 1.3-.2 4.6-.1 4.8 .7 .3 .8-3.3 2.7-3.3 4z" fill="none" stroke="#fa3c3c" stroke-width="1.3"/><path d="M.5 252c2.8 2.8 11.8 9.1 16.7 16.7 4.9 7.6 7.7 20.8 12.5 29.1 4.8 8.3 6.9 16.4 16.6 20.9 9.7 4.5 27.8 5.5 41.7 6.2 13.9 .7 26.4-.4 41.7-2.1 15.3-1.7 36.1-4.8 50-8.3 13.9-3.5 22.2-7.6 33.3-12.5 11.1-4.9 22.2-11.8 33.3-16.7 11.1-4.9 18.1-8.7 33.4-12.5 15.3-3.8 41.6-8.3 58.3-10.4 16.7-2.1 28.2-2.5 41.7-2.1 13.5 .4 32.9 3.5 39.5 4.2M.5 285.3c3.5 3.5 13.2 13.9 20.8 20.9 7.6 6.9 13.9 16.3 25 20.8 11.1 4.5 26.4 5.5 41.7 6.2 15.3 .7 34.7-1 50-2 15.3-1 27.8-1.4 41.7-4.2 13.9-2.8 27.7-7.6 41.6-12.5 13.9-4.9 25.7-11.8 41.7-16.7 16-4.9 34.8-9.7 54.2-12.5 19.4-2.8 45.5-4.8 62.5-4.1 17 .7 32.9 6.9 39.5 8.3M46.3 297.8c3.5 1.4 10.5 6.7 20.9 8.4 10.4 1.7 27.7 2.7 41.6 2 13.9-.7 27.1-2.4 41.7-6.2 14.6-3.8 31.2-11.1 45.8-16.7 14.6-5.5 27.8-12.4 41.7-16.6 13.9-4.2 27.8-5.6 41.7-8.4 13.9-2.8 29.1-4.8 41.6-8.3 12.5-3.5 27.8-10.4 33.4-12.5M58.8 277c2.8 1.4 9 6.2 16.7 8.3 7.7 2.1 18.8 4.9 29.2 4.2 10.4-.7 22.2-4.8 33.3-8.3 11.1-3.5 20.8-9 33.3-12.5 12.5-3.5 27.8-6.6 41.7-8.4 13.9-1.7 34.8-1.7 41.7-2.1M42.2 347.8c7.6-.7 29.8-3.1 45.8-4.1 16-1 34.7-1.4 50-2.1 15.3-.7 26.4 .3 41.7-2.1 15.3-2.4 33.3-8.3 50-12.5 16.7-4.2 31.9-9 50-12.5 18.1-3.5 41.6-7.3 58.3-8.3 16.7-1.1 28.2-.1 41.7 2 13.5 2.1 32.9 8.7 39.5 10.5M88 368.7c8.3-2.1 33.3-9.7 50-12.5 16.7-2.8 33.3-1.4 50-4.2 16.7-2.8 31.9-8.3 50-12.5 18.1-4.2 38.2-9.7 58.3-12.5 20.1-2.8 42-6.3 62.5-4.2 20.5 2.1 50.3 13.9 60.4 16.7M179.7 372.8c8.3-2.4 30.6-10.1 50-14.6 19.4-4.5 45.1-10 66.6-12.4 21.5-2.4 42-4.9 62.5-2.1 20.5 2.8 50.3 15.6 60.4 18.7M304.7 372.8c9-1.7 37.4-10.4 54.1-10.4 16.7 0 38.3 8.7 45.9 10.4M208.8 239.5c7.7 0 31.3-.7 45.9 0 14.6 .7 27.7 4.2 41.6 4.2 13.9 0 27.8-4.2 41.7-4.2 13.9 0 28.2 2.1 41.7 4.2 13.5 2.1 32.9 6.9 39.5 8.3M254.7 202c4.2 .7 16.7 1.4 25 4.2 8.3 2.8 16.7 9 25 12.5 8.3 3.5 16.7 7.6 25 8.3 8.3 .7 16.7-1.4 25-4.2 8.3-2.8 17.4-9 25-12.5 7.6-3.5 17.3-6.9 20.8-8.3M213 185.3c5.6-1.4 22.2-8.3 33.3-8.3 11.1 0 23.7 4.1 33.4 8.3 9.7 4.2 20.8 13.9 25 16.7M2.6 185.3c2.4 2.8 10.8 9.8 14.6 16.7 3.8 6.9 7.6 16.7 8.3 25 .7 8.3-3.5 20.8-4.2 25M67.2 77c2.1 5.5 9 21.5 12.5 33.3 3.5 11.8 6.2 25 8.3 37.5 2.1 12.5 4.2 25.7 4.2 37.5 0 11.8-1.4 23.7-4.2 33.4-2.8 9.7-7.6 18.1-12.5 25-4.9 6.9-13.9 13.8-16.7 16.6" fill="none" stroke="#fa3c3c" stroke-width="1.2"/><path d="M6.3,257.8L2.6,256.5L5,254.1ZM34.6,304L31,302.3L33.7,300.2ZM82.2,324L78.4,325.2L78.9,321.8ZM137,321.6L133.7,323.9L133.1,320.5ZM190.6,310.4L187.8,313.2L186.7,310.1ZM240.8,288.1L238.4,291.2L236.8,288.2ZM292.7,270.5L289.4,272.8L288.9,269.5ZM347,262L343.5,263.8L343.3,260.5ZM401.8,262.7L398,264L398.4,260.6ZM17.8,302.7L14.1,301.3L16.5,298.9ZM63.7,329.6L59.8,330.7L60.3,327.4ZM118.4,332L114.8,333.8L114.7,330.4ZM173.2,327.6L169.7,329.7L169.4,326.3ZM226,312.7L223.2,315.6L222,312.4ZM277.7,294.4L274.6,296.9L273.8,293.6ZM331.6,284.4L328.1,286.3L327.9,282.9ZM386.4,282.6L382.5,283.5L383.2,280.2ZM85.5,307.1L81.8,308.6L82,305.2ZM140.1,303.6L136.8,305.8L136.3,302.4ZM192.3,286.8L189.5,289.6L188.4,286.4ZM243.8,267.5L240.5,269.9L239.9,266.6ZM297.7,256.7L294.5,259.1L293.8,255.8ZM350.3,241.2L347.5,244L346.3,240.8ZM70.5,282.9L66.5,282.7L68.1,279.7ZM124.1,284.7L121,287.2L120.1,283.9ZM176.3,267.7L173,270L172.4,266.7ZM230.5,259.5L227,261.3L226.8,257.9ZM71.4,345.2L68,347.2L67.7,343.8ZM126.3,342.1L122.8,343.9L122.6,340.5ZM181.2,339.1L178.1,341.6L177.3,338.4ZM234.6,325.8L231.5,328.3L230.6,325ZM288.1,313.3L284.7,315.5L284.3,312.1ZM342.6,306.4L338.9,307.9L339,304.5ZM396.9,312.8L393,313.5L393.9,310.2ZM132.3,357.6L129.2,360.1L128.4,356.8ZM186.9,352.1L183.5,354.1L183.2,350.7ZM240.3,339L237.2,341.4L236.4,338.1ZM294.1,327.5L290.9,329.9L290.2,326.6ZM349,323.5L345.5,325.4L345.2,322ZM402.3,334.8L398.4,335.5L399.3,332.2ZM196.9,367.8L193.9,370.5L192.9,367.2ZM250.2,354.4L246.9,356.7L246.3,353.4ZM304.3,345.5L300.8,347.3L300.7,343.9ZM359.3,343.8L355.3,344.3L356.3,341.1ZM411.8,360.1L407.9,360.7L408.9,357.4ZM338.3,366.4L335,368.7L334.4,365.4ZM392,370L388.1,370.8L388.9,367.5ZM259.3,240L255.5,241.3L255.9,237.9ZM314,241.9L310.6,243.9L310.3,240.6ZM368.8,242.6L365,243.9L365.3,240.5ZM277.1,205.7L273.3,206.8L273.8,203.5ZM327.9,226.4L323.9,226.9L325,223.7ZM379.5,210.4L377,213.5L375.5,210.5ZM250.9,178.1L247,178.9L247.8,175.6ZM300.7,199.4L296.8,198.8L298.7,196ZM10,193.9L6.4,192.2L8.9,190ZM22.6,244.6L21.5,240.7L24.8,241.3ZM76.9,102.9L74,100.1L77.2,98.9ZM88.9,156.4L86.9,153L90.2,152.6ZM89,211L87.7,207.2L91.1,207.6ZM61.8,257.3L63.2,253.6L65.6,256Z" fill="#fa3c3c" stroke="#fa3c3c" stroke-width="0.6"/><path d="M49 0c.6 2.9 1.2 11.7 3.5 17.5 2.3 5.8 6.4 11.7 10.5 17.5 4.1 5.8 9.3 11.7 14 17.5 4.7 5.8 9.9 11.1 14 17.5 4.1 6.4 8.2 14 10.5 21 2.3 7 3.2 14 3.5 21 .3 7-.9 13.4-1.8 21-.9 7.6-2.5 16.3-3.4 24.5-.9 8.2-2.1 15.7-1.8 24.5 .3 8.8 2.9 23.3 3.5 28M108.5 22.8c.6 3.8 2.3 14.8 3.5 22.7 1.2 7.9 1.8 16.9 3.5 24.5 1.7 7.6 5 14 7 21 2 7 4.1 14 5.3 21 1.2 7 1.7 13.4 1.7 21 0 7.6-1.7 16.3-1.7 24.5 0 8.2 .3 15.7 1.7 24.5 1.4 8.8 5.8 23.3 7 28M138.2 35c.3 4.1 1.5 16.3 1.8 24.5 .3 8.2 .3 16.3 0 24.5-.3 8.2-1.8 16.3-1.8 24.5 0 8.2 .9 16.3 1.8 24.5 .9 8.2 1.8 16.3 3.5 24.5 1.7 8.2 4.7 16.9 7 24.5 2.3 7.6 5.8 17.5 7 21M148.8 52.5c.6 3.5 2.5 14 3.4 21 .9 7 .9 14 1.8 21 .9 7 1.8 15.7 3.5 21 1.7 5.3 5.8 8.7 7 10.5M175 70c-1.2 3.5-5.5 14-7 21-1.5 7-2.4 14.6-1.8 21 .6 6.4 2.7 12.8 5.3 17.5 2.6 4.7 8.7 8.7 10.5 10.5M192.5 28c-1.4 2.9-5.5 11.1-8.7 17.5-3.2 6.4-8.8 17.5-10.6 21M236.2 10.5c2 2.3 7.9 10.8 12.3 14 4.4 3.2 9.9 5.9 14 5.3 4.1-.6 8.7-7.3 10.5-8.8M215.2 70c2 1.2 7.9 6.1 12.3 7 4.4 .9 9.3 0 14-1.8 4.7-1.7 11.7-7.2 14-8.7M217 105c1.8 1.2 5.8 5.5 10.5 7 4.7 1.5 12.3 3 17.5 1.8 5.2-1.2 9.3-6.2 14-8.8 4.7-2.6 11.7-5.8 14-7M203 94.5c1.2 2.9 4.7 11.1 7 17.5 2.3 6.4 5.5 13.4 7 21 1.5 7.6 2.1 16.3 1.8 24.5-.3 8.2-2.1 15.7-3.6 24.5-1.5 8.8-4.3 23.3-5.2 28M231 122.5c.6 3.5 3.5 13.4 3.5 21 0 7.6-1.7 16.3-3.5 24.5-1.8 8.2-4.7 17.5-7 24.5-2.3 7-5.8 14.6-7 17.5M10.5 10.5c1.2 2.9 3.5 11.7 7 17.5 3.5 5.8 9.3 12.2 14 17.5 4.7 5.3 9.3 8.7 14 14 4.7 5.3 9.9 11.1 14 17.5 4.1 6.4 8.2 14 10.5 21 2.3 7 2.9 17.5 3.5 21M0 35c1.8 1.5 6.4 5 10.5 8.8 4.1 3.8 9.9 9 14 14 4.1 5 8.7 13.1 10.5 15.7M17.5 112c1.7 1.8 7.6 7.6 10.5 10.5 2.9 2.9 5.8 5.8 7 7" fill="none" stroke="#fa3c3c" stroke-width="1.2"/><path d="M50.6,8.1L48.2,4.9L51.6,4.2ZM78.6,54.5L75,52.7L77.7,50.6ZM103.4,102.5L101.2,99.2L104.5,98.7ZM99.8,157.1L98.6,153.3L102,153.7ZM112.2,47L110,43.6L113.4,43.2ZM124.8,100.3L122.3,97.2L125.6,96.4ZM127.9,154.9L126.5,151.1L129.9,151.4ZM136.2,209L133.7,205.8L137,205ZM140,75.7L138.3,72.1L141.7,72.1ZM139.8,130.6L137.9,127.1L141.3,126.9ZM151.3,184.3L148.5,181.4L151.7,180.3ZM150.9,65.4L148.6,62.1L152,61.6ZM160,119.2L156.5,117.1L159.4,115.2ZM167.4,98.2L166,94.5L169.4,94.7ZM248.1,24L244.4,22.4L246.9,20.2ZM246.6,72.1L244.4,75.4L242.6,72.6ZM262.4,103.3L259.9,106.4L258.4,103.4ZM211.2,115.7L208.5,112.8L211.7,111.7ZM217,169.6L215.9,165.8L219.2,166.3ZM232,161.1L230.8,157.3L234.2,157.7ZM14.7,21L11.8,18.3L14.9,17ZM48.8,63.6L45.2,61.8L47.8,59.7ZM72.4,112.2L70.1,108.9L73.4,108.3ZM20.4,53.6L16.6,52.2L19,49.8Z" fill="#fa3c3c" stroke="#fa3c3c" stroke-width="0.6"/><path d="M273 7c-1.8 1.8-7 7.9-10.5 10.5-3.5 2.6-6.4 4.7-10.5 5.3-4.1 .6-11.7-1.5-14-1.8M308 28c-2.3 1.2-9.3 4.4-14 7-4.7 2.6-9.3 6.8-14 8.8-4.7 2-8.8 3.7-14 3.4-5.2-.3-12.8-3.2-17.5-5.2-4.7-2-8.7-5.8-10.5-7M292.2 42c-.9 1.8-2.6 6.4-5.2 10.5-2.6 4.1-6.4 9.9-10.5 14-4.1 4.1-9.9 7-14 10.5-4.1 3.5-6.4 9.3-10.5 10.5-4.1 1.2-9.9-1.2-14-3.5-4.1-2.3-8.8-8.8-10.5-10.5M301 66.5c-2.3 .6-9.9 1.2-14 3.5-4.1 2.3-7 5.8-10.5 10.5-3.5 4.7-7.9 11.7-10.5 17.5-2.6 5.8-2.9 12.8-5.2 17.5-2.3 4.7-5 8.2-8.8 10.5-3.8 2.3-11.7 2.9-14 3.5M367.5 82.2c-2.9 .3-11.7 .6-17.5 1.8-5.8 1.2-12.2 2.6-17.5 5.2-5.3 2.6-10.5 6.2-14 10.6-3.5 4.4-5.3 10.2-7 15.7-1.7 5.5-2.3 11.7-3.5 17.5-1.2 5.8-2.3 12.2-3.5 17.5-1.2 5.3-2.9 11.7-3.5 14M371 96.2c-2.3 .9-9.3 2.7-14 5.3-4.7 2.6-10.5 5.8-14 10.5-3.5 4.7-5.5 11.7-7 17.5-1.5 5.8-2.4 12.3-1.8 17.5 .6 5.2 2.7 9.3 5.3 14 2.6 4.7 6.4 9.9 10.5 14 4.1 4.1 11.7 8.8 14 10.5M420 87.5c-3.5-.3-15.2-2-21-1.7-5.8 .3-9.6 1.4-14 3.4-4.4 2-10.2 7.3-12.2 8.8M420 105c-3.5 .3-14.6 .6-21 1.8-6.4 1.2-12.8 2-17.5 5.2-4.7 3.2-8.4 8.8-10.5 14-2.1 5.2-2.4 12.2-1.8 17.5 .6 5.3 2.7 9.9 5.3 14 2.6 4.1 5.8 7 10.5 10.5 4.7 3.5 11.7 7.6 17.5 10.5 5.8 2.9 14.6 5.8 17.5 7M420 28c-3.5-.6-14.6-3.2-21-3.5-6.4-.3-12.2 .3-17.5 1.7-5.3 1.4-9.9 4.1-14 7-4.1 2.9-7.6 7.1-10.5 10.6-2.9 3.5-5.8 8.7-7 10.4M420 57.8c-2.9-1.2-11.7-5.8-17.5-7-5.8-1.2-11.7-.9-17.5 0-5.8 .9-11.7 2.9-17.5 5.2-5.8 2.3-12.3 5.9-17.5 8.8-5.2 2.9-9.3 5.5-14 8.7-4.7 3.2-9.9 7-14 10.5-4.1 3.5-8.8 8.8-10.5 10.5M357 7c-1.2 2.3-4.7 9.3-7 14-2.3 4.7-5.5 9.3-7 14-1.5 4.7-1.5 11.7-1.8 14M325.5 35c-.6 2.3-1.7 9.9-3.5 14-1.8 4.1-5.8 8.8-7 10.5M318.5 192.5c-1.7-1.7-7.6-6.4-10.5-10.5-2.9-4.1-5.5-9.9-7-14-1.5-4.1-1.5-8.8-1.8-10.5M273 157.5c1.8 .6 6.4 3.2 10.5 3.5 4.1 .3 9.9-.6 14-1.8 4.1-1.2 6.4-4.3 10.5-5.2 4.1-.9 9.9-.6 14 0 4.1 .6 8.8 2.9 10.5 3.5M290.5 178.5c-2.3 1.2-9.3 4.9-14 7-4.7 2.1-9.3 4.1-14 5.3-4.7 1.2-9.3 2.6-14 1.7-4.7-.9-9.9-4.1-14-7-4.1-2.9-8.7-8.7-10.5-10.5M245 164.5c-1.2 1.7-4.7 7-7 10.5-2.3 3.5-5.2 6.4-7 10.5-1.8 4.1-3.5 9.9-3.5 14 0 4.1 2.9 8.7 3.5 10.5M322 180.2l-7 12.3M192.5 31.5c-2.9 1.2-12.3 4.1-17.5 7-5.2 2.9-10.2 6.4-14 10.5-3.8 4.1-6.8 9-8.8 14-2 5-3.1 10-3.4 15.8-.3 5.8 .3 13.7 1.7 19.2 1.4 5.5 4.7 10.5 7 14 2.3 3.5 5.8 5.8 7 7M210 70c1.8 .6 6.4 2.9 10.5 3.5 4.1 .6 9.9-1.2 14 0 4.1 1.2 7.6 3.5 10.5 7 2.9 3.5 4.7 9.3 7 14 2.3 4.7 5.8 11.7 7 14M175 84c1.8 2.3 6.4 9.9 10.5 14 4.1 4.1 8.7 7.6 14 10.5 5.3 2.9 12.3 4.1 17.5 7 5.2 2.9 9.3 7.9 14 10.5 4.7 2.6 11.7 4.3 14 5.2M185.5 140c-1.7 1.2-7.6 4.1-10.5 7-2.9 2.9-5.2 6.4-7 10.5-1.8 4.1-3.5 9.3-3.5 14 0 4.7 1.7 9.9 3.5 14 1.8 4.1 5.8 8.7 7 10.5M217 122.5c-.3 2.9-1.8 11.7-1.8 17.5 0 5.8 2.1 12.2 1.8 17.5-.3 5.3-2.3 9.3-3.5 14-1.2 4.7-3.5 9.3-3.5 14 0 4.7 2.9 11.7 3.5 14M420 133c-1.8 1.2-7.6 4.1-10.5 7-2.9 2.9-6.4 7-7 10.5-.6 3.5 .6 7.6 3.5 10.5 2.9 2.9 11.7 5.8 14 7M393.8 122.5c-.9 1.7-5 6.7-5.3 10.5-.3 3.8 1.2 11 3.5 12.2 2.3 1.2 9-2.3 10.5-5.2 1.5-2.9-.3-9.3-1.7-12.2-1.4-2.9-5.8-4.4-7-5.3" fill="none" stroke="#fa3c3c" stroke-width="1.2"/><path d="M267.2,12.8L268.5,9.1L270.9,11.5ZM286.5,39.7L288.7,36.4L290.4,39.2ZM267.2,73.4L269.1,69.9L271.2,72.6ZM288.3,69.7L291.4,67.2L292.2,70.4ZM260.7,115.6L261.7,111.7L264.3,113.9ZM338.7,87.4L341.7,84.7L342.7,88ZM308.8,129L307.9,125.1L311.2,125.8ZM338.1,124.3L337.9,120.3L341,121.5ZM349.6,174.4L346.1,172.6L348.8,170.5ZM402.1,86L405.9,84.6L405.6,88ZM386.4,110.5L389.4,107.9L390.4,111.1ZM374.4,157.3L371.6,154.5L374.7,153.4ZM371.1,31.4L373.6,28.3L375.1,31.3ZM398.6,50.8L402.2,49.1L402.2,52.4ZM347,66.7L349.1,63.3L350.9,66.2ZM342,42.7L340.8,38.9L344.2,39.3ZM322.8,46L322,42.1L325.3,42.9ZM302.3,170.6L305.4,173.1L302.4,174.6ZM315,154L311.3,155.7L311.3,152.3ZM276,185.7L278.8,182.8L280,186ZM226.9,177.9L230.6,179.2L228.2,181.6ZM229.3,192.5L228.5,188.6L231.8,189.4ZM173.3,39.8L175.2,36.3L177.2,39ZM149.4,85.7L147.4,82.3L150.7,82ZM244.7,80.3L240.7,79.7L242.6,76.9ZM180.7,91.7L177.2,89.8L179.9,87.7ZM225.6,121.9L221.7,121.1L223.7,118.4ZM167.9,158.1L167.1,154.2L170.4,155ZM215.3,164.2L214.6,160.3L217.8,161.1ZM408.5,141.5L409.1,137.5L411.9,139.4ZM397.6,142.5L395.1,145.6L393.6,142.6Z" fill="#fa3c3c" stroke="#fa3c3c" stroke-width="0.6"/><path d="M14.5,17.3L25.9,26.2M25,17.3L36.4,26.2M35.5,17.3L46.9,26.2M46,17.3L57.4,26.2M14.5,29.6L25.9,38.5M25,29.6L36.4,38.5M35.5,29.6L46.9,38.5M46,29.6L57.4,38.5M25,41.9L36.4,50.8M35.5,41.9L46.9,50.8M46,41.9L57.4,50.8M56.5,41.9L67.9,50.8M35.5,54.2L46.9,63.1M46,54.2L57.4,63.1M56.5,54.2L67.9,63.1M67,54.2L78.4,63.1M46,66.5L57.4,75.4M56.5,66.5L67.9,75.4M67,66.5L78.4,75.4M77.5,66.5L88.9,75.4M46,78.8L56.5,88.8M56.5,78.8L67,88.8M67,78.8L77.5,88.8M77.5,78.8L88,88.8M88,78.8L98.5,88.8M56.5,91.1L63.3,103.9M67,91.1L73.8,103.9M77.5,91.1L84.3,103.9M88,91.1L94.8,103.9M56.5,103.4L58.9,117.7M67,103.4L69.4,117.7M77.5,103.4L79.9,117.7M88,103.4L90.4,117.7M98.5,103.4L100.9,117.7M67,115.7L68.5,130.1M77.5,115.7L79,130.1M88,115.7L89.5,130.1M98.5,115.7L100,130.1M109,115.7L110.5,130.1M77.5,128L79,142.4M88,128L89.5,142.4M98.5,128L100,142.4M109,128L110.5,142.4M77.5,140.3L79,154.7M88,140.3L89.5,154.7M98.5,140.3L100,154.7M109,140.3L110.5,154.7M119.5,140.3L121,154.7M77.5,152.6L79,167M88,152.6L89.5,167M98.5,152.6L100,167M109,152.6L110.5,167M119.5,152.6L121,167M77.5,164.9L79,179.3M88,164.9L89.5,179.3M98.5,164.9L100,179.3M109,164.9L110.5,179.3M119.5,164.9L121,179.3M130,164.9L131.5,179.3M77.5,177.2L79,191.6M88,177.2L89.5,191.6M98.5,177.2L100,191.6M109,177.2L110.5,191.6M119.5,177.2L121,191.6M130,177.2L131.5,191.6M77.5,189.5L79,203.9M88,189.5L89.5,203.9M98.5,189.5L100,203.9M109,189.5L110.5,203.9M119.5,189.5L121,203.9M130,189.5L131.5,203.9M140.5,189.5L142,203.9M77.5,201.8L79,216.2M88,201.8L89.5,216.2M98.5,201.8L100,216.2M109,201.8L110.5,216.2M119.5,201.8L121,216.2M130,201.8L131.5,216.2M140.5,201.8L142,216.2M329.5,201.8L345.7,206.9M340,201.8L356.1,207.4M350.5,201.8L366.4,207.9M361,201.8L376.7,208.3M371.5,201.8L387,208.8M382,201.8L397.3,209.2M392.5,201.8L407.6,209.7M77.5,214.1L79,228.5M88,214.1L89.5,228.5M98.5,214.1L100,228.5M109,214.1L110.5,228.5M119.5,214.1L121,228.5M130,214.1L131.5,228.5M256,214.1L273,214.7M266.5,214.1L283.4,215.7M277,214.1L293.9,216.3M287.5,214.1L304.3,216.9M298,214.1L314.7,217.5M308.5,214.1L325,218.1M319,214.1L335.4,218.7M329.5,214.1L345.7,219.2M340,214.1L356.1,219.7M350.5,214.1L366.4,220.2M361,214.1L376.7,220.6M371.5,214.1L387,221.1M98.5,226.4L100,240.8M256,226.4L273,227M266.5,226.4L283.4,228M277,226.4L293.9,228.6M287.5,226.4L304.3,229.2M298,226.4L314.7,229.8M308.5,226.4L325,230.4M319,226.4L335.4,231M329.5,226.4L345.7,231.5M340,226.4L356.1,232M350.5,226.4L366.4,232.5M361,226.4L376.7,232.9M371.5,226.4L387,233.4M14.5,238.7L-0.2,247.2M25,238.7L10.3,247.2M35.5,238.7L20.8,247.2M46,238.7L31.3,247.2M235,238.7L251.2,233.6M245.5,238.7L262.1,235.2M256,238.7L273,239.3M266.5,238.7L283.4,240.3M277,238.7L293.9,240.9M287.5,238.7L304.3,241.5M298,238.7L314.7,242.1M308.5,238.7L325,242.7M319,238.7L335.4,243.3M329.5,238.7L345.7,243.8M340,238.7L356.1,244.3M350.5,238.7L366.4,244.8M361,238.7L376.7,245.2M371.5,238.7L387,245.7M382,238.7L397.3,246.1M392.5,238.7L407.6,246.6M403,238.7L417.8,247M413.5,238.7L428.1,247.4M14.5,251L-0.2,259.5M25,251L10.3,259.5M35.5,251L20.8,259.5M46,251L31.3,259.5M256,251L272.9,249.2M266.5,251L283.5,250.2M277,251L294,250.8M287.5,251L304.5,251.4M298,251L315,252.1M308.5,251L325.4,252.7M319,251L335.8,253.3M329.5,251L346.3,253.8M340,251L356.7,254.3M350.5,251L367.1,254.8M361,251L377.5,255.3M371.5,251L387.8,255.8M382,251L398.2,256.2M392.5,251L408.5,256.7M403,251L418.8,257.2M413.5,251L429.2,257.6M14.5,263.3L-0.2,271.8M25,263.3L10.3,271.8M35.5,263.3L20.8,271.8M235,263.3L251.2,258.2M245.5,263.3L262.1,259.8M256,263.3L272.9,261.5M266.5,263.3L283.5,262.5M277,263.3L294,263.1M287.5,263.3L304.5,263.7M298,263.3L315,264.4M308.5,263.3L325.4,265M319,263.3L335.8,265.6M329.5,263.3L346.3,266.1M340,263.3L356.7,266.6M350.5,263.3L367.1,267.1M361,263.3L377.5,267.6M371.5,263.3L387.8,268.1M382,263.3L398.2,268.5M392.5,263.3L408.5,269M403,263.3L418.8,269.5M413.5,263.3L429.2,269.9M25,275.6L10.3,284.1M193,275.6L208,267.6M203.5,275.6L218.5,267.6M214,275.6L229,267.6M224.5,275.6L240.2,269M235,275.6L251.2,270.5M245.5,275.6L262.1,272.1M256,275.6L272.9,273.8M266.5,275.6L283.5,274.8M277,275.6L294,275.4M287.5,275.6L304.5,276M298,275.6L315,276.7M308.5,275.6L325.4,277.3M319,275.6L335.8,277.9M329.5,275.6L346.3,278.4M340,275.6L356.7,278.9M350.5,275.6L367.1,279.4M361,275.6L377.5,279.9M371.5,275.6L387.8,280.4M382,275.6L398.2,280.8M392.5,275.6L408.5,281.3M403,275.6L418.8,281.8M413.5,275.6L429.2,282.2M182.5,287.9L197.5,279.9M193,287.9L208,279.9M203.5,287.9L218.5,279.9M214,287.9L229,279.9M224.5,287.9L240.2,281.3M235,287.9L251.2,282.8M245.5,287.9L262.1,284.4M256,287.9L272.9,286.1M266.5,287.9L283.5,287.1M277,287.9L294,287.7M287.5,287.9L304.5,288.3M298,287.9L315,289M308.5,287.9L325.4,289.6M319,287.9L335.8,290.2M329.5,287.9L346.3,290.7M340,287.9L356.7,291.2M350.5,287.9L367.1,291.7M361,287.9L377.5,292.2M371.5,287.9L387.8,292.7M382,287.9L398.2,293.1M392.5,287.9L408.5,293.6M403,287.9L418.8,294.1M413.5,287.9L429.2,294.5M4,300.2L7.4,290.8M14.5,300.2L17.9,290.8M25,300.2L28.4,290.8M35.5,300.2L38.9,290.8M172,300.2L187,292.2M182.5,300.2L197.5,292.2M193,300.2L208,292.2M203.5,300.2L218.5,292.2M214,300.2L229,292.2M224.5,300.2L240.2,293.6M235,300.2L251.2,295.1M245.5,300.2L262.1,296.7M256,300.2L272.9,298.4M266.5,300.2L283.5,299.4M277,300.2L294,300M287.5,300.2L304.5,300.6M298,300.2L315,301.3M308.5,300.2L325.4,301.9M319,300.2L335.8,302.5M329.5,300.2L346.3,303M340,300.2L356.7,303.5M350.5,300.2L367.1,304M361,300.2L377.5,304.5M371.5,300.2L387.8,305M382,300.2L398.2,305.4M392.5,300.2L408.5,305.9M403,300.2L418.8,306.4M413.5,300.2L429.2,306.8M4,312.5L7.4,303.1M14.5,312.5L17.9,303.1M25,312.5L28.4,303.1M35.5,312.5L38.9,303.1M161.5,312.5L176.5,304.5M172,312.5L187,304.5M182.5,312.5L197.5,304.5M193,312.5L208,304.5M203.5,312.5L218.5,304.5M214,312.5L229,304.5M224.5,312.5L240.2,305.9M235,312.5L251.2,307.4M245.5,312.5L262.1,309M256,312.5L272.9,310.7M266.5,312.5L283.5,311.7M277,312.5L294,312.3M287.5,312.5L304.5,312.9M298,312.5L315,313.6M308.5,312.5L325.4,314.2M319,312.5L335.8,314.8M329.5,312.5L346.3,315.3M340,312.5L356.7,315.8M350.5,312.5L367.1,316.3M361,312.5L377.5,316.8M371.5,312.5L387.8,317.3M382,312.5L398.2,317.7M392.5,312.5L408.5,318.2M403,312.5L418.8,318.7M413.5,312.5L429.2,319.1M4,324.8L7.4,315.4M14.5,324.8L17.9,315.4M25,324.8L28.4,315.4M35.5,324.8L52.5,325.4M46,324.8L63,325.4M56.5,324.8L73.5,325.4M67,324.8L84,325.4M77.5,324.8L94.5,325.4M88,324.8L105,325.4M98.5,324.8L115.5,325.4M109,324.8L126,325.4M119.5,324.8L136.5,325.4M130,324.8L145,316.8M140.5,324.8L155.5,316.8M151,324.8L166,316.8M161.5,324.8L176.5,316.8M172,324.8L187,316.8M182.5,324.8L197.5,316.8M193,324.8L208,316.8M203.5,324.8L218.5,316.8M214,324.8L229,316.8M224.5,324.8L240.2,318.2M235,324.8L251.2,319.7M245.5,324.8L262.1,321.3M256,324.8L272.9,323M266.5,324.8L283.5,324M277,324.8L294,324.6M287.5,324.8L304.5,325.2M298,324.8L315,325.9M308.5,324.8L325.4,326.5M319,324.8L335.8,327.1M329.5,324.8L346.3,327.6M340,324.8L356.7,328.1M350.5,324.8L367.1,328.6M361,324.8L377.5,329.1M371.5,324.8L387.8,329.6M382,324.8L398.2,330M392.5,324.8L408.5,330.5M403,324.8L418.8,331M413.5,324.8L429.2,331.4M109,337.1L124,329.1M119.5,337.1L134.5,329.1M130,337.1L145,329.1M140.5,337.1L155.5,329.1M151,337.1L166,329.1M161.5,337.1L176.5,329.1M172,337.1L187,329.1M182.5,337.1L197.5,329.1M193,337.1L208,329.1M203.5,337.1L218.5,329.1M214,337.1L229,329.1M224.5,337.1L240.2,330.5M235,337.1L251.2,332M245.5,337.1L262.1,333.6M256,337.1L272.9,335.3M266.5,337.1L283.5,336.3M277,337.1L294,336.9M287.5,337.1L304.5,337.5M298,337.1L315,338.2M308.5,337.1L325.4,338.8M319,337.1L335.8,339.4M329.5,337.1L346.3,339.9M340,337.1L356.1,342.7M350.5,337.1L366.4,343.2M361,337.1L376.7,343.6M371.5,337.1L387,344.1M382,337.1L397.3,344.5M392.5,337.1L407.6,345M403,337.1L417.8,345.4M413.5,337.1L428.1,345.8M4,349.4L11.5,335.3M14.5,349.4L22,335.3M25,349.4L32.5,335.3M35.5,349.4L43,335.3M88,349.4L103,341.4M98.5,349.4L113.5,341.4M109,349.4L124,341.4M119.5,349.4L134.5,341.4M130,349.4L145,341.4M140.5,349.4L155.5,341.4M151,349.4L166,341.4M161.5,349.4L176.5,341.4M172,349.4L187,341.4M182.5,349.4L197.5,341.4M193,349.4L208,341.4M203.5,349.4L218.5,341.4M214,349.4L229,341.4M224.5,349.4L240.2,342.8M235,349.4L251.2,344.3M245.5,349.4L262.1,345.9M256,349.4L272.9,347.6M266.5,349.4L283.5,348.6M277,349.4L294,349.2M287.5,349.4L304.5,349.8M298,349.4L315,350.5M308.5,349.4L325.4,351.1M319,349.4L335.8,351.7M329.5,349.4L346.3,352.2M340,349.4L356.1,355M350.5,349.4L366.4,355.5M361,349.4L376.7,355.9M371.5,349.4L387,356.4M382,349.4L397.3,356.8M392.5,349.4L407.6,357.3M403,349.4L417.8,357.7M413.5,349.4L428.1,358.1M4,361.7L11.5,347.6M14.5,361.7L22,347.6M25,361.7L32.5,347.6M35.5,361.7L43,347.6M46,361.7L53.5,347.6M67,361.7L82,353.7M77.5,361.7L92.5,353.7M88,361.7L103,353.7M98.5,361.7L113.5,353.7M109,361.7L124,353.7M119.5,361.7L134.5,353.7M130,361.7L145,353.7M140.5,361.7L155.5,353.7M151,361.7L166,353.7M161.5,361.7L176.5,353.7M172,361.7L187,353.7M182.5,361.7L197.5,353.7M193,361.7L208,353.7M203.5,361.7L218.5,353.7M214,361.7L229,353.7M224.5,361.7L240.2,355.1M235,361.7L251.2,356.6M245.5,361.7L262.1,358.2M256,361.7L272.9,359.9M266.5,361.7L283.5,360.9M277,361.7L294,361.5M287.5,361.7L304.5,362.1M298,361.7L315,362.8M308.5,361.7L325.4,363.4M319,361.7L335.8,364M329.5,361.7L346.3,364.5M340,361.7L356.1,367.3M350.5,361.7L366.4,367.8M361,361.7L376.7,368.2M371.5,361.7L387,368.7M382,361.7L397.3,369.1M392.5,361.7L407.6,369.6M403,361.7L417.8,370M413.5,361.7L428.1,370.4" fill="none" stroke="#000" stroke-width="1.45"/><path d="M25.9,26.2L21.6,25.2L23.9,22.3ZM36.4,26.2L32.1,25.2L34.4,22.3ZM46.9,26.2L42.6,25.2L44.9,22.3ZM57.4,26.2L53.1,25.2L55.4,22.3ZM25.9,38.5L21.6,37.5L23.9,34.6ZM36.4,38.5L32.1,37.5L34.4,34.6ZM46.9,38.5L42.6,37.5L44.9,34.6ZM57.4,38.5L53.1,37.5L55.4,34.6ZM36.4,50.8L32.1,49.8L34.4,46.9ZM46.9,50.8L42.6,49.8L44.9,46.9ZM57.4,50.8L53.1,49.8L55.4,46.9ZM67.9,50.8L63.6,49.8L65.9,46.9ZM46.9,63.1L42.6,62.1L44.9,59.2ZM57.4,63.1L53.1,62.1L55.4,59.2ZM67.9,63.1L63.6,62.1L65.9,59.2ZM78.4,63.1L74.1,62.1L76.4,59.2ZM57.4,75.4L53.1,74.4L55.4,71.5ZM67.9,75.4L63.6,74.4L65.9,71.5ZM78.4,75.4L74.1,74.4L76.4,71.5ZM88.9,75.4L84.6,74.4L86.9,71.5ZM56.5,88.8L52.3,87.4L54.9,84.7ZM67,88.8L62.8,87.4L65.4,84.7ZM77.5,88.8L73.3,87.4L75.9,84.7ZM88,88.8L83.8,87.4L86.4,84.7ZM98.5,88.8L94.3,87.4L96.9,84.7ZM63.3,103.9L59.8,101.3L63.1,99.5ZM73.8,103.9L70.3,101.3L73.6,99.5ZM84.3,103.9L80.8,101.3L84.1,99.5ZM94.8,103.9L91.3,101.3L94.6,99.5ZM58.9,117.7L56.4,114.1L60.1,113.5ZM69.4,117.7L66.9,114.1L70.6,113.5ZM79.9,117.7L77.4,114.1L81.1,113.5ZM90.4,117.7L87.9,114.1L91.6,113.5ZM100.9,117.7L98.4,114.1L102.1,113.5ZM68.5,130.1L66.2,126.3L69.9,126ZM79,130.1L76.7,126.3L80.4,126ZM89.5,130.1L87.2,126.3L90.9,126ZM100,130.1L97.7,126.3L101.4,126ZM110.5,130.1L108.2,126.3L111.9,126ZM79,142.4L76.7,138.6L80.4,138.3ZM89.5,142.4L87.2,138.6L90.9,138.3ZM100,142.4L97.7,138.6L101.4,138.3ZM110.5,142.4L108.2,138.6L111.9,138.3ZM79,154.7L76.7,150.9L80.4,150.6ZM89.5,154.7L87.2,150.9L90.9,150.6ZM100,154.7L97.7,150.9L101.4,150.6ZM110.5,154.7L108.2,150.9L111.9,150.6ZM121,154.7L118.7,150.9L122.4,150.6ZM79,167L76.7,163.2L80.4,162.9ZM89.5,167L87.2,163.2L90.9,162.9ZM100,167L97.7,163.2L101.4,162.9ZM110.5,167L108.2,163.2L111.9,162.9ZM121,167L118.7,163.2L122.4,162.9ZM79,179.3L76.7,175.5L80.4,175.2ZM89.5,179.3L87.2,175.5L90.9,175.2ZM100,179.3L97.7,175.5L101.4,175.2ZM110.5,179.3L108.2,175.5L111.9,175.2ZM121,179.3L118.7,175.5L122.4,175.2ZM131.5,179.3L129.2,175.5L132.9,175.2ZM79,191.6L76.7,187.8L80.4,187.5ZM89.5,191.6L87.2,187.8L90.9,187.5ZM100,191.6L97.7,187.8L101.4,187.5ZM110.5,191.6L108.2,187.8L111.9,187.5ZM121,191.6L118.7,187.8L122.4,187.5ZM131.5,191.6L129.2,187.8L132.9,187.5ZM79,203.9L76.7,200.1L80.4,199.8ZM89.5,203.9L87.2,200.1L90.9,199.8ZM100,203.9L97.7,200.1L101.4,199.8ZM110.5,203.9L108.2,200.1L111.9,199.8ZM121,203.9L118.7,200.1L122.4,199.8ZM131.5,203.9L129.2,200.1L132.9,199.8ZM142,203.9L139.7,200.1L143.4,199.8ZM79,216.2L76.7,212.4L80.4,212.1ZM89.5,216.2L87.2,212.4L90.9,212.1ZM100,216.2L97.7,212.4L101.4,212.1ZM110.5,216.2L108.2,212.4L111.9,212.1ZM121,216.2L118.7,212.4L122.4,212.1ZM131.5,216.2L129.2,212.4L132.9,212.1ZM142,216.2L139.7,212.4L143.4,212.1ZM345.7,206.9L341.3,207.5L342.5,203.9ZM356.1,207.4L351.7,207.8L352.9,204.3ZM366.4,207.9L362,208.2L363.3,204.7ZM376.7,208.3L372.3,208.5L373.7,205.1ZM387,208.8L382.6,208.8L384.1,205.4ZM397.3,209.2L392.9,209.2L394.5,205.8ZM407.6,209.7L403.2,209.5L404.9,206.2ZM79,228.5L76.7,224.7L80.4,224.4ZM89.5,228.5L87.2,224.7L90.9,224.4ZM100,228.5L97.7,224.7L101.4,224.4ZM110.5,228.5L108.2,224.7L111.9,224.4ZM121,228.5L118.7,224.7L122.4,224.4ZM131.5,228.5L129.2,224.7L132.9,224.4ZM273,214.7L268.9,216.4L269.1,212.7ZM283.4,215.7L279.3,217.2L279.6,213.5ZM293.9,216.3L289.7,217.6L290.1,213.9ZM304.3,216.9L300,218.1L300.6,214.4ZM314.7,217.5L310.4,218.5L311.1,214.9ZM325,218.1L320.7,219L321.6,215.4ZM335.4,218.7L331,219.4L332,215.9ZM345.7,219.2L341.3,219.8L342.5,216.2ZM356.1,219.7L351.7,220.1L352.9,216.6ZM366.4,220.2L362,220.5L363.3,217ZM376.7,220.6L372.3,220.8L373.7,217.4ZM387,221.1L382.6,221.1L384.1,217.7ZM100,240.8L97.7,237L101.4,236.7ZM273,227L268.9,228.7L269.1,225ZM283.4,228L279.3,229.5L279.6,225.8ZM293.9,228.6L289.7,229.9L290.1,226.2ZM304.3,229.2L300,230.4L300.6,226.7ZM314.7,229.8L310.4,230.8L311.1,227.2ZM325,230.4L320.7,231.3L321.6,227.7ZM335.4,231L331,231.7L332,228.2ZM345.7,231.5L341.3,232.1L342.5,228.5ZM356.1,232L351.7,232.4L352.9,228.9ZM366.4,232.5L362,232.8L363.3,229.3ZM376.7,232.9L372.3,233.1L373.7,229.7ZM387,233.4L382.6,233.4L384.1,230ZM-0.2,247.2L2.3,243.6L4.2,246.8ZM10.3,247.2L12.8,243.6L14.7,246.8ZM20.8,247.2L23.3,243.6L25.2,246.8ZM31.3,247.2L33.8,243.6L35.7,246.8ZM251.2,233.6L248,236.6L246.9,233ZM262.1,235.2L258.6,237.9L257.9,234.2ZM273,239.3L268.9,241L269.1,237.3ZM283.4,240.3L279.3,241.8L279.6,238.1ZM293.9,240.9L289.7,242.2L290.1,238.5ZM304.3,241.5L300,242.7L300.6,239ZM314.7,242.1L310.4,243.1L311.1,239.5ZM325,242.7L320.7,243.6L321.6,240ZM335.4,243.3L331,244L332,240.5ZM345.7,243.8L341.3,244.4L342.5,240.8ZM356.1,244.3L351.7,244.7L352.9,241.2ZM366.4,244.8L362,245.1L363.3,241.6ZM376.7,245.2L372.3,245.4L373.7,242ZM387,245.7L382.6,245.7L384.1,242.3ZM397.3,246.1L392.9,246.1L394.5,242.7ZM407.6,246.6L403.2,246.4L404.9,243.1ZM417.8,247L413.4,246.7L415.3,243.4ZM428.1,247.4L423.7,247L425.6,243.8ZM-0.2,259.5L2.3,255.9L4.2,259.1ZM10.3,259.5L12.8,255.9L14.7,259.1ZM20.8,259.5L23.3,255.9L25.2,259.1ZM31.3,259.5L33.8,255.9L35.7,259.1ZM272.9,249.2L269.1,251.5L268.7,247.8ZM283.5,250.2L279.6,252.2L279.4,248.5ZM294,250.8L290,252.7L290,249ZM304.5,251.4L300.5,253.2L300.6,249.5ZM315,252.1L310.9,253.7L311.1,250ZM325.4,252.7L321.3,254.1L321.6,250.4ZM335.8,253.3L331.6,254.6L332.1,250.9ZM346.3,253.8L342,255L342.6,251.3ZM356.7,254.3L352.4,255.4L353.1,251.7ZM367.1,254.8L362.8,255.7L363.6,252.1ZM377.5,255.3L373.1,256.1L374.1,252.5ZM387.8,255.8L383.5,256.4L384.5,252.9ZM398.2,256.2L393.8,256.8L395,253.2ZM408.5,256.7L404.1,257.1L405.4,253.6ZM418.8,257.2L414.5,257.5L415.8,254ZM429.2,257.6L424.8,257.8L426.2,254.4ZM-0.2,271.8L2.3,268.2L4.2,271.4ZM10.3,271.8L12.8,268.2L14.7,271.4ZM20.8,271.8L23.3,268.2L25.2,271.4ZM251.2,258.2L248,261.2L246.9,257.6ZM262.1,259.8L258.6,262.5L257.9,258.8ZM272.9,261.5L269.1,263.8L268.7,260.1ZM283.5,262.5L279.6,264.5L279.4,260.8ZM294,263.1L290,265L290,261.3ZM304.5,263.7L300.5,265.5L300.6,261.8ZM315,264.4L310.9,266L311.1,262.3ZM325.4,265L321.3,266.4L321.6,262.7ZM335.8,265.6L331.6,266.9L332.1,263.2ZM346.3,266.1L342,267.3L342.6,263.6ZM356.7,266.6L352.4,267.7L353.1,264ZM367.1,267.1L362.8,268L363.6,264.4ZM377.5,267.6L373.1,268.4L374.1,264.8ZM387.8,268.1L383.5,268.7L384.5,265.2ZM398.2,268.5L393.8,269.1L395,265.5ZM408.5,269L404.1,269.4L405.4,265.9ZM418.8,269.5L414.5,269.8L415.8,266.3ZM429.2,269.9L424.8,270.1L426.2,266.7ZM10.3,284.1L12.8,280.5L14.7,283.7ZM208,267.6L205.4,271.1L203.6,267.8ZM218.5,267.6L215.9,271.1L214.1,267.8ZM229,267.6L226.4,271.1L224.6,267.8ZM240.2,269L237.2,272.2L235.8,268.8ZM251.2,270.5L248,273.5L246.9,269.9ZM262.1,272.1L258.6,274.8L257.9,271.1ZM272.9,273.8L269.1,276.1L268.7,272.4ZM283.5,274.8L279.6,276.8L279.4,273.1ZM294,275.4L290,277.3L290,273.6ZM304.5,276L300.5,277.8L300.6,274.1ZM315,276.7L310.9,278.3L311.1,274.6ZM325.4,277.3L321.3,278.7L321.6,275ZM335.8,277.9L331.6,279.2L332.1,275.5ZM346.3,278.4L342,279.6L342.6,275.9ZM356.7,278.9L352.4,280L353.1,276.3ZM367.1,279.4L362.8,280.3L363.6,276.7ZM377.5,279.9L373.1,280.7L374.1,277.1ZM387.8,280.4L383.5,281L384.5,277.5ZM398.2,280.8L393.8,281.4L395,277.8ZM408.5,281.3L404.1,281.7L405.4,278.2ZM418.8,281.8L414.5,282.1L415.8,278.6ZM429.2,282.2L424.8,282.4L426.2,279ZM197.5,279.9L194.9,283.4L193.1,280.1ZM208,279.9L205.4,283.4L203.6,280.1ZM218.5,279.9L215.9,283.4L214.1,280.1ZM229,279.9L226.4,283.4L224.6,280.1ZM240.2,281.3L237.2,284.5L235.8,281.1ZM251.2,282.8L248,285.8L246.9,282.2ZM262.1,284.4L258.6,287.1L257.9,283.4ZM272.9,286.1L269.1,288.4L268.7,284.7ZM283.5,287.1L279.6,289.1L279.4,285.4ZM294,287.7L290,289.6L290,285.9ZM304.5,288.3L300.5,290.1L300.6,286.4ZM315,289L310.9,290.6L311.1,286.9ZM325.4,289.6L321.3,291L321.6,287.3ZM335.8,290.2L331.6,291.5L332.1,287.8ZM346.3,290.7L342,291.9L342.6,288.2ZM356.7,291.2L352.4,292.3L353.1,288.6ZM367.1,291.7L362.8,292.6L363.6,289ZM377.5,292.2L373.1,293L374.1,289.4ZM387.8,292.7L383.5,293.3L384.5,289.8ZM398.2,293.1L393.8,293.7L395,290.1ZM408.5,293.6L404.1,294L405.4,290.5ZM418.8,294.1L414.5,294.4L415.8,290.9ZM429.2,294.5L424.8,294.7L426.2,291.3ZM7.4,290.8L7.8,295.2L4.3,293.9ZM17.9,290.8L18.3,295.2L14.8,293.9ZM28.4,290.8L28.8,295.2L25.3,293.9ZM38.9,290.8L39.3,295.2L35.8,293.9ZM187,292.2L184.4,295.7L182.6,292.4ZM197.5,292.2L194.9,295.7L193.1,292.4ZM208,292.2L205.4,295.7L203.6,292.4ZM218.5,292.2L215.9,295.7L214.1,292.4ZM229,292.2L226.4,295.7L224.6,292.4ZM240.2,293.6L237.2,296.8L235.8,293.4ZM251.2,295.1L248,298.1L246.9,294.5ZM262.1,296.7L258.6,299.4L257.9,295.7ZM272.9,298.4L269.1,300.7L268.7,297ZM283.5,299.4L279.6,301.4L279.4,297.7ZM294,300L290,301.9L290,298.2ZM304.5,300.6L300.5,302.4L300.6,298.7ZM315,301.3L310.9,302.9L311.1,299.2ZM325.4,301.9L321.3,303.3L321.6,299.6ZM335.8,302.5L331.6,303.8L332.1,300.1ZM346.3,303L342,304.2L342.6,300.5ZM356.7,303.5L352.4,304.6L353.1,300.9ZM367.1,304L362.8,304.9L363.6,301.3ZM377.5,304.5L373.1,305.3L374.1,301.7ZM387.8,305L383.5,305.6L384.5,302.1ZM398.2,305.4L393.8,306L395,302.4ZM408.5,305.9L404.1,306.3L405.4,302.8ZM418.8,306.4L414.5,306.7L415.8,303.2ZM429.2,306.8L424.8,307L426.2,303.6ZM7.4,303.1L7.8,307.5L4.3,306.2ZM17.9,303.1L18.3,307.5L14.8,306.2ZM28.4,303.1L28.8,307.5L25.3,306.2ZM38.9,303.1L39.3,307.5L35.8,306.2ZM176.5,304.5L173.9,308L172.1,304.7ZM187,304.5L184.4,308L182.6,304.7ZM197.5,304.5L194.9,308L193.1,304.7ZM208,304.5L205.4,308L203.6,304.7ZM218.5,304.5L215.9,308L214.1,304.7ZM229,304.5L226.4,308L224.6,304.7ZM240.2,305.9L237.2,309.1L235.8,305.7ZM251.2,307.4L248,310.4L246.9,306.8ZM262.1,309L258.6,311.7L257.9,308ZM272.9,310.7L269.1,313L268.7,309.3ZM283.5,311.7L279.6,313.7L279.4,310ZM294,312.3L290,314.2L290,310.5ZM304.5,312.9L300.5,314.7L300.6,311ZM315,313.6L310.9,315.2L311.1,311.5ZM325.4,314.2L321.3,315.6L321.6,311.9ZM335.8,314.8L331.6,316.1L332.1,312.4ZM346.3,315.3L342,316.5L342.6,312.8ZM356.7,315.8L352.4,316.9L353.1,313.2ZM367.1,316.3L362.8,317.2L363.6,313.6ZM377.5,316.8L373.1,317.6L374.1,314ZM387.8,317.3L383.5,317.9L384.5,314.4ZM398.2,317.7L393.8,318.3L395,314.7ZM408.5,318.2L404.1,318.6L405.4,315.1ZM418.8,318.7L414.5,319L415.8,315.5ZM429.2,319.1L424.8,319.3L426.2,315.9ZM7.4,315.4L7.8,319.8L4.3,318.5ZM17.9,315.4L18.3,319.8L14.8,318.5ZM28.4,315.4L28.8,319.8L25.3,318.5ZM52.5,325.4L48.4,327.1L48.6,323.4ZM63,325.4L58.9,327.1L59.1,323.4ZM73.5,325.4L69.4,327.1L69.6,323.4ZM84,325.4L79.9,327.1L80.1,323.4ZM94.5,325.4L90.4,327.1L90.6,323.4ZM105,325.4L100.9,327.1L101.1,323.4ZM115.5,325.4L111.4,327.1L111.6,323.4ZM126,325.4L121.9,327.1L122.1,323.4ZM136.5,325.4L132.4,327.1L132.6,323.4ZM145,316.8L142.4,320.3L140.6,317ZM155.5,316.8L152.9,320.3L151.1,317ZM166,316.8L163.4,320.3L161.6,317ZM176.5,316.8L173.9,320.3L172.1,317ZM187,316.8L184.4,320.3L182.6,317ZM197.5,316.8L194.9,320.3L193.1,317ZM208,316.8L205.4,320.3L203.6,317ZM218.5,316.8L215.9,320.3L214.1,317ZM229,316.8L226.4,320.3L224.6,317ZM240.2,318.2L237.2,321.4L235.8,318ZM251.2,319.7L248,322.7L246.9,319.1ZM262.1,321.3L258.6,324L257.9,320.3ZM272.9,323L269.1,325.3L268.7,321.6ZM283.5,324L279.6,326L279.4,322.3ZM294,324.6L290,326.5L290,322.8ZM304.5,325.2L300.5,327L300.6,323.3ZM315,325.9L310.9,327.5L311.1,323.8ZM325.4,326.5L321.3,327.9L321.6,324.2ZM335.8,327.1L331.6,328.4L332.1,324.7ZM346.3,327.6L342,328.8L342.6,325.1ZM356.7,328.1L352.4,329.2L353.1,325.5ZM367.1,328.6L362.8,329.5L363.6,325.9ZM377.5,329.1L373.1,329.9L374.1,326.3ZM387.8,329.6L383.5,330.2L384.5,326.7ZM398.2,330L393.8,330.6L395,327ZM408.5,330.5L404.1,330.9L405.4,327.4ZM418.8,331L414.5,331.3L415.8,327.8ZM429.2,331.4L424.8,331.6L426.2,328.2ZM124,329.1L121.4,332.6L119.6,329.3ZM134.5,329.1L131.9,332.6L130.1,329.3ZM145,329.1L142.4,332.6L140.6,329.3ZM155.5,329.1L152.9,332.6L151.1,329.3ZM166,329.1L163.4,332.6L161.6,329.3ZM176.5,329.1L173.9,332.6L172.1,329.3ZM187,329.1L184.4,332.6L182.6,329.3ZM197.5,329.1L194.9,332.6L193.1,329.3ZM208,329.1L205.4,332.6L203.6,329.3ZM218.5,329.1L215.9,332.6L214.1,329.3ZM229,329.1L226.4,332.6L224.6,329.3ZM240.2,330.5L237.2,333.7L235.8,330.3ZM251.2,332L248,335L246.9,331.4ZM262.1,333.6L258.6,336.3L257.9,332.6ZM272.9,335.3L269.1,337.6L268.7,333.9ZM283.5,336.3L279.6,338.3L279.4,334.6ZM294,336.9L290,338.8L290,335.1ZM304.5,337.5L300.5,339.3L300.6,335.6ZM315,338.2L310.9,339.8L311.1,336.1ZM325.4,338.8L321.3,340.2L321.6,336.5ZM335.8,339.4L331.6,340.7L332.1,337ZM346.3,339.9L342,341.1L342.6,337.4ZM356.1,342.7L351.7,343.1L352.9,339.6ZM366.4,343.2L362,343.5L363.3,340ZM376.7,343.6L372.3,343.8L373.7,340.4ZM387,344.1L382.6,344.1L384.1,340.7ZM397.3,344.5L392.9,344.5L394.5,341.1ZM407.6,345L403.2,344.8L404.9,341.5ZM417.8,345.4L413.4,345.1L415.3,341.8ZM428.1,345.8L423.7,345.4L425.6,342.2ZM11.5,335.3L11.3,339.7L8,337.9ZM22,335.3L21.8,339.7L18.5,337.9ZM32.5,335.3L32.3,339.7L29,337.9ZM43,335.3L42.8,339.7L39.5,337.9ZM103,341.4L100.4,344.9L98.6,341.6ZM113.5,341.4L110.9,344.9L109.1,341.6ZM124,341.4L121.4,344.9L119.6,341.6ZM134.5,341.4L131.9,344.9L130.1,341.6ZM145,341.4L142.4,344.9L140.6,341.6ZM155.5,341.4L152.9,344.9L151.1,341.6ZM166,341.4L163.4,344.9L161.6,341.6ZM176.5,341.4L173.9,344.9L172.1,341.6ZM187,341.4L184.4,344.9L182.6,341.6ZM197.5,341.4L194.9,344.9L193.1,341.6ZM208,341.4L205.4,344.9L203.6,341.6ZM218.5,341.4L215.9,344.9L214.1,341.6ZM229,341.4L226.4,344.9L224.6,341.6ZM240.2,342.8L237.2,346L235.8,342.6ZM251.2,344.3L248,347.3L246.9,343.7ZM262.1,345.9L258.6,348.6L257.9,344.9ZM272.9,347.6L269.1,349.9L268.7,346.2ZM283.5,348.6L279.6,350.6L279.4,346.9ZM294,349.2L290,351.1L290,347.4ZM304.5,349.8L300.5,351.6L300.6,347.9ZM315,350.5L310.9,352.1L311.1,348.4ZM325.4,351.1L321.3,352.5L321.6,348.8ZM335.8,351.7L331.6,353L332.1,349.3ZM346.3,352.2L342,353.4L342.6,349.7ZM356.1,355L351.7,355.4L352.9,351.9ZM366.4,355.5L362,355.8L363.3,352.3ZM376.7,355.9L372.3,356.1L373.7,352.7ZM387,356.4L382.6,356.4L384.1,353ZM397.3,356.8L392.9,356.8L394.5,353.4ZM407.6,357.3L403.2,357.1L404.9,353.8ZM417.8,357.7L413.4,357.4L415.3,354.1ZM428.1,358.1L423.7,357.7L425.6,354.5ZM11.5,347.6L11.3,352L8,350.2ZM22,347.6L21.8,352L18.5,350.2ZM32.5,347.6L32.3,352L29,350.2ZM43,347.6L42.8,352L39.5,350.2ZM53.5,347.6L53.3,352L50,350.2ZM82,353.7L79.4,357.2L77.6,353.9ZM92.5,353.7L89.9,357.2L88.1,353.9ZM103,353.7L100.4,357.2L98.6,353.9ZM113.5,353.7L110.9,357.2L109.1,353.9ZM124,353.7L121.4,357.2L119.6,353.9ZM134.5,353.7L131.9,357.2L130.1,353.9ZM145,353.7L142.4,357.2L140.6,353.9ZM155.5,353.7L152.9,357.2L151.1,353.9ZM166,353.7L163.4,357.2L161.6,353.9ZM176.5,353.7L173.9,357.2L172.1,353.9ZM187,353.7L184.4,357.2L182.6,353.9ZM197.5,353.7L194.9,357.2L193.1,353.9ZM208,353.7L205.4,357.2L203.6,353.9ZM218.5,353.7L215.9,357.2L214.1,353.9ZM229,353.7L226.4,357.2L224.6,353.9ZM240.2,355.1L237.2,358.3L235.8,354.9ZM251.2,356.6L248,359.6L246.9,356ZM262.1,358.2L258.6,360.9L257.9,357.2ZM272.9,359.9L269.1,362.2L268.7,358.5ZM283.5,360.9L279.6,362.9L279.4,359.2ZM294,361.5L290,363.4L290,359.7ZM304.5,362.1L300.5,363.9L300.6,360.2ZM315,362.8L310.9,364.4L311.1,360.7ZM325.4,363.4L321.3,364.8L321.6,361.1ZM335.8,364L331.6,365.3L332.1,361.6ZM346.3,364.5L342,365.7L342.6,362ZM356.1,367.3L351.7,367.7L352.9,364.2ZM366.4,367.8L362,368.1L363.3,364.6ZM376.7,368.2L372.3,368.4L373.7,365ZM387,368.7L382.6,368.7L384.1,365.3ZM397.3,369.1L392.9,369.1L394.5,365.7ZM407.6,369.6L403.2,369.4L404.9,366.1ZM417.8,370L413.4,369.7L415.3,366.4ZM428.1,370.4L423.7,370L425.6,366.8Z" fill="#000" stroke="#000" stroke-width="0.5"/><text x="85.9" y="43.3" class="cl" text-anchor="middle" style="fill:#fa3c3c">50</text><text x="103.8" y="102.9" class="cl" text-anchor="middle" style="fill:#fa3c3c">50</text><text x="63" y="109.2" class="cl" text-anchor="middle" style="fill:#fa3c3c">40</text><text x="52.6" y="182.1" class="cl" text-anchor="middle" style="fill:#fa3c3c">50</text><text x="44.2" y="234.2" class="cl" text-anchor="middle" style="fill:#fa3c3c">40</text><text x="146.3" y="233.3" class="cl" text-anchor="middle" style="fill:#fa3c3c">50</text><text x="173.4" y="250.8" class="cl" text-anchor="middle" style="fill:#fa3c3c">40</text><text x="233.8" y="242.5" class="cl" text-anchor="middle" style="fill:#fa3c3c">50</text><text x="185.9" y="121.7" class="cl" text-anchor="middle" style="fill:#fa3c3c">40</text><text x="167.2" y="173.8" class="cl" text-anchor="middle" style="fill:#fa3c3c">40</text><text x="202.6" y="200.8" class="cl" text-anchor="middle" style="fill:#fa3c3c">40</text><text x="223.4" y="207.1" class="cl" text-anchor="middle" style="fill:#fa3c3c">50</text><text x="246.3" y="163.3" class="cl" text-anchor="middle" style="fill:#fa3c3c">40</text><text x="360.9" y="138.3" class="cl" text-anchor="middle" style="fill:#fa3c3c">40</text><text x="325.5" y="237.5" class="cl" text-anchor="middle" style="fill:#fa3c3c">50</text><text x="204.7" y="32.1" class="cl" text-anchor="middle" style="fill:#fa3c3c">40</text><text x="96.3" y="121.7" class="cl" text-anchor="middle" style="fill:#fa3c3c">50</text><text x="63" y="246.7" class="cl" text-anchor="middle" style="fill:#fa3c3c">40</text>
</g>
<rect x="0" y="0" width="420" height="373" fill="none" stroke="#000" stroke-width="2"/>
<path d="M-4,23.2h4M-4,58.1h4M-4,93h4M-4,127.9h4M-4,162.8h4M-4,197.6h4M-4,232.5h4M-4,267.4h4M-4,302.2h4M-4,337.1h4M-4,372h4M0,373v4M50,373v4M100,373v4M150,373v4M200,373v4M250,373v4M300,373v4M350,373v4M400,373v4" stroke="#000" stroke-width="1.8" fill="none"/>
<text x="-5.8" y="27.1" class="tk" text-anchor="end" textLength="17.5" lengthAdjust="spacingAndGlyphs">12S</text>
<text x="-5.8" y="62" class="tk" text-anchor="end" textLength="17.5" lengthAdjust="spacingAndGlyphs">15S</text>
<text x="-5.8" y="96.9" class="tk" text-anchor="end" textLength="17.5" lengthAdjust="spacingAndGlyphs">18S</text>
<text x="-5.8" y="131.8" class="tk" text-anchor="end" textLength="17.5" lengthAdjust="spacingAndGlyphs">21S</text>
<text x="-5.8" y="166.7" class="tk" text-anchor="end" textLength="17.5" lengthAdjust="spacingAndGlyphs">24S</text>
<text x="-5.8" y="201.5" class="tk" text-anchor="end" textLength="17.5" lengthAdjust="spacingAndGlyphs">27S</text>
<text x="-5.8" y="236.4" class="tk" text-anchor="end" textLength="17.5" lengthAdjust="spacingAndGlyphs">30S</text>
<text x="-5.8" y="271.3" class="tk" text-anchor="end" textLength="17.5" lengthAdjust="spacingAndGlyphs">33S</text>
<text x="-5.8" y="306.1" class="tk" text-anchor="end" textLength="17.5" lengthAdjust="spacingAndGlyphs">36S</text>
<text x="-5.8" y="341" class="tk" text-anchor="end" textLength="17.5" lengthAdjust="spacingAndGlyphs">39S</text>
<text x="-5.8" y="375.9" class="tk" text-anchor="end" textLength="17.5" lengthAdjust="spacingAndGlyphs">42S</text>
<text x="0.4" y="385.6" class="tk" text-anchor="middle" textLength="18.3" lengthAdjust="spacingAndGlyphs">70W</text>
<text x="50.4" y="385.6" class="tk" text-anchor="middle" textLength="18.3" lengthAdjust="spacingAndGlyphs">65W</text>
<text x="100.4" y="385.6" class="tk" text-anchor="middle" textLength="18.3" lengthAdjust="spacingAndGlyphs">60W</text>
<text x="150.4" y="385.6" class="tk" text-anchor="middle" textLength="18.3" lengthAdjust="spacingAndGlyphs">55W</text>
<text x="200.4" y="385.6" class="tk" text-anchor="middle" textLength="18.3" lengthAdjust="spacingAndGlyphs">50W</text>
<text x="250.4" y="385.6" class="tk" text-anchor="middle" textLength="18.3" lengthAdjust="spacingAndGlyphs">45W</text>
<text x="300.4" y="385.6" class="tk" text-anchor="middle" textLength="18.3" lengthAdjust="spacingAndGlyphs">40W</text>
<text x="350.4" y="385.6" class="tk" text-anchor="middle" textLength="18.3" lengthAdjust="spacingAndGlyphs">35W</text>
<text x="400.4" y="385.6" class="tk" text-anchor="middle" textLength="18.3" lengthAdjust="spacingAndGlyphs">30W</text>
</g>
<rect x="586" y="1119" width="433" height="48" fill="#fff" stroke="#000" stroke-width="1.5"/>
<text x="594.3" y="1138.3" class="lg" textLength="414.7" lengthAdjust="spacingAndGlyphs">[OMEGA(-0.001)+UR&gt;70(1000-500)+k&gt;35_TTS&gt;50+LIF&lt;-4](roxo)+[Vento(850)&gt;10m/s](verde)</text>
<text x="589" y="1151.2" class="lg" textLength="425.5" lengthAdjust="spacingAndGlyphs">[CJ(250)&gt;30m/s](amarelo)+[Agua_P(40-60mm)](vermelho)+LC(850)+[Vento(850)&gt;15m/s](vetor)</text>
<text x="1254" y="716.3" class="t" font-size="20.6" textLength="85" lengthAdjust="spacingAndGlyphs">GRANIZO</text>
<g transform="translate(1087,728)">
<g clip-path="url(#cp)">
<path d="M17.5,124.1h1.3v1.8h-1.3zM20.6,124.1h1.1v1.9h-1.1zM20.9,145h1.7v1h-1.7zM30.6,135.3h1.4v2.2h-1.4zM19.5,121h2.1v1.4h-2.1zM22.1,131.3h1.3v2.1h-1.3zM22.4,127.6h1.6v1.6h-1.6zM41,148.3h1.3v1.1h-1.3zM38.1,153.3h0.8v1.8h-0.8zM38.9,142h1.1v1.9h-1.1zM35.4,126.8h1.7v1.1h-1.7zM18.2,131.5h1.3v1.4h-1.3zM33.3,148.2h2.1v2.2h-2.1zM42,146.7h1.2v1h-1.2zM32.8,138.5h1.7v0.9h-1.7zM22,151h1.6v1.8h-1.6zM19.6,133.6h2.1v1.7h-2.1zM42,126.9h1.4v1.9h-1.4zM28.3,146.6h1.6v1h-1.6zM19.6,153.1h1v1.1h-1zM25.5,144.1h2v1.5h-2zM29.6,146.6h1.2v1.3h-1.2zM32.5,141.5h0.9v1h-0.9zM20.6,144.5h1.8v2.2h-1.8zM36.4,128.8h1.9v2.2h-1.9zM25.9,120.7h1.3v1.2h-1.3zM21.6,121.8h1v2h-1zM18.4,140.8h1.1v1.1h-1.1zM37.7,130.3h1.1v1.4h-1.1zM34.5,137.8h2v1.4h-2zM30.3,144.2h1.4v1.8h-1.4zM28.8,124.8h1v1.9h-1zM35.8,151.8h1.8v1.6h-1.8zM21.3,148.8h1v1.4h-1zM20.7,133h1.2v1.4h-1.2zM34.9,138.4h1.1v1.9h-1.1zM35.5,147.9h0.8v1.7h-0.8zM39.6,129h1.1v1.9h-1.1zM26.3,133.7h1.9v1.3h-1.9zM22.1,127.5h1.3v1.8h-1.3z" fill="#1e3cff"/><path d="M17.6,210.8h0.9v1.1h-0.9zM20.8,198.6h1.4v1.9h-1.4zM16.5,186.2h0.8v1.4h-0.8zM16.7,198.4h0.8v0.8h-0.8zM17.7,210.2h1.2v1.9h-1.2zM20.2,195.5h1.7v1.1h-1.7zM20.6,213.9h1.4v1.2h-1.4zM14.2,202.6h1v1.2h-1zM19.8,217.9h1.6v1.4h-1.6zM23.7,191.5h1.3v1.6h-1.3zM19.9,187.9h1.3v1.8h-1.3zM16,208.1h0.9v1.9h-0.9zM21.6,192.2h2v1.8h-2zM13.8,189h1.4v2h-1.4z" fill="#1e3cff"/><path d="M44.8,182.5h2v1.6h-2zM49.8,200.9h2.2v1.7h-2.2zM50.4,198.8h2.3v2.7h-2.3zM59.1,211.8h2.7v2.1h-2.7zM45.3,184.1h3v1.6h-3zM52.8,214.9h2v2.2h-2zM50,216.2h2.7v2.9h-2.7zM50.6,195.8h2.9v2.8h-2.9zM59.2,208.4h3v2.2h-3zM52.6,210.2h2.3v1.7h-2.3zM53.1,213.4h3v1.7h-3zM49.3,189.3h2.1v3.1h-2.1zM50.1,192.5h2v2.2h-2zM54.7,193.6h1.8v1.9h-1.8zM47,214.7h1.8v2.8h-1.8zM47.2,210h2.2v1.6h-2.2zM52.3,199h2.1v2.7h-2.1zM51.2,183.1h2.5v2h-2.5zM58,201.3h2.8v1.7h-2.8zM55.4,203.6h2.9v3h-2.9zM52.5,203h2.8v1.9h-2.8zM52.4,210.3h2.5v2.4h-2.5zM58.2,217.3h1.9v1.6h-1.9zM53.7,186.3h3.1v2.3h-3.1zM52.2,211.4h3v1.7h-3zM50.7,187.5h2.3v1.7h-2.3z" fill="#f08228"/><path d="M381,334.4h2.4v1.4h-2.4zM396.1,350.7h2v1.7h-2zM400.5,352.1h1.3v2.5h-1.3zM380.4,333.4h2.3v2.4h-2.3zM385.6,335.6h1.3v1.8h-1.3zM384.2,332.2h1.6v2.3h-1.6zM376.6,332.8h1.4v2.6h-1.4zM400.6,349.8h2.5v1.7h-2.5zM386,341.9h2.2v2.4h-2.2zM389.8,340.1h1.4v1.9h-1.4zM386.2,337.1h2.1v2.1h-2.1zM386.4,342.5h2v2.6h-2zM392.6,349.2h2.3v1.8h-2.3zM393.1,341.4h2.2v2.5h-2.2zM395.8,347.7h1.3v2.5h-1.3zM387.1,343.3h2v1.8h-2zM395.3,351.7h2.5v1.4h-2.5zM382.9,332.6h2.1v1.9h-2.1zM378,332.8h1.4v1.7h-1.4zM399.3,349.6h2.4v2.6h-2.4zM382,332.3h2.5v2h-2.5zM382.9,340.1h2.3v2.1h-2.3z" fill="#f08228"/><path d="M413,363.7h2v2.1h-2zM407.3,363.4h2.9v2.7h-2.9zM409.3,364.7h2.6v1.8h-2.6zM410.5,365.5h1.8v2.9h-1.8zM413.7,363.7h1.9v2.8h-1.9zM414.2,361.9h2v1.6h-2z" fill="#f08228"/><path d="M17.8,33.3h2v2.6h-2zM10,27.5h2.7v2.8h-2.7zM21.5,36.1h2.6v2.8h-2.6zM5.5,30.7h2v2.6h-2zM11.7,40.4h1.9v2.9h-1.9z" fill="#f08228"/><path d="M204.2,121.6h1.8v2h-1.8zM207.2,118.1h1.5v1.7h-1.5zM195.9,123.8h1.4v2.1h-1.4zM202.8,124.9h1.9v1.5h-1.9zM210.3,116.2h1.1v1.7h-1.1zM201.3,119.9h1.8v1.6h-1.8z" fill="#1e3cff"/><path d="M318.1,283.3h2.2v1.3h-2.2zM319.9,283.3h1.5v1.3h-1.5zM314.6,279.2h1.9v2.4h-1.9zM317,280.4h1.4v2.4h-1.4z" fill="#f08228"/><path d="M357.3,321.2h1.7v1.2h-1.7zM362.8,324.6h1.1v1h-1.1zM350.7,328.4h1.1v1.5h-1.1zM361,323.3h1.3v1.5h-1.3zM358.5,322.8h1v1.1h-1z" fill="#1e3cff"/><use href="#bm"/><path d="M1.1 172.9c-.3 .7-.9 3.2-2 4.3-1.1 1.1-3.1 1.9-4.7 2.5-1.6 .6-3.6 .2-5.1 .9-1.5 .7-3.4 2.9-4.1 3.5M4.2 214.5c.5 1 2.1 4.1 3.1 5.9 1 1.8 1.7 4.1 2.7 5.2 1 1.1 2.2 1.3 3.2 1.5 1 .2 1.5-.3 3-.5 1.5-.3 5-.8 6-1M2.6 141.1c.2 .7 1.1 2.8 1 4-.1 1.1-1.3 1.8-1.8 2.9-.5 1.1-.4 2.3-1.4 3.7-1 1.3-3.6 3.1-4.6 4.4-1 1.3-1.3 3-1.6 3.6M39.3 106.9c.3 1.1 1.4 4.7 1.8 6.3 .4 1.6 1.1 2.3 .7 3.5-.4 1.2-2.1 2.9-3.2 3.9-1.1 1-2.9 1.6-3.5 1.9M41.7 165.3c.1 .8 .9 3.7 .5 5-.4 1.3-2.2 1.8-2.8 2.9-.6 1.1-1.1 2.4-1.1 3.9 0 1.5 .8 3.4 1.3 5.2 .5 1.9 1.4 4.9 1.7 5.9M3.1 223.7c.6 1 2.8 3.8 3.7 5.9 .9 2.1 .8 4.3 1.6 6.4 .8 2.1 2.3 4.1 3 5.9 .7 1.8 .9 2.9 1.2 4.7 .3 1.8 .5 5.1 .6 6.1M19.7 204.1c.4 .8 1.7 3.6 2.2 5 .5 1.4-.3 2.4 .6 3.4 .9 1 3 1.9 4.9 2.6 1.9 .7 4.9 1.2 6.6 1.8 1.7 .6 2.9 1.7 3.5 2M25.7 231.9c-.9 .4-3.6 2.2-5.4 2.6-1.8 .4-4-.4-5.5 .1-1.5 .5-2.4 2.6-3.7 3-1.3 .4-2.7-1-3.9-.7-1.2 .3-2.8 2.3-3.4 2.7M46.3 162.7c-.3 .9-1 3.4-2 5.2-1 1.8-2.9 4.1-4 5.6-1.1 1.5-2.1 2.3-2.6 3.5-.5 1.2-.4 1.9-.5 3.7-.1 1.8 .4 5.1-.2 6.9-.6 1.8-2.7 3.1-3.2 3.7M22.7 149.7c-.2 .9-1.2 3.9-1.2 5.4 0 1.5 .8 2.1 1.2 3.3 .4 1.2 1.1 3.3 1.3 4M14 145.6c-.1 .8-1 3.2-.5 4.6 .5 1.4 2.8 2.7 3.7 4.1 .9 1.4 1.3 3.8 1.6 4.5M41.2 208.5c.1 1.2-.2 5 .7 6.9 .9 1.9 3.4 3.5 5 4.6 1.6 1.1 3.5 .7 4.7 2 1.2 1.3 1.6 3.9 2.6 5.7 1 1.8 3.2 3.9 3.7 5.3 .5 1.4-.6 2.7-.7 3.2M11.4 215.9c.4 .4 1.7 2 2.5 2.7 .8 .7 1.2 1.6 2.5 1.7 1.3 .1 4-.8 5.4-1.1 1.4-.3 2.8-.5 3.3-.6M27.5 234.8c-.6 .8-2.7 3.6-3.9 4.7-1.2 1.1-1.9 1.1-3.2 1.6-1.3 .5-3 .7-4.6 1.4-1.6 .7-3.4 2.6-5.1 2.7-1.7 .1-3.7-1.4-5-2-1.3-.6-2.3-1.1-2.8-1.3M13.8 206.1c-.4 .3-2.2 .5-2.7 2-.5 1.5 .1 4.7-.2 6.9-.2 2.2-1.3 4-1.3 6 0 2 .4 4.8 1.4 6.2 1 1.4 3.3 2 4.6 2.5 1.3 .5 2.6 .6 3.1 .7M15.8 60.4c-.1 .9-1.4 3.5-.8 5.2 .6 1.7 3.2 3.7 4.6 5.1 1.5 1.4 3.5 1.8 4.1 3.5 .6 1.8 .2 5-.2 7-.4 2-2.1 4.4-2.5 5.3M20.9 187.1c.5 .4 1.9 1.7 3.1 2.4 1.2 .7 2.7 1 4.3 1.6 1.6 .6 4.5 1.4 5.4 1.7M1.9 103.3c.8 .8 3.4 3.9 4.9 4.8 1.4 .9 2.5 .6 3.8 .5 1.3-.1 2.5-1.2 3.9-1 1.4 .2 3.1 1.7 4.6 2.2 1.5 .5 3.7 .5 4.4 .6M26 243.5c.5 .8 2.6 2.7 3 4.6 .4 1.9-.4 5.2-.8 6.8-.4 1.6-1.6 1.6-1.5 2.9 .1 1.3 1.7 3.3 1.9 4.8 .2 1.5-.5 3.7-.6 4.4M13 131.8c-.1 1 .2 4.4-.3 5.7-.6 1.3-2.3 1.4-3 2.2-.7 .8-.2 1.5-1 2.8-.8 1.3-2.9 3.9-3.7 5.3-.8 1.4-.9 2.1-1.3 3.3-.4 1.1-1 3-1.2 3.6M42.7 119.9c0 1-.2 4.5 0 6.2 .2 1.7 1.4 2.6 1.2 4.1-.2 1.5-2.4 3-2.3 4.8 .1 1.8 2.2 5.1 2.7 6.1M20.2 187c.9 .7 3.6 3.1 5.4 3.9 1.9 .8 3.9 1.1 5.7 .9 1.8-.2 3.7-1.9 5.2-2.1 1.5-.2 2.1 .2 3.5 .8 1.4 .6 4.2 2.2 5 2.6M23.6 87.3c-.1 .6-.7 2.3-.6 3.5 .1 1.2 .5 2.7 1.4 3.7 .9 1 3.5 1.9 4.2 2.3M13.2 209.4c.1 1 .9 4.6 .6 6-.3 1.4-1.9 1.4-2.2 2.3-.3 .9-.1 2 .3 3.3 .4 1.3 1.8 3.8 2.2 4.5M7.8 188.8c.7 .8 3.6 3.1 4.3 4.6 .7 1.5-.3 2.7-.1 4.2 .2 1.5 .8 3.9 1.4 5.1 .6 1.2 2 1.8 2.4 2.1M7.1 74.1c-.3 .4-1.1 1.4-1.9 2.4-.7 1-1.1 2.8-2.6 3.6-1.5 .8-5.4 .9-6.5 1.1M31.5 174.2c-.1 1-.7 4-.8 5.9-.1 1.9-.7 3.7-.1 5.6 .6 1.8 3.1 4.6 3.7 5.5M29.7 197.7c.1 .9 .7 4 .8 5.7 .1 1.7-.2 2.7-.2 4.3 0 1.5 .6 3.4 .4 5-.2 1.6-1.6 2.8-1.7 4.5-.1 1.7 1.1 3.9 1.3 5.7 .2 1.8-.2 4.3-.3 5.2M22.5 111.6c-.6 .4-1.8 1.6-3.3 2.6-1.5 1-4.1 2.6-5.6 3.2-1.5 .6-1.8 .3-3.2 .4-1.4 .1-3.5 .5-5.3 .2-1.8-.3-4-2-5.7-2-1.7 0-3.8 1.5-4.6 1.8M14 212.9c.3 1 2.1 4.3 1.8 6.2-.3 1.9-2.8 3.4-3.5 5.2-.7 1.8-.2 3.9-.5 5.7-.3 1.8-.5 3.7-1.1 5.1-.6 1.4-2 2.2-2.4 3.3-.4 1.1-.2 2.9-.2 3.5M8.1 206c-.8 .5-2.8 2.6-4.5 3.1-1.7 .5-4-.3-5.5-.3-1.4 0-1.9 .3-3.2 .1-1.3-.2-2.9-.8-4.7-1.3-1.8-.5-4.4-.6-5.9-1.5-1.5-.9-2.4-3.4-2.9-4.1M33.2 171.1c.3 .5 .7 1.8 1.8 3 1.1 1.2 3.9 3 4.7 4.2 .8 1.2 .3 1.6 .1 3-.2 1.4-1.1 4.1-1.5 5.6-.4 1.5-1.2 1.9-.8 3.6 .4 1.7 2.6 5.3 3.1 6.3M25.2 166.6c-.3 .7-1.6 2.8-1.9 4.2-.3 1.4-.2 3.1 0 4.4 .2 1.3 1.2 2.6 1 3.6-.2 1.1-.7 2.1-2 2.7-1.3 .6-4.6 .3-5.9 .8-1.3 .5-1.7 2-2.1 2.4M22.1 100.5c.2 .9 1.2 3.7 1.3 5.5 .1 1.8-.5 3.4-.6 5.4-.1 2 .2 5.3 .2 6.4M4.6 83.6c.1 .8-.1 3.3 .6 4.8 .8 1.5 2.9 2.8 3.9 4.1 1 1.3 1.2 2.2 1.9 3.6 .7 1.4 1.3 3.5 2 4.7 .7 1.2 1.9 1.8 2.3 2.2M24.2 232.7c-.1 .6-.9 2.4-.7 3.9 .2 1.5 1.2 3.6 1.9 5.3 .7 1.7 1.8 4.3 2.2 5.1M8.3 190.2c-.4 .6-1.4 2.7-2.3 3.8-.9 1.1-1.9 2.2-3.3 2.8-1.4 .7-4 .5-5.2 1.1-1.2 .6-1.6 2-1.9 2.4M26.2 225.3c.4 .6 2.1 1.8 2.3 3.4 .2 1.6-1.2 4.1-1.3 6-.1 1.9 1 3.6 .7 5.3-.3 1.7-2 4.2-2.4 5.1M10.3 188.8c.1 1.1-.1 5.1 .6 6.8 .7 1.7 2.2 2.6 3.7 3.2 1.5 .6 4.1 0 5.5 .4 1.5 .4 2 1.1 3.2 2 1.2 .8 3.3 2.6 3.9 3.1M14.9 46.8c.4 .9 1.8 3.8 2.4 5.2 .6 1.4 .8 1.6 1.2 2.9 .4 1.3 1.3 3.5 1.4 4.8 .1 1.3-.4 1.6-.6 3.2-.2 1.6-1 4.8-.6 6.5 .4 1.7 2.6 2.9 3.1 3.5M15.3 215.4c.1 .7 1.1 2.7 .6 4.3-.5 1.6-3.2 3.7-3.6 5.5-.3 1.8 .3 3.8 1.5 5.1 1.2 1.4 4.1 2.8 5.9 3 1.8 .2 3.4-1.6 4.7-1.8 1.3-.2 2.7 .7 3.2 .9M37.4 168.6c.8 .5 3.8 2 5 2.9 1.2 .9 1.7 1.3 2.3 2.3 .6 1.1 .2 2.5 1.1 4 .9 1.5 3.7 4 4.5 4.8M41.9 226.7c.3 .7 .9 3.2 1.7 4.5 .9 1.3 2.2 2.5 3.4 3.3 1.2 .8 2.3 1.6 3.6 1.8 1.3 .2 3 0 4.3-.4 1.3-.4 2.8-1.5 3.4-1.8M31 101.4c-.2 .7-.2 2.3-1.1 3.9-.9 1.6-2.9 3.7-4.1 5.6-1.2 1.9-2.1 3.9-3.3 5.6-1.2 1.7-3.4 3.8-4.1 4.6M29.9 133.4c-.2 .5-1.1 1.8-1.1 2.9 0 1.1 1.3 1.9 1.2 3.6-.1 1.7-1.3 4.2-1.7 6.3-.4 2.1-.6 4.6-.7 6.2-.1 1.6 .2 3 .3 3.6M6.9 130.2c.2 .6 .1 2.8 1.3 3.8 1.2 1 4 2.1 5.7 2.1 1.7 0 3.3-.9 4.3-1.9 1-1 1-2.9 1.5-4 .5-1.1 1.6-1 1.6-2.5 0-1.5-1.5-5.5-1.8-6.6M38.6 222.9c-.4 .6-1.3 2.7-2.4 3.4-1.1 .8-2.9 .3-4.4 1.1-1.5 .8-3.2 2.6-4.7 3.6-1.5 1-2.7 2.2-4.2 2.6-1.5 .4-3.4 .2-4.6-.3-1.2-.4-2.2-2-2.6-2.4M37.3 172c-.5 .6-2.4 2.6-2.7 3.8-.3 1.2-.1 2.4 .7 3.5 .8 1.1 2.4 2.4 4.1 3.3 1.7 .9 5.3 2 6.3 2.4M10.9 142.6c.3 .7 1.5 2.5 1.6 4 .1 1.5-.2 3.4-1.1 4.8-.9 1.4-2.8 2.7-4.6 3.4-1.8 .7-4.5 1.4-6.4 1-1.9-.4-3.5-2.8-4.9-3.7-1.4-.9-2.7-1.6-3.3-1.9M19.1 50.4c-.1 .9-.2 3.8-.9 5.6-.7 1.8-2.3 3.6-3.4 5.3-1.1 1.7-2.4 3.2-3.2 4.8-.8 1.6-1.3 3.8-1.6 4.6" fill="none" stroke="#000" stroke-width="1.2"/><path d="M24.5 53c-.4 .4-2.1 .7-2.7 2.2-.6 1.5-1.3 4.9-1.2 6.6 .1 1.6 1.7 2.7 2 3.3M38.4 84.6c.4 .5 2 1.8 2.2 3.3 .2 1.5-1.1 4.4-1 5.8 .1 1.4 1 1.6 1.5 2.7 .5 1.1 1.5 2.4 1.4 4.1-.1 1.7-1.9 4.9-2.3 5.9M49.5 185.4c.5 .5 1.7 1.5 3 2.8 1.3 1.3 3.2 3.8 4.7 4.9 1.6 1.1 3.2 1.7 4.6 1.8 1.4 .1 3.2-.9 3.9-1.1M40.9 166.6c.7 .5 2.9 1.8 4.3 2.8 1.5 1 2.9 2.1 4.4 3 1.5 .9 3.5 1.4 4.9 2.5 1.4 1.1 2.1 3.5 3.2 4.3 1.1 .8 2.8 .2 3.4 .3M19.6 191.2c.5 .7 2.4 3.2 2.9 4.5 .5 1.3 .4 2.1 .3 3.4-.1 1.3-.3 3.2-.7 4.4-.4 1.2-1 1.8-1.5 2.9-.5 1.1-1.3 2.8-1.6 3.4M11.2 104c-.7 .9-2.7 4.6-4.1 5.6-1.4 1-2.6 1.2-4.1 .4-1.5-.8-4-4.1-4.8-4.9M20 163.1c.2 .8 .7 3.9 1.4 5.1 .7 1.2 2.5 1.3 3 2.3 .5 1-.5 2.6 .2 3.8 .7 1.2 2.5 2.4 4.1 3.5 1.6 1.1 4.6 2.5 5.5 3M34.7 144.4c-.2 .7-1.1 2.8-1.1 4.3 0 1.4 .3 3.2 1.1 4.4 .8 1.2 2.9 2.3 3.5 2.7M2.3 162.5c.3 .7 1.5 2.6 1.8 3.9 .2 1.3-.1 2.2-.3 3.8-.2 1.6-.9 3.7-1 5.5-.1 1.8 .5 4.6 .6 5.5M24.6 55.5c.8 .7 3.4 3 4.9 4.3 1.5 1.3 2.7 1.8 3.9 3.3 1.2 1.4 2.2 4.4 3.5 5.4 1.3 1 3.7 .7 4.5 .9M35.6 215.3c-.9 .7-3.3 3.4-5.3 3.9-2 .5-4.9-1.2-6.5-1-1.6 .1-2.2 .8-3 1.9-.8 1.1-1.5 3.3-1.7 4.6-.2 1.3 .6 2.2 .6 3.4 0 1.2-.3 3-.4 3.6M1.7 204c0 .7 .1 2.7 0 4-.1 1.3-.1 2.9-.6 3.9-.5 1-1.5 .8-2.4 2.1-.9 1.3-2.1 4.2-3 5.5-.9 1.3-1.9 1.7-2.3 2M6.9 196.4c0 1.2 0 5-.1 6.9-.1 1.9-.5 3.3-.5 4.6 0 1.3 .2 2.2 .7 3.5 .5 1.3 1.3 3 2.6 4.4 1.3 1.4 4.1 2.6 5.1 4.3 1 1.7 .7 4.8 .9 5.8M42.8 222.8c-.8 .4-3.2 1.5-4.6 2.5-1.4 1-3 2.2-3.8 3.5-.8 1.3-.8 3.8-.9 4.5M40.4 109.7c-.3 .7-1.6 2.9-1.9 4.4-.3 1.5-.1 3.1 .1 4.5 .2 1.4 .4 2.2 1.3 3.7 .9 1.5 3.7 4.3 4.4 5.1M24.3 236.7c-.1 1.1-.6 5-.4 6.8 .2 1.8 1 3 1.7 4.1 .7 1.1 1.4 1.2 2.5 2.3 1.1 1.2 3.3 3.8 3.9 4.6M7 181.1c.5 .5 2.1 2.3 3.2 3 1.1 .7 2.5 .5 3.2 1.2 .7 .7 1 2.4 1.2 2.9M.5 83.8c.5 .9 1.8 4.2 3 5.3 1.2 1.1 3 .7 4.4 1.2 1.4 .5 2.5 .9 3.9 1.8 1.4 .9 3.2 2.9 4.5 3.6 1.3 .7 1.6 .5 3.3 .7 1.7 .2 5.8 .6 6.9 .7M28 230.7c-.4 .4-1.1 1.5-2.4 2.6-1.3 1.1-4.5 2.8-5.5 4.2-1 1.4-.3 2.7-.6 4.4-.3 1.7-1.2 4.8-1.4 5.7M10 49.1c-.1 .5-.9 1.7-.7 3.2 .2 1.5 1.2 4.4 2.1 5.7 .9 1.3 1.9 1.1 3.1 1.9 1.2 .8 3.2 2.5 3.8 3M28 240.4c-.1 .6-.8 2.4-.8 3.8 0 1.4 0 3.4 .6 4.7 .6 1.3 2.1 1.8 2.8 3.3 .8 1.5 1.8 3.7 1.7 5.5-.1 1.7-1.3 3.4-2.1 5-.8 1.6-2.1 3.7-2.5 4.4M39.7 205.1c1 .6 4.7 1.8 5.9 3.5 1.2 1.6 .4 4.7 1.3 6.4 .9 1.7 3.2 2 3.8 3.6 .6 1.6 0 5.2 0 6.2M34.7 206.4c0 .5 .8 1.6 .2 3.1-.6 1.5-2.9 4.4-4 5.8-1.1 1.4-2.1 1.8-2.7 2.7-.6 .9-.1 2-1.2 3-1.1 1-3.9 2.1-5.1 3.2-1.3 1.1-2 2.7-2.4 3.2M39 130.5c.5 .6 1.4 2.1 2.7 3.4 1.3 1.3 3.7 2.9 5 4.7 1.3 1.8 1.7 4.5 2.7 6.2 1 1.7 2.5 2.7 3.2 4 .7 1.3 .9 2.5 .8 3.6-.1 1.1-1.1 2.7-1.3 3.2M22.4 92.8c.6 .8 2.7 3.3 3.8 4.6 1.1 1.3 1.9 1.6 2.6 3 .7 1.4 1.4 4 1.3 5.4-.1 1.4-.9 1.6-2 2.8-1.1 1.2-3.1 3-4.6 4.3-1.5 1.3-3.7 2.8-4.4 3.3M16.5 100.7c.6 .4 2.3 1.8 3.4 2.4 1.1 .6 2 1.3 3.4 1.4 1.4 .1 3.1-1 4.7-1 1.6 0 3.6 .7 4.9 1.2 1.3 .5 1.9 1.7 3.1 1.8 1.2 .1 3.2-1 3.9-1.2M30 119.9c-.1 1.1-.2 4.7-.4 6.8-.2 2.1-.2 4.6-.8 6-.6 1.4-1.3 1.6-2.5 2.4-1.2 .7-3.3 1.6-4.9 2.1-1.6 .5-2.9 .1-4.6 .9-1.7 .8-4.7 3.3-5.6 4M18.4 180.2c.2 .7 1 2.8 1 4.4 0 1.6-.6 3.2-.8 5.2-.2 2-.2 5.7-.3 6.8M26 233c-.3 .6-1.7 2.4-1.6 3.8 .1 1.4 1.8 3 2.4 4.7 .6 1.7 .2 4 1 5.2 .8 1.2 3.1 1.8 3.7 2.1M27.5 177c-.5 .3-2.1 1.5-3.2 2-1.1 .5-1.7 1.5-3.2 1.1-1.5-.4-3.7-2.6-5.7-3.3-2-.7-4-.7-6.2-1-2.2-.3-5.7-.7-6.8-.8M13.4 107.6c.3 .4 1 1.4 1.5 2.6 .5 1.2 1.5 2.9 1.5 4.7 0 1.8-1.2 5.3-1.5 6.3M39.4 157c.6 1 2.3 4.5 3.3 5.8 1 1.4 2 .9 2.7 2.3 .7 1.4 .9 4.6 1.6 6.2 .7 1.6 2.1 2.4 2.4 3.6 .3 1.2-.3 3.1-.4 3.7M43.7 222.8c-.8 .7-3.6 2.6-4.7 4.1-1.1 1.5-1.1 3.4-2 5.1-.9 1.7-2 3.8-3.3 5.3-1.3 1.5-2.9 2.2-4.4 3.7-1.5 1.5-3.7 4.4-4.5 5.3M20.2 58.5c.6 .4 2.1 1.5 3.5 2.4 1.4 .9 3.7 1.7 5.1 2.8 1.4 1.1 2.6 3.2 3.1 3.9M24.5 68.2c0 .7-.1 2.8 0 4 .1 1.2 1 1.9 .9 3-.1 1.1-1.4 2.1-1.5 3.4-.1 1.3 .6 3.5 .7 4.2M45.4 200.4c-.6 .6-2.4 2.8-3.6 3.8-1.2 1-2.3 1.2-3.8 2.2-1.5 1-3.7 2.3-4.9 3.6-1.2 1.3-1.9 3.7-2.3 4.4M24.3 205.8c-.1 .8-.7 3.3-.4 4.5 .3 1.2 1.2 2.1 2.4 2.6 1.2 .5 3.9 .6 4.7 .7M23 55.6c-.2 .7-1.1 2.9-1.1 4.2-.1 1.3 1 2.5 .8 3.7-.2 1.2-1.3 2-2.2 3.5-.9 1.5-2.8 4.7-3.4 5.6M50.3 174.4c-.2 .8-.1 3.6-1.2 4.9-1.1 1.3-3.4 1.9-5.4 2.8-1.9 .8-4.8 1.4-6.3 2.3-1.5 .9-2.1 2-2.5 3.1-.4 1.1 .1 2.9 .1 3.5M28 116.7c.4 .5 1.1 1.7 2.3 3 1.2 1.3 3.2 3.9 4.8 4.9 1.6 1 3.5 .6 4.9 1.3 1.4 .7 1.8 2.4 3.4 3 1.6 .6 4.5 .8 6 .5 1.5-.3 2.4-2.1 2.9-2.5M32.9 173.1c.3 .8 1.5 3.2 1.8 4.9 .3 1.7 0 3.6-.2 5.3-.2 1.7-.1 3.5-1.2 4.8-1.2 1.3-4.5 1.7-5.7 2.8-1.2 1.1-1.5 2.1-1.7 3.8-.2 1.6 .5 5.1 .6 6.1M25.3 249c-.9 .7-3.5 3.4-5.2 4.2-1.7 .8-3.5 .4-4.9 .8-1.4 .4-3.2 1.5-3.8 1.8M48.5 138.2c.5 .4 2.1 2 3.3 2.3 1.1 .3 2.3-.6 3.6-.5 1.3 .1 2.7-.2 4 .8 1.3 1 2.9 3.7 3.9 5.1 .9 1.4 1.5 2.9 1.8 3.5M7.6 230c.5 .7 1.7 3.5 2.9 4.4 1.2 .9 2.6 1 4.2 .9 1.6-.1 4.4-1 5.3-1.2M19.1 225.1c.4 .3 1.3 1.1 2.5 1.7 1.2 .6 3.6 1.2 4.9 1.7 1.3 .5 1.7 .4 3.1 1.3 1.5 .9 4.3 2.4 5.6 4 1.4 1.6 2.1 3.8 2.5 5.6 .4 1.8 0 4.3 0 5.1M47 170.4c.2 1 1.5 4.7 1.4 6.2-.1 1.5-1.3 1.1-2 2.6-.7 1.5-2 4.3-2 6.5 0 2.2 1.8 4.7 2 6.7 .1 2-.9 4.3-1.1 5.1M33.1 102.8c.4 1 2.3 3.9 2.4 5.7 .1 1.8-1.1 3.8-1.7 5.1-.6 1.3-1.8 2.2-2.1 2.6M20 204.3c.8 .1 2.9 .5 4.5 .3 1.6-.2 3.3-.6 5-1.6 1.7-1 4.3-3.1 5.3-4.3 1-1.2 1-1.4 1-3 0-1.7-.8-5-.8-6.9 0-1.9 .8-3.9 1-4.7M3.1 71.8c.5 .4 1.8 1.4 3.1 2.1 1.3 .7 3.2 .8 4.6 1.9 1.4 1.1 3.1 4 3.7 4.8M53.9 203.7c-.6 .9-2.2 3.8-3.5 5.5-1.3 1.6-3 3.4-4.5 4.4-1.5 1-3.9 1.3-4.7 1.6M1.9 36c.8 .7 3.5 3.6 5 4.4 1.5 .8 2.5 .5 4.1 .4 1.6-.1 4.4-.8 5.3-.9M23.2 222.2c.1 .6 .7 2.5 .4 3.7-.3 1.2-1.7 2-2 3.6-.3 1.6 .5 4.2 .2 6-.3 1.8-.6 3.6-1.9 4.9-1.3 1.3-4.8 2.3-5.8 2.7M5.9 184.4c-.3 1.1-1.2 4.6-1.8 6.8-.6 2.2-1.4 4.8-1.7 6.4-.3 1.6-.1 1.7-.1 3.2 0 1.5 0 4 .2 5.6 .2 1.6 1.3 2.4 1 3.9-.3 1.6-2.5 4.5-3 5.4M34.7 163c-.6 .6-2.8 2.2-3.6 3.5-.8 1.3-.3 2.7-1.1 4.2-.8 1.5-2.6 3.7-3.9 4.8-1.3 1.1-2.9 .5-3.9 1.7-1.1 1.2-2 3.6-2.4 5.4-.4 1.8 0 4.8 0 5.7M24 148.1c.6 .8 2.2 3.3 3.3 4.6 1.1 1.3 2.7 2.1 3.4 3.1 .7 1.1 1.3 2 1 3.2-.3 1.2-1.6 3-2.6 4.2-1 1.2-2.2 2-3.5 3.2-1.3 1.2-3.6 3.4-4.3 4.1M1.1 64.9c-.4 .6-1.2 2.2-2.5 3.3-1.3 1.1-4.1 2.5-5.1 3.6-1 1.1-.3 1.8-.9 2.9-.6 1.1-1.8 2.1-2.5 3.5-.7 1.4-.8 3.3-1.8 4.8-1 1.5-3.4 3.2-4.1 3.9M31.6 205.9c-.3 .6-.8 2.5-1.7 3.5-.9 1-2.7 1.6-3.8 2.5-1 .9-2.1 2.7-2.5 3.2M.1 227.5c.2 1.1 1.5 4.4 1.5 6.5 0 2.1-1 3.8-1.5 5.9-.5 2.1-.6 5.2-1.3 6.6-.7 1.4-1.6 .9-2.9 1.7-1.3 .8-3.5 2.1-4.7 3-1.2 .9-2.1 2.1-2.5 2.5M50.8 206.6c-.5 .6-2.4 2.2-3.2 3.5-.8 1.3-.8 2.4-1.4 4.1-.6 1.7-1.7 4.9-2.1 5.9M47.6 174.5c.9 .6 4.5 2 5.6 3.4 1.1 1.4 .9 3.2 .9 5.2 0 2-.4 5-.6 6.8-.2 1.8-.3 3.3-.4 4M49.2 209c.4 1 1.3 4.7 2.3 6.2 1 1.5 3.2 1.7 3.9 3 .7 1.3 .3 4.1 .3 4.9M10.3 88.1c.5 .9 1.9 3.7 2.9 5.2 1 1.5 2.1 3.1 3.2 3.7 1.1 .6 2.4-.5 3.4 0 1.1 .5 2.5 1.8 2.9 3.2 .4 1.4-.7 3.5-.7 5.4 0 1.9 .6 5 .7 6M11.4 111.1c-.2 .7-.8 3.1-1.5 4.3-.7 1.2-1.9 1.1-2.4 2.6-.5 1.5-.7 5.1-.8 6.1M34.8 142.5c.5 .5 2 1.9 3 3 1 1.1 2 2.6 2.8 3.6 .8 1 1.8 2.1 2.2 2.5M10.6 176.8c.4 .4 .8 2.1 2.3 2.7 1.5 .6 5.3 .4 6.9 1 1.6 .6 1.2 1.9 2.6 2.6 1.4 .7 4.4 .6 5.8 1.6 1.4 1 2.3 2.9 2.5 4.4 .2 1.5-1 3.9-1.2 4.7M17.8 144.3c.1 1 .7 4.2 .4 5.9-.3 1.7-1.8 2.9-2.3 4.4-.5 1.5-.8 3.6-1 4.3M10.7 242.4c-.7 .7-2.9 3.4-4.1 4.4-1.2 1-1.7 1.3-3.3 1.8-1.6 .5-4.5 .7-6.5 1.2-2 .5-4.6 1.7-5.5 2M4.9 39.5c.1 1 .3 4.2 .7 5.8 .4 1.6 1.6 2.9 1.7 4 .1 1.1-.5 1.6-1.3 2.8-.8 1.2-2.3 3-3.4 4.6-1.1 1.6-1.7 3.7-3 4.9-1.3 1.2-3.8 1.8-4.6 2.1M45 227.4c.1 1 .2 4.3 .6 5.8 .4 1.5 1.6 2.1 2 3.2 .4 1.1 .3 3 .4 3.6M4.7 46.2c.5 .2 1.6 1 2.9 .9 1.3-.1 3.6-1 4.8-1.6 1.2-.6 1.1-1.9 2.4-2.3 1.4-.4 4.8-.2 5.7-.2M6.9 240.4c.4 .9 1.6 3.7 2.2 5.2 .6 1.5 1.3 2.5 1.6 4 .2 1.5 .2 2.8-.1 4.7-.3 1.9-1.3 5.6-1.5 6.7M38.5 181.7c.6 .7 2.9 2.6 3.9 4 1 1.4 2 2.5 2.4 4.2 .3 1.7 .2 4.8-.3 6.2-.5 1.4-2.2 1.9-2.6 2.3M28.7 190c-.3 .7-.7 2.9-1.6 4-.9 1.1-2.8 1-3.5 2.5-.7 1.5-.4 4.8-.6 6.4-.2 1.6 0 2.2-.5 3.3-.5 1.1-2 2.7-2.4 3.3M44.2 242.4c.2 .5 .8 1.4 1.2 3 .4 1.6 .6 5.3 1.3 6.8 .7 1.5 1.7 1.9 3 2 1.4 .1 3.6-.7 5.1-1.6 1.5-.9 3.3-3.3 4-4M22 54c-.4 1-1.5 4.1-2.3 5.8-.8 1.7-1.7 2.9-2.3 4.2-.6 1.3-.9 1.7-1.3 3.4-.4 1.7-.1 5.1-1.2 6.8-1.1 1.7-4 2.2-5.3 3.3-1.3 1.1-2 2.6-2.4 3.1M33.5 218.4c-.4 .8-1.4 3.3-2.6 4.7-1.2 1.4-2.9 2.9-4.4 3.5-1.5 .6-3.2-.2-4.4 .1-1.2 .3-2.4 1.5-2.9 1.8M17.2 220.1c-.6 .6-2.3 2.5-3.6 3.4-1.3 .9-2.4 1.8-4 1.9-1.6 .1-4.4-1.3-5.3-1.6M21.5 170.5c-.5 1-1.5 4.5-2.8 5.8-1.3 1.3-3.5 .8-5.2 1.9-1.7 1.1-3.8 3.2-4.9 4.8-1.1 1.6-1.5 2.8-1.9 4.5-.4 1.7-.2 4.8-.3 5.8M33.4 157.8c.3 .5 1.6 1.6 2 3.2 .4 1.6 .3 4.3 .2 6.2-.1 1.8-.4 3.5-.6 4.9-.2 1.4-.8 2.8-.9 3.4M3.7 42c.3 .6 .5 2.9 2 3.7 1.5 .8 5.1 1.1 6.8 1.2 1.7 .1 2.7-.7 3.3-.8M26.1 92.6c.3 1 .9 4.7 2 6.1 1.1 1.4 3.2 1.9 4.4 2 1.2 .1 1.2-1.2 2.8-1.5 1.6-.3 5.8-.1 7-.1M24.5 235.5c-.1 .7-.3 2.9-.8 4-.5 1.1-1.8 1.1-2 2.5-.2 1.4 .7 4 .8 5.7 .1 1.6-.3 3.5-.4 4.2M38.2 188c.3 1 1.5 4.1 1.7 5.8 .2 1.7-.5 2.4-.7 4.2-.2 1.8-.3 4.8-.3 6.5 0 1.7-.1 2.5 .6 3.9 .7 1.4 3.1 4 3.7 4.8M43.5 226.8c.3 .7 .7 2.3 1.5 4 .8 1.7 2.8 4.4 3.5 6.1 .7 1.7 .2 2.6 .9 3.8 .7 1.2 2 2.7 3.4 3.6 1.4 .9 4.1 1.5 4.9 1.8M21.1 171.2c.1 .9 .8 3.7 .5 5.4-.3 1.7-2.1 3.2-2.5 4.6-.4 1.4 .2 2.5 0 3.7-.2 1.2-1 3.1-1.2 3.7M.1 208.2c-.1 .6-.3 2-.3 3.6 0 1.6-.1 4.2 .2 6.2 .3 2 1.4 4.2 1.6 5.8 .2 1.6-.2 2.8-.6 4-.4 1.2-1.4 1.7-1.6 3.3-.2 1.6 .3 5.1 .4 6.1M43.4 158.4c.7 .7 2.7 3.5 4.2 4.3 1.5 .7 3.3-.1 4.7 .2 1.4 .3 2.9 1.1 3.8 1.8 .9 .7 .5 1.9 1.6 2.6 1.1 .8 3.3 2 4.9 1.9 1.6-.1 4-2 4.8-2.4M14 242.8c.1 .9-.1 4.1 .8 5.5 .9 1.4 3.5 1.6 4.6 2.9 1.1 1.3 1.7 3.5 2.1 4.9 .4 1.4 0 1.9 .3 3.3 .3 1.4 1.3 4.2 1.5 5M2 116c-.4 .6-2.3 2.2-2.6 3.5-.2 1.3 .9 2.7 1.1 4.5 .2 1.8 .2 5.4 .2 6.5M48 132.2c-.1 1-.4 3.9-.8 5.9-.4 2-1.2 3.8-1.4 5.9-.3 2.1-.7 4.5-.1 6.5 .6 2 2.4 4.2 3.5 5.7 1.2 1.5 2.8 2.8 3.4 3.4M1.5 137.3c-.3 .8-1.8 2.9-2 4.8-.2 1.9 .7 5.2 .7 6.9 0 1.7-.4 2.7-.5 3.2M19.5 249.4c.5 .9 2.8 3.9 3.2 5.3 .4 1.4-.5 1.8-.8 3.2-.3 1.3-.5 3.5-1.1 4.9-.6 1.4-1.3 2.7-2.6 3.4-1.3 .7-3.3-.1-5 .7-1.8 .8-4.6 3.4-5.5 4.1M2.4 141.1c.6 .3 2.3 .7 3.3 1.6 1 .9 2 2.5 2.5 3.6 .5 1.1 .9 1.6 .7 3-.2 1.4-1.1 4-2.1 5.2-1 1.2-3.5 1.5-4.2 1.8M34.8 107.1c.3 .6 1.4 2.2 1.7 3.4 .3 1.2 .3 2.7-.1 3.7-.4 1-1.3 1.5-2 2.3-.7 .8-.8 2.1-2.3 2.5-1.5 .4-4.6-.7-6.6-.3-2 .4-4.3 2.3-5.2 2.7M23 64.8c.1 1.1-.2 4.4 .3 6.5 .5 2.1 2.1 4.2 2.6 6 .5 1.8 .4 4 .5 4.8M25.4 188.2c-.6 .5-2.2 2.7-3.4 3.2-1.2 .5-2-.2-3.6-.3-1.6-.1-4.7 .1-6.1-.4-1.4-.5-.9-2-2.2-2.6-1.3-.6-4.8-1-5.8-1.2M15.2 173.3c.1 .8 .6 3.4 .5 4.7-.1 1.3-.7 1.7-.9 3.2-.2 1.5 .1 4.1-.2 5.6-.3 1.5-1.4 2.7-1.7 3.2M30 173.3c.2 .8 1.5 3.1 1.3 5-.2 1.9-1.7 4.8-2.3 6.4-.6 1.6-1.3 2.8-1.6 3.4M18.6 149.5c1 .4 4.1 2.2 6.1 2.6 2 .4 4.6 0 6.1 .1 1.5 0 2.5 .2 3 .2M23 131.2c.4 .4 1.5 1.9 2.6 2.3 1.1 .4 2.9-.4 4.1 .3 1.2 .7 2.4 3.2 2.9 3.8M46.6 187.3c.3 .5 .7 1.8 1.6 2.9 .9 1.1 2.9 2.1 3.6 3.8 .7 1.7 1.3 4.5 .8 6.3-.5 1.8-3 3.6-3.6 4.3M17 63.9c-.5 .9-1.7 3.9-2.9 5.3-1.3 1.4-2.9 2.5-4.6 3.2-1.7 .7-3.8 1.2-5.8 1.2-1.9 0-4.1-.5-5.9-1.3-1.8-.8-4.1-2.4-5.1-3.7-.9-1.3-.5-3.3-.6-3.9M42.1 227c.4 1 1.7 4.2 2.6 6.2 .9 2 1.8 4.3 2.6 5.9 .8 1.6 1.7 3.1 2.1 3.7M17.8 176.9c-.2 1-.4 4.4-1.1 5.8-.8 1.4-2.3 1.2-3.4 2.5-1.1 1.3-2.2 4.1-3.2 5.1-1 1-1.8 .6-2.8 1.1-1 .5-2.4 1.4-3.4 2.1-1 .7-2 1.7-2.4 2M46.3 192.3c0 .7 .2 3.1 0 4.3-.2 1.2-.7 1.9-1 3-.4 1.1-.9 2.9-1.1 3.5M.8 194.3c-.5 1-2.5 4.1-3.2 6-.7 1.9-1.2 4.1-1 5.6 .2 1.5 2 2.8 2.4 3.4M44.8 151.3c.2 .6 1.1 2.6 1.2 3.8 .1 1.2 .2 2.4-.5 3.5-.7 1.1-3.3 2.7-4 3.3M25.5 203.3c-.2 1.1-1.5 4.7-1.3 6.3 .2 1.6 2.1 1.4 2.5 3.1 .4 1.6-.3 5.7-.4 6.8M40.8 111.1c.5 .9 2.7 3.6 2.9 5.7 .3 2.1-1.4 4.8-1.4 6.7-.1 1.9 1.4 3.5 1.1 4.9-.3 1.4-2.2 3.2-2.7 3.8M27.6 112.2c-.5 .9-2.4 3.4-2.9 5.3-.5 1.9-.2 4.7-.1 6.3 .2 1.5 .6 1.5 1 3 .4 1.5 .8 4.2 1.2 5.9 .4 1.6 1.3 2.5 1.2 4-.1 1.5-1.6 4.3-1.9 5.1" fill="none" stroke="#00dc00" stroke-width="2.1"/><path d="M32.4 326.7c-.5 .5-2.6 2.1-3 3.2-.5 1.1 .7 2 .3 3.6-.5 1.6-2.1 4.1-3 5.9-.9 1.8-2 4.1-2.4 4.9M.7 308.9c-.4 .9-1.6 3.7-2.5 5.1-.9 1.4-1.8 2.4-3.1 3.3-1.3 .9-3.1 1.6-4.8 1.8-1.7 .2-3.9 .4-5.4-.5-1.5-.9-3.1-4-3.7-4.8M14.5 345.9c-.1 1.1 0 5.2-.5 6.8-.5 1.6-1.5 1.7-2.5 2.8-1 1.1-2.2 3-3.7 4.1-1.5 1.1-4.2 2-5.1 2.4M18.1 369.3c.7 .3 2.6 1.7 4 2 1.4 .3 3 .5 4.2 0 1.2-.5 2-1.4 2.8-2.8 .8-1.4 1.7-4.5 2-5.4M15.8 322.2c.2 .7 1.2 2.9 1.1 4.1-.1 1.2-1.5 2-1.8 3-.3 1 .5 1.7-.2 3.1-.7 1.4-2.9 4.3-4 5.4-1.1 1.1-1.4 .7-2.8 1.2-1.4 .5-4.8 1.6-5.7 1.9M5.1 258.6c.4 .7 1.9 2.9 2.7 4.1 .9 1.2 1.3 2.2 2.4 3.2 1.1 1 3.2 1.6 4 2.6 .7 1 .3 2 .5 3.6 .2 1.6 .4 4.3 .9 6.1 .5 1.7 1.7 3.7 2 4.4M21.2 350.2c-.5 .5-1.8 1.8-3.1 3-1.3 1.2-3.6 2.6-4.5 4.3-.9 1.7-1.1 4.1-.9 6.2 .2 2.1 1.9 4.3 2 6.1 .1 1.8-1 3.9-1.2 4.7M20.2 344.1c-.2 .8-1 3-1.2 4.5-.2 1.5 .4 3.3-.3 4.6-.7 1.3-2.4 2.1-4.1 3-1.7 .9-5.2 1.9-6.2 2.3M41 300.2c.5 .7 1.8 3.6 3.3 4.5 1.5 .9 3.8 .5 5.7 .8 1.9 .3 4.1-.1 5.7 .8 1.6 .9 3.1 3.7 3.7 4.4M15.9 296.7c0 .7 .3 3.1 .3 4.5 0 1.4 .3 3-.4 4.1-.7 1.1-2.6 1.6-3.7 2.7-1.2 1.1-2.4 2.3-3.2 4-.8 1.7-1.2 4.5-1.7 6.4-.5 1.8-1 3.9-1.2 4.7M.7 260.2c.8 .6 3.2 2.8 4.6 3.6 1.4 .8 2.8 .1 3.9 1.4 1 1.3 1.8 4.6 2.4 6.6 .6 2 .2 3.7 1 5.5 .8 1.8 2.5 3.9 3.8 5.1 1.3 1.2 3.2 1.9 3.8 2.3M7.5 312.6c.7 .9 3 3.5 4.4 5.2 1.4 1.7 2.9 4.1 4.2 5 1.3 1 2 .4 3.8 .7 1.8 .3 5.7 .7 6.9 .9M16.6 328.7c-.1 .8-.6 3.2-.7 4.7-.1 1.5 .6 3.1 .2 4.2-.4 1.1-1.8 1.8-2.7 2.6-.9 .8-2.4 1.7-2.9 2M16.2 325.5c.2 .6 1.3 2.3 1.4 3.8 .1 1.5-.9 4-.7 5.3 .2 1.3 1.2 1.6 2 2.3 .8 .6 1.5 1.1 2.8 1.6 1.3 .5 4 1.3 4.8 1.5M23.8 342.2c.3 1.1 1.4 4.3 1.7 6.4 .3 2.1-.5 4.1-.2 6.2 .3 2.1 1 5.2 1.9 6.7 .9 1.5 2.2 1.5 3.3 2.1 1.1 .6 1.7 .9 3.1 1.6 1.4 .7 4.2 2.2 5 2.7M.5 357.8c-.8 .4-3.6 1.7-4.7 2.5-1.1 .8-.9 1.2-1.7 2.5-.9 1.3-2.8 4.3-3.4 5.2" fill="none" stroke="#00dc00" stroke-width="1.9"/><path d="M.5 249.5c4.9 .7 17.7 3.1 29.2 4.2 11.4 1.1 32.9 1.8 39.5 2.1M81.8 257c3.1 .8 9.3 2.8 18.7 5 9.4 2.2 24.3 4.8 37.5 8.3 13.2 3.5 34.8 10.4 41.7 12.5M.5 274.5c3.5 1.4 14.2 7.2 20.8 8.3 6.6 1.1 15.7-1.3 18.8-1.6M56.8 282c2.4 .5 6.5 .7 14.5 2.9 8 2.2 22.3 7.6 33.4 10.4 11.1 2.8 22.2 5.6 33.3 6.3 11.1 .7 27.8-1.7 33.3-2.1M75.5 333.7c2.1 .5 4.9 2.4 12.5 3.3 7.6 .9 23.6 2.8 33.3 2.1 9.7-.7 20.8-5.2 25-6.3M63 187c4.2-.7 19.5-5.6 25-4.2 5.5 1.4 9.7 9 8.3 12.5-1.4 3.5-11.8 7.7-16.6 8.4-4.8 .7-9.7-1.4-12.5-4.2-2.8-2.8-3.5-10.4-4.2-12.5M138 195.3c4.2-.7 19.4-5.5 25-4.1 5.6 1.4 9.7 9 8.3 12.5-1.4 3.5-11.4 7.6-16.6 8.3-5.2 .7-11.8-1.4-14.6-4.2-2.8-2.8-1.8-10.4-2.1-12.5M100.5 195.3c2.1-.7 9.7-5.2 12.5-4.1 2.8 1 5.6 8 4.2 10.4-1.4 2.4-9.7 5.3-12.5 4.2-2.8-1-3.5-8.7-4.2-10.5M71.3 220.3c2.8-.7 13.2-5.5 16.7-4.1 3.5 1.4 6.3 9.7 4.2 12.5-2.1 2.8-13.2 5.5-16.7 4.1-3.5-1.4-3.5-10.4-4.2-12.5M21.3 328.7c.7 1.4 4.2 5.5 4.2 8.3 0 2.8-3.5 6.9-4.2 8.3M8.8 316.2l8.4 4.1M31.5 22.8c1.5-.3 6.7-2.7 8.7-1.8 2 .9 4.2 5.2 3.6 7-.6 1.8-5 3.5-7 3.5-2 0-4.4-2.1-5.3-3.5-.9-1.4 0-4.3 0-5.2M40.2 59.5c.9-.3 4.1-2.6 5.3-1.7 1.2 .9 2.3 5.5 1.7 7-.6 1.4-4 2.6-5.2 1.7-1.2-.9-1.5-5.8-1.8-7M85.8 77c2-1.2 7.2-5.8 12.2-7 5-1.2 13.4-.6 17.5 0 4.1 .6 4.7 1.8 7 3.5 2.3 1.7 7 2.9 7 7 0 4.1-5.5 12.3-7 17.5-1.5 5.2 1.2 12.2-1.7 14-2.9 1.8-10.3-3.5-15.8-3.5-5.5 0-12.8 1.2-17.5 3.5-4.7 2.3-8.5 6.4-10.5 10.5-2 4.1-2.7 11.1-1.8 14 .9 2.9 4.4 1.2 7 3.5 2.6 2.3 6.8 10.5 8.8 10.5 2 0 3.5-7 3.5-10.5 0-3.5-4.1-7.6-3.5-10.5 .6-2.9 3.5-5.3 7-7 3.5-1.7 10.5-1.2 14-3.5 3.5-2.3 5.8-8.8 7-10.5M115.5 71.8c2.3 .9 12.3 2 14 5.2 1.7 3.2-2 9.3-3.5 14-1.5 4.7-4.6 9.3-5.2 14-.6 4.7 2 9.3 1.7 14-.3 4.7-.6 11.1-3.5 14-2.9 2.9-11.7 2.9-14 3.5M133 87.5c1.8-.6 6.4-3.5 10.5-3.5 4.1 0 11.1 1.2 14 3.5 2.9 2.3 4.1 8.2 3.5 10.5-.6 2.3-4.1 3.5-7 3.5-2.9 0-7-4.7-10.5-3.5-3.5 1.2-8.2 6.4-10.5 10.5-2.3 4.1-1.8 10.5-3.5 14-1.7 3.5-5.8 5.8-7 7M91 94.5c1.2-.3 5.2-2.6 7-1.7 1.8 .9 4.1 5.5 3.5 7-.6 1.4-5.3 2.6-7 1.7-1.7-.9-2.9-5.8-3.5-7M101.5 150.5c.6-.3 2.8-2.6 3.5-1.7 .7 .9 1.3 5.6 .9 7-.4 1.4-2.8 2.6-3.5 1.7-.7-.9-.7-5.8-.9-7M87.5 164.5c1.7 .6 6.4 1.7 10.5 3.5 4.1 1.8 9.9 5.2 14 7 4.1 1.8 8.8 2.9 10.5 3.5M73.5 185.5c1.2-.3 5.3-2.9 7-1.7 1.7 1.2 4.1 7 3.5 8.7-.6 1.7-5.2 2.9-7 1.7-1.8-1.2-2.9-7.3-3.5-8.7M127.8 7c.6 0 2.8-1.8 3.4 0 .6 1.8 .6 8.8 0 10.5-.6 1.7-2.8 1.7-3.4 0-.6-1.7 0-8.7 0-10.5M0 36.8c1.2 .3 5.2 2 7 1.7 1.8-.3 2.9-2.9 3.5-3.5M21 40.2c.9 .9 4.6 3.5 5.2 5.3 .6 1.8-1.4 4.4-1.7 5.3M420 94.5c-4.4-.9-17.4-4.4-26.2-5.3-8.7-.9-17.2 .3-26.3 0-9.1-.3-20.4-2-28-1.7-7.6 .3-13.4 1.7-17.5 3.5-4.1 1.8-5.2 4.1-7 7-1.8 2.9-2.6 7-3.5 10.5-.9 3.5-2.3 7.6-1.7 10.5 .6 2.9 3.2 5 5.2 7 2 2 4.4 3.8 7 5.2 2.6 1.4 7.3 2.7 8.8 3.2M332.5 129.5c5.3 0 27.4-1.7 31.5 0 4.1 1.7-6.1 7.3-7 10.5-.9 3.2 .1 5.9 1.8 8.8 1.8 2.9 6.1 4.6 8.7 8.7 2.6 4.1 4.1 11.6 7 15.7 2.9 4.1 7 7.3 10.5 8.8 3.5 1.5 7 2.3 10.5 0 3.5-2.3 9.3-9.9 10.5-14 1.2-4.1-2.9-8.8-3.5-10.5M420 131.2c-1.8 1.2-7.6 4.4-10.5 7-2.9 2.6-5.8 7.3-7 8.8M157.5 289c5.8 .9 20.4 4.5 35 5.2 14.6 .7 43.2 .2 52.5-.8 9.3-1-1.2-4.3 3.5-5.3 4.7-1 16.9-.5 24.5-.9 7.6-.4 13.1-1 21-1.7 7.9-.7 21.8-2.2 26.2-2.6M327.2 283.8c3.8 0 13.2 .9 22.8 0 9.6-.9 26.2-3.5 35-5.3 8.8-1.8 11.7-4.1 17.5-5.3 5.8-1.2 14.6-1.4 17.5-1.7M140 304.8c5.8 .6 23.3 3 35 3.4 11.7 .4 23.3-1 35-.8 11.7 .1 23.3 1.8 35 1.7 11.7-.1 23.3-1.2 35-2.6 11.7-1.4 27.6-4.9 35-6.1 7.4-1.2 8-1.1 9.6-1.3M337.8 299.5c5 .3 17.8 1.7 29.7 1.7 11.9 0 34.4-2.6 42-1.7 7.6 .9 2.9 5.8 3.5 7M140 343.2c3.5 .6 14 2.1 21 3.6 7 1.5 15.2 3.8 21 5.2 5.8 1.4 11.4 2.9 13.7 3.5M213.5 357.2c5.3 .6 21 3.6 31.5 3.6 10.5 0 25.7-2.1 31.5-3.6 5.8-1.5-1.2-4.2 3.5-5.2 4.7-1 18.7 .6 24.5-.9 5.8-1.5 6.4-5.7 10.5-7.9 4.1-2.2 7.6-4 14-5.2 6.4-1.2 20.1-1.5 24.1-1.8M355.2 322.2c.3 1.5-.3 8.2 1.8 8.8 2.1 .6 5.8-5.2 10.5-5.2 4.7 0 11.7 3.2 17.5 5.2 5.8 2 13.4 5.2 17.5 7 4.1 1.8 4.1 3.8 7 3.5 2.9-.3 8.7-4.4 10.5-5.3M192.5 250.5c2.9 2.3 11.7 11.1 17.5 14 5.8 2.9 10.5 2.6 17.5 3.5 7 .9 18.7 2.4 24.5 1.8 5.8-.6 5.8-4.7 10.5-5.3 4.7-.6 13.7 2 17.5 1.7 3.8-.3 2.3-3.4 5.2-3.4 2.9 0 8.5 4.6 12.3 3.4 3.8-1.2 7.6-8.4 10.5-10.4 2.9-2 3.5-.9 7-1.8 3.5-.9 11.1-3.5 14-3.5 2.9 0 1.5 2.6 3.5 3.5 2 .9 6.9 2.7 8.7 1.8 1.7-.9-2.6-5.8 1.8-7 4.4-1.2 11.7 .3 24.5 0 12.8-.3 43.7-1.5 52.5-1.8M140 208.5c2.9-.9 11.7-5 17.5-5.3 5.8-.3 13.4 3.3 17.5 3.6 4.1 .3 5.8-1.5 7-1.8M140 222.5c1.8 1.7 5.8 9.3 10.5 10.5 4.7 1.2 12.3-3.5 17.5-3.5 5.2 0 9.9 3.5 14 3.5 4.1 0 8.8-2.9 10.5-3.5M154 213.8c1.2-.3 5.5-2.4 7-1.8 1.5 .6 2.7 4 1.8 5.2-.9 1.2-5.8 1.5-7 1.8" fill="none" stroke="#000" stroke-width="1.25"/><path d="M.5 378.7c4.2-2.8 16-12.5 25-16.7 9-4.2 22.6-6.2 29.2-8.3 6.6-2.1 8.7-3.5 10.4-4.2M104.7 372.4c2.1-5.9 8.3-24 12.5-35.4 4.2-11.4 6.2-26.4 12.5-33.3 6.2-6.9 16.7-7.3 25-8.4 8.3-1.1 20.8 1.7 25 2.1M46.3 249.5c2.8 2.1 9.7 12.5 16.7 12.5 7 0 18-11.1 25-12.5 7-1.4 9.8 6.3 16.7 4.2 7-2.1 18.1-14.6 25-16.7 6.9-2.1 9.7 1.4 16.6 4.2 6.9 2.8 16.7 11.1 25 12.5 8.3 1.4 20.8-3.5 25-4.2M.5 253.7c2.8 1.4 11.8 4.1 16.7 8.3 4.9 4.2 7.7 12.5 12.5 16.7 4.8 4.2 15.2 4.1 16.6 8.3 1.4 4.2-3.4 15.3-8.3 16.7-4.9 1.4-15.2-4.9-20.8-8.4-5.6-3.5-9.7-8.3-12.5-12.5-2.8-4.2-3.5-10.4-4.2-12.5M4.7 328.7c4.2-.7 19.4-5.6 25-4.2 5.5 1.4 9.7 9 8.3 12.5-1.4 3.5-11.1 7.6-16.7 8.3-5.5 .7-13.8-1.3-16.6-4.1-2.8-2.8 0-10.4 0-12.5M171.3 166.2c1.8 .3 9.1-.1 10.5 2 1.4 2.1-.4 9.1-2.1 10.5-1.8 1.4-7 0-8.4-2.1-1.4-2.1 0-8.7 0-10.4M129.7 157.8c1 2.1 6.2 8.3 6.2 12.5 0 4.2-5.2 10.4-6.2 12.5M.5 228.7c2.8 .7 11.1 1.3 16.7 4.1 5.6 2.8 11.7 9.7 16.6 12.5 4.8 2.8 10.4 3.5 12.5 4.2M.5 78.7c2.8 2.1 11.1 11.1 16.7 12.5 5.6 1.4 11.7-6.3 16.6-4.2 4.8 2.1 8.3 9.8 12.5 16.7 4.2 7 9.7 16 12.5 25 2.8 9 4.2 19.4 4.2 29.1 0 9.7-4.2 20.2-4.2 29.2 0 9 4.9 18.1 4.2 25-.7 6.9-5.5 10.4-8.3 16.7-2.8 6.2-7 17.3-8.4 20.8M108.8 372.4c3.5-3.1 13.2-12.8 20.9-18.7 7.6-5.9 16.7-13.6 25-16.7 8.3-3.1 20.8-1.8 25-2.1M146.3 332.8c2.8-1.4 11.1-6.2 16.7-8.3 5.6-2.1 13.9-3.5 16.7-4.2M196.3 249.5c2.1 1.4 8.3 8.3 12.5 8.3 4.2 0 9-6.2 12.5-8.3 3.5-2.1 7-3.5 8.4-4.2M15.8 3.5c2 1.2 9 7 12.2 7 3.2 0 4.7-6.7 7-7 2.3-.3 5.2 2.4 7 5.3 1.8 2.9 1.8 9.6 3.5 12.2 1.7 2.6 4.7 3.5 7 3.5 2.3 0 4.7-4.7 7-3.5 2.3 1.2 4.7 6.4 7 10.5 2.3 4.1 6.1 9.3 7 14 .9 4.7-1.1 9.3-1.7 14-.6 4.7-2.7 9.3-1.8 14 .9 4.7 4.7 9.9 7 14 2.3 4.1 5.2 7 7 10.5 1.8 3.5 4.1 7.6 3.5 10.5-.6 2.9-4.7 7.6-7 7-2.3-.6-4.7-6.4-7-10.5-2.3-4.1-4.7-9.3-7-14-2.3-4.7-4.7-9.9-7-14-2.3-4.1-4.7-7-7-10.5-2.3-3.5-5.5-6.4-7-10.5-1.5-4.1-2-9.9-1.7-14 .3-4.1 4-7.6 3.4-10.5-.6-2.9-5.8-5.8-7-7M0 47.2c1.2 .9 4.7 2.1 7 5.3 2.3 3.2 4.4 9.9 7 14 2.6 4.1 6.5 7 8.8 10.5 2.3 3.5 3.2 7 5.2 10.5 2 3.5 4.7 7 7 10.5 2.3 3.5 4.7 8.2 7 10.5 2.3 2.3 6.4 1.2 7 3.5 .6 2.3-3.8 7-3.5 10.5 .3 3.5 3.5 7.6 5.3 10.5 1.7 2.9 4.9 3.5 5.2 7 .3 3.5-2.3 9.9-3.5 14-1.2 4.1-4.1 7-3.5 10.5 .6 3.5 5.2 5.8 7 10.5 1.8 4.7 2.6 11.7 3.5 17.5 .9 5.8 1.4 14.6 1.7 17.5M157.5 24.5c1.2-1.2 4.1-4.7 7-7 2.9-2.3 7.6-4.9 10.5-7 2.9-2.1 7-4.1 7-5.3 0-1.2-4.1-2.6-7-1.7-2.9 .9-7.6 4.7-10.5 7-2.9 2.3-5.8 4.7-7 7-1.2 2.3 0 5.8 0 7M155.8 185.5c1.4-.6 5.5-4.1 8.7-3.5 3.2 .6 7 5.2 10.5 7 3.5 1.8 7 3.5 10.5 3.5 3.5 0 7.6-1.7 10.5-3.5 2.9-1.8 4.7-4.7 7-7 2.3-2.3 4.1-6.1 7-7 2.9-.9 9.3 .1 10.5 1.8 1.2 1.8-4.7 6.7-3.5 8.7 1.2 2 6.4 3.5 10.5 3.5 4.1 0 9.9-1.2 14-3.5 4.1-2.3 6.4-9.3 10.5-10.5 4.1-1.2 9.3 1.8 14 3.5 4.7 1.7 11.7 5.8 14 7M178.5 82.2c.9-.6 4.1-4.9 5.3-3.4 1.2 1.5 2.3 9 1.7 12.2-.6 3.2-4.1 8.5-5.3 7-1.2-1.5-1.4-13.2-1.7-15.8M87.5 82.2c1.2-.6 5.3-4.3 7-3.4 1.7 .9 4.1 7 3.5 8.7-.6 1.7-5.2 2.6-7 1.7-1.8-.9-2.9-5.8-3.5-7M129.5 157.5c.9-.3 4.7-4 5.3-1.7 .6 2.3-.6 11.3-1.8 15.7-1.2 4.4-3.4 8.4-5.2 10.5-1.8 2.1-4.4 1.5-5.3 1.8M101.5 180.2c1.7-.3 9-3.2 10.5-1.7 1.5 1.5-.3 8.4-1.8 10.5-1.5 2.1-5.5 3.3-7 1.8-1.4-1.5-1.4-8.8-1.7-10.6M173.2 168c1.2-.3 5.5-3 7-1.8 1.5 1.2 2.4 6.7 1.8 8.8-.6 2.1-3.7 4.7-5.2 3.5-1.5-1.2-3-8.7-3.6-10.5M136.5 189c1.7-.3 8.2-2.4 10.5-1.8 2.3 .6 4.1 3.2 3.5 5.3-.6 2.1-4.7 6.4-7 7-2.3 .6-5.8-1.7-7-3.5-1.2-1.8 0-5.8 0-7M222.2 122.5c.9-.6 3.8-4.7 5.3-3.5 1.5 1.2 4.1 8.5 3.5 10.5-.6 2-5.5 2.9-7 1.7-1.5-1.2-1.5-7.2-1.8-8.7M66.5 17.5c.3 0 1.7-.4 2.1 0 .3 .4 .3 1.7 0 2.1-.4 .4-1.8 .4-2.1 0-.3-.4 0-1.7 0-2.1M117.2 51.6c.3 0 1.8-.4 2.1 0 .3 .4 .3 1.8 0 2.1-.3 .4-1.8 .4-2.1 0-.3-.3 0-1.7 0-2.1M199.5 0c-.3 1.8-.3 7-1.7 10.5-1.4 3.5-3.2 7.3-7 10.5-3.8 3.2-11.1 5.6-15.8 8.8-4.7 3.2-9.3 5.7-12.2 10.4-2.9 4.7-4.7 11.8-5.3 17.6-.6 5.8 .8 11.9 1.7 17.4 .9 5.5 2.7 10.3 3.6 15.8 .9 5.5 2 12.2 1.7 17.5-.3 5.3-3.8 9.3-3.5 14 .3 4.7 4.9 9.3 5.2 14 .3 4.7-2.2 9.1-3.4 14-1.2 4.9-1.6 11.6-3.6 15.7-2.1 4.1-6.7 5.9-8.7 8.8-2 2.9-2.9 7.3-3.5 8.8M234.5 63c1.7-1.2 6.4-5 10.5-7 4.1-2 11.1-5.2 14-5.2 2.9 0 4.7 3.7 3.5 5.2-1.2 1.5-7 1.2-10.5 3.5-3.5 2.3-9.3 6.7-10.5 10.5-1.2 3.8 3.2 8.1 3.5 12.2 .3 4.1-.9 7.3-1.8 12.3-.9 5-3.7 12.8-3.4 17.5 .3 4.7 2.9 7.9 5.2 10.5 2.3 2.6 5.9 2.7 8.8 5.3 2.9 2.6 5.5 7.5 8.7 10.4 3.2 2.9 7 5.8 10.5 7 3.5 1.2 8.2 2 10.5 0 2.3-2 1.7-7.8 3.5-12.2 1.8-4.4 6.7-10.5 7-14 .3-3.5-2.9-5-5.2-7-2.3-2-8.8-1.7-8.8-5.2 0-3.5 7.6-10.3 8.8-15.8 1.2-5.5-2.4-13.1-1.8-17.5 .6-4.4 2.3-5.8 5.2-8.7 2.9-2.9 9.7-6.8 12.3-8.8 2.6-2 2.9-2.9 3.5-3.5M290.5 119c1.2-.3 4.7-3.5 7-1.8 2.3 1.8 4.7 7.6 7 12.3 2.3 4.7 4.9 10.4 7 15.7 2.1 5.2 3 11.1 5.3 15.8 2.3 4.7 6.7 9 8.7 12.2 2 3.2 4.7 4.1 3.5 7-1.2 2.9-7 7.7-10.5 10.6-3.5 2.9-8.2 3.8-10.5 7-2.3 3.2-2.9 10.2-3.5 12.2M252 173.2c1.8 .3 7 .3 10.5 1.8 3.5 1.5 7.6 5.5 10.5 7 2.9 1.5 5.2 3 7 1.8 1.8-1.2 2.9-5.6 3.5-8.8 .6-3.2 .6-7 0-10.5-.6-3.5-4.1-7.9-3.5-10.5 .6-2.6 5.8-4.3 7-5.2M337.8 70c1.2-2 6.1-8.7 7-12.2 .9-3.5-4.1-6.2-1.8-8.8 2.3-2.6 12.6-4.1 15.8-7 3.2-2.9 2-9.3 3.4-10.5 1.4-1.2 5 .6 5.3 3.5 .3 2.9-4.7 11.1-3.5 14 1.2 2.9 7 1.8 10.5 3.5 3.5 1.7 6.7 6.1 10.5 7 3.8 .9 8.7-.3 12.2-1.7 3.5-1.5 9.1-5 8.8-7-.3-2-9.9-3.3-10.5-5.3-.6-2 4.1-5.3 7-7 2.9-1.7 8.2-1.7 10.5-3.5 2.3-1.8 2.9-5.8 3.5-7M337.8 70c.6 1.5 1.4 7.6 3.4 8.8 2 1.2 6.5-.9 8.8-1.8 2.3-.9 2.9-3.5 5.2-3.5 2.3 0 7.9 1.2 8.8 3.5 .9 2.3-2.3 7-3.5 10.5-1.2 3.5-1.2 7.6-3.5 10.5-2.3 2.9-7.3 7-10.5 7-3.2 0-8.1-4.7-8.7-7-.6-2.3 3.2-6.4 5.2-7 2-.6 5.8 2.9 7 3.5M346.5 108.5c1.7 1.2 7 4.7 10.5 7 3.5 2.3 7.6 6.4 10.5 7 2.9 .6 3.5-4.1 7-3.5 3.5 .6 11.1 5 14 7 2.9 2 4.7 3.4 3.5 5.2-1.2 1.7-8.2 2.7-10.5 5.3-2.3 2.6-4.1 7.6-3.5 10.5 .6 2.9 3.5 5.8 7 7 3.5 1.2 9.3-1.2 14 0 4.7 1.2 10.5 6.4 14 7 3.5 .6 5.8-2.9 7-3.5M357 140c.6 1.8 1.8 7.6 3.5 10.5 1.7 2.9 6.4 4.4 7 7 .6 2.6-1.7 7.5-3.5 8.7-1.8 1.2-5.8 2.7-7-1.7-1.2-4.4 0-20.4 0-24.5M372.8 157.5c.9 1.7 2.6 8.2 5.2 10.5 2.6 2.3 9.3 4.7 10.5 3.5 1.2-1.2-.9-8.2-3.5-10.5-2.6-2.3-10.2-2.9-12.2-3.5M402.5 175c1.7-.6 8.7-5.2 10.5-3.5 1.8 1.7 1.2 10.5 0 14-1.2 3.5-5.2 8.7-7 7-1.8-1.7-2.9-14.6-3.5-17.5M369.2 21c1.5-.3 7-2.7 8.8-1.8 1.8 .9 2.4 5.2 1.8 7-.6 1.8-3.5 4.5-5.3 3.6-1.8-.9-4.4-7.3-5.3-8.8M329 52.5c.6-.3 2.8-2.6 3.5-1.7 .7 .9 1.3 5.5 .9 7-.4 1.4-2.8 2.6-3.5 1.7-.7-.9-.8-5.8-.9-7M285.2 28c1.5-.3 7-2.7 8.8-1.8 1.8 .9 2.7 5.2 1.8 7-.9 1.8-5.2 4.5-7 3.6-1.8-.9-3-7.3-3.6-8.8M262.5 31.5c.6 1.5 2.3 6.7 3.5 8.7 1.2 2 3.2 5 3.5 3.6 .3-1.5-.5-10.3-1.7-12.3-1.2-2.1-4.4 0-5.3 0M273 14c.9-.6 4.3-4.7 5.2-3.5 .9 1.2 .6 8.4 0 10.5-.6 2.1-2.5 3-3.4 1.8-.9-1.2-1.5-7.3-1.8-8.8M315 10.5c.9 1.2 2.9 6.1 5.2 7 2.3 .9 6.7-3.4 8.8-1.7 2.1 1.8 4.4 9 3.5 12.2-.9 3.2-5.5 5.5-8.7 7-3.2 1.5-8.8 1.5-10.6 1.8M178.5 168c.6 1.2 3.5 5.2 3.5 7 0 1.8-2 4.4-3.5 3.5-1.5-.9-5.3-6.9-5.3-8.7 0-1.7 4.4-1.5 5.3-1.8M157.5 17.5c2.3-.6 10.2-1.7 14-3.5 3.8-1.8 6.6-6.4 8.7-7 2-.6 4.8 .9 3.6 3.5-1.2 2.6-6.5 9.7-10.6 12.3-4.1 2.6-11.4 4.3-14 3.4-2.6-.9-1.4-7.3-1.7-8.7M180.2 78.8c.9 .6 4.7 .2 5.3 3.4 .6 3.2-.7 13.8-1.7 15.8-1 2-3.8-.3-4.4-3.5-.6-3.2 .7-13.1 .8-15.7M224 175c1.2 1.2 4.7 4.1 7 7 2.3 2.9 4.7 9 7 10.5 2.3 1.5 4.7 1.5 7-1.7 2.3-3.2 5.8-14.7 7-17.6M206.5 175c1.2-.6 4.1-3.5 7-3.5 2.9 0 9.3 1.2 10.5 3.5 1.2 2.3-1.2 9-3.5 10.5-2.3 1.5-8.2 .1-10.5-1.7-2.3-1.7-2.9-7.3-3.5-8.8M201.2 3.5l12.3-3.5M315 0c1.2 1.2 4.1 6.4 7 7 2.9 .6 8.8-2.9 10.5-3.5M199.5 215.5c1.2-1.2 4.7-4.9 7-7 2.3-2.1 5.3-3 7-5.3 1.7-2.3 .6-7.8 3.5-8.7 2.9-.9 9.3 3.5 14 3.5 4.7 0 10.5 .6 14-3.5 3.5-4.1 3.5-18.4 7-21 3.5-2.6 9.3 3.3 14 5.3 4.7 2.1 10.8 7.9 14 7 3.2-.9 5.2-8.5 5.2-12.3 0-3.8-4.3-8.7-5.2-10.5M252 231.2c1.8-.3 7-2.6 10.5-1.7 3.5 .9 9.1 7.9 10.5 7 1.4-.9-3.6-10.9-1.8-12.3 1.7-1.4 6.7 3.3 12.3 3.6 5.6 .3 15.7 .5 21-1.8 5.3-2.3 9.9-8.1 10.5-12.2 .6-4.1-5.2-9.7-7-12.3-1.8-2.6-4.7-2.1-3.5-3.5 1.2-1.4 7-3.2 10.5-5.2 3.5-2 8.2-4.9 10.5-7 2.3-2 3.8-3.2 3.5-5.3-.3-2.1-4.6-4.1-5.2-7-.6-2.9 1.4-8.7 1.7-10.5M252 231.2c-1.2 1.5-4.1 7.6-7 8.8-2.9 1.2-7.6-2.7-10.5-1.8-2.9 .9-4.9 4.9-7 7-2.1 2-2.4 3.8-5.3 5.3-2.9 1.5-9.7 2.2-12.2 3.5-2.5 1.3-2.2 3.7-2.6 4.4M196.9 257.5c-.7-1.2-2.5-7-4.4-7-1.9 0-5.3 4.1-7 7-1.7 2.9-1.2 7.6-3.5 10.5-2.3 2.9-7 6.4-10.5 7-3.5 .6-7-3.8-10.5-3.5-3.5 .3-7 4.7-10.5 5.3-3.5 .6-8.7-1.5-10.5-1.8M372.8 248.8c.3-1.5 2.3-5.9 1.7-8.8-.6-2.9-5-4.7-5.3-8.8-.3-4.1 4.5-12.2 3.6-15.7-.9-3.5-4.4-5.9-8.8-5.3-4.4 .6-12.2 5-17.5 8.8-5.3 3.8-10.5 9.9-14 14-3.5 4.1-4.1 7.3-7 10.5-2.9 3.2-7.7 6.5-10.5 8.7-2.8 2.2-5.1 3.7-6.1 4.4M308 268c-1.2 1.2-7 5-7 7 0 2 7.6 3.7 7 5.2-.6 1.5-5.8 3.3-10.5 3.6-4.7 .3-12.3-.6-17.5-1.8-5.2-1.2-11.7-5.2-14-5.2-2.3 0-1.8 2.9 0 5.2 1.8 2.3 7.3 5.3 10.5 8.8 3.2 3.5 8.7 9.6 8.7 12.2 0 2.6-6.2 3.3-8.7 3.5-2.5 .2-5.1-1.7-6.1-2.1M262.5 313.5c-2.9-.6-11.1-1.7-17.5-3.5-6.4-1.8-14-5-21-7-7-2-14.3-3.7-21-5.2-6.7-1.5-12.2-3-19.2-3.6-7-.6-15.5-.9-22.8 0-7.3 .9-17.5 4.4-21 5.3M140 343.2c1.8-1.7 5.8-7.5 10.5-10.4 4.7-2.9 11.7-4.9 17.5-7 5.8-2 12.8-3.9 17.5-5.3 4.7-1.4 9-2.6 10.8-3.1M209.1 317c3.7 .3 14.7 .9 21.9 1.8 7.2 .9 14.6 2.2 21 3.4 6.4 1.2 12.2 2.4 17.5 3.6 5.3 1.2 12.3 4 14 3.4 1.7-.6-5.8-6.1-3.5-7 2.3-.9 11.7 2.1 17.5 1.8 5.8-.3 12.3-2.3 17.5-3.5 5.2-1.2 10.2-1.2 14-3.5 3.8-2.3 5.7-8.6 8.8-10.5 3.1-1.9 8-.7 9.6-.9M359.6 302.1c2.8-.4 11.8 .2 16.6-2.6 4.8-2.8 10.2-9.9 12.3-14 2.1-4.1-2.3-7.9 0-10.5 2.3-2.6 9.9-2.9 14-5.2 4.1-2.3 7.6-6.7 10.5-8.8 2.9-2.1 5.8-2.9 7-3.5M185.5 352c2.9-.9 12.3-3.4 17.5-5.2 5.2-1.7 10.5-2.7 14-5.3 3.5-2.6 3.5-9.6 7-10.5 3.5-.9 8.8 3.4 14 5.2 5.2 1.7 13.7 4.2 17.5 5.3 3.8 1.1 4.4 1.2 5.3 1.4M266.9 343.2c5.1 .6 21.4 2.4 30.6 3.6 9.2 1.2 16.3 2.2 24.5 3.4 8.2 1.2 19.2 3.6 24.5 3.6 5.3 0 4.1-3.9 7-3.6 2.9 .3 7 4.1 10.5 5.3 3.5 1.2 7 1.7 10.5 1.7 3.5 0 8.2 .3 10.5-1.7 2.3-2 1.8-7.6 3.5-10.5 1.7-2.9 3.5-5.2 7-7 3.5-1.8 11.1-.6 14-3.5 2.9-2.9 4.1-10.5 3.5-14-.6-3.5-7-3.5-7-7 0-3.5 4.7-11.4 7-14 2.3-2.6 5.8-1.4 7-1.7M185.5 352c1.2 1.8 3.5 7 7 10.5 3.5 3.5 11.7 8.7 14 10.5M140 373c2.9-.6 11.7-2 17.5-3.5 5.8-1.5 12.8-3.6 17.5-5.3 4.7-1.8 8.8-4.3 10.5-5.2M381.5 191c1.2 2.3 6.1 9.9 7 14 .9 4.1-3.4 6.4-1.7 10.5 1.8 4.1 11.9 9.9 12.2 14 .3 4.1-6.4 7.6-10.5 10.5-4.1 2.9-11.7 5.8-14 7M374.5 163c1.2 1.8 4.1 7.6 7 10.5 2.9 2.9 5.8 6.1 10.5 7 4.7 .9 13.4 .1 17.5-1.7 4.1-1.7 5.8-7.3 7-8.8M362.2 191c1.2 .3 6.1 .9 7 1.8 .9 .9-.7 3.1-1.7 3.4-1 .3-3.5-.8-4.4-1.7-.9-.9-.7-2.9-.9-3.5M252 373c3.5-.9 13.4-4 21-5.2 7.6-1.2 17.5-2.7 24.5-1.8 7 .9 14.6 5.8 17.5 7M392 355.5c1.8-1.2 7-7 10.5-7 3.5 0 7.6 4.1 10.5 7 2.9 2.9 5.8 8.7 7 10.5M173.2 166.5c1.2 .3 5.5-.1 7 1.7 1.5 1.7 2.4 7 1.8 8.8-.6 1.8-3.7 3.6-5.2 1.8-1.5-1.7-3-10.2-3.6-12.3M150.5 177c1.4-.6 6.9-4.4 8.7-3.5 1.7 .9 3 6.9 1.8 8.7-1.2 1.7-7.3 1.5-8.8 1.8M161 236.5c2.3-.6 8.8-3.2 14-3.5 5.2-.3 13.7 .3 17.5 1.8 3.8 1.5 5.9 5.3 5.3 7-.6 1.7-5 3.4-8.8 3.4-3.8 0-9.6-3.4-14-3.4-4.4 0-9.9 4.3-12.2 3.4-2.3-.9-1.5-7.3-1.8-8.7" fill="none" stroke="#00dc00" stroke-width="2.1" stroke-linejoin="round"/><text x="92.2" y="246.2" class="cl" text-anchor="middle" style="fill:#00dc00">18</text><text x="171.3" y="250.4" class="cl" text-anchor="middle" style="fill:#00dc00">18</text><text x="163" y="154.6" class="cl" text-anchor="middle" style="fill:#00dc00">21</text><text x="17.2" y="87.9" class="cl" text-anchor="middle" style="fill:#00dc00">21</text><text x="35.9" y="169.2" class="cl" text-anchor="middle" style="fill:#00dc00">21</text><text x="69.2" y="354.6" class="cl" text-anchor="middle" style="fill:#00dc00">15</text><text x="31.8" y="27.5" class="cl" text-anchor="middle" style="fill:#00dc00">15</text><text x="52.6" y="85.8" class="cl" text-anchor="middle" style="fill:#00dc00">18</text><text x="67.2" y="221.2" class="cl" text-anchor="middle" style="fill:#00dc00">18</text><text x="29.7" y="327.5" class="cl" text-anchor="middle" style="fill:#00dc00">18</text><text x="38" y="275.4" class="cl" text-anchor="middle" style="fill:#00dc00">21</text><text x="31.8" y="201.7" class="cl" text-anchor="middle" style="fill:#00dc00">18</text><text x="67.2" y="52.5" class="cl" text-anchor="middle" style="fill:#00dc00">15</text><text x="17.2" y="371.2" class="cl" text-anchor="middle" style="fill:#00dc00">12</text><text x="75.5" y="259.6" class="cl" text-anchor="middle">-9</text><text x="47.6" y="285" class="cl" text-anchor="middle">-12</text><text x="67.2" y="335" class="cl" text-anchor="middle">-15</text><text x="98.4" y="201.7" class="cl" text-anchor="middle">-6</text><text x="69.2" y="75.4" class="cl" text-anchor="middle">-6</text><text x="88" y="119.2" class="cl" text-anchor="middle">-6</text><text x="29.7" y="19.2" class="cl" text-anchor="middle">-6</text><text x="194.2" y="26.6" class="cl" text-anchor="middle" style="fill:#00dc00">21</text><text x="270.4" y="66.9" class="cl" text-anchor="middle" style="fill:#00dc00">21</text><text x="252" y="126.4" class="cl" text-anchor="middle" style="fill:#00dc00">21</text><text x="162.8" y="153.5" class="cl" text-anchor="middle" style="fill:#00dc00">21</text><text x="218.8" y="183.2" class="cl" text-anchor="middle" style="fill:#00dc00">21</text><text x="241.5" y="197.2" class="cl" text-anchor="middle" style="fill:#00dc00">21</text><text x="320.2" y="171" class="cl" text-anchor="middle" style="fill:#00dc00">18</text><text x="311.5" y="48.5" class="cl" text-anchor="middle" style="fill:#00dc00">15</text><text x="357" y="74.8" class="cl" text-anchor="middle" style="fill:#00dc00">15</text><text x="384.1" y="68.6" class="cl" text-anchor="middle" style="fill:#00dc00">15</text><text x="353.5" y="116.8" class="cl" text-anchor="middle" style="fill:#00dc00">15</text><text x="385.9" y="148.2" class="cl" text-anchor="middle" style="fill:#00dc00">15</text><text x="375.4" y="158.8" class="cl" text-anchor="middle" style="fill:#00dc00">15</text><text x="259" y="237.8" class="cl" text-anchor="middle" style="fill:#00dc00">18</text><text x="202.1" y="263.1" class="cl" text-anchor="middle" style="fill:#00dc00">18</text><text x="172.4" y="251.8" class="cl" text-anchor="middle" style="fill:#00dc00">18</text><text x="302.8" y="264.9" class="cl" text-anchor="middle" style="fill:#00dc00">15</text><text x="264.6" y="308.6" class="cl" text-anchor="middle" style="fill:#00dc00">15</text><text x="369.2" y="258.8" class="cl" text-anchor="middle" style="fill:#00dc00">15</text><text x="203" y="320.9" class="cl" text-anchor="middle" style="fill:#00dc00">12</text><text x="353.5" y="309.9" class="cl" text-anchor="middle" style="fill:#00dc00">12</text><text x="263.9" y="347.1" class="cl" text-anchor="middle" style="fill:#00dc00">9</text><text x="241.5" y="197.5" class="cl" text-anchor="middle" style="fill:#00dc00">21</text><text x="219.6" y="182.6" class="cl" text-anchor="middle" style="fill:#00dc00">21</text><text x="320.2" y="170.4" class="cl" text-anchor="middle" style="fill:#00dc00">18</text><text x="329" y="138.1" class="cl" text-anchor="middle">-3</text><text x="323.8" y="286.8" class="cl" text-anchor="middle">-9</text><text x="331.1" y="302.9" class="cl" text-anchor="middle">-12</text><text x="203.9" y="360.2" class="cl" text-anchor="middle">-15</text><text x="361.4" y="340.5" class="cl" text-anchor="middle">-15</text><text x="417.4" y="98.9" class="cl" text-anchor="middle">-3</text>
</g>
<rect x="0" y="0" width="420" height="373" fill="none" stroke="#000" stroke-width="2"/>
<path d="M-4,23.2h4M-4,58.1h4M-4,93h4M-4,127.9h4M-4,162.8h4M-4,197.6h4M-4,232.5h4M-4,267.4h4M-4,302.2h4M-4,337.1h4M-4,372h4M0,373v4M50,373v4M100,373v4M150,373v4M200,373v4M250,373v4M300,373v4M350,373v4M400,373v4" stroke="#000" stroke-width="1.8" fill="none"/>
<text x="-5.8" y="27.1" class="tk" text-anchor="end" textLength="17.5" lengthAdjust="spacingAndGlyphs">12S</text>
<text x="-5.8" y="62" class="tk" text-anchor="end" textLength="17.5" lengthAdjust="spacingAndGlyphs">15S</text>
<text x="-5.8" y="96.9" class="tk" text-anchor="end" textLength="17.5" lengthAdjust="spacingAndGlyphs">18S</text>
<text x="-5.8" y="131.8" class="tk" text-anchor="end" textLength="17.5" lengthAdjust="spacingAndGlyphs">21S</text>
<text x="-5.8" y="166.7" class="tk" text-anchor="end" textLength="17.5" lengthAdjust="spacingAndGlyphs">24S</text>
<text x="-5.8" y="201.5" class="tk" text-anchor="end" textLength="17.5" lengthAdjust="spacingAndGlyphs">27S</text>
<text x="-5.8" y="236.4" class="tk" text-anchor="end" textLength="17.5" lengthAdjust="spacingAndGlyphs">30S</text>
<text x="-5.8" y="271.3" class="tk" text-anchor="end" textLength="17.5" lengthAdjust="spacingAndGlyphs">33S</text>
<text x="-5.8" y="306.1" class="tk" text-anchor="end" textLength="17.5" lengthAdjust="spacingAndGlyphs">36S</text>
<text x="-5.8" y="341" class="tk" text-anchor="end" textLength="17.5" lengthAdjust="spacingAndGlyphs">39S</text>
<text x="-5.8" y="375.9" class="tk" text-anchor="end" textLength="17.5" lengthAdjust="spacingAndGlyphs">42S</text>
<text x="0.4" y="385.6" class="tk" text-anchor="middle" textLength="18.3" lengthAdjust="spacingAndGlyphs">70W</text>
<text x="50.4" y="385.6" class="tk" text-anchor="middle" textLength="18.3" lengthAdjust="spacingAndGlyphs">65W</text>
<text x="100.4" y="385.6" class="tk" text-anchor="middle" textLength="18.3" lengthAdjust="spacingAndGlyphs">60W</text>
<text x="150.4" y="385.6" class="tk" text-anchor="middle" textLength="18.3" lengthAdjust="spacingAndGlyphs">55W</text>
<text x="200.4" y="385.6" class="tk" text-anchor="middle" textLength="18.3" lengthAdjust="spacingAndGlyphs">50W</text>
<text x="250.4" y="385.6" class="tk" text-anchor="middle" textLength="18.3" lengthAdjust="spacingAndGlyphs">45W</text>
<text x="300.4" y="385.6" class="tk" text-anchor="middle" textLength="18.3" lengthAdjust="spacingAndGlyphs">40W</text>
<text x="350.4" y="385.6" class="tk" text-anchor="middle" textLength="18.3" lengthAdjust="spacingAndGlyphs">35W</text>
<text x="400.4" y="385.6" class="tk" text-anchor="middle" textLength="18.3" lengthAdjust="spacingAndGlyphs">30W</text>
</g>
<rect x="1087.5" y="1119" width="416" height="48" fill="#fff" stroke="#000" stroke-width="1.5"/>
<text x="1107.5" y="1138.3" class="lg" textLength="377.3" lengthAdjust="spacingAndGlyphs">[OMEGA(-0.001)+UR&gt;70(1000-500)+k&lt;60+TTS&gt;52+VT&gt;25+SWEAT&gt;220+LIF&lt;-2](azul)</text>
<text x="1140.5" y="1151.2" class="lg" textLength="311.5" lengthAdjust="spacingAndGlyphs">[Temp(500)](preto) + [Temp(850)](verde) + [OMEGA(500)&lt;-2](laranja)</text>
</svg></body></html>
